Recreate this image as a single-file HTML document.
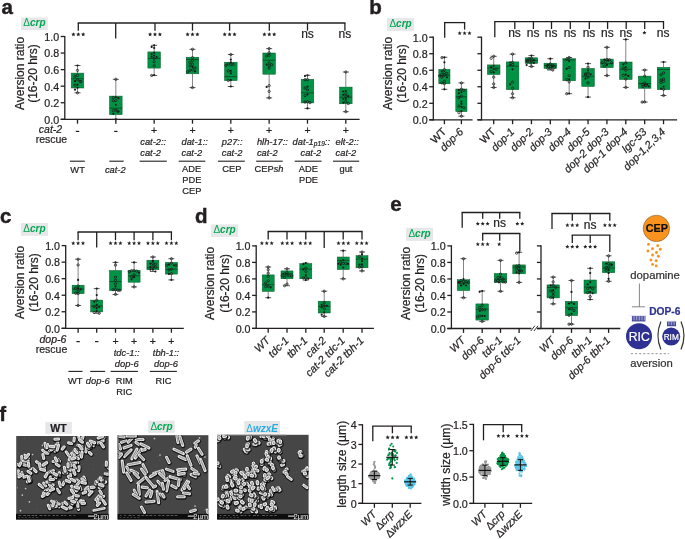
<!DOCTYPE html>
<html><head><meta charset="utf-8"><style>
html,body{margin:0;padding:0;background:#fff;}
svg{display:block;font-family:"Liberation Sans",sans-serif;will-change:transform;}
</style></head><body>
<svg width="685" height="539" viewBox="0 0 685 539">
<defs><filter id="semblur" x="-5%" y="-5%" width="110%" height="110%"><feGaussianBlur stdDeviation="0.35"/></filter></defs>
<text x="1.4" y="13.9" font-size="20.5" text-anchor="start" font-weight="bold" fill="#231f20" stroke="#231f20" stroke-width="0.45">a</text>
<rect x="21.1" y="17.5" width="26.6" height="12.6" fill="#e6e7e8"/>
<text x="34.4" y="26.3" font-size="10" text-anchor="middle" font-weight="bold" fill="#00a651"><tspan font-style="normal" font-weight="normal">&#916;</tspan><tspan font-style="italic">crp</tspan></text>
<text transform="translate(23.6,73.5) rotate(-90)" font-size="12" text-anchor="middle" fill="#231f20" stroke="#231f20" stroke-width="0.22">Aversion ratio</text>
<text transform="translate(37.2,73.5) rotate(-90)" font-size="12" text-anchor="middle" fill="#231f20" stroke="#231f20" stroke-width="0.22">(16-20 hrs)</text>
<line x1="64.8" y1="35.9" x2="64.8" y2="119.9" stroke="#231f20" stroke-width="1.3"/>
<line x1="60.7" y1="119.3" x2="64.8" y2="119.3" stroke="#231f20" stroke-width="1.3"/>
<text x="59.1" y="123.65" font-size="10.7" text-anchor="end" fill="#231f20" stroke="#231f20" stroke-width="0.22">0.0</text>
<line x1="60.7" y1="102.74" x2="64.8" y2="102.74" stroke="#231f20" stroke-width="1.3"/>
<text x="59.1" y="107.09" font-size="10.7" text-anchor="end" fill="#231f20" stroke="#231f20" stroke-width="0.22">0.2</text>
<line x1="60.7" y1="86.18" x2="64.8" y2="86.18" stroke="#231f20" stroke-width="1.3"/>
<text x="59.1" y="90.53" font-size="10.7" text-anchor="end" fill="#231f20" stroke="#231f20" stroke-width="0.22">0.4</text>
<line x1="60.7" y1="69.62" x2="64.8" y2="69.62" stroke="#231f20" stroke-width="1.3"/>
<text x="59.1" y="73.97" font-size="10.7" text-anchor="end" fill="#231f20" stroke="#231f20" stroke-width="0.22">0.6</text>
<line x1="60.7" y1="53.06" x2="64.8" y2="53.06" stroke="#231f20" stroke-width="1.3"/>
<text x="59.1" y="57.41" font-size="10.7" text-anchor="end" fill="#231f20" stroke="#231f20" stroke-width="0.22">0.8</text>
<line x1="60.7" y1="36.5" x2="64.8" y2="36.5" stroke="#231f20" stroke-width="1.3"/>
<text x="59.1" y="40.85" font-size="10.7" text-anchor="end" fill="#231f20" stroke="#231f20" stroke-width="0.22">1.0</text>
<line x1="60.7" y1="119.3" x2="359.6" y2="119.3" stroke="#231f20" stroke-width="1.3"/>
<line x1="77.5" y1="119.3" x2="77.5" y2="123.7" stroke="#231f20" stroke-width="1.3"/>
<line x1="115.83" y1="119.3" x2="115.83" y2="123.7" stroke="#231f20" stroke-width="1.3"/>
<line x1="154.16" y1="119.3" x2="154.16" y2="123.7" stroke="#231f20" stroke-width="1.3"/>
<line x1="192.49" y1="119.3" x2="192.49" y2="123.7" stroke="#231f20" stroke-width="1.3"/>
<line x1="230.82" y1="119.3" x2="230.82" y2="123.7" stroke="#231f20" stroke-width="1.3"/>
<line x1="269.15" y1="119.3" x2="269.15" y2="123.7" stroke="#231f20" stroke-width="1.3"/>
<line x1="307.48" y1="119.3" x2="307.48" y2="123.7" stroke="#231f20" stroke-width="1.3"/>
<line x1="345.81" y1="119.3" x2="345.81" y2="123.7" stroke="#231f20" stroke-width="1.3"/>
<line x1="77.5" y1="65.5" x2="77.5" y2="73.1" stroke="#333" stroke-width="0.6"/>
<line x1="77.5" y1="88" x2="77.5" y2="92.8" stroke="#333" stroke-width="0.6"/>
<line x1="74.5" y1="65.5" x2="80.5" y2="65.5" stroke="#333" stroke-width="0.8"/>
<line x1="74.5" y1="92.8" x2="80.5" y2="92.8" stroke="#333" stroke-width="0.8"/>
<rect x="71.2" y="73.1" width="12.6" height="14.9" fill="#009245" stroke="#0a5a2a" stroke-width="0.5"/>
<line x1="71.2" y1="78.8" x2="83.8" y2="78.8" stroke="#0a3a1a" stroke-width="0.7"/>
<circle cx="77.5" cy="65.5" r="1.1" fill="#1a1a1a"/>
<circle cx="77.5" cy="70.4" r="1.15" fill="none" stroke="#1a1a1a" stroke-width="0.75"/>
<circle cx="77.5" cy="75.43" r="1.15" fill="none" stroke="#1a1a1a" stroke-width="0.75"/>
<circle cx="75" cy="76.25" r="1.15" fill="none" stroke="#1a1a1a" stroke-width="0.75"/>
<circle cx="77.5" cy="79.74" r="1.15" fill="none" stroke="#1a1a1a" stroke-width="0.75"/>
<circle cx="75" cy="81.17" r="1.1" fill="#1a1a1a"/>
<circle cx="80" cy="81.49" r="1.15" fill="none" stroke="#1a1a1a" stroke-width="0.75"/>
<circle cx="80.86" cy="81.64" r="1.15" fill="none" stroke="#1a1a1a" stroke-width="0.75"/>
<circle cx="77.5" cy="84.65" r="1.1" fill="#1a1a1a"/>
<circle cx="75" cy="85.12" r="1.15" fill="none" stroke="#1a1a1a" stroke-width="0.75"/>
<circle cx="77.5" cy="87.84" r="1.1" fill="#1a1a1a"/>
<circle cx="75" cy="89.64" r="1.1" fill="#1a1a1a"/>
<circle cx="77.5" cy="92.8" r="1.15" fill="none" stroke="#1a1a1a" stroke-width="0.75"/>
<line x1="115.83" y1="79.3" x2="115.83" y2="96.1" stroke="#333" stroke-width="0.6"/>
<line x1="115.83" y1="114.7" x2="115.83" y2="119.3" stroke="#333" stroke-width="0.6"/>
<line x1="112.83" y1="79.3" x2="118.83" y2="79.3" stroke="#333" stroke-width="0.8"/>
<line x1="112.83" y1="119.3" x2="118.83" y2="119.3" stroke="#333" stroke-width="0.8"/>
<rect x="109.53" y="96.1" width="12.6" height="18.6" fill="#009245" stroke="#0a5a2a" stroke-width="0.5"/>
<line x1="109.53" y1="108.2" x2="122.13" y2="108.2" stroke="#0a3a1a" stroke-width="0.7"/>
<circle cx="115.83" cy="79.3" r="1.15" fill="none" stroke="#1a1a1a" stroke-width="0.75"/>
<circle cx="115.83" cy="97.24" r="1.1" fill="#1a1a1a"/>
<circle cx="113.33" cy="97.56" r="1.15" fill="none" stroke="#1a1a1a" stroke-width="0.75"/>
<circle cx="118.33" cy="98.14" r="1.1" fill="#1a1a1a"/>
<circle cx="115.83" cy="100.44" r="1.15" fill="none" stroke="#1a1a1a" stroke-width="0.75"/>
<circle cx="113.33" cy="100.74" r="1.15" fill="none" stroke="#1a1a1a" stroke-width="0.75"/>
<circle cx="115.83" cy="104.73" r="1.1" fill="#1a1a1a"/>
<circle cx="115.83" cy="110.06" r="1.15" fill="none" stroke="#1a1a1a" stroke-width="0.75"/>
<circle cx="113.33" cy="110.68" r="1.15" fill="none" stroke="#1a1a1a" stroke-width="0.75"/>
<circle cx="118.33" cy="111.48" r="1.1" fill="#1a1a1a"/>
<circle cx="117.75" cy="111.51" r="1.15" fill="none" stroke="#1a1a1a" stroke-width="0.75"/>
<circle cx="113.33" cy="113.74" r="1.1" fill="#1a1a1a"/>
<circle cx="115.83" cy="119.3" r="1.1" fill="#1a1a1a"/>
<line x1="154.16" y1="45.3" x2="154.16" y2="51.9" stroke="#333" stroke-width="0.6"/>
<line x1="154.16" y1="68.1" x2="154.16" y2="75.5" stroke="#333" stroke-width="0.6"/>
<line x1="151.16" y1="45.3" x2="157.16" y2="45.3" stroke="#333" stroke-width="0.8"/>
<line x1="151.16" y1="75.5" x2="157.16" y2="75.5" stroke="#333" stroke-width="0.8"/>
<rect x="147.86" y="51.9" width="12.6" height="16.2" fill="#009245" stroke="#0a5a2a" stroke-width="0.5"/>
<line x1="147.86" y1="58.5" x2="160.46" y2="58.5" stroke="#0a3a1a" stroke-width="0.7"/>
<circle cx="154.16" cy="45.3" r="1.1" fill="#1a1a1a"/>
<circle cx="151.66" cy="46.89" r="1.1" fill="#1a1a1a"/>
<circle cx="154.16" cy="47.98" r="1.1" fill="#1a1a1a"/>
<circle cx="154.16" cy="52.75" r="1.1" fill="#1a1a1a"/>
<circle cx="151.66" cy="54.07" r="1.1" fill="#1a1a1a"/>
<circle cx="154.16" cy="55.5" r="1.1" fill="#1a1a1a"/>
<circle cx="151.66" cy="56.64" r="1.1" fill="#1a1a1a"/>
<circle cx="156.66" cy="57" r="1.1" fill="#1a1a1a"/>
<circle cx="154.16" cy="58.38" r="1.15" fill="none" stroke="#1a1a1a" stroke-width="0.75"/>
<circle cx="154.16" cy="61.79" r="1.15" fill="none" stroke="#1a1a1a" stroke-width="0.75"/>
<circle cx="154.16" cy="65.8" r="1.15" fill="none" stroke="#1a1a1a" stroke-width="0.75"/>
<circle cx="154.16" cy="75.03" r="1.1" fill="#1a1a1a"/>
<circle cx="151.66" cy="75.5" r="1.15" fill="none" stroke="#1a1a1a" stroke-width="0.75"/>
<line x1="192.49" y1="49.3" x2="192.49" y2="57.2" stroke="#333" stroke-width="0.6"/>
<line x1="192.49" y1="73.8" x2="192.49" y2="87.6" stroke="#333" stroke-width="0.6"/>
<line x1="189.49" y1="49.3" x2="195.49" y2="49.3" stroke="#333" stroke-width="0.8"/>
<line x1="189.49" y1="87.6" x2="195.49" y2="87.6" stroke="#333" stroke-width="0.8"/>
<rect x="186.19" y="57.2" width="12.6" height="16.6" fill="#009245" stroke="#0a5a2a" stroke-width="0.5"/>
<line x1="186.19" y1="59.6" x2="198.79" y2="59.6" stroke="#0a3a1a" stroke-width="0.7"/>
<circle cx="192.49" cy="49.3" r="1.15" fill="none" stroke="#1a1a1a" stroke-width="0.75"/>
<circle cx="192.49" cy="57.61" r="1.15" fill="none" stroke="#1a1a1a" stroke-width="0.75"/>
<circle cx="192.49" cy="60.64" r="1.15" fill="none" stroke="#1a1a1a" stroke-width="0.75"/>
<circle cx="189.99" cy="62.44" r="1.15" fill="none" stroke="#1a1a1a" stroke-width="0.75"/>
<circle cx="192.49" cy="64.28" r="1.15" fill="none" stroke="#1a1a1a" stroke-width="0.75"/>
<circle cx="189.99" cy="65.93" r="1.15" fill="none" stroke="#1a1a1a" stroke-width="0.75"/>
<circle cx="192.49" cy="66.85" r="1.1" fill="#1a1a1a"/>
<circle cx="194.99" cy="68.07" r="1.15" fill="none" stroke="#1a1a1a" stroke-width="0.75"/>
<circle cx="192.49" cy="69.86" r="1.15" fill="none" stroke="#1a1a1a" stroke-width="0.75"/>
<circle cx="189.99" cy="70.2" r="1.15" fill="none" stroke="#1a1a1a" stroke-width="0.75"/>
<circle cx="194.99" cy="71.41" r="1.1" fill="#1a1a1a"/>
<circle cx="187.69" cy="71.82" r="1.15" fill="none" stroke="#1a1a1a" stroke-width="0.75"/>
<circle cx="192.49" cy="87.6" r="1.15" fill="none" stroke="#1a1a1a" stroke-width="0.75"/>
<line x1="230.82" y1="54.5" x2="230.82" y2="62.2" stroke="#333" stroke-width="0.6"/>
<line x1="230.82" y1="80.6" x2="230.82" y2="86.5" stroke="#333" stroke-width="0.6"/>
<line x1="227.82" y1="54.5" x2="233.82" y2="54.5" stroke="#333" stroke-width="0.8"/>
<line x1="227.82" y1="86.5" x2="233.82" y2="86.5" stroke="#333" stroke-width="0.8"/>
<rect x="224.52" y="62.2" width="12.6" height="18.4" fill="#009245" stroke="#0a5a2a" stroke-width="0.5"/>
<line x1="224.52" y1="76.6" x2="237.12" y2="76.6" stroke="#0a3a1a" stroke-width="0.7"/>
<circle cx="230.82" cy="54.5" r="1.15" fill="none" stroke="#1a1a1a" stroke-width="0.75"/>
<circle cx="230.82" cy="59.53" r="1.1" fill="#1a1a1a"/>
<circle cx="230.82" cy="62.42" r="1.1" fill="#1a1a1a"/>
<circle cx="228.32" cy="63.88" r="1.15" fill="none" stroke="#1a1a1a" stroke-width="0.75"/>
<circle cx="233.32" cy="64.35" r="1.15" fill="none" stroke="#1a1a1a" stroke-width="0.75"/>
<circle cx="230.82" cy="64.72" r="1.15" fill="none" stroke="#1a1a1a" stroke-width="0.75"/>
<circle cx="226.02" cy="65.36" r="1.15" fill="none" stroke="#1a1a1a" stroke-width="0.75"/>
<circle cx="230.82" cy="70.86" r="1.1" fill="#1a1a1a"/>
<circle cx="228.32" cy="70.91" r="1.15" fill="none" stroke="#1a1a1a" stroke-width="0.75"/>
<circle cx="230.82" cy="73.39" r="1.1" fill="#1a1a1a"/>
<circle cx="230.82" cy="80.09" r="1.1" fill="#1a1a1a"/>
<circle cx="228.32" cy="80.47" r="1.15" fill="none" stroke="#1a1a1a" stroke-width="0.75"/>
<circle cx="230.82" cy="86.5" r="1.1" fill="#1a1a1a"/>
<line x1="269.15" y1="48.6" x2="269.15" y2="53" stroke="#333" stroke-width="0.6"/>
<line x1="269.15" y1="74.2" x2="269.15" y2="97.9" stroke="#333" stroke-width="0.6"/>
<line x1="266.15" y1="48.6" x2="272.15" y2="48.6" stroke="#333" stroke-width="0.8"/>
<line x1="266.15" y1="97.9" x2="272.15" y2="97.9" stroke="#333" stroke-width="0.8"/>
<rect x="262.85" y="53" width="12.6" height="21.2" fill="#009245" stroke="#0a5a2a" stroke-width="0.5"/>
<line x1="262.85" y1="60.2" x2="275.45" y2="60.2" stroke="#0a3a1a" stroke-width="0.7"/>
<circle cx="269.15" cy="48.6" r="1.15" fill="none" stroke="#1a1a1a" stroke-width="0.75"/>
<circle cx="269.15" cy="52.7" r="1.15" fill="none" stroke="#1a1a1a" stroke-width="0.75"/>
<circle cx="269.15" cy="55.33" r="1.15" fill="none" stroke="#1a1a1a" stroke-width="0.75"/>
<circle cx="266.65" cy="56.01" r="1.15" fill="none" stroke="#1a1a1a" stroke-width="0.75"/>
<circle cx="269.15" cy="62.75" r="1.15" fill="none" stroke="#1a1a1a" stroke-width="0.75"/>
<circle cx="266.65" cy="64.57" r="1.1" fill="#1a1a1a"/>
<circle cx="271.65" cy="64.78" r="1.15" fill="none" stroke="#1a1a1a" stroke-width="0.75"/>
<circle cx="269.15" cy="65.75" r="1.15" fill="none" stroke="#1a1a1a" stroke-width="0.75"/>
<circle cx="269.15" cy="68.16" r="1.15" fill="none" stroke="#1a1a1a" stroke-width="0.75"/>
<circle cx="269.15" cy="85.65" r="1.15" fill="none" stroke="#1a1a1a" stroke-width="0.75"/>
<circle cx="266.65" cy="86.91" r="1.1" fill="#1a1a1a"/>
<circle cx="269.15" cy="91.38" r="1.15" fill="none" stroke="#1a1a1a" stroke-width="0.75"/>
<circle cx="269.15" cy="97.9" r="1.15" fill="none" stroke="#1a1a1a" stroke-width="0.75"/>
<line x1="307.48" y1="75.3" x2="307.48" y2="79.3" stroke="#333" stroke-width="0.6"/>
<line x1="307.48" y1="102.9" x2="307.48" y2="108.4" stroke="#333" stroke-width="0.6"/>
<line x1="304.48" y1="75.3" x2="310.48" y2="75.3" stroke="#333" stroke-width="0.8"/>
<line x1="304.48" y1="108.4" x2="310.48" y2="108.4" stroke="#333" stroke-width="0.8"/>
<rect x="301.18" y="79.3" width="12.6" height="23.6" fill="#009245" stroke="#0a5a2a" stroke-width="0.5"/>
<line x1="301.18" y1="92.8" x2="313.78" y2="92.8" stroke="#0a3a1a" stroke-width="0.7"/>
<circle cx="307.48" cy="75.3" r="1.1" fill="#1a1a1a"/>
<circle cx="304.98" cy="76.1" r="1.1" fill="#1a1a1a"/>
<circle cx="307.48" cy="79.6" r="1.15" fill="none" stroke="#1a1a1a" stroke-width="0.75"/>
<circle cx="304.98" cy="79.67" r="1.15" fill="none" stroke="#1a1a1a" stroke-width="0.75"/>
<circle cx="307.48" cy="86.71" r="1.1" fill="#1a1a1a"/>
<circle cx="304.98" cy="88" r="1.15" fill="none" stroke="#1a1a1a" stroke-width="0.75"/>
<circle cx="307.48" cy="89.93" r="1.15" fill="none" stroke="#1a1a1a" stroke-width="0.75"/>
<circle cx="307.48" cy="94.47" r="1.1" fill="#1a1a1a"/>
<circle cx="304.98" cy="95.65" r="1.15" fill="none" stroke="#1a1a1a" stroke-width="0.75"/>
<circle cx="307.48" cy="101.66" r="1.15" fill="none" stroke="#1a1a1a" stroke-width="0.75"/>
<circle cx="304.98" cy="102.06" r="1.15" fill="none" stroke="#1a1a1a" stroke-width="0.75"/>
<circle cx="309.98" cy="102.65" r="1.15" fill="none" stroke="#1a1a1a" stroke-width="0.75"/>
<circle cx="307.48" cy="108.4" r="1.1" fill="#1a1a1a"/>
<line x1="345.81" y1="72" x2="345.81" y2="87.1" stroke="#333" stroke-width="0.6"/>
<line x1="345.81" y1="103.8" x2="345.81" y2="111.7" stroke="#333" stroke-width="0.6"/>
<line x1="342.81" y1="72" x2="348.81" y2="72" stroke="#333" stroke-width="0.8"/>
<line x1="342.81" y1="111.7" x2="348.81" y2="111.7" stroke="#333" stroke-width="0.8"/>
<rect x="339.51" y="87.1" width="12.6" height="16.7" fill="#009245" stroke="#0a5a2a" stroke-width="0.5"/>
<line x1="339.51" y1="97.2" x2="352.11" y2="97.2" stroke="#0a3a1a" stroke-width="0.7"/>
<circle cx="345.81" cy="72" r="1.15" fill="none" stroke="#1a1a1a" stroke-width="0.75"/>
<circle cx="345.81" cy="91.05" r="1.1" fill="#1a1a1a"/>
<circle cx="343.31" cy="91.49" r="1.1" fill="#1a1a1a"/>
<circle cx="345.81" cy="93.9" r="1.15" fill="none" stroke="#1a1a1a" stroke-width="0.75"/>
<circle cx="343.31" cy="94.81" r="1.1" fill="#1a1a1a"/>
<circle cx="348.31" cy="96.2" r="1.1" fill="#1a1a1a"/>
<circle cx="345.81" cy="96.48" r="1.15" fill="none" stroke="#1a1a1a" stroke-width="0.75"/>
<circle cx="345.81" cy="98.8" r="1.1" fill="#1a1a1a"/>
<circle cx="343.31" cy="99" r="1.1" fill="#1a1a1a"/>
<circle cx="345.81" cy="101.62" r="1.15" fill="none" stroke="#1a1a1a" stroke-width="0.75"/>
<circle cx="343.31" cy="102.68" r="1.1" fill="#1a1a1a"/>
<circle cx="348.31" cy="103.54" r="1.15" fill="none" stroke="#1a1a1a" stroke-width="0.75"/>
<circle cx="345.81" cy="111.7" r="1.15" fill="none" stroke="#1a1a1a" stroke-width="0.75"/>
<line x1="77.7" y1="23" x2="345.5" y2="23" stroke="#231f20" stroke-width="1.3"/>
<line x1="78.3" y1="23" x2="78.3" y2="30.7" stroke="#231f20" stroke-width="1.3"/>
<line x1="115.7" y1="23" x2="115.7" y2="38.5" stroke="#231f20" stroke-width="1.3"/>
<line x1="155" y1="23" x2="155" y2="30.7" stroke="#231f20" stroke-width="1.3"/>
<line x1="192.5" y1="23" x2="192.5" y2="30.7" stroke="#231f20" stroke-width="1.3"/>
<line x1="229.6" y1="23" x2="229.6" y2="30.7" stroke="#231f20" stroke-width="1.3"/>
<line x1="269.3" y1="23" x2="269.3" y2="30.7" stroke="#231f20" stroke-width="1.3"/>
<line x1="307.5" y1="23" x2="307.5" y2="30.7" stroke="#231f20" stroke-width="1.3"/>
<line x1="344.9" y1="23" x2="344.9" y2="30.7" stroke="#231f20" stroke-width="1.3"/>
<polygon points="73.4,32.2 73.98,33.6 75.49,33.72 74.34,34.71 74.69,36.18 73.4,35.39 72.11,36.18 72.46,34.71 71.31,33.72 72.82,33.6" fill="#231f20"/>
<polygon points="78.3,32.2 78.88,33.6 80.39,33.72 79.24,34.71 79.59,36.18 78.3,35.39 77.01,36.18 77.36,34.71 76.21,33.72 77.72,33.6" fill="#231f20"/>
<polygon points="83.2,32.2 83.78,33.6 85.29,33.72 84.14,34.71 84.49,36.18 83.2,35.39 81.91,36.18 82.26,34.71 81.11,33.72 82.62,33.6" fill="#231f20"/>
<polygon points="150.1,32.2 150.68,33.6 152.19,33.72 151.04,34.71 151.39,36.18 150.1,35.39 148.81,36.18 149.16,34.71 148.01,33.72 149.52,33.6" fill="#231f20"/>
<polygon points="155,32.2 155.58,33.6 157.09,33.72 155.94,34.71 156.29,36.18 155,35.39 153.71,36.18 154.06,34.71 152.91,33.72 154.42,33.6" fill="#231f20"/>
<polygon points="159.9,32.2 160.48,33.6 161.99,33.72 160.84,34.71 161.19,36.18 159.9,35.39 158.61,36.18 158.96,34.71 157.81,33.72 159.32,33.6" fill="#231f20"/>
<polygon points="187.6,32.2 188.18,33.6 189.69,33.72 188.54,34.71 188.89,36.18 187.6,35.39 186.31,36.18 186.66,34.71 185.51,33.72 187.02,33.6" fill="#231f20"/>
<polygon points="192.5,32.2 193.08,33.6 194.59,33.72 193.44,34.71 193.79,36.18 192.5,35.39 191.21,36.18 191.56,34.71 190.41,33.72 191.92,33.6" fill="#231f20"/>
<polygon points="197.4,32.2 197.98,33.6 199.49,33.72 198.34,34.71 198.69,36.18 197.4,35.39 196.11,36.18 196.46,34.71 195.31,33.72 196.82,33.6" fill="#231f20"/>
<polygon points="224.7,32.2 225.28,33.6 226.79,33.72 225.64,34.71 225.99,36.18 224.7,35.39 223.41,36.18 223.76,34.71 222.61,33.72 224.12,33.6" fill="#231f20"/>
<polygon points="229.6,32.2 230.18,33.6 231.69,33.72 230.54,34.71 230.89,36.18 229.6,35.39 228.31,36.18 228.66,34.71 227.51,33.72 229.02,33.6" fill="#231f20"/>
<polygon points="234.5,32.2 235.08,33.6 236.59,33.72 235.44,34.71 235.79,36.18 234.5,35.39 233.21,36.18 233.56,34.71 232.41,33.72 233.92,33.6" fill="#231f20"/>
<polygon points="264.4,32.2 264.98,33.6 266.49,33.72 265.34,34.71 265.69,36.18 264.4,35.39 263.11,36.18 263.46,34.71 262.31,33.72 263.82,33.6" fill="#231f20"/>
<polygon points="269.3,32.2 269.88,33.6 271.39,33.72 270.24,34.71 270.59,36.18 269.3,35.39 268.01,36.18 268.36,34.71 267.21,33.72 268.72,33.6" fill="#231f20"/>
<polygon points="274.2,32.2 274.78,33.6 276.29,33.72 275.14,34.71 275.49,36.18 274.2,35.39 272.91,36.18 273.26,34.71 272.11,33.72 273.62,33.6" fill="#231f20"/>
<text x="307.5" y="38.1" font-size="12" text-anchor="middle" fill="#231f20" stroke="#231f20" stroke-width="0.22">ns</text>
<text x="344.9" y="38.1" font-size="12" text-anchor="middle" fill="#231f20" stroke="#231f20" stroke-width="0.22">ns</text>
<text x="50.5" y="133.4" font-size="10.5" text-anchor="middle" font-style="italic" fill="#231f20" stroke="#231f20" stroke-width="0.22">cat-2</text>
<text x="51.4" y="142.7" font-size="10.5" text-anchor="middle" fill="#231f20" stroke="#231f20" stroke-width="0.22">rescue</text>
<line x1="75.8" y1="131.4" x2="79.2" y2="131.4" stroke="#231f20" stroke-width="1.2"/>
<line x1="114.13" y1="131.4" x2="117.53" y2="131.4" stroke="#231f20" stroke-width="1.2"/>
<text x="154.16" y="134.3" font-size="10.5" text-anchor="middle" fill="#231f20" stroke="#231f20" stroke-width="0.22">+</text>
<text x="192.49" y="134.3" font-size="10.5" text-anchor="middle" fill="#231f20" stroke="#231f20" stroke-width="0.22">+</text>
<text x="230.82" y="134.3" font-size="10.5" text-anchor="middle" fill="#231f20" stroke="#231f20" stroke-width="0.22">+</text>
<text x="269.15" y="134.3" font-size="10.5" text-anchor="middle" fill="#231f20" stroke="#231f20" stroke-width="0.22">+</text>
<text x="307.48" y="134.3" font-size="10.5" text-anchor="middle" fill="#231f20" stroke="#231f20" stroke-width="0.22">+</text>
<text x="345.81" y="134.3" font-size="10.5" text-anchor="middle" fill="#231f20" stroke="#231f20" stroke-width="0.22">+</text>
<text x="140.3" y="145.1" font-size="9.3" text-anchor="start" font-style="italic" fill="#231f20" stroke="#231f20" stroke-width="0.22">cat-2::</text>
<text x="140.3" y="156.4" font-size="9.3" text-anchor="start" font-style="italic" fill="#231f20" stroke="#231f20" stroke-width="0.22">cat-2</text>
<text x="181.5" y="145.1" font-size="9.3" text-anchor="start" font-style="italic" fill="#231f20" stroke="#231f20" stroke-width="0.22">dat-1::</text>
<text x="181.5" y="156.4" font-size="9.3" text-anchor="start" font-style="italic" fill="#231f20" stroke="#231f20" stroke-width="0.22">cat-2</text>
<text x="221.8" y="145.1" font-size="9.3" text-anchor="start" font-style="italic" fill="#231f20" stroke="#231f20" stroke-width="0.22">p27::</text>
<text x="221.8" y="156.4" font-size="9.3" text-anchor="start" font-style="italic" fill="#231f20" stroke="#231f20" stroke-width="0.22">cat-2</text>
<text x="256.9" y="145.1" font-size="9.3" text-anchor="start" font-style="italic" fill="#231f20" stroke="#231f20" stroke-width="0.22">hlh-17::</text>
<text x="256.9" y="156.4" font-size="9.3" text-anchor="start" font-style="italic" fill="#231f20" stroke="#231f20" stroke-width="0.22">cat-2</text>
<text x="292.6" y="145.1" font-size="9.3" text-anchor="start" font-style="italic" fill="#231f20" stroke="#231f20" stroke-width="0.22">dat-1<tspan font-size="6.6" dy="0.6">p19</tspan><tspan dy="-0.6">::</tspan></text>
<text x="300.5" y="156.4" font-size="9.3" text-anchor="start" font-style="italic" fill="#231f20" stroke="#231f20" stroke-width="0.22">cat-2</text>
<text x="335.6" y="145.1" font-size="9.3" text-anchor="start" font-style="italic" fill="#231f20" stroke="#231f20" stroke-width="0.22">elt-2::</text>
<text x="335.6" y="156.4" font-size="9.3" text-anchor="start" font-style="italic" fill="#231f20" stroke="#231f20" stroke-width="0.22">cat-2</text>
<line x1="69.9" y1="161.2" x2="84.8" y2="161.2" stroke="#231f20" stroke-width="1.1"/>
<line x1="109.3" y1="161.2" x2="123.7" y2="161.2" stroke="#231f20" stroke-width="1.1"/>
<line x1="139.6" y1="161.2" x2="166.8" y2="161.2" stroke="#231f20" stroke-width="1.1"/>
<line x1="178.7" y1="161.2" x2="205.3" y2="161.2" stroke="#231f20" stroke-width="1.1"/>
<line x1="218" y1="161.2" x2="244.8" y2="161.2" stroke="#231f20" stroke-width="1.1"/>
<line x1="256.1" y1="161.2" x2="282.7" y2="161.2" stroke="#231f20" stroke-width="1.1"/>
<line x1="294.7" y1="161.2" x2="321.6" y2="161.2" stroke="#231f20" stroke-width="1.1"/>
<line x1="333" y1="161.2" x2="359.2" y2="161.2" stroke="#231f20" stroke-width="1.1"/>
<text x="77.6" y="172.8" font-size="9.3" text-anchor="middle" fill="#231f20" stroke="#231f20" stroke-width="0.22">WT</text>
<text x="115.3" y="172.8" font-size="9.3" text-anchor="middle" font-style="italic" fill="#231f20" stroke="#231f20" stroke-width="0.22">cat-2</text>
<text x="191.6" y="172" font-size="9.3" text-anchor="middle" fill="#231f20" stroke="#231f20" stroke-width="0.22">ADE</text>
<text x="191.8" y="182.6" font-size="9.3" text-anchor="middle" fill="#231f20" stroke="#231f20" stroke-width="0.22">PDE</text>
<text x="191.8" y="194.2" font-size="9.3" text-anchor="middle" fill="#231f20" stroke="#231f20" stroke-width="0.22">CEP</text>
<text x="231.9" y="172" font-size="9.3" text-anchor="middle" fill="#231f20" stroke="#231f20" stroke-width="0.22">CEP</text>
<text x="254.6" y="172" font-size="9.3" fill="#231f20" stroke="#231f20" stroke-width="0.22">CEP<tspan font-style="italic">sh</tspan></text>
<text x="308.3" y="172" font-size="9.3" text-anchor="middle" fill="#231f20" stroke="#231f20" stroke-width="0.22">ADE</text>
<text x="308.5" y="182.6" font-size="9.3" text-anchor="middle" fill="#231f20" stroke="#231f20" stroke-width="0.22">PDE</text>
<text x="346" y="172" font-size="9.3" text-anchor="middle" fill="#231f20" stroke="#231f20" stroke-width="0.22">gut</text>
<text x="369.3" y="13.8" font-size="20.5" text-anchor="start" font-weight="bold" fill="#231f20" stroke="#231f20" stroke-width="0.45">b</text>
<rect x="387" y="18.1" width="27.1" height="12.8" fill="#e6e7e8"/>
<text x="400.55" y="27.1" font-size="10" text-anchor="middle" font-weight="bold" fill="#00a651"><tspan font-style="normal" font-weight="normal">&#916;</tspan><tspan font-style="italic">crp</tspan></text>
<text transform="translate(391.6,73.5) rotate(-90)" font-size="12" text-anchor="middle" fill="#231f20" stroke="#231f20" stroke-width="0.22">Aversion ratio</text>
<text transform="translate(405.9,73.5) rotate(-90)" font-size="12" text-anchor="middle" fill="#231f20" stroke="#231f20" stroke-width="0.22">(16-20 hrs)</text>
<line x1="433.3" y1="36.6" x2="433.3" y2="120.4" stroke="#231f20" stroke-width="1.3"/>
<line x1="429.2" y1="119.8" x2="433.3" y2="119.8" stroke="#231f20" stroke-width="1.3"/>
<text x="427.6" y="124.15" font-size="10.7" text-anchor="end" fill="#231f20" stroke="#231f20" stroke-width="0.22">0.0</text>
<line x1="429.2" y1="103.28" x2="433.3" y2="103.28" stroke="#231f20" stroke-width="1.3"/>
<text x="427.6" y="107.63" font-size="10.7" text-anchor="end" fill="#231f20" stroke="#231f20" stroke-width="0.22">0.2</text>
<line x1="429.2" y1="86.76" x2="433.3" y2="86.76" stroke="#231f20" stroke-width="1.3"/>
<text x="427.6" y="91.11" font-size="10.7" text-anchor="end" fill="#231f20" stroke="#231f20" stroke-width="0.22">0.4</text>
<line x1="429.2" y1="70.24" x2="433.3" y2="70.24" stroke="#231f20" stroke-width="1.3"/>
<text x="427.6" y="74.59" font-size="10.7" text-anchor="end" fill="#231f20" stroke="#231f20" stroke-width="0.22">0.6</text>
<line x1="429.2" y1="53.72" x2="433.3" y2="53.72" stroke="#231f20" stroke-width="1.3"/>
<text x="427.6" y="58.07" font-size="10.7" text-anchor="end" fill="#231f20" stroke="#231f20" stroke-width="0.22">0.8</text>
<line x1="429.2" y1="37.2" x2="433.3" y2="37.2" stroke="#231f20" stroke-width="1.3"/>
<text x="427.6" y="41.55" font-size="10.7" text-anchor="end" fill="#231f20" stroke="#231f20" stroke-width="0.22">1.0</text>
<line x1="481.5" y1="36.6" x2="481.5" y2="120.4" stroke="#231f20" stroke-width="1.3"/>
<line x1="477.4" y1="119.8" x2="481.5" y2="119.8" stroke="#231f20" stroke-width="1.3"/>
<line x1="477.4" y1="103.28" x2="481.5" y2="103.28" stroke="#231f20" stroke-width="1.3"/>
<line x1="477.4" y1="86.76" x2="481.5" y2="86.76" stroke="#231f20" stroke-width="1.3"/>
<line x1="477.4" y1="70.24" x2="481.5" y2="70.24" stroke="#231f20" stroke-width="1.3"/>
<line x1="477.4" y1="53.72" x2="481.5" y2="53.72" stroke="#231f20" stroke-width="1.3"/>
<line x1="477.4" y1="37.2" x2="481.5" y2="37.2" stroke="#231f20" stroke-width="1.3"/>
<line x1="429.2" y1="119.8" x2="472.6" y2="119.8" stroke="#231f20" stroke-width="1.3"/>
<line x1="444.4" y1="119.8" x2="444.4" y2="124.2" stroke="#231f20" stroke-width="1.3"/>
<line x1="461.4" y1="119.8" x2="461.4" y2="124.2" stroke="#231f20" stroke-width="1.3"/>
<line x1="477.4" y1="119.8" x2="677.1" y2="119.8" stroke="#231f20" stroke-width="1.3"/>
<line x1="493.7" y1="119.8" x2="493.7" y2="124.2" stroke="#231f20" stroke-width="1.3"/>
<line x1="512.57" y1="119.8" x2="512.57" y2="124.2" stroke="#231f20" stroke-width="1.3"/>
<line x1="531.44" y1="119.8" x2="531.44" y2="124.2" stroke="#231f20" stroke-width="1.3"/>
<line x1="550.31" y1="119.8" x2="550.31" y2="124.2" stroke="#231f20" stroke-width="1.3"/>
<line x1="569.18" y1="119.8" x2="569.18" y2="124.2" stroke="#231f20" stroke-width="1.3"/>
<line x1="588.05" y1="119.8" x2="588.05" y2="124.2" stroke="#231f20" stroke-width="1.3"/>
<line x1="606.92" y1="119.8" x2="606.92" y2="124.2" stroke="#231f20" stroke-width="1.3"/>
<line x1="625.79" y1="119.8" x2="625.79" y2="124.2" stroke="#231f20" stroke-width="1.3"/>
<line x1="644.66" y1="119.8" x2="644.66" y2="124.2" stroke="#231f20" stroke-width="1.3"/>
<line x1="663.53" y1="119.8" x2="663.53" y2="124.2" stroke="#231f20" stroke-width="1.3"/>
<line x1="444.4" y1="57.3" x2="444.4" y2="69.3" stroke="#333" stroke-width="0.6"/>
<line x1="444.4" y1="83.8" x2="444.4" y2="89.3" stroke="#333" stroke-width="0.6"/>
<line x1="441.4" y1="57.3" x2="447.4" y2="57.3" stroke="#333" stroke-width="0.8"/>
<line x1="441.4" y1="89.3" x2="447.4" y2="89.3" stroke="#333" stroke-width="0.8"/>
<rect x="438.8" y="69.3" width="11.2" height="14.5" fill="#009245" stroke="#0a5a2a" stroke-width="0.5"/>
<line x1="438.8" y1="75.4" x2="450" y2="75.4" stroke="#0a3a1a" stroke-width="0.7"/>
<circle cx="444.4" cy="57.3" r="1.1" fill="#1a1a1a"/>
<circle cx="441.9" cy="57.65" r="1.15" fill="none" stroke="#1a1a1a" stroke-width="0.75"/>
<circle cx="444.4" cy="62.36" r="1.1" fill="#1a1a1a"/>
<circle cx="444.4" cy="69.62" r="1.15" fill="none" stroke="#1a1a1a" stroke-width="0.75"/>
<circle cx="441.9" cy="71.3" r="1.1" fill="#1a1a1a"/>
<circle cx="444.4" cy="72.61" r="1.15" fill="none" stroke="#1a1a1a" stroke-width="0.75"/>
<circle cx="446.9" cy="73.57" r="1.15" fill="none" stroke="#1a1a1a" stroke-width="0.75"/>
<circle cx="441.9" cy="74.52" r="1.15" fill="none" stroke="#1a1a1a" stroke-width="0.75"/>
<circle cx="444.4" cy="75.28" r="1.15" fill="none" stroke="#1a1a1a" stroke-width="0.75"/>
<circle cx="439.6" cy="75.76" r="1.15" fill="none" stroke="#1a1a1a" stroke-width="0.75"/>
<circle cx="441.9" cy="77.07" r="1.15" fill="none" stroke="#1a1a1a" stroke-width="0.75"/>
<circle cx="446.9" cy="77.25" r="1.1" fill="#1a1a1a"/>
<circle cx="444.4" cy="81.25" r="1.15" fill="none" stroke="#1a1a1a" stroke-width="0.75"/>
<circle cx="441.9" cy="82.87" r="1.15" fill="none" stroke="#1a1a1a" stroke-width="0.75"/>
<circle cx="444.4" cy="83.68" r="1.15" fill="none" stroke="#1a1a1a" stroke-width="0.75"/>
<circle cx="444.4" cy="89.3" r="1.1" fill="#1a1a1a"/>
<line x1="461.4" y1="82.9" x2="461.4" y2="89" stroke="#333" stroke-width="0.6"/>
<line x1="461.4" y1="111.6" x2="461.4" y2="116.2" stroke="#333" stroke-width="0.6"/>
<line x1="458.4" y1="82.9" x2="464.4" y2="82.9" stroke="#333" stroke-width="0.8"/>
<line x1="458.4" y1="116.2" x2="464.4" y2="116.2" stroke="#333" stroke-width="0.8"/>
<rect x="455.8" y="89" width="11.2" height="22.6" fill="#009245" stroke="#0a5a2a" stroke-width="0.5"/>
<line x1="455.8" y1="96.8" x2="467" y2="96.8" stroke="#0a3a1a" stroke-width="0.7"/>
<circle cx="461.4" cy="82.9" r="1.15" fill="none" stroke="#1a1a1a" stroke-width="0.75"/>
<circle cx="461.4" cy="89.16" r="1.15" fill="none" stroke="#1a1a1a" stroke-width="0.75"/>
<circle cx="458.9" cy="90.08" r="1.1" fill="#1a1a1a"/>
<circle cx="463.9" cy="90.43" r="1.15" fill="none" stroke="#1a1a1a" stroke-width="0.75"/>
<circle cx="461.4" cy="92.08" r="1.1" fill="#1a1a1a"/>
<circle cx="458.9" cy="93.3" r="1.1" fill="#1a1a1a"/>
<circle cx="461.4" cy="96.14" r="1.15" fill="none" stroke="#1a1a1a" stroke-width="0.75"/>
<circle cx="458.9" cy="97.76" r="1.15" fill="none" stroke="#1a1a1a" stroke-width="0.75"/>
<circle cx="461.4" cy="101.61" r="1.1" fill="#1a1a1a"/>
<circle cx="461.4" cy="103.93" r="1.1" fill="#1a1a1a"/>
<circle cx="458.9" cy="106.15" r="1.15" fill="none" stroke="#1a1a1a" stroke-width="0.75"/>
<circle cx="461.4" cy="106.85" r="1.1" fill="#1a1a1a"/>
<circle cx="463.9" cy="107.78" r="1.15" fill="none" stroke="#1a1a1a" stroke-width="0.75"/>
<circle cx="461.4" cy="111.17" r="1.1" fill="#1a1a1a"/>
<circle cx="458.9" cy="112.68" r="1.15" fill="none" stroke="#1a1a1a" stroke-width="0.75"/>
<circle cx="461.4" cy="116.2" r="1.15" fill="none" stroke="#1a1a1a" stroke-width="0.75"/>
<line x1="493.7" y1="56.3" x2="493.7" y2="64.9" stroke="#333" stroke-width="0.6"/>
<line x1="493.7" y1="74.5" x2="493.7" y2="87.5" stroke="#333" stroke-width="0.6"/>
<line x1="490.7" y1="56.3" x2="496.7" y2="56.3" stroke="#333" stroke-width="0.8"/>
<line x1="490.7" y1="87.5" x2="496.7" y2="87.5" stroke="#333" stroke-width="0.8"/>
<rect x="487.4" y="64.9" width="12.6" height="9.6" fill="#009245" stroke="#0a5a2a" stroke-width="0.5"/>
<line x1="487.4" y1="68" x2="500" y2="68" stroke="#0a3a1a" stroke-width="0.7"/>
<circle cx="493.7" cy="56.3" r="1.15" fill="none" stroke="#1a1a1a" stroke-width="0.75"/>
<circle cx="491.2" cy="58.31" r="1.15" fill="none" stroke="#1a1a1a" stroke-width="0.75"/>
<circle cx="493.7" cy="65.83" r="1.1" fill="#1a1a1a"/>
<circle cx="491.2" cy="67.2" r="1.1" fill="#1a1a1a"/>
<circle cx="493.7" cy="69.31" r="1.1" fill="#1a1a1a"/>
<circle cx="496.2" cy="69.4" r="1.15" fill="none" stroke="#1a1a1a" stroke-width="0.75"/>
<circle cx="491.2" cy="71.53" r="1.15" fill="none" stroke="#1a1a1a" stroke-width="0.75"/>
<circle cx="493.7" cy="72.43" r="1.1" fill="#1a1a1a"/>
<circle cx="493.7" cy="77.11" r="1.15" fill="none" stroke="#1a1a1a" stroke-width="0.75"/>
<circle cx="493.7" cy="83.95" r="1.15" fill="none" stroke="#1a1a1a" stroke-width="0.75"/>
<circle cx="493.7" cy="87.5" r="1.15" fill="none" stroke="#1a1a1a" stroke-width="0.75"/>
<line x1="512.57" y1="54.1" x2="512.57" y2="61.9" stroke="#333" stroke-width="0.6"/>
<line x1="512.57" y1="89.7" x2="512.57" y2="97.7" stroke="#333" stroke-width="0.6"/>
<line x1="509.57" y1="54.1" x2="515.57" y2="54.1" stroke="#333" stroke-width="0.8"/>
<line x1="509.57" y1="97.7" x2="515.57" y2="97.7" stroke="#333" stroke-width="0.8"/>
<rect x="506.27" y="61.9" width="12.6" height="27.8" fill="#009245" stroke="#0a5a2a" stroke-width="0.5"/>
<line x1="506.27" y1="66.2" x2="518.87" y2="66.2" stroke="#0a3a1a" stroke-width="0.7"/>
<circle cx="512.57" cy="54.1" r="1.15" fill="none" stroke="#1a1a1a" stroke-width="0.75"/>
<circle cx="512.57" cy="62.32" r="1.15" fill="none" stroke="#1a1a1a" stroke-width="0.75"/>
<circle cx="510.07" cy="62.48" r="1.1" fill="#1a1a1a"/>
<circle cx="512.57" cy="64.79" r="1.15" fill="none" stroke="#1a1a1a" stroke-width="0.75"/>
<circle cx="510.07" cy="65.12" r="1.1" fill="#1a1a1a"/>
<circle cx="512.57" cy="69.29" r="1.1" fill="#1a1a1a"/>
<circle cx="512.57" cy="82.14" r="1.15" fill="none" stroke="#1a1a1a" stroke-width="0.75"/>
<circle cx="510.07" cy="84.31" r="1.1" fill="#1a1a1a"/>
<circle cx="512.57" cy="88.17" r="1.15" fill="none" stroke="#1a1a1a" stroke-width="0.75"/>
<circle cx="512.57" cy="93.75" r="1.15" fill="none" stroke="#1a1a1a" stroke-width="0.75"/>
<circle cx="512.57" cy="97.7" r="1.15" fill="none" stroke="#1a1a1a" stroke-width="0.75"/>
<line x1="531.44" y1="55.6" x2="531.44" y2="57.8" stroke="#333" stroke-width="0.6"/>
<line x1="531.44" y1="63.4" x2="531.44" y2="66.5" stroke="#333" stroke-width="0.6"/>
<line x1="528.44" y1="55.6" x2="534.44" y2="55.6" stroke="#333" stroke-width="0.8"/>
<line x1="528.44" y1="66.5" x2="534.44" y2="66.5" stroke="#333" stroke-width="0.8"/>
<rect x="525.14" y="57.8" width="12.6" height="5.6" fill="#009245" stroke="#0a5a2a" stroke-width="0.5"/>
<line x1="525.14" y1="60.6" x2="537.74" y2="60.6" stroke="#0a3a1a" stroke-width="0.7"/>
<circle cx="531.44" cy="55.6" r="1.1" fill="#1a1a1a"/>
<circle cx="531.44" cy="58.42" r="1.15" fill="none" stroke="#1a1a1a" stroke-width="0.75"/>
<circle cx="528.94" cy="58.78" r="1.15" fill="none" stroke="#1a1a1a" stroke-width="0.75"/>
<circle cx="533.94" cy="60.05" r="1.1" fill="#1a1a1a"/>
<circle cx="527.27" cy="60.46" r="1.15" fill="none" stroke="#1a1a1a" stroke-width="0.75"/>
<circle cx="531.44" cy="60.95" r="1.15" fill="none" stroke="#1a1a1a" stroke-width="0.75"/>
<circle cx="527.42" cy="61.8" r="1.15" fill="none" stroke="#1a1a1a" stroke-width="0.75"/>
<circle cx="533.94" cy="62.92" r="1.1" fill="#1a1a1a"/>
<circle cx="530.82" cy="63.01" r="1.15" fill="none" stroke="#1a1a1a" stroke-width="0.75"/>
<circle cx="526.64" cy="65.09" r="1.1" fill="#1a1a1a"/>
<circle cx="531.44" cy="66.5" r="1.15" fill="none" stroke="#1a1a1a" stroke-width="0.75"/>
<line x1="550.31" y1="58.7" x2="550.31" y2="63.2" stroke="#333" stroke-width="0.6"/>
<line x1="550.31" y1="68.4" x2="550.31" y2="70" stroke="#333" stroke-width="0.6"/>
<line x1="547.31" y1="58.7" x2="553.31" y2="58.7" stroke="#333" stroke-width="0.8"/>
<line x1="547.31" y1="70" x2="553.31" y2="70" stroke="#333" stroke-width="0.8"/>
<rect x="544.01" y="63.2" width="12.6" height="5.2" fill="#009245" stroke="#0a5a2a" stroke-width="0.5"/>
<line x1="544.01" y1="65.5" x2="556.61" y2="65.5" stroke="#0a3a1a" stroke-width="0.7"/>
<circle cx="550.31" cy="58.7" r="1.1" fill="#1a1a1a"/>
<circle cx="550.31" cy="64.03" r="1.15" fill="none" stroke="#1a1a1a" stroke-width="0.75"/>
<circle cx="547.81" cy="64.79" r="1.1" fill="#1a1a1a"/>
<circle cx="552.81" cy="65.29" r="1.15" fill="none" stroke="#1a1a1a" stroke-width="0.75"/>
<circle cx="547.18" cy="65.8" r="1.1" fill="#1a1a1a"/>
<circle cx="550.31" cy="66.47" r="1.15" fill="none" stroke="#1a1a1a" stroke-width="0.75"/>
<circle cx="551.96" cy="66.65" r="1.1" fill="#1a1a1a"/>
<circle cx="554.47" cy="67.22" r="1.15" fill="none" stroke="#1a1a1a" stroke-width="0.75"/>
<circle cx="547.81" cy="68.27" r="1.15" fill="none" stroke="#1a1a1a" stroke-width="0.75"/>
<circle cx="550.28" cy="68.35" r="1.15" fill="none" stroke="#1a1a1a" stroke-width="0.75"/>
<circle cx="552.81" cy="70" r="1.15" fill="none" stroke="#1a1a1a" stroke-width="0.75"/>
<line x1="569.18" y1="57.5" x2="569.18" y2="58.7" stroke="#333" stroke-width="0.6"/>
<line x1="569.18" y1="80.8" x2="569.18" y2="93.7" stroke="#333" stroke-width="0.6"/>
<line x1="566.18" y1="57.5" x2="572.18" y2="57.5" stroke="#333" stroke-width="0.8"/>
<line x1="566.18" y1="93.7" x2="572.18" y2="93.7" stroke="#333" stroke-width="0.8"/>
<rect x="562.88" y="58.7" width="12.6" height="22.1" fill="#009245" stroke="#0a5a2a" stroke-width="0.5"/>
<line x1="562.88" y1="59.8" x2="575.48" y2="59.8" stroke="#0a3a1a" stroke-width="0.7"/>
<circle cx="569.18" cy="57.5" r="1.15" fill="none" stroke="#1a1a1a" stroke-width="0.75"/>
<circle cx="566.68" cy="59.29" r="1.15" fill="none" stroke="#1a1a1a" stroke-width="0.75"/>
<circle cx="569.18" cy="61.22" r="1.1" fill="#1a1a1a"/>
<circle cx="569.18" cy="67.56" r="1.15" fill="none" stroke="#1a1a1a" stroke-width="0.75"/>
<circle cx="566.68" cy="68.79" r="1.1" fill="#1a1a1a"/>
<circle cx="569.18" cy="75.65" r="1.15" fill="none" stroke="#1a1a1a" stroke-width="0.75"/>
<circle cx="569.18" cy="79.31" r="1.1" fill="#1a1a1a"/>
<circle cx="566.68" cy="79.69" r="1.15" fill="none" stroke="#1a1a1a" stroke-width="0.75"/>
<circle cx="569.18" cy="81.83" r="1.15" fill="none" stroke="#1a1a1a" stroke-width="0.75"/>
<circle cx="569.18" cy="93.49" r="1.1" fill="#1a1a1a"/>
<circle cx="566.68" cy="93.7" r="1.15" fill="none" stroke="#1a1a1a" stroke-width="0.75"/>
<line x1="588.05" y1="63.6" x2="588.05" y2="68.4" stroke="#333" stroke-width="0.6"/>
<line x1="588.05" y1="86.5" x2="588.05" y2="97.1" stroke="#333" stroke-width="0.6"/>
<line x1="585.05" y1="63.6" x2="591.05" y2="63.6" stroke="#333" stroke-width="0.8"/>
<line x1="585.05" y1="97.1" x2="591.05" y2="97.1" stroke="#333" stroke-width="0.8"/>
<rect x="581.75" y="68.4" width="12.6" height="18.1" fill="#009245" stroke="#0a5a2a" stroke-width="0.5"/>
<line x1="581.75" y1="76.3" x2="594.35" y2="76.3" stroke="#0a3a1a" stroke-width="0.7"/>
<circle cx="588.05" cy="63.6" r="1.1" fill="#1a1a1a"/>
<circle cx="588.05" cy="67.2" r="1.15" fill="none" stroke="#1a1a1a" stroke-width="0.75"/>
<circle cx="588.05" cy="70.25" r="1.1" fill="#1a1a1a"/>
<circle cx="588.05" cy="73.03" r="1.15" fill="none" stroke="#1a1a1a" stroke-width="0.75"/>
<circle cx="585.55" cy="73.76" r="1.15" fill="none" stroke="#1a1a1a" stroke-width="0.75"/>
<circle cx="590.55" cy="74.32" r="1.1" fill="#1a1a1a"/>
<circle cx="585.58" cy="74.88" r="1.15" fill="none" stroke="#1a1a1a" stroke-width="0.75"/>
<circle cx="588.05" cy="77.08" r="1.15" fill="none" stroke="#1a1a1a" stroke-width="0.75"/>
<circle cx="585.55" cy="78.58" r="1.1" fill="#1a1a1a"/>
<circle cx="588.05" cy="82.81" r="1.15" fill="none" stroke="#1a1a1a" stroke-width="0.75"/>
<circle cx="588.05" cy="97.1" r="1.1" fill="#1a1a1a"/>
<line x1="606.92" y1="47.3" x2="606.92" y2="59.1" stroke="#333" stroke-width="0.6"/>
<line x1="606.92" y1="67.7" x2="606.92" y2="75.6" stroke="#333" stroke-width="0.6"/>
<line x1="603.92" y1="47.3" x2="609.92" y2="47.3" stroke="#333" stroke-width="0.8"/>
<line x1="603.92" y1="75.6" x2="609.92" y2="75.6" stroke="#333" stroke-width="0.8"/>
<rect x="600.62" y="59.1" width="12.6" height="8.6" fill="#009245" stroke="#0a5a2a" stroke-width="0.5"/>
<line x1="600.62" y1="63.6" x2="613.22" y2="63.6" stroke="#0a3a1a" stroke-width="0.7"/>
<circle cx="606.92" cy="47.3" r="1.15" fill="none" stroke="#1a1a1a" stroke-width="0.75"/>
<circle cx="606.92" cy="59.4" r="1.15" fill="none" stroke="#1a1a1a" stroke-width="0.75"/>
<circle cx="604.42" cy="59.66" r="1.1" fill="#1a1a1a"/>
<circle cx="609.42" cy="59.76" r="1.15" fill="none" stroke="#1a1a1a" stroke-width="0.75"/>
<circle cx="608.18" cy="60.57" r="1.1" fill="#1a1a1a"/>
<circle cx="605.51" cy="61.6" r="1.15" fill="none" stroke="#1a1a1a" stroke-width="0.75"/>
<circle cx="602.12" cy="62.66" r="1.15" fill="none" stroke="#1a1a1a" stroke-width="0.75"/>
<circle cx="611.72" cy="62.81" r="1.15" fill="none" stroke="#1a1a1a" stroke-width="0.75"/>
<circle cx="606.92" cy="64.88" r="1.1" fill="#1a1a1a"/>
<circle cx="604.42" cy="66.24" r="1.15" fill="none" stroke="#1a1a1a" stroke-width="0.75"/>
<circle cx="606.92" cy="75.6" r="1.15" fill="none" stroke="#1a1a1a" stroke-width="0.75"/>
<line x1="625.79" y1="39.4" x2="625.79" y2="62" stroke="#333" stroke-width="0.6"/>
<line x1="625.79" y1="79.5" x2="625.79" y2="87.4" stroke="#333" stroke-width="0.6"/>
<line x1="622.79" y1="39.4" x2="628.79" y2="39.4" stroke="#333" stroke-width="0.8"/>
<line x1="622.79" y1="87.4" x2="628.79" y2="87.4" stroke="#333" stroke-width="0.8"/>
<rect x="619.49" y="62" width="12.6" height="17.5" fill="#009245" stroke="#0a5a2a" stroke-width="0.5"/>
<line x1="619.49" y1="69.3" x2="632.09" y2="69.3" stroke="#0a3a1a" stroke-width="0.7"/>
<circle cx="625.79" cy="39.4" r="1.1" fill="#1a1a1a"/>
<circle cx="625.79" cy="63.02" r="1.15" fill="none" stroke="#1a1a1a" stroke-width="0.75"/>
<circle cx="623.29" cy="64.33" r="1.1" fill="#1a1a1a"/>
<circle cx="625.79" cy="67.06" r="1.1" fill="#1a1a1a"/>
<circle cx="623.29" cy="67.88" r="1.15" fill="none" stroke="#1a1a1a" stroke-width="0.75"/>
<circle cx="625.79" cy="70.3" r="1.15" fill="none" stroke="#1a1a1a" stroke-width="0.75"/>
<circle cx="625.79" cy="74.62" r="1.1" fill="#1a1a1a"/>
<circle cx="623.29" cy="75.38" r="1.15" fill="none" stroke="#1a1a1a" stroke-width="0.75"/>
<circle cx="628.29" cy="75.97" r="1.1" fill="#1a1a1a"/>
<circle cx="625.79" cy="79.06" r="1.15" fill="none" stroke="#1a1a1a" stroke-width="0.75"/>
<circle cx="625.79" cy="87.4" r="1.15" fill="none" stroke="#1a1a1a" stroke-width="0.75"/>
<line x1="644.66" y1="70" x2="644.66" y2="76.1" stroke="#333" stroke-width="0.6"/>
<line x1="644.66" y1="88.3" x2="644.66" y2="102.1" stroke="#333" stroke-width="0.6"/>
<line x1="641.66" y1="70" x2="647.66" y2="70" stroke="#333" stroke-width="0.8"/>
<line x1="641.66" y1="102.1" x2="647.66" y2="102.1" stroke="#333" stroke-width="0.8"/>
<rect x="638.36" y="76.1" width="12.6" height="12.2" fill="#009245" stroke="#0a5a2a" stroke-width="0.5"/>
<line x1="638.36" y1="83.5" x2="650.96" y2="83.5" stroke="#0a3a1a" stroke-width="0.7"/>
<circle cx="644.66" cy="70" r="1.15" fill="none" stroke="#1a1a1a" stroke-width="0.75"/>
<circle cx="644.66" cy="76.2" r="1.15" fill="none" stroke="#1a1a1a" stroke-width="0.75"/>
<circle cx="644.66" cy="83.05" r="1.15" fill="none" stroke="#1a1a1a" stroke-width="0.75"/>
<circle cx="642.16" cy="84.39" r="1.15" fill="none" stroke="#1a1a1a" stroke-width="0.75"/>
<circle cx="647.16" cy="84.6" r="1.1" fill="#1a1a1a"/>
<circle cx="644.45" cy="85.12" r="1.1" fill="#1a1a1a"/>
<circle cx="646.02" cy="85.64" r="1.15" fill="none" stroke="#1a1a1a" stroke-width="0.75"/>
<circle cx="648.81" cy="86.31" r="1.1" fill="#1a1a1a"/>
<circle cx="642.95" cy="86.68" r="1.15" fill="none" stroke="#1a1a1a" stroke-width="0.75"/>
<circle cx="644.66" cy="101.94" r="1.15" fill="none" stroke="#1a1a1a" stroke-width="0.75"/>
<circle cx="642.16" cy="102.1" r="1.15" fill="none" stroke="#1a1a1a" stroke-width="0.75"/>
<line x1="663.53" y1="62" x2="663.53" y2="67.3" stroke="#333" stroke-width="0.6"/>
<line x1="663.53" y1="89.7" x2="663.53" y2="95.5" stroke="#333" stroke-width="0.6"/>
<line x1="660.53" y1="62" x2="666.53" y2="62" stroke="#333" stroke-width="0.8"/>
<line x1="660.53" y1="95.5" x2="666.53" y2="95.5" stroke="#333" stroke-width="0.8"/>
<rect x="657.23" y="67.3" width="12.6" height="22.4" fill="#009245" stroke="#0a5a2a" stroke-width="0.5"/>
<line x1="657.23" y1="69.5" x2="669.83" y2="69.5" stroke="#0a3a1a" stroke-width="0.7"/>
<circle cx="663.53" cy="62" r="1.1" fill="#1a1a1a"/>
<circle cx="663.53" cy="72.85" r="1.15" fill="none" stroke="#1a1a1a" stroke-width="0.75"/>
<circle cx="661.03" cy="74.83" r="1.15" fill="none" stroke="#1a1a1a" stroke-width="0.75"/>
<circle cx="663.53" cy="78.97" r="1.15" fill="none" stroke="#1a1a1a" stroke-width="0.75"/>
<circle cx="661.03" cy="80" r="1.15" fill="none" stroke="#1a1a1a" stroke-width="0.75"/>
<circle cx="663.53" cy="81.31" r="1.15" fill="none" stroke="#1a1a1a" stroke-width="0.75"/>
<circle cx="661.03" cy="82.5" r="1.15" fill="none" stroke="#1a1a1a" stroke-width="0.75"/>
<circle cx="663.53" cy="86.6" r="1.1" fill="#1a1a1a"/>
<circle cx="661.03" cy="88.58" r="1.1" fill="#1a1a1a"/>
<circle cx="663.53" cy="89.33" r="1.15" fill="none" stroke="#1a1a1a" stroke-width="0.75"/>
<circle cx="663.53" cy="95.5" r="1.15" fill="none" stroke="#1a1a1a" stroke-width="0.75"/>
<line x1="444.1" y1="22.6" x2="465.2" y2="22.6" stroke="#231f20" stroke-width="1.3"/>
<line x1="444.7" y1="22.6" x2="444.7" y2="37.7" stroke="#231f20" stroke-width="1.3"/>
<line x1="464.6" y1="22.6" x2="464.6" y2="29.6" stroke="#231f20" stroke-width="1.3"/>
<polygon points="459.7,31 460.28,32.4 461.79,32.52 460.64,33.51 460.99,34.98 459.7,34.19 458.41,34.98 458.76,33.51 457.61,32.52 459.12,32.4" fill="#231f20"/>
<polygon points="464.6,31 465.18,32.4 466.69,32.52 465.54,33.51 465.89,34.98 464.6,34.19 463.31,34.98 463.66,33.51 462.51,32.52 464.02,32.4" fill="#231f20"/>
<polygon points="469.5,31 470.08,32.4 471.59,32.52 470.44,33.51 470.79,34.98 469.5,34.19 468.21,34.98 468.56,33.51 467.41,32.52 468.92,32.4" fill="#231f20"/>
<line x1="494.2" y1="21.6" x2="664.1" y2="21.6" stroke="#231f20" stroke-width="1.3"/>
<line x1="494.8" y1="21.6" x2="494.8" y2="37.3" stroke="#231f20" stroke-width="1.3"/>
<line x1="514.8" y1="21.6" x2="514.8" y2="29" stroke="#231f20" stroke-width="1.3"/>
<line x1="533.4" y1="21.6" x2="533.4" y2="29" stroke="#231f20" stroke-width="1.3"/>
<line x1="551.5" y1="21.6" x2="551.5" y2="29" stroke="#231f20" stroke-width="1.3"/>
<line x1="570.3" y1="21.6" x2="570.3" y2="29" stroke="#231f20" stroke-width="1.3"/>
<line x1="589.3" y1="21.6" x2="589.3" y2="29" stroke="#231f20" stroke-width="1.3"/>
<line x1="607.6" y1="21.6" x2="607.6" y2="29" stroke="#231f20" stroke-width="1.3"/>
<line x1="626.2" y1="21.6" x2="626.2" y2="29" stroke="#231f20" stroke-width="1.3"/>
<line x1="644.7" y1="21.6" x2="644.7" y2="29" stroke="#231f20" stroke-width="1.3"/>
<line x1="663.5" y1="21.6" x2="663.5" y2="29" stroke="#231f20" stroke-width="1.3"/>
<text x="514.5" y="36.5" font-size="12" text-anchor="middle" fill="#231f20" stroke="#231f20" stroke-width="0.22">ns</text>
<text x="533.1" y="36.5" font-size="12" text-anchor="middle" fill="#231f20" stroke="#231f20" stroke-width="0.22">ns</text>
<text x="551.2" y="36.5" font-size="12" text-anchor="middle" fill="#231f20" stroke="#231f20" stroke-width="0.22">ns</text>
<text x="570" y="36.5" font-size="12" text-anchor="middle" fill="#231f20" stroke="#231f20" stroke-width="0.22">ns</text>
<text x="589" y="36.5" font-size="12" text-anchor="middle" fill="#231f20" stroke="#231f20" stroke-width="0.22">ns</text>
<text x="607.3" y="36.5" font-size="12" text-anchor="middle" fill="#231f20" stroke="#231f20" stroke-width="0.22">ns</text>
<text x="625.9" y="36.5" font-size="12" text-anchor="middle" fill="#231f20" stroke="#231f20" stroke-width="0.22">ns</text>
<polygon points="644.4,30.6 644.98,32 646.49,32.12 645.34,33.11 645.69,34.58 644.4,33.79 643.11,34.58 643.46,33.11 642.31,32.12 643.82,32" fill="#231f20"/>
<text x="663.2" y="36.5" font-size="12" text-anchor="middle" fill="#231f20" stroke="#231f20" stroke-width="0.22">ns</text>
<text transform="translate(446.9,132.4) rotate(-45)" font-size="10.8" text-anchor="end" fill="#231f20" stroke="#231f20" stroke-width="0.22"><tspan>WT</tspan></text>
<text transform="translate(463.9,132.4) rotate(-45)" font-size="10.8" text-anchor="end" fill="#231f20" stroke="#231f20" stroke-width="0.22"><tspan font-style="italic">dop-6</tspan></text>
<text transform="translate(496.2,132.4) rotate(-45)" font-size="10.8" text-anchor="end" fill="#231f20" stroke="#231f20" stroke-width="0.22"><tspan>WT</tspan></text>
<text transform="translate(515.07,132.4) rotate(-45)" font-size="10.8" text-anchor="end" fill="#231f20" stroke="#231f20" stroke-width="0.22"><tspan font-style="italic">dop-1</tspan></text>
<text transform="translate(533.94,132.4) rotate(-45)" font-size="10.8" text-anchor="end" fill="#231f20" stroke="#231f20" stroke-width="0.22"><tspan font-style="italic">dop-2</tspan></text>
<text transform="translate(552.81,132.4) rotate(-45)" font-size="10.8" text-anchor="end" fill="#231f20" stroke="#231f20" stroke-width="0.22"><tspan font-style="italic">dop-3</tspan></text>
<text transform="translate(571.68,132.4) rotate(-45)" font-size="10.8" text-anchor="end" fill="#231f20" stroke="#231f20" stroke-width="0.22"><tspan font-style="italic">dop-4</tspan></text>
<text transform="translate(590.55,132.4) rotate(-45)" font-size="10.8" text-anchor="end" fill="#231f20" stroke="#231f20" stroke-width="0.22"><tspan font-style="italic">dop-5</tspan></text>
<text transform="translate(609.42,132.4) rotate(-45)" font-size="10.8" text-anchor="end" fill="#231f20" stroke="#231f20" stroke-width="0.22"><tspan font-style="italic">dop-2 dop-3</tspan></text>
<text transform="translate(628.29,132.4) rotate(-45)" font-size="10.8" text-anchor="end" fill="#231f20" stroke="#231f20" stroke-width="0.22"><tspan font-style="italic">dop-1 dop-4</tspan></text>
<text transform="translate(647.16,132.4) rotate(-45)" font-size="10.8" text-anchor="end" fill="#231f20" stroke="#231f20" stroke-width="0.22"><tspan font-style="italic">lgc-53</tspan></text>
<text transform="translate(666.03,132.4) rotate(-45)" font-size="10.8" text-anchor="end" fill="#231f20" stroke="#231f20" stroke-width="0.22"><tspan font-style="italic">dop-1,2,3,4</tspan></text>
<text x="0" y="223.4" font-size="20.5" text-anchor="start" font-weight="bold" fill="#231f20" stroke="#231f20" stroke-width="0.45">c</text>
<rect x="20.8" y="223" width="27.2" height="12.8" fill="#e6e7e8"/>
<text x="34.4" y="232" font-size="10" text-anchor="middle" font-weight="bold" fill="#00a651"><tspan font-style="normal" font-weight="normal">&#916;</tspan><tspan font-style="italic">crp</tspan></text>
<text transform="translate(23.9,282.5) rotate(-90)" font-size="12" text-anchor="middle" fill="#231f20" stroke="#231f20" stroke-width="0.22">Aversion ratio</text>
<text transform="translate(38.2,282.5) rotate(-90)" font-size="12" text-anchor="middle" fill="#231f20" stroke="#231f20" stroke-width="0.22">(16-20 hrs)</text>
<line x1="65.7" y1="245" x2="65.7" y2="328.9" stroke="#231f20" stroke-width="1.3"/>
<line x1="61.6" y1="328.3" x2="65.7" y2="328.3" stroke="#231f20" stroke-width="1.3"/>
<text x="60" y="332.65" font-size="10.7" text-anchor="end" fill="#231f20" stroke="#231f20" stroke-width="0.22">0.0</text>
<line x1="61.6" y1="311.76" x2="65.7" y2="311.76" stroke="#231f20" stroke-width="1.3"/>
<text x="60" y="316.11" font-size="10.7" text-anchor="end" fill="#231f20" stroke="#231f20" stroke-width="0.22">0.2</text>
<line x1="61.6" y1="295.22" x2="65.7" y2="295.22" stroke="#231f20" stroke-width="1.3"/>
<text x="60" y="299.57" font-size="10.7" text-anchor="end" fill="#231f20" stroke="#231f20" stroke-width="0.22">0.4</text>
<line x1="61.6" y1="278.68" x2="65.7" y2="278.68" stroke="#231f20" stroke-width="1.3"/>
<text x="60" y="283.03" font-size="10.7" text-anchor="end" fill="#231f20" stroke="#231f20" stroke-width="0.22">0.6</text>
<line x1="61.6" y1="262.14" x2="65.7" y2="262.14" stroke="#231f20" stroke-width="1.3"/>
<text x="60" y="266.49" font-size="10.7" text-anchor="end" fill="#231f20" stroke="#231f20" stroke-width="0.22">0.8</text>
<line x1="61.6" y1="245.6" x2="65.7" y2="245.6" stroke="#231f20" stroke-width="1.3"/>
<text x="60" y="249.95" font-size="10.7" text-anchor="end" fill="#231f20" stroke="#231f20" stroke-width="0.22">1.0</text>
<line x1="61.6" y1="328.3" x2="183.8" y2="328.3" stroke="#231f20" stroke-width="1.3"/>
<line x1="78.1" y1="328.3" x2="78.1" y2="332.7" stroke="#231f20" stroke-width="1.3"/>
<line x1="96.7" y1="328.3" x2="96.7" y2="332.7" stroke="#231f20" stroke-width="1.3"/>
<line x1="115.5" y1="328.3" x2="115.5" y2="332.7" stroke="#231f20" stroke-width="1.3"/>
<line x1="134.1" y1="328.3" x2="134.1" y2="332.7" stroke="#231f20" stroke-width="1.3"/>
<line x1="152.9" y1="328.3" x2="152.9" y2="332.7" stroke="#231f20" stroke-width="1.3"/>
<line x1="171.4" y1="328.3" x2="171.4" y2="332.7" stroke="#231f20" stroke-width="1.3"/>
<line x1="78.1" y1="259.2" x2="78.1" y2="285.2" stroke="#333" stroke-width="0.6"/>
<line x1="78.1" y1="293.7" x2="78.1" y2="305.5" stroke="#333" stroke-width="0.6"/>
<line x1="75.1" y1="259.2" x2="81.1" y2="259.2" stroke="#333" stroke-width="0.8"/>
<line x1="75.1" y1="305.5" x2="81.1" y2="305.5" stroke="#333" stroke-width="0.8"/>
<rect x="72.1" y="285.2" width="12" height="8.5" fill="#009245" stroke="#0a5a2a" stroke-width="0.5"/>
<line x1="72.1" y1="289" x2="84.1" y2="289" stroke="#0a3a1a" stroke-width="0.7"/>
<circle cx="78.1" cy="259.2" r="1.15" fill="none" stroke="#1a1a1a" stroke-width="0.75"/>
<circle cx="78.1" cy="264.99" r="1.15" fill="none" stroke="#1a1a1a" stroke-width="0.75"/>
<circle cx="78.1" cy="279.96" r="1.1" fill="#1a1a1a"/>
<circle cx="78.1" cy="286.07" r="1.15" fill="none" stroke="#1a1a1a" stroke-width="0.75"/>
<circle cx="78.1" cy="288.38" r="1.1" fill="#1a1a1a"/>
<circle cx="75.6" cy="288.46" r="1.15" fill="none" stroke="#1a1a1a" stroke-width="0.75"/>
<circle cx="80.6" cy="289.39" r="1.1" fill="#1a1a1a"/>
<circle cx="78.1" cy="291.14" r="1.15" fill="none" stroke="#1a1a1a" stroke-width="0.75"/>
<circle cx="75.6" cy="293.3" r="1.15" fill="none" stroke="#1a1a1a" stroke-width="0.75"/>
<circle cx="78.1" cy="293.6" r="1.15" fill="none" stroke="#1a1a1a" stroke-width="0.75"/>
<circle cx="78.1" cy="305.5" r="1.15" fill="none" stroke="#1a1a1a" stroke-width="0.75"/>
<line x1="96.7" y1="288.6" x2="96.7" y2="300.1" stroke="#333" stroke-width="0.6"/>
<line x1="96.7" y1="311.9" x2="96.7" y2="313.2" stroke="#333" stroke-width="0.6"/>
<line x1="93.7" y1="288.6" x2="99.7" y2="288.6" stroke="#333" stroke-width="0.8"/>
<line x1="93.7" y1="313.2" x2="99.7" y2="313.2" stroke="#333" stroke-width="0.8"/>
<rect x="90.7" y="300.1" width="12" height="11.8" fill="#009245" stroke="#0a5a2a" stroke-width="0.5"/>
<line x1="90.7" y1="306.1" x2="102.7" y2="306.1" stroke="#0a3a1a" stroke-width="0.7"/>
<circle cx="96.7" cy="288.6" r="1.1" fill="#1a1a1a"/>
<circle cx="96.7" cy="295.07" r="1.1" fill="#1a1a1a"/>
<circle cx="96.7" cy="300.26" r="1.15" fill="none" stroke="#1a1a1a" stroke-width="0.75"/>
<circle cx="94.2" cy="301.64" r="1.1" fill="#1a1a1a"/>
<circle cx="96.7" cy="304.93" r="1.1" fill="#1a1a1a"/>
<circle cx="94.2" cy="306.54" r="1.15" fill="none" stroke="#1a1a1a" stroke-width="0.75"/>
<circle cx="99.2" cy="306.96" r="1.1" fill="#1a1a1a"/>
<circle cx="96.7" cy="308.1" r="1.1" fill="#1a1a1a"/>
<circle cx="96.7" cy="311.19" r="1.1" fill="#1a1a1a"/>
<circle cx="94.2" cy="312.48" r="1.15" fill="none" stroke="#1a1a1a" stroke-width="0.75"/>
<circle cx="99.2" cy="313.2" r="1.15" fill="none" stroke="#1a1a1a" stroke-width="0.75"/>
<line x1="115.5" y1="262.4" x2="115.5" y2="270.5" stroke="#333" stroke-width="0.6"/>
<line x1="115.5" y1="290.5" x2="115.5" y2="294.4" stroke="#333" stroke-width="0.6"/>
<line x1="112.5" y1="262.4" x2="118.5" y2="262.4" stroke="#333" stroke-width="0.8"/>
<line x1="112.5" y1="294.4" x2="118.5" y2="294.4" stroke="#333" stroke-width="0.8"/>
<rect x="109.5" y="270.5" width="12" height="20" fill="#009245" stroke="#0a5a2a" stroke-width="0.5"/>
<line x1="109.5" y1="281.6" x2="121.5" y2="281.6" stroke="#0a3a1a" stroke-width="0.7"/>
<circle cx="115.5" cy="262.4" r="1.1" fill="#1a1a1a"/>
<circle cx="115.5" cy="265.17" r="1.15" fill="none" stroke="#1a1a1a" stroke-width="0.75"/>
<circle cx="115.5" cy="277.05" r="1.15" fill="none" stroke="#1a1a1a" stroke-width="0.75"/>
<circle cx="115.5" cy="280.31" r="1.15" fill="none" stroke="#1a1a1a" stroke-width="0.75"/>
<circle cx="115.5" cy="283.81" r="1.15" fill="none" stroke="#1a1a1a" stroke-width="0.75"/>
<circle cx="115.5" cy="286.46" r="1.1" fill="#1a1a1a"/>
<circle cx="115.5" cy="289.66" r="1.15" fill="none" stroke="#1a1a1a" stroke-width="0.75"/>
<circle cx="113" cy="289.67" r="1.15" fill="none" stroke="#1a1a1a" stroke-width="0.75"/>
<circle cx="118" cy="290.28" r="1.15" fill="none" stroke="#1a1a1a" stroke-width="0.75"/>
<circle cx="119.73" cy="290.3" r="1.15" fill="none" stroke="#1a1a1a" stroke-width="0.75"/>
<circle cx="115.5" cy="294.4" r="1.15" fill="none" stroke="#1a1a1a" stroke-width="0.75"/>
<line x1="134.1" y1="262.4" x2="134.1" y2="270.3" stroke="#333" stroke-width="0.6"/>
<line x1="134.1" y1="282.2" x2="134.1" y2="286.9" stroke="#333" stroke-width="0.6"/>
<line x1="131.1" y1="262.4" x2="137.1" y2="262.4" stroke="#333" stroke-width="0.8"/>
<line x1="131.1" y1="286.9" x2="137.1" y2="286.9" stroke="#333" stroke-width="0.8"/>
<rect x="128.1" y="270.3" width="12" height="11.9" fill="#009245" stroke="#0a5a2a" stroke-width="0.5"/>
<line x1="128.1" y1="275.8" x2="140.1" y2="275.8" stroke="#0a3a1a" stroke-width="0.7"/>
<circle cx="134.1" cy="262.4" r="1.1" fill="#1a1a1a"/>
<circle cx="134.1" cy="270.54" r="1.15" fill="none" stroke="#1a1a1a" stroke-width="0.75"/>
<circle cx="131.6" cy="270.6" r="1.15" fill="none" stroke="#1a1a1a" stroke-width="0.75"/>
<circle cx="136.6" cy="271.14" r="1.15" fill="none" stroke="#1a1a1a" stroke-width="0.75"/>
<circle cx="129.3" cy="271.82" r="1.15" fill="none" stroke="#1a1a1a" stroke-width="0.75"/>
<circle cx="138.9" cy="272.68" r="1.1" fill="#1a1a1a"/>
<circle cx="134.1" cy="274.82" r="1.15" fill="none" stroke="#1a1a1a" stroke-width="0.75"/>
<circle cx="131.6" cy="276.82" r="1.15" fill="none" stroke="#1a1a1a" stroke-width="0.75"/>
<circle cx="134.1" cy="277.13" r="1.1" fill="#1a1a1a"/>
<circle cx="131.6" cy="279.27" r="1.1" fill="#1a1a1a"/>
<circle cx="134.1" cy="286.9" r="1.15" fill="none" stroke="#1a1a1a" stroke-width="0.75"/>
<line x1="152.9" y1="257" x2="152.9" y2="260.2" stroke="#333" stroke-width="0.6"/>
<line x1="152.9" y1="269.8" x2="152.9" y2="271.5" stroke="#333" stroke-width="0.6"/>
<line x1="149.9" y1="257" x2="155.9" y2="257" stroke="#333" stroke-width="0.8"/>
<line x1="149.9" y1="271.5" x2="155.9" y2="271.5" stroke="#333" stroke-width="0.8"/>
<rect x="146.9" y="260.2" width="12" height="9.6" fill="#009245" stroke="#0a5a2a" stroke-width="0.5"/>
<line x1="146.9" y1="267.7" x2="158.9" y2="267.7" stroke="#0a3a1a" stroke-width="0.7"/>
<circle cx="152.9" cy="257" r="1.15" fill="none" stroke="#1a1a1a" stroke-width="0.75"/>
<circle cx="152.9" cy="260.92" r="1.1" fill="#1a1a1a"/>
<circle cx="152.9" cy="263.26" r="1.15" fill="none" stroke="#1a1a1a" stroke-width="0.75"/>
<circle cx="150.4" cy="263.69" r="1.1" fill="#1a1a1a"/>
<circle cx="155.4" cy="264.28" r="1.15" fill="none" stroke="#1a1a1a" stroke-width="0.75"/>
<circle cx="152.9" cy="265.92" r="1.15" fill="none" stroke="#1a1a1a" stroke-width="0.75"/>
<circle cx="150.4" cy="267.03" r="1.1" fill="#1a1a1a"/>
<circle cx="155.4" cy="267.18" r="1.15" fill="none" stroke="#1a1a1a" stroke-width="0.75"/>
<circle cx="152.9" cy="269.42" r="1.1" fill="#1a1a1a"/>
<circle cx="150.4" cy="269.57" r="1.1" fill="#1a1a1a"/>
<circle cx="155.4" cy="271.5" r="1.1" fill="#1a1a1a"/>
<line x1="171.4" y1="258.7" x2="171.4" y2="262.4" stroke="#333" stroke-width="0.6"/>
<line x1="171.4" y1="274.1" x2="171.4" y2="279.9" stroke="#333" stroke-width="0.6"/>
<line x1="168.4" y1="258.7" x2="174.4" y2="258.7" stroke="#333" stroke-width="0.8"/>
<line x1="168.4" y1="279.9" x2="174.4" y2="279.9" stroke="#333" stroke-width="0.8"/>
<rect x="165.4" y="262.4" width="12" height="11.7" fill="#009245" stroke="#0a5a2a" stroke-width="0.5"/>
<line x1="165.4" y1="269.2" x2="177.4" y2="269.2" stroke="#0a3a1a" stroke-width="0.7"/>
<circle cx="171.4" cy="258.7" r="1.15" fill="none" stroke="#1a1a1a" stroke-width="0.75"/>
<circle cx="171.4" cy="263.16" r="1.15" fill="none" stroke="#1a1a1a" stroke-width="0.75"/>
<circle cx="168.9" cy="264.63" r="1.1" fill="#1a1a1a"/>
<circle cx="173.9" cy="265.31" r="1.1" fill="#1a1a1a"/>
<circle cx="166.6" cy="265.36" r="1.15" fill="none" stroke="#1a1a1a" stroke-width="0.75"/>
<circle cx="176.2" cy="265.36" r="1.15" fill="none" stroke="#1a1a1a" stroke-width="0.75"/>
<circle cx="171.4" cy="269.26" r="1.15" fill="none" stroke="#1a1a1a" stroke-width="0.75"/>
<circle cx="168.9" cy="269.93" r="1.15" fill="none" stroke="#1a1a1a" stroke-width="0.75"/>
<circle cx="171.4" cy="273.64" r="1.15" fill="none" stroke="#1a1a1a" stroke-width="0.75"/>
<circle cx="168.9" cy="273.88" r="1.1" fill="#1a1a1a"/>
<circle cx="171.4" cy="279.9" r="1.1" fill="#1a1a1a"/>
<line x1="77.5" y1="232" x2="172" y2="232" stroke="#231f20" stroke-width="1.3"/>
<line x1="78.1" y1="232" x2="78.1" y2="240.2" stroke="#231f20" stroke-width="1.3"/>
<line x1="96.7" y1="232" x2="96.7" y2="247.6" stroke="#231f20" stroke-width="1.3"/>
<line x1="115.5" y1="232" x2="115.5" y2="240.2" stroke="#231f20" stroke-width="1.3"/>
<line x1="134.1" y1="232" x2="134.1" y2="240.2" stroke="#231f20" stroke-width="1.3"/>
<line x1="152.9" y1="232" x2="152.9" y2="240.2" stroke="#231f20" stroke-width="1.3"/>
<line x1="171.4" y1="232" x2="171.4" y2="240.2" stroke="#231f20" stroke-width="1.3"/>
<polygon points="73.2,241 73.78,242.4 75.29,242.52 74.14,243.51 74.49,244.98 73.2,244.19 71.91,244.98 72.26,243.51 71.11,242.52 72.62,242.4" fill="#231f20"/>
<polygon points="78.1,241 78.68,242.4 80.19,242.52 79.04,243.51 79.39,244.98 78.1,244.19 76.81,244.98 77.16,243.51 76.01,242.52 77.52,242.4" fill="#231f20"/>
<polygon points="83,241 83.58,242.4 85.09,242.52 83.94,243.51 84.29,244.98 83,244.19 81.71,244.98 82.06,243.51 80.91,242.52 82.42,242.4" fill="#231f20"/>
<polygon points="110.6,241 111.18,242.4 112.69,242.52 111.54,243.51 111.89,244.98 110.6,244.19 109.31,244.98 109.66,243.51 108.51,242.52 110.02,242.4" fill="#231f20"/>
<polygon points="115.5,241 116.08,242.4 117.59,242.52 116.44,243.51 116.79,244.98 115.5,244.19 114.21,244.98 114.56,243.51 113.41,242.52 114.92,242.4" fill="#231f20"/>
<polygon points="120.4,241 120.98,242.4 122.49,242.52 121.34,243.51 121.69,244.98 120.4,244.19 119.11,244.98 119.46,243.51 118.31,242.52 119.82,242.4" fill="#231f20"/>
<polygon points="129.2,241 129.78,242.4 131.29,242.52 130.14,243.51 130.49,244.98 129.2,244.19 127.91,244.98 128.26,243.51 127.11,242.52 128.62,242.4" fill="#231f20"/>
<polygon points="134.1,241 134.68,242.4 136.19,242.52 135.04,243.51 135.39,244.98 134.1,244.19 132.81,244.98 133.16,243.51 132.01,242.52 133.52,242.4" fill="#231f20"/>
<polygon points="139,241 139.58,242.4 141.09,242.52 139.94,243.51 140.29,244.98 139,244.19 137.71,244.98 138.06,243.51 136.91,242.52 138.42,242.4" fill="#231f20"/>
<polygon points="148,241 148.58,242.4 150.09,242.52 148.94,243.51 149.29,244.98 148,244.19 146.71,244.98 147.06,243.51 145.91,242.52 147.42,242.4" fill="#231f20"/>
<polygon points="152.9,241 153.48,242.4 154.99,242.52 153.84,243.51 154.19,244.98 152.9,244.19 151.61,244.98 151.96,243.51 150.81,242.52 152.32,242.4" fill="#231f20"/>
<polygon points="157.8,241 158.38,242.4 159.89,242.52 158.74,243.51 159.09,244.98 157.8,244.19 156.51,244.98 156.86,243.51 155.71,242.52 157.22,242.4" fill="#231f20"/>
<polygon points="166.5,241 167.08,242.4 168.59,242.52 167.44,243.51 167.79,244.98 166.5,244.19 165.21,244.98 165.56,243.51 164.41,242.52 165.92,242.4" fill="#231f20"/>
<polygon points="171.4,241 171.98,242.4 173.49,242.52 172.34,243.51 172.69,244.98 171.4,244.19 170.11,244.98 170.46,243.51 169.31,242.52 170.82,242.4" fill="#231f20"/>
<polygon points="176.3,241 176.88,242.4 178.39,242.52 177.24,243.51 177.59,244.98 176.3,244.19 175.01,244.98 175.36,243.51 174.21,242.52 175.72,242.4" fill="#231f20"/>
<text x="52.9" y="342.8" font-size="10.5" text-anchor="middle" font-style="italic" fill="#231f20" stroke="#231f20" stroke-width="0.22">dop-6</text>
<text x="51.5" y="353" font-size="10.5" text-anchor="middle" fill="#231f20" stroke="#231f20" stroke-width="0.22">rescue</text>
<line x1="76.4" y1="341.6" x2="79.8" y2="341.6" stroke="#231f20" stroke-width="1.2"/>
<line x1="95" y1="341.6" x2="98.4" y2="341.6" stroke="#231f20" stroke-width="1.2"/>
<text x="115.5" y="344.8" font-size="10.5" text-anchor="middle" fill="#231f20" stroke="#231f20" stroke-width="0.22">+</text>
<text x="134.1" y="344.8" font-size="10.5" text-anchor="middle" fill="#231f20" stroke="#231f20" stroke-width="0.22">+</text>
<text x="152.9" y="344.8" font-size="10.5" text-anchor="middle" fill="#231f20" stroke="#231f20" stroke-width="0.22">+</text>
<text x="171.4" y="344.8" font-size="10.5" text-anchor="middle" fill="#231f20" stroke="#231f20" stroke-width="0.22">+</text>
<text x="126.7" y="355.5" font-size="9.3" text-anchor="middle" font-style="italic" fill="#231f20" stroke="#231f20" stroke-width="0.22">tdc-1::</text>
<text x="126.7" y="367.2" font-size="9.3" text-anchor="middle" font-style="italic" fill="#231f20" stroke="#231f20" stroke-width="0.22">dop-6</text>
<text x="166" y="355.5" font-size="9.3" text-anchor="middle" font-style="italic" fill="#231f20" stroke="#231f20" stroke-width="0.22">tbh-1::</text>
<text x="166" y="367.2" font-size="9.3" text-anchor="middle" font-style="italic" fill="#231f20" stroke="#231f20" stroke-width="0.22">dop-6</text>
<line x1="68.4" y1="371.4" x2="82.5" y2="371.4" stroke="#231f20" stroke-width="1.1"/>
<line x1="90.2" y1="371.4" x2="105.1" y2="371.4" stroke="#231f20" stroke-width="1.1"/>
<line x1="110.6" y1="371.4" x2="137.9" y2="371.4" stroke="#231f20" stroke-width="1.1"/>
<line x1="149.8" y1="371.4" x2="176.9" y2="371.4" stroke="#231f20" stroke-width="1.1"/>
<text x="75.3" y="383.8" font-size="9.3" text-anchor="middle" fill="#231f20" stroke="#231f20" stroke-width="0.22">WT</text>
<text x="97.7" y="383.8" font-size="9.3" text-anchor="middle" font-style="italic" fill="#231f20" stroke="#231f20" stroke-width="0.22">dop-6</text>
<text x="124.2" y="383.8" font-size="9.3" text-anchor="middle" fill="#231f20" stroke="#231f20" stroke-width="0.22">RIM</text>
<text x="124.2" y="395.2" font-size="9.3" text-anchor="middle" fill="#231f20" stroke="#231f20" stroke-width="0.22">RIC</text>
<text x="163.5" y="383.8" font-size="9.3" text-anchor="middle" fill="#231f20" stroke="#231f20" stroke-width="0.22">RIC</text>
<text x="195" y="222.7" font-size="20.5" text-anchor="start" font-weight="bold" fill="#231f20" stroke="#231f20" stroke-width="0.45">d</text>
<rect x="211.1" y="224.4" width="26.9" height="12.5" fill="#e6e7e8"/>
<text x="224.55" y="233.1" font-size="10" text-anchor="middle" font-weight="bold" fill="#00a651"><tspan font-style="normal" font-weight="normal">&#916;</tspan><tspan font-style="italic">crp</tspan></text>
<text transform="translate(214.3,283.4) rotate(-90)" font-size="12" text-anchor="middle" fill="#231f20" stroke="#231f20" stroke-width="0.22">Aversion ratio</text>
<text transform="translate(228.9,283.4) rotate(-90)" font-size="12" text-anchor="middle" fill="#231f20" stroke="#231f20" stroke-width="0.22">(16-20 hrs)</text>
<line x1="256.2" y1="245.3" x2="256.2" y2="329" stroke="#231f20" stroke-width="1.3"/>
<line x1="252.1" y1="328.4" x2="256.2" y2="328.4" stroke="#231f20" stroke-width="1.3"/>
<text x="250.5" y="332.75" font-size="10.7" text-anchor="end" fill="#231f20" stroke="#231f20" stroke-width="0.22">0.0</text>
<line x1="252.1" y1="311.9" x2="256.2" y2="311.9" stroke="#231f20" stroke-width="1.3"/>
<text x="250.5" y="316.25" font-size="10.7" text-anchor="end" fill="#231f20" stroke="#231f20" stroke-width="0.22">0.2</text>
<line x1="252.1" y1="295.4" x2="256.2" y2="295.4" stroke="#231f20" stroke-width="1.3"/>
<text x="250.5" y="299.75" font-size="10.7" text-anchor="end" fill="#231f20" stroke="#231f20" stroke-width="0.22">0.4</text>
<line x1="252.1" y1="278.9" x2="256.2" y2="278.9" stroke="#231f20" stroke-width="1.3"/>
<text x="250.5" y="283.25" font-size="10.7" text-anchor="end" fill="#231f20" stroke="#231f20" stroke-width="0.22">0.6</text>
<line x1="252.1" y1="262.4" x2="256.2" y2="262.4" stroke="#231f20" stroke-width="1.3"/>
<text x="250.5" y="266.75" font-size="10.7" text-anchor="end" fill="#231f20" stroke="#231f20" stroke-width="0.22">0.8</text>
<line x1="252.1" y1="245.9" x2="256.2" y2="245.9" stroke="#231f20" stroke-width="1.3"/>
<text x="250.5" y="250.25" font-size="10.7" text-anchor="end" fill="#231f20" stroke="#231f20" stroke-width="0.22">1.0</text>
<line x1="252.1" y1="328.4" x2="373.9" y2="328.4" stroke="#231f20" stroke-width="1.3"/>
<line x1="268.2" y1="328.4" x2="268.2" y2="332.8" stroke="#231f20" stroke-width="1.3"/>
<line x1="287" y1="328.4" x2="287" y2="332.8" stroke="#231f20" stroke-width="1.3"/>
<line x1="305.8" y1="328.4" x2="305.8" y2="332.8" stroke="#231f20" stroke-width="1.3"/>
<line x1="324.2" y1="328.4" x2="324.2" y2="332.8" stroke="#231f20" stroke-width="1.3"/>
<line x1="343.2" y1="328.4" x2="343.2" y2="332.8" stroke="#231f20" stroke-width="1.3"/>
<line x1="362" y1="328.4" x2="362" y2="332.8" stroke="#231f20" stroke-width="1.3"/>
<line x1="268.2" y1="267" x2="268.2" y2="274.9" stroke="#333" stroke-width="0.6"/>
<line x1="268.2" y1="291.4" x2="268.2" y2="297.7" stroke="#333" stroke-width="0.6"/>
<line x1="265.2" y1="267" x2="271.2" y2="267" stroke="#333" stroke-width="0.8"/>
<line x1="265.2" y1="297.7" x2="271.2" y2="297.7" stroke="#333" stroke-width="0.8"/>
<rect x="262.2" y="274.9" width="12" height="16.5" fill="#009245" stroke="#0a5a2a" stroke-width="0.5"/>
<line x1="262.2" y1="284.6" x2="274.2" y2="284.6" stroke="#0a3a1a" stroke-width="0.7"/>
<circle cx="268.2" cy="267" r="1.15" fill="none" stroke="#1a1a1a" stroke-width="0.75"/>
<circle cx="268.2" cy="269.7" r="1.15" fill="none" stroke="#1a1a1a" stroke-width="0.75"/>
<circle cx="268.2" cy="273.13" r="1.15" fill="none" stroke="#1a1a1a" stroke-width="0.75"/>
<circle cx="268.2" cy="276.29" r="1.15" fill="none" stroke="#1a1a1a" stroke-width="0.75"/>
<circle cx="268.2" cy="280.75" r="1.15" fill="none" stroke="#1a1a1a" stroke-width="0.75"/>
<circle cx="265.7" cy="282.84" r="1.15" fill="none" stroke="#1a1a1a" stroke-width="0.75"/>
<circle cx="268.2" cy="286.32" r="1.15" fill="none" stroke="#1a1a1a" stroke-width="0.75"/>
<circle cx="265.7" cy="286.48" r="1.15" fill="none" stroke="#1a1a1a" stroke-width="0.75"/>
<circle cx="270.7" cy="287.33" r="1.1" fill="#1a1a1a"/>
<circle cx="268.2" cy="297.7" r="1.1" fill="#1a1a1a"/>
<line x1="287" y1="268.8" x2="287" y2="270.9" stroke="#333" stroke-width="0.6"/>
<line x1="287" y1="278.8" x2="287" y2="285.7" stroke="#333" stroke-width="0.6"/>
<line x1="284" y1="268.8" x2="290" y2="268.8" stroke="#333" stroke-width="0.8"/>
<line x1="284" y1="285.7" x2="290" y2="285.7" stroke="#333" stroke-width="0.8"/>
<rect x="281" y="270.9" width="12" height="7.9" fill="#009245" stroke="#0a5a2a" stroke-width="0.5"/>
<line x1="281" y1="273.6" x2="293" y2="273.6" stroke="#0a3a1a" stroke-width="0.7"/>
<circle cx="287" cy="268.8" r="1.15" fill="none" stroke="#1a1a1a" stroke-width="0.75"/>
<circle cx="287" cy="272.7" r="1.15" fill="none" stroke="#1a1a1a" stroke-width="0.75"/>
<circle cx="284.5" cy="273.92" r="1.15" fill="none" stroke="#1a1a1a" stroke-width="0.75"/>
<circle cx="287" cy="275.17" r="1.15" fill="none" stroke="#1a1a1a" stroke-width="0.75"/>
<circle cx="289.5" cy="275.64" r="1.15" fill="none" stroke="#1a1a1a" stroke-width="0.75"/>
<circle cx="282.2" cy="275.71" r="1.15" fill="none" stroke="#1a1a1a" stroke-width="0.75"/>
<circle cx="291.8" cy="275.91" r="1.15" fill="none" stroke="#1a1a1a" stroke-width="0.75"/>
<circle cx="284.5" cy="277.36" r="1.15" fill="none" stroke="#1a1a1a" stroke-width="0.75"/>
<circle cx="287" cy="284.03" r="1.15" fill="none" stroke="#1a1a1a" stroke-width="0.75"/>
<circle cx="284.5" cy="285.7" r="1.15" fill="none" stroke="#1a1a1a" stroke-width="0.75"/>
<line x1="305.8" y1="263.1" x2="305.8" y2="263.6" stroke="#333" stroke-width="0.6"/>
<line x1="305.8" y1="278.8" x2="305.8" y2="280.1" stroke="#333" stroke-width="0.6"/>
<line x1="302.8" y1="263.1" x2="308.8" y2="263.1" stroke="#333" stroke-width="0.8"/>
<line x1="302.8" y1="280.1" x2="308.8" y2="280.1" stroke="#333" stroke-width="0.8"/>
<rect x="299.8" y="263.6" width="12" height="15.2" fill="#009245" stroke="#0a5a2a" stroke-width="0.5"/>
<line x1="299.8" y1="269.1" x2="311.8" y2="269.1" stroke="#0a3a1a" stroke-width="0.7"/>
<circle cx="305.8" cy="263.1" r="1.1" fill="#1a1a1a"/>
<circle cx="303.3" cy="264.14" r="1.1" fill="#1a1a1a"/>
<circle cx="305.8" cy="268.1" r="1.15" fill="none" stroke="#1a1a1a" stroke-width="0.75"/>
<circle cx="303.3" cy="269.47" r="1.1" fill="#1a1a1a"/>
<circle cx="305.8" cy="271.55" r="1.15" fill="none" stroke="#1a1a1a" stroke-width="0.75"/>
<circle cx="305.8" cy="275.05" r="1.1" fill="#1a1a1a"/>
<circle cx="305.8" cy="277.65" r="1.15" fill="none" stroke="#1a1a1a" stroke-width="0.75"/>
<circle cx="303.3" cy="277.95" r="1.15" fill="none" stroke="#1a1a1a" stroke-width="0.75"/>
<circle cx="308.3" cy="278.77" r="1.1" fill="#1a1a1a"/>
<circle cx="305.8" cy="280.1" r="1.1" fill="#1a1a1a"/>
<line x1="324.2" y1="291.2" x2="324.2" y2="301.2" stroke="#333" stroke-width="0.6"/>
<line x1="324.2" y1="313" x2="324.2" y2="316.4" stroke="#333" stroke-width="0.6"/>
<line x1="321.2" y1="291.2" x2="327.2" y2="291.2" stroke="#333" stroke-width="0.8"/>
<line x1="321.2" y1="316.4" x2="327.2" y2="316.4" stroke="#333" stroke-width="0.8"/>
<rect x="318.2" y="301.2" width="12" height="11.8" fill="#009245" stroke="#0a5a2a" stroke-width="0.5"/>
<line x1="318.2" y1="306.4" x2="330.2" y2="306.4" stroke="#0a3a1a" stroke-width="0.7"/>
<circle cx="324.2" cy="291.2" r="1.15" fill="none" stroke="#1a1a1a" stroke-width="0.75"/>
<circle cx="324.2" cy="302.69" r="1.15" fill="none" stroke="#1a1a1a" stroke-width="0.75"/>
<circle cx="321.7" cy="304.87" r="1.1" fill="#1a1a1a"/>
<circle cx="324.2" cy="305.49" r="1.1" fill="#1a1a1a"/>
<circle cx="326.7" cy="305.76" r="1.1" fill="#1a1a1a"/>
<circle cx="321.7" cy="307.29" r="1.1" fill="#1a1a1a"/>
<circle cx="324.2" cy="308.97" r="1.15" fill="none" stroke="#1a1a1a" stroke-width="0.75"/>
<circle cx="324.2" cy="312.42" r="1.1" fill="#1a1a1a"/>
<circle cx="321.7" cy="314.71" r="1.1" fill="#1a1a1a"/>
<circle cx="324.2" cy="316.4" r="1.15" fill="none" stroke="#1a1a1a" stroke-width="0.75"/>
<line x1="343.2" y1="250.7" x2="343.2" y2="257" stroke="#333" stroke-width="0.6"/>
<line x1="343.2" y1="269.6" x2="343.2" y2="278.8" stroke="#333" stroke-width="0.6"/>
<line x1="340.2" y1="250.7" x2="346.2" y2="250.7" stroke="#333" stroke-width="0.8"/>
<line x1="340.2" y1="278.8" x2="346.2" y2="278.8" stroke="#333" stroke-width="0.8"/>
<rect x="337.2" y="257" width="12" height="12.6" fill="#009245" stroke="#0a5a2a" stroke-width="0.5"/>
<line x1="337.2" y1="260.4" x2="349.2" y2="260.4" stroke="#0a3a1a" stroke-width="0.7"/>
<circle cx="343.2" cy="250.7" r="1.1" fill="#1a1a1a"/>
<circle cx="343.2" cy="259.98" r="1.1" fill="#1a1a1a"/>
<circle cx="340.7" cy="262.07" r="1.15" fill="none" stroke="#1a1a1a" stroke-width="0.75"/>
<circle cx="343.2" cy="263.39" r="1.15" fill="none" stroke="#1a1a1a" stroke-width="0.75"/>
<circle cx="345.7" cy="263.5" r="1.15" fill="none" stroke="#1a1a1a" stroke-width="0.75"/>
<circle cx="338.4" cy="263.76" r="1.1" fill="#1a1a1a"/>
<circle cx="348" cy="263.9" r="1.1" fill="#1a1a1a"/>
<circle cx="340.7" cy="264.7" r="1.1" fill="#1a1a1a"/>
<circle cx="343.2" cy="267.55" r="1.1" fill="#1a1a1a"/>
<circle cx="343.2" cy="278.8" r="1.15" fill="none" stroke="#1a1a1a" stroke-width="0.75"/>
<line x1="362" y1="252" x2="362" y2="255.7" stroke="#333" stroke-width="0.6"/>
<line x1="362" y1="267.8" x2="362" y2="270.9" stroke="#333" stroke-width="0.6"/>
<line x1="359" y1="252" x2="365" y2="252" stroke="#333" stroke-width="0.8"/>
<line x1="359" y1="270.9" x2="365" y2="270.9" stroke="#333" stroke-width="0.8"/>
<rect x="356" y="255.7" width="12" height="12.1" fill="#009245" stroke="#0a5a2a" stroke-width="0.5"/>
<line x1="356" y1="259.1" x2="368" y2="259.1" stroke="#0a3a1a" stroke-width="0.7"/>
<circle cx="362" cy="252" r="1.15" fill="none" stroke="#1a1a1a" stroke-width="0.75"/>
<circle cx="362" cy="254.38" r="1.1" fill="#1a1a1a"/>
<circle cx="359.5" cy="256.34" r="1.15" fill="none" stroke="#1a1a1a" stroke-width="0.75"/>
<circle cx="362" cy="258.67" r="1.1" fill="#1a1a1a"/>
<circle cx="362" cy="261.2" r="1.1" fill="#1a1a1a"/>
<circle cx="362" cy="264.24" r="1.1" fill="#1a1a1a"/>
<circle cx="359.5" cy="264.6" r="1.1" fill="#1a1a1a"/>
<circle cx="362" cy="266.69" r="1.15" fill="none" stroke="#1a1a1a" stroke-width="0.75"/>
<circle cx="359.5" cy="267.2" r="1.15" fill="none" stroke="#1a1a1a" stroke-width="0.75"/>
<circle cx="362" cy="270.9" r="1.15" fill="none" stroke="#1a1a1a" stroke-width="0.75"/>
<line x1="267.6" y1="231.5" x2="362.6" y2="231.5" stroke="#231f20" stroke-width="1.3"/>
<line x1="268.2" y1="231.5" x2="268.2" y2="239.6" stroke="#231f20" stroke-width="1.3"/>
<line x1="287" y1="231.5" x2="287" y2="239.6" stroke="#231f20" stroke-width="1.3"/>
<line x1="305.8" y1="231.5" x2="305.8" y2="239.6" stroke="#231f20" stroke-width="1.3"/>
<line x1="324.2" y1="231.5" x2="324.2" y2="248.1" stroke="#231f20" stroke-width="1.3"/>
<line x1="343.2" y1="231.5" x2="343.2" y2="239.6" stroke="#231f20" stroke-width="1.3"/>
<line x1="362" y1="231.5" x2="362" y2="239.6" stroke="#231f20" stroke-width="1.3"/>
<polygon points="261.9,241 262.48,242.4 263.99,242.52 262.84,243.51 263.19,244.98 261.9,244.19 260.61,244.98 260.96,243.51 259.81,242.52 261.32,242.4" fill="#231f20"/>
<polygon points="266.8,241 267.38,242.4 268.89,242.52 267.74,243.51 268.09,244.98 266.8,244.19 265.51,244.98 265.86,243.51 264.71,242.52 266.22,242.4" fill="#231f20"/>
<polygon points="271.7,241 272.28,242.4 273.79,242.52 272.64,243.51 272.99,244.98 271.7,244.19 270.41,244.98 270.76,243.51 269.61,242.52 271.12,242.4" fill="#231f20"/>
<polygon points="282.3,241 282.88,242.4 284.39,242.52 283.24,243.51 283.59,244.98 282.3,244.19 281.01,244.98 281.36,243.51 280.21,242.52 281.72,242.4" fill="#231f20"/>
<polygon points="287.2,241 287.78,242.4 289.29,242.52 288.14,243.51 288.49,244.98 287.2,244.19 285.91,244.98 286.26,243.51 285.11,242.52 286.62,242.4" fill="#231f20"/>
<polygon points="292.1,241 292.68,242.4 294.19,242.52 293.04,243.51 293.39,244.98 292.1,244.19 290.81,244.98 291.16,243.51 290.01,242.52 291.52,242.4" fill="#231f20"/>
<polygon points="300.4,241 300.98,242.4 302.49,242.52 301.34,243.51 301.69,244.98 300.4,244.19 299.11,244.98 299.46,243.51 298.31,242.52 299.82,242.4" fill="#231f20"/>
<polygon points="305.3,241 305.88,242.4 307.39,242.52 306.24,243.51 306.59,244.98 305.3,244.19 304.01,244.98 304.36,243.51 303.21,242.52 304.72,242.4" fill="#231f20"/>
<polygon points="310.2,241 310.78,242.4 312.29,242.52 311.14,243.51 311.49,244.98 310.2,244.19 308.91,244.98 309.26,243.51 308.11,242.52 309.62,242.4" fill="#231f20"/>
<polygon points="338.5,241 339.08,242.4 340.59,242.52 339.44,243.51 339.79,244.98 338.5,244.19 337.21,244.98 337.56,243.51 336.41,242.52 337.92,242.4" fill="#231f20"/>
<polygon points="343.4,241 343.98,242.4 345.49,242.52 344.34,243.51 344.69,244.98 343.4,244.19 342.11,244.98 342.46,243.51 341.31,242.52 342.82,242.4" fill="#231f20"/>
<polygon points="348.3,241 348.88,242.4 350.39,242.52 349.24,243.51 349.59,244.98 348.3,244.19 347.01,244.98 347.36,243.51 346.21,242.52 347.72,242.4" fill="#231f20"/>
<polygon points="356.8,241 357.38,242.4 358.89,242.52 357.74,243.51 358.09,244.98 356.8,244.19 355.51,244.98 355.86,243.51 354.71,242.52 356.22,242.4" fill="#231f20"/>
<polygon points="361.7,241 362.28,242.4 363.79,242.52 362.64,243.51 362.99,244.98 361.7,244.19 360.41,244.98 360.76,243.51 359.61,242.52 361.12,242.4" fill="#231f20"/>
<polygon points="366.6,241 367.18,242.4 368.69,242.52 367.54,243.51 367.89,244.98 366.6,244.19 365.31,244.98 365.66,243.51 364.51,242.52 366.02,242.4" fill="#231f20"/>
<text transform="translate(270.7,341.2) rotate(-45)" font-size="10.8" text-anchor="end" fill="#231f20" stroke="#231f20" stroke-width="0.22"><tspan font-style="italic">WT</tspan></text>
<text transform="translate(289.5,341.2) rotate(-45)" font-size="10.8" text-anchor="end" fill="#231f20" stroke="#231f20" stroke-width="0.22"><tspan font-style="italic">tdc-1</tspan></text>
<text transform="translate(308.3,341.2) rotate(-45)" font-size="10.8" text-anchor="end" fill="#231f20" stroke="#231f20" stroke-width="0.22"><tspan font-style="italic">tbh-1</tspan></text>
<text transform="translate(326.7,341.2) rotate(-45)" font-size="10.8" text-anchor="end" fill="#231f20" stroke="#231f20" stroke-width="0.22"><tspan font-style="italic">cat-2</tspan></text>
<text transform="translate(345.7,341.2) rotate(-45)" font-size="10.8" text-anchor="end" fill="#231f20" stroke="#231f20" stroke-width="0.22"><tspan font-style="italic">cat-2 tdc-1</tspan></text>
<text transform="translate(364.5,341.2) rotate(-45)" font-size="10.8" text-anchor="end" fill="#231f20" stroke="#231f20" stroke-width="0.22"><tspan font-style="italic">cat-2 tbh-1</tspan></text>
<text x="390.2" y="210.9" font-size="20.5" text-anchor="start" font-weight="bold" fill="#231f20" stroke="#231f20" stroke-width="0.45">e</text>
<rect x="406.1" y="227.8" width="26.9" height="13.1" fill="#e6e7e8"/>
<text x="419.55" y="237.1" font-size="10" text-anchor="middle" font-weight="bold" fill="#00a651"><tspan font-style="normal" font-weight="normal">&#916;</tspan><tspan font-style="italic">crp</tspan></text>
<text transform="translate(409.9,283.4) rotate(-90)" font-size="12" text-anchor="middle" fill="#231f20" stroke="#231f20" stroke-width="0.22">Aversion ratio</text>
<text transform="translate(423.9,283.4) rotate(-90)" font-size="12" text-anchor="middle" fill="#231f20" stroke="#231f20" stroke-width="0.22">(16-20 hrs)</text>
<line x1="451.4" y1="245.3" x2="451.4" y2="329.1" stroke="#231f20" stroke-width="1.3"/>
<line x1="447.3" y1="328.5" x2="451.4" y2="328.5" stroke="#231f20" stroke-width="1.3"/>
<text x="445.7" y="332.85" font-size="10.7" text-anchor="end" fill="#231f20" stroke="#231f20" stroke-width="0.22">0.0</text>
<line x1="447.3" y1="311.98" x2="451.4" y2="311.98" stroke="#231f20" stroke-width="1.3"/>
<text x="445.7" y="316.33" font-size="10.7" text-anchor="end" fill="#231f20" stroke="#231f20" stroke-width="0.22">0.2</text>
<line x1="447.3" y1="295.46" x2="451.4" y2="295.46" stroke="#231f20" stroke-width="1.3"/>
<text x="445.7" y="299.81" font-size="10.7" text-anchor="end" fill="#231f20" stroke="#231f20" stroke-width="0.22">0.4</text>
<line x1="447.3" y1="278.94" x2="451.4" y2="278.94" stroke="#231f20" stroke-width="1.3"/>
<text x="445.7" y="283.29" font-size="10.7" text-anchor="end" fill="#231f20" stroke="#231f20" stroke-width="0.22">0.6</text>
<line x1="447.3" y1="262.42" x2="451.4" y2="262.42" stroke="#231f20" stroke-width="1.3"/>
<text x="445.7" y="266.77" font-size="10.7" text-anchor="end" fill="#231f20" stroke="#231f20" stroke-width="0.22">0.8</text>
<line x1="447.3" y1="245.9" x2="451.4" y2="245.9" stroke="#231f20" stroke-width="1.3"/>
<text x="445.7" y="250.25" font-size="10.7" text-anchor="end" fill="#231f20" stroke="#231f20" stroke-width="0.22">1.0</text>
<line x1="541" y1="245.3" x2="541" y2="329.1" stroke="#231f20" stroke-width="1.3"/>
<line x1="536.9" y1="328.5" x2="541" y2="328.5" stroke="#231f20" stroke-width="1.3"/>
<line x1="536.9" y1="311.98" x2="541" y2="311.98" stroke="#231f20" stroke-width="1.3"/>
<line x1="536.9" y1="295.46" x2="541" y2="295.46" stroke="#231f20" stroke-width="1.3"/>
<line x1="536.9" y1="278.94" x2="541" y2="278.94" stroke="#231f20" stroke-width="1.3"/>
<line x1="536.9" y1="262.42" x2="541" y2="262.42" stroke="#231f20" stroke-width="1.3"/>
<line x1="536.9" y1="245.9" x2="541" y2="245.9" stroke="#231f20" stroke-width="1.3"/>
<line x1="447.3" y1="328.5" x2="531.4" y2="328.5" stroke="#231f20" stroke-width="1.3"/>
<line x1="463.5" y1="328.5" x2="463.5" y2="332.9" stroke="#231f20" stroke-width="1.3"/>
<line x1="482.2" y1="328.5" x2="482.2" y2="332.9" stroke="#231f20" stroke-width="1.3"/>
<line x1="500.5" y1="328.5" x2="500.5" y2="332.9" stroke="#231f20" stroke-width="1.3"/>
<line x1="519.1" y1="328.5" x2="519.1" y2="332.9" stroke="#231f20" stroke-width="1.3"/>
<line x1="536.9" y1="328.5" x2="620.3" y2="328.5" stroke="#231f20" stroke-width="1.3"/>
<line x1="553.2" y1="328.5" x2="553.2" y2="332.9" stroke="#231f20" stroke-width="1.3"/>
<line x1="571.5" y1="328.5" x2="571.5" y2="332.9" stroke="#231f20" stroke-width="1.3"/>
<line x1="590.2" y1="328.5" x2="590.2" y2="332.9" stroke="#231f20" stroke-width="1.3"/>
<line x1="608.6" y1="328.5" x2="608.6" y2="332.9" stroke="#231f20" stroke-width="1.3"/>
<line x1="530.8" y1="331" x2="534.8" y2="325.8" stroke="#231f20" stroke-width="0.9"/>
<line x1="534" y1="331" x2="538" y2="325.8" stroke="#231f20" stroke-width="0.9"/>
<line x1="463.5" y1="258.7" x2="463.5" y2="279.7" stroke="#333" stroke-width="0.6"/>
<line x1="463.5" y1="290.5" x2="463.5" y2="297.7" stroke="#333" stroke-width="0.6"/>
<line x1="460.5" y1="258.7" x2="466.5" y2="258.7" stroke="#333" stroke-width="0.8"/>
<line x1="460.5" y1="297.7" x2="466.5" y2="297.7" stroke="#333" stroke-width="0.8"/>
<rect x="457.2" y="279.7" width="12.6" height="10.8" fill="#009245" stroke="#0a5a2a" stroke-width="0.5"/>
<line x1="457.2" y1="283.2" x2="469.8" y2="283.2" stroke="#0a3a1a" stroke-width="0.7"/>
<circle cx="463.5" cy="258.7" r="1.15" fill="none" stroke="#1a1a1a" stroke-width="0.75"/>
<circle cx="463.5" cy="279.1" r="1.1" fill="#1a1a1a"/>
<circle cx="461" cy="280.6" r="1.15" fill="none" stroke="#1a1a1a" stroke-width="0.75"/>
<circle cx="463.5" cy="281.41" r="1.15" fill="none" stroke="#1a1a1a" stroke-width="0.75"/>
<circle cx="466" cy="281.66" r="1.15" fill="none" stroke="#1a1a1a" stroke-width="0.75"/>
<circle cx="458.7" cy="282.08" r="1.1" fill="#1a1a1a"/>
<circle cx="468.3" cy="282.14" r="1.15" fill="none" stroke="#1a1a1a" stroke-width="0.75"/>
<circle cx="459.98" cy="282.57" r="1.1" fill="#1a1a1a"/>
<circle cx="463.5" cy="284.07" r="1.1" fill="#1a1a1a"/>
<circle cx="461" cy="285.41" r="1.1" fill="#1a1a1a"/>
<circle cx="466" cy="285.51" r="1.1" fill="#1a1a1a"/>
<circle cx="463.5" cy="297.7" r="1.15" fill="none" stroke="#1a1a1a" stroke-width="0.75"/>
<line x1="482.2" y1="291" x2="482.2" y2="303.9" stroke="#333" stroke-width="0.6"/>
<line x1="482.2" y1="320.1" x2="482.2" y2="321.4" stroke="#333" stroke-width="0.6"/>
<line x1="479.2" y1="291" x2="485.2" y2="291" stroke="#333" stroke-width="0.8"/>
<line x1="479.2" y1="321.4" x2="485.2" y2="321.4" stroke="#333" stroke-width="0.8"/>
<rect x="475.9" y="303.9" width="12.6" height="16.2" fill="#009245" stroke="#0a5a2a" stroke-width="0.5"/>
<line x1="475.9" y1="309.3" x2="488.5" y2="309.3" stroke="#0a3a1a" stroke-width="0.7"/>
<circle cx="482.2" cy="291" r="1.1" fill="#1a1a1a"/>
<circle cx="479.7" cy="291.84" r="1.1" fill="#1a1a1a"/>
<circle cx="482.2" cy="305.24" r="1.15" fill="none" stroke="#1a1a1a" stroke-width="0.75"/>
<circle cx="479.7" cy="307.47" r="1.15" fill="none" stroke="#1a1a1a" stroke-width="0.75"/>
<circle cx="482.2" cy="309.63" r="1.15" fill="none" stroke="#1a1a1a" stroke-width="0.75"/>
<circle cx="484.7" cy="309.69" r="1.15" fill="none" stroke="#1a1a1a" stroke-width="0.75"/>
<circle cx="479.7" cy="310.91" r="1.1" fill="#1a1a1a"/>
<circle cx="482.2" cy="315.78" r="1.1" fill="#1a1a1a"/>
<circle cx="479.7" cy="315.91" r="1.15" fill="none" stroke="#1a1a1a" stroke-width="0.75"/>
<circle cx="484.7" cy="316.08" r="1.1" fill="#1a1a1a"/>
<circle cx="477.4" cy="316.93" r="1.15" fill="none" stroke="#1a1a1a" stroke-width="0.75"/>
<circle cx="482.2" cy="321.4" r="1.15" fill="none" stroke="#1a1a1a" stroke-width="0.75"/>
<line x1="500.5" y1="260.4" x2="500.5" y2="273.5" stroke="#333" stroke-width="0.6"/>
<line x1="500.5" y1="282.4" x2="500.5" y2="291.3" stroke="#333" stroke-width="0.6"/>
<line x1="497.5" y1="260.4" x2="503.5" y2="260.4" stroke="#333" stroke-width="0.8"/>
<line x1="497.5" y1="291.3" x2="503.5" y2="291.3" stroke="#333" stroke-width="0.8"/>
<rect x="494.2" y="273.5" width="12.6" height="8.9" fill="#009245" stroke="#0a5a2a" stroke-width="0.5"/>
<line x1="494.2" y1="279.2" x2="506.8" y2="279.2" stroke="#0a3a1a" stroke-width="0.7"/>
<circle cx="500.5" cy="260.4" r="1.15" fill="none" stroke="#1a1a1a" stroke-width="0.75"/>
<circle cx="500.5" cy="274.07" r="1.15" fill="none" stroke="#1a1a1a" stroke-width="0.75"/>
<circle cx="500.5" cy="277.02" r="1.1" fill="#1a1a1a"/>
<circle cx="498" cy="277.5" r="1.15" fill="none" stroke="#1a1a1a" stroke-width="0.75"/>
<circle cx="503" cy="278.96" r="1.15" fill="none" stroke="#1a1a1a" stroke-width="0.75"/>
<circle cx="500.5" cy="280.19" r="1.15" fill="none" stroke="#1a1a1a" stroke-width="0.75"/>
<circle cx="498" cy="280.53" r="1.15" fill="none" stroke="#1a1a1a" stroke-width="0.75"/>
<circle cx="495.7" cy="281.23" r="1.15" fill="none" stroke="#1a1a1a" stroke-width="0.75"/>
<circle cx="503" cy="281.88" r="1.15" fill="none" stroke="#1a1a1a" stroke-width="0.75"/>
<circle cx="505.3" cy="282.18" r="1.15" fill="none" stroke="#1a1a1a" stroke-width="0.75"/>
<circle cx="498.96" cy="282.28" r="1.1" fill="#1a1a1a"/>
<circle cx="500.5" cy="291.3" r="1.15" fill="none" stroke="#1a1a1a" stroke-width="0.75"/>
<line x1="519.1" y1="252.3" x2="519.1" y2="264.9" stroke="#333" stroke-width="0.6"/>
<line x1="519.1" y1="273.8" x2="519.1" y2="282.4" stroke="#333" stroke-width="0.6"/>
<line x1="516.1" y1="252.3" x2="522.1" y2="252.3" stroke="#333" stroke-width="0.8"/>
<line x1="516.1" y1="282.4" x2="522.1" y2="282.4" stroke="#333" stroke-width="0.8"/>
<rect x="512.8" y="264.9" width="12.6" height="8.9" fill="#009245" stroke="#0a5a2a" stroke-width="0.5"/>
<line x1="512.8" y1="267.1" x2="525.4" y2="267.1" stroke="#0a3a1a" stroke-width="0.7"/>
<circle cx="519.1" cy="252.3" r="1.1" fill="#1a1a1a"/>
<circle cx="516.6" cy="253.14" r="1.15" fill="none" stroke="#1a1a1a" stroke-width="0.75"/>
<circle cx="519.1" cy="265.61" r="1.15" fill="none" stroke="#1a1a1a" stroke-width="0.75"/>
<circle cx="516.6" cy="265.98" r="1.15" fill="none" stroke="#1a1a1a" stroke-width="0.75"/>
<circle cx="519.1" cy="268.32" r="1.15" fill="none" stroke="#1a1a1a" stroke-width="0.75"/>
<circle cx="516.6" cy="269.23" r="1.15" fill="none" stroke="#1a1a1a" stroke-width="0.75"/>
<circle cx="519.1" cy="270.77" r="1.1" fill="#1a1a1a"/>
<circle cx="521.6" cy="270.85" r="1.15" fill="none" stroke="#1a1a1a" stroke-width="0.75"/>
<circle cx="520.05" cy="270.93" r="1.15" fill="none" stroke="#1a1a1a" stroke-width="0.75"/>
<circle cx="516.6" cy="272.36" r="1.1" fill="#1a1a1a"/>
<circle cx="519.1" cy="273.31" r="1.1" fill="#1a1a1a"/>
<circle cx="519.1" cy="282.4" r="1.15" fill="none" stroke="#1a1a1a" stroke-width="0.75"/>
<line x1="553.2" y1="277.1" x2="553.2" y2="284.9" stroke="#333" stroke-width="0.6"/>
<line x1="553.2" y1="297.9" x2="553.2" y2="303.9" stroke="#333" stroke-width="0.6"/>
<line x1="550.2" y1="277.1" x2="556.2" y2="277.1" stroke="#333" stroke-width="0.8"/>
<line x1="550.2" y1="303.9" x2="556.2" y2="303.9" stroke="#333" stroke-width="0.8"/>
<rect x="547" y="284.9" width="12.4" height="13" fill="#009245" stroke="#0a5a2a" stroke-width="0.5"/>
<line x1="547" y1="287.5" x2="559.4" y2="287.5" stroke="#0a3a1a" stroke-width="0.7"/>
<circle cx="553.2" cy="277.1" r="1.15" fill="none" stroke="#1a1a1a" stroke-width="0.75"/>
<circle cx="553.2" cy="281.82" r="1.15" fill="none" stroke="#1a1a1a" stroke-width="0.75"/>
<circle cx="553.2" cy="285.28" r="1.15" fill="none" stroke="#1a1a1a" stroke-width="0.75"/>
<circle cx="550.7" cy="285.44" r="1.1" fill="#1a1a1a"/>
<circle cx="555.7" cy="287.41" r="1.15" fill="none" stroke="#1a1a1a" stroke-width="0.75"/>
<circle cx="553.2" cy="290.17" r="1.1" fill="#1a1a1a"/>
<circle cx="550.7" cy="290.76" r="1.15" fill="none" stroke="#1a1a1a" stroke-width="0.75"/>
<circle cx="553.2" cy="292.64" r="1.15" fill="none" stroke="#1a1a1a" stroke-width="0.75"/>
<circle cx="553.2" cy="295.34" r="1.15" fill="none" stroke="#1a1a1a" stroke-width="0.75"/>
<circle cx="550.7" cy="297.62" r="1.15" fill="none" stroke="#1a1a1a" stroke-width="0.75"/>
<circle cx="553.2" cy="297.82" r="1.1" fill="#1a1a1a"/>
<circle cx="553.2" cy="303.9" r="1.15" fill="none" stroke="#1a1a1a" stroke-width="0.75"/>
<line x1="571.5" y1="280.5" x2="571.5" y2="301.3" stroke="#333" stroke-width="0.6"/>
<line x1="571.5" y1="315.6" x2="571.5" y2="324.2" stroke="#333" stroke-width="0.6"/>
<line x1="568.5" y1="280.5" x2="574.5" y2="280.5" stroke="#333" stroke-width="0.8"/>
<line x1="568.5" y1="324.2" x2="574.5" y2="324.2" stroke="#333" stroke-width="0.8"/>
<rect x="565.3" y="301.3" width="12.4" height="14.3" fill="#009245" stroke="#0a5a2a" stroke-width="0.5"/>
<line x1="565.3" y1="307.8" x2="577.7" y2="307.8" stroke="#0a3a1a" stroke-width="0.7"/>
<circle cx="571.5" cy="280.5" r="1.15" fill="none" stroke="#1a1a1a" stroke-width="0.75"/>
<circle cx="571.5" cy="291.91" r="1.1" fill="#1a1a1a"/>
<circle cx="571.5" cy="302.76" r="1.1" fill="#1a1a1a"/>
<circle cx="569" cy="303.48" r="1.1" fill="#1a1a1a"/>
<circle cx="574" cy="303.91" r="1.1" fill="#1a1a1a"/>
<circle cx="571.5" cy="308.59" r="1.15" fill="none" stroke="#1a1a1a" stroke-width="0.75"/>
<circle cx="569" cy="309.24" r="1.1" fill="#1a1a1a"/>
<circle cx="574" cy="310.57" r="1.15" fill="none" stroke="#1a1a1a" stroke-width="0.75"/>
<circle cx="571.5" cy="313.82" r="1.1" fill="#1a1a1a"/>
<circle cx="569" cy="315.29" r="1.15" fill="none" stroke="#1a1a1a" stroke-width="0.75"/>
<circle cx="571.5" cy="324.17" r="1.15" fill="none" stroke="#1a1a1a" stroke-width="0.75"/>
<circle cx="569" cy="324.2" r="1.15" fill="none" stroke="#1a1a1a" stroke-width="0.75"/>
<line x1="590.2" y1="268.3" x2="590.2" y2="280" stroke="#333" stroke-width="0.6"/>
<line x1="590.2" y1="293.5" x2="590.2" y2="299.5" stroke="#333" stroke-width="0.6"/>
<line x1="587.2" y1="268.3" x2="593.2" y2="268.3" stroke="#333" stroke-width="0.8"/>
<line x1="587.2" y1="299.5" x2="593.2" y2="299.5" stroke="#333" stroke-width="0.8"/>
<rect x="584" y="280" width="12.4" height="13.5" fill="#009245" stroke="#0a5a2a" stroke-width="0.5"/>
<line x1="584" y1="287" x2="596.4" y2="287" stroke="#0a3a1a" stroke-width="0.7"/>
<circle cx="590.2" cy="268.3" r="1.1" fill="#1a1a1a"/>
<circle cx="590.2" cy="273.03" r="1.1" fill="#1a1a1a"/>
<circle cx="590.2" cy="282.12" r="1.1" fill="#1a1a1a"/>
<circle cx="587.7" cy="284.34" r="1.1" fill="#1a1a1a"/>
<circle cx="590.2" cy="287.5" r="1.1" fill="#1a1a1a"/>
<circle cx="587.7" cy="288.6" r="1.15" fill="none" stroke="#1a1a1a" stroke-width="0.75"/>
<circle cx="592.7" cy="288.83" r="1.15" fill="none" stroke="#1a1a1a" stroke-width="0.75"/>
<circle cx="590.2" cy="291.9" r="1.1" fill="#1a1a1a"/>
<circle cx="587.7" cy="292.61" r="1.15" fill="none" stroke="#1a1a1a" stroke-width="0.75"/>
<circle cx="592.7" cy="293.24" r="1.1" fill="#1a1a1a"/>
<circle cx="590.2" cy="296.59" r="1.15" fill="none" stroke="#1a1a1a" stroke-width="0.75"/>
<circle cx="590.2" cy="299.5" r="1.1" fill="#1a1a1a"/>
<line x1="608.6" y1="255.8" x2="608.6" y2="261.8" stroke="#333" stroke-width="0.6"/>
<line x1="608.6" y1="272.7" x2="608.6" y2="281.3" stroke="#333" stroke-width="0.6"/>
<line x1="605.6" y1="255.8" x2="611.6" y2="255.8" stroke="#333" stroke-width="0.8"/>
<line x1="605.6" y1="281.3" x2="611.6" y2="281.3" stroke="#333" stroke-width="0.8"/>
<rect x="602.4" y="261.8" width="12.4" height="10.9" fill="#009245" stroke="#0a5a2a" stroke-width="0.5"/>
<line x1="602.4" y1="268" x2="614.8" y2="268" stroke="#0a3a1a" stroke-width="0.7"/>
<circle cx="608.6" cy="255.8" r="1.15" fill="none" stroke="#1a1a1a" stroke-width="0.75"/>
<circle cx="608.6" cy="263.7" r="1.15" fill="none" stroke="#1a1a1a" stroke-width="0.75"/>
<circle cx="606.1" cy="263.75" r="1.1" fill="#1a1a1a"/>
<circle cx="611.1" cy="264.69" r="1.15" fill="none" stroke="#1a1a1a" stroke-width="0.75"/>
<circle cx="611.77" cy="264.76" r="1.1" fill="#1a1a1a"/>
<circle cx="608.6" cy="266.91" r="1.15" fill="none" stroke="#1a1a1a" stroke-width="0.75"/>
<circle cx="606.1" cy="267.61" r="1.15" fill="none" stroke="#1a1a1a" stroke-width="0.75"/>
<circle cx="608.6" cy="269.97" r="1.1" fill="#1a1a1a"/>
<circle cx="606.1" cy="270.28" r="1.15" fill="none" stroke="#1a1a1a" stroke-width="0.75"/>
<circle cx="608.6" cy="272.91" r="1.1" fill="#1a1a1a"/>
<circle cx="608.6" cy="278.85" r="1.1" fill="#1a1a1a"/>
<circle cx="608.6" cy="281.3" r="1.15" fill="none" stroke="#1a1a1a" stroke-width="0.75"/>
<line x1="461.6" y1="212.5" x2="520.4" y2="212.5" stroke="#231f20" stroke-width="1.3"/>
<line x1="462.2" y1="212.5" x2="462.2" y2="227.8" stroke="#231f20" stroke-width="1.3"/>
<line x1="482.7" y1="212.5" x2="482.7" y2="218.7" stroke="#231f20" stroke-width="1.3"/>
<line x1="499.7" y1="212.5" x2="499.7" y2="218.7" stroke="#231f20" stroke-width="1.3"/>
<line x1="519.8" y1="212.5" x2="519.8" y2="218.7" stroke="#231f20" stroke-width="1.3"/>
<polygon points="477.8,221.6 478.38,223 479.89,223.12 478.74,224.11 479.09,225.58 477.8,224.79 476.51,225.58 476.86,224.11 475.71,223.12 477.22,223" fill="#231f20"/>
<polygon points="482.7,221.6 483.28,223 484.79,223.12 483.64,224.11 483.99,225.58 482.7,224.79 481.41,225.58 481.76,224.11 480.61,223.12 482.12,223" fill="#231f20"/>
<polygon points="487.6,221.6 488.18,223 489.69,223.12 488.54,224.11 488.89,225.58 487.6,224.79 486.31,225.58 486.66,224.11 485.51,223.12 487.02,223" fill="#231f20"/>
<text x="499.7" y="227.3" font-size="12" text-anchor="middle" fill="#231f20" stroke="#231f20" stroke-width="0.22">ns</text>
<polygon points="517.35,221.6 517.93,223 519.44,223.12 518.29,224.11 518.64,225.58 517.35,224.79 516.06,225.58 516.41,224.11 515.26,223.12 516.77,223" fill="#231f20"/>
<polygon points="522.25,221.6 522.83,223 524.34,223.12 523.19,224.11 523.54,225.58 522.25,224.79 520.96,225.58 521.31,224.11 520.16,223.12 521.67,223" fill="#231f20"/>
<line x1="482.1" y1="233.5" x2="520.4" y2="233.5" stroke="#231f20" stroke-width="1.3"/>
<line x1="482.7" y1="233.5" x2="482.7" y2="240.7" stroke="#231f20" stroke-width="1.3"/>
<line x1="499.7" y1="233.5" x2="499.7" y2="240.7" stroke="#231f20" stroke-width="1.3"/>
<line x1="519.8" y1="233.5" x2="519.8" y2="251.5" stroke="#231f20" stroke-width="1.3"/>
<polygon points="477.8,242.1 478.38,243.5 479.89,243.62 478.74,244.61 479.09,246.08 477.8,245.29 476.51,246.08 476.86,244.61 475.71,243.62 477.22,243.5" fill="#231f20"/>
<polygon points="482.7,242.1 483.28,243.5 484.79,243.62 483.64,244.61 483.99,246.08 482.7,245.29 481.41,246.08 481.76,244.61 480.61,243.62 482.12,243.5" fill="#231f20"/>
<polygon points="487.6,242.1 488.18,243.5 489.69,243.62 488.54,244.61 488.89,246.08 487.6,245.29 486.31,246.08 486.66,244.61 485.51,243.62 487.02,243.5" fill="#231f20"/>
<polygon points="499.2,242.1 499.78,243.5 501.29,243.62 500.14,244.61 500.49,246.08 499.2,245.29 497.91,246.08 498.26,244.61 497.11,243.62 498.62,243.5" fill="#231f20"/>
<line x1="551.4" y1="213.5" x2="610.4" y2="213.5" stroke="#231f20" stroke-width="1.3"/>
<line x1="552" y1="213.5" x2="552" y2="229.1" stroke="#231f20" stroke-width="1.3"/>
<line x1="572.3" y1="213.5" x2="572.3" y2="220.8" stroke="#231f20" stroke-width="1.3"/>
<line x1="590.2" y1="213.5" x2="590.2" y2="220.8" stroke="#231f20" stroke-width="1.3"/>
<line x1="609.8" y1="213.5" x2="609.8" y2="220.8" stroke="#231f20" stroke-width="1.3"/>
<polygon points="567.4,223.1 567.98,224.5 569.49,224.62 568.34,225.61 568.69,227.08 567.4,226.29 566.11,227.08 566.46,225.61 565.31,224.62 566.82,224.5" fill="#231f20"/>
<polygon points="572.3,223.1 572.88,224.5 574.39,224.62 573.24,225.61 573.59,227.08 572.3,226.29 571.01,227.08 571.36,225.61 570.21,224.62 571.72,224.5" fill="#231f20"/>
<polygon points="577.2,223.1 577.78,224.5 579.29,224.62 578.14,225.61 578.49,227.08 577.2,226.29 575.91,227.08 576.26,225.61 575.11,224.62 576.62,224.5" fill="#231f20"/>
<text x="590.2" y="228.7" font-size="12" text-anchor="middle" fill="#231f20" stroke="#231f20" stroke-width="0.22">ns</text>
<polygon points="604.9,223.1 605.48,224.5 606.99,224.62 605.84,225.61 606.19,227.08 604.9,226.29 603.61,227.08 603.96,225.61 602.81,224.62 604.32,224.5" fill="#231f20"/>
<polygon points="609.8,223.1 610.38,224.5 611.89,224.62 610.74,225.61 611.09,227.08 609.8,226.29 608.51,227.08 608.86,225.61 607.71,224.62 609.22,224.5" fill="#231f20"/>
<polygon points="614.7,223.1 615.28,224.5 616.79,224.62 615.64,225.61 615.99,227.08 614.7,226.29 613.41,227.08 613.76,225.61 612.61,224.62 614.12,224.5" fill="#231f20"/>
<line x1="571.7" y1="235.1" x2="610.4" y2="235.1" stroke="#231f20" stroke-width="1.3"/>
<line x1="572.3" y1="235.1" x2="572.3" y2="242.9" stroke="#231f20" stroke-width="1.3"/>
<line x1="590.2" y1="235.1" x2="590.2" y2="242.9" stroke="#231f20" stroke-width="1.3"/>
<line x1="609.8" y1="235.1" x2="609.8" y2="251.9" stroke="#231f20" stroke-width="1.3"/>
<polygon points="567.4,244.6 567.98,246 569.49,246.12 568.34,247.11 568.69,248.58 567.4,247.79 566.11,248.58 566.46,247.11 565.31,246.12 566.82,246" fill="#231f20"/>
<polygon points="572.3,244.6 572.88,246 574.39,246.12 573.24,247.11 573.59,248.58 572.3,247.79 571.01,248.58 571.36,247.11 570.21,246.12 571.72,246" fill="#231f20"/>
<polygon points="577.2,244.6 577.78,246 579.29,246.12 578.14,247.11 578.49,248.58 577.2,247.79 575.91,248.58 576.26,247.11 575.11,246.12 576.62,246" fill="#231f20"/>
<polygon points="585.3,244.6 585.88,246 587.39,246.12 586.24,247.11 586.59,248.58 585.3,247.79 584.01,248.58 584.36,247.11 583.21,246.12 584.72,246" fill="#231f20"/>
<polygon points="590.2,244.6 590.78,246 592.29,246.12 591.14,247.11 591.49,248.58 590.2,247.79 588.91,248.58 589.26,247.11 588.11,246.12 589.62,246" fill="#231f20"/>
<polygon points="595.1,244.6 595.68,246 597.19,246.12 596.04,247.11 596.39,248.58 595.1,247.79 593.81,248.58 594.16,247.11 593.01,246.12 594.52,246" fill="#231f20"/>
<text transform="translate(466,341) rotate(-45)" font-size="10.8" text-anchor="end" fill="#231f20" stroke="#231f20" stroke-width="0.22"><tspan font-style="italic">WT</tspan></text>
<text transform="translate(484.7,341) rotate(-45)" font-size="10.8" text-anchor="end" fill="#231f20" stroke="#231f20" stroke-width="0.22"><tspan font-style="italic">dop-6</tspan></text>
<text transform="translate(503,341) rotate(-45)" font-size="10.8" text-anchor="end" fill="#231f20" stroke="#231f20" stroke-width="0.22"><tspan font-style="italic">tdc-1</tspan></text>
<text transform="translate(521.6,341) rotate(-45)" font-size="10.8" text-anchor="end" fill="#231f20" stroke="#231f20" stroke-width="0.22"><tspan font-style="italic">dop-6 tdc-1</tspan></text>
<text transform="translate(555.7,341) rotate(-45)" font-size="10.8" text-anchor="end" fill="#231f20" stroke="#231f20" stroke-width="0.22"><tspan font-style="italic">WT</tspan></text>
<text transform="translate(574,341) rotate(-45)" font-size="10.8" text-anchor="end" fill="#231f20" stroke="#231f20" stroke-width="0.22"><tspan font-style="italic">dop-6</tspan></text>
<text transform="translate(592.7,341) rotate(-45)" font-size="10.8" text-anchor="end" fill="#231f20" stroke="#231f20" stroke-width="0.22"><tspan font-style="italic">tbh-1</tspan></text>
<text transform="translate(611.1,341) rotate(-45)" font-size="10.8" text-anchor="end" fill="#231f20" stroke="#231f20" stroke-width="0.22"><tspan font-style="italic">dop-6 tbh-1</tspan></text>
<circle cx="656.4" cy="228.4" r="13.2" fill="#f7931e" stroke="#6d4c2a" stroke-width="0.5"/>
<text x="656.9" y="232.4" font-size="10.8" text-anchor="middle" font-weight="bold" fill="#111" stroke="#111" stroke-width="0.22">CEP</text>
<circle cx="648.5" cy="244.4" r="1.45" fill="#f7931e"/>
<circle cx="657.7" cy="245.8" r="1.45" fill="#f7931e"/>
<circle cx="652.5" cy="248.8" r="1.45" fill="#f7931e"/>
<circle cx="660.3" cy="249.3" r="1.45" fill="#f7931e"/>
<circle cx="648" cy="251" r="1.45" fill="#f7931e"/>
<circle cx="656.5" cy="252.5" r="1.45" fill="#f7931e"/>
<circle cx="652.5" cy="255" r="1.45" fill="#f7931e"/>
<circle cx="658.4" cy="256.2" r="1.45" fill="#f7931e"/>
<circle cx="651" cy="260" r="1.45" fill="#f7931e"/>
<circle cx="656.2" cy="260.7" r="1.45" fill="#f7931e"/>
<circle cx="652.5" cy="264.4" r="1.45" fill="#f7931e"/>
<circle cx="656.2" cy="265.9" r="1.45" fill="#f7931e"/>
<text x="655.1" y="278.5" font-size="11.3" text-anchor="middle" fill="#333" stroke="#333" stroke-width="0.22">dopamine</text>
<line x1="639.4" y1="283.5" x2="639.4" y2="306.8" stroke="#777" stroke-width="0.9"/>
<line x1="631.9" y1="306.8" x2="644.9" y2="306.8" stroke="#777" stroke-width="0.9"/>
<text x="649.2" y="315.4" font-size="10.2" text-anchor="start" font-weight="bold" fill="#2e3192" stroke="#2e3192" stroke-width="0.22">DOP-6</text>
<line x1="629.5" y1="315.6" x2="646.3" y2="315.6" stroke="#8a8fd0" stroke-width="0.5" stroke-dasharray="0.6,0.6"/>
<rect x="631.9" y="316.0" width="13.5" height="5.4" fill="#2e3192"/>
<line x1="633.2" y1="316" x2="633.2" y2="320.6" stroke="#fff" stroke-width="0.55"/>
<line x1="634.8" y1="316" x2="634.8" y2="320.6" stroke="#fff" stroke-width="0.55"/>
<line x1="636.4" y1="316" x2="636.4" y2="320.6" stroke="#fff" stroke-width="0.55"/>
<line x1="638" y1="316" x2="638" y2="320.6" stroke="#fff" stroke-width="0.55"/>
<line x1="639.6" y1="316" x2="639.6" y2="320.6" stroke="#fff" stroke-width="0.55"/>
<line x1="641.2" y1="316" x2="641.2" y2="320.6" stroke="#fff" stroke-width="0.55"/>
<line x1="642.8" y1="316" x2="642.8" y2="320.6" stroke="#fff" stroke-width="0.55"/>
<line x1="644.4" y1="316" x2="644.4" y2="320.6" stroke="#fff" stroke-width="0.55"/>
<circle cx="639.0" cy="336.3" r="13.0" fill="#2e3192"/>
<text x="639.2" y="341.2" font-size="12.2" text-anchor="middle" fill="#fff" stroke="#fff" stroke-width="0.22">RIC</text>
<line x1="665.8" y1="321.2" x2="677" y2="321.2" stroke="#8a8fd0" stroke-width="0.5" stroke-dasharray="0.6,0.6"/>
<rect x="667.0" y="321.6" width="9.0" height="4.6" fill="#2e3192"/>
<line x1="668.3" y1="321.6" x2="668.3" y2="325.4" stroke="#fff" stroke-width="0.5"/>
<line x1="669.9" y1="321.6" x2="669.9" y2="325.4" stroke="#fff" stroke-width="0.5"/>
<line x1="671.5" y1="321.6" x2="671.5" y2="325.4" stroke="#fff" stroke-width="0.5"/>
<line x1="673.1" y1="321.6" x2="673.1" y2="325.4" stroke="#fff" stroke-width="0.5"/>
<line x1="674.7" y1="321.6" x2="674.7" y2="325.4" stroke="#fff" stroke-width="0.5"/>
<circle cx="671.2" cy="336.6" r="9.0" fill="#2e3192"/>
<text x="671.2" y="339.6" font-size="8.2" text-anchor="middle" fill="#fff" stroke="#fff" stroke-width="0.22">RIM</text>
<path d="M660.9,321.4 Q655.0,335.4 660.9,349.4" fill="none" stroke="#333" stroke-width="1.2"/>
<path d="M681.0,321.4 Q686.9,335.4 681.0,349.4" fill="none" stroke="#333" stroke-width="1.2"/>
<line x1="630.9" y1="353.7" x2="668.9" y2="353.7" stroke="#888" stroke-width="0.9" stroke-dasharray="2.2,1.9"/>
<text x="651.5" y="366.9" font-size="11.3" text-anchor="middle" fill="#333" stroke="#333" stroke-width="0.22">aversion</text>
<text x="-0.8" y="421.4" font-size="20.5" text-anchor="start" font-weight="bold" fill="#231f20" stroke="#231f20" stroke-width="0.45">f</text>
<rect x="45.3" y="422.1" width="26.5" height="11.7" fill="#e6e7e8"/>
<text x="58.6" y="432" font-size="10.6" text-anchor="middle" font-weight="bold" fill="#231f20" stroke="#231f20" stroke-width="0.22">WT</text>
<rect x="148.2" y="420.6" width="26.6" height="12.2" fill="#e6e7e8"/>
<text x="161.5" y="430" font-size="10" text-anchor="middle" font-weight="bold" fill="#00a651"><tspan font-style="normal" font-weight="normal">&#916;</tspan><tspan font-style="italic">crp</tspan></text>
<rect x="244.2" y="421.1" width="35.8" height="12.4" fill="#e6e7e8"/>
<text x="262.1" y="431.6" font-size="10" text-anchor="middle" font-weight="bold" fill="#29abe2"><tspan font-style="normal" font-weight="normal">&#916;</tspan><tspan font-style="italic">wzxE</tspan></text>
<rect x="16" y="436" width="92.6" height="83.5" fill="#464646"/>
<clipPath id="cp1"><rect x="16" y="436" width="92.6" height="77.9"/></clipPath>
<g clip-path="url(#cp1)"><g filter="url(#semblur)">
<circle cx="16.7" cy="487.7" r="0.85" fill="#c8c8c8"/>
<circle cx="25.6" cy="488.5" r="0.85" fill="#c8c8c8"/>
<circle cx="22.3" cy="495.1" r="0.85" fill="#c8c8c8"/>
<circle cx="29.4" cy="501.8" r="0.85" fill="#c8c8c8"/>
<circle cx="20.5" cy="510.7" r="0.85" fill="#c8c8c8"/>
<circle cx="42.5" cy="445.3" r="0.85" fill="#c8c8c8"/>
<circle cx="32.5" cy="454.5" r="0.85" fill="#c8c8c8"/>
<circle cx="28.44" cy="501.68" r="0.45" fill="#6e6e6e"/>
<circle cx="86.73" cy="455.77" r="0.45" fill="#6e6e6e"/>
<circle cx="61.88" cy="470.84" r="0.45" fill="#6e6e6e"/>
<circle cx="76.34" cy="497.13" r="0.45" fill="#6e6e6e"/>
<circle cx="24.69" cy="438.2" r="0.45" fill="#6e6e6e"/>
<circle cx="93.39" cy="469.54" r="0.45" fill="#6e6e6e"/>
<circle cx="86.59" cy="436.16" r="0.45" fill="#6e6e6e"/>
<circle cx="57.24" cy="491.92" r="0.45" fill="#6e6e6e"/>
<circle cx="37.18" cy="509.26" r="0.45" fill="#6e6e6e"/>
<circle cx="99.47" cy="438.37" r="0.45" fill="#6e6e6e"/>
<circle cx="18.36" cy="477.96" r="0.45" fill="#6e6e6e"/>
<circle cx="102.97" cy="465.54" r="0.45" fill="#6e6e6e"/>
<circle cx="36.06" cy="468.71" r="0.45" fill="#6e6e6e"/>
<circle cx="18.69" cy="453.18" r="0.45" fill="#6e6e6e"/>
<line x1="42.9" y1="450.64" x2="45.15" y2="452.64" stroke="#000" stroke-opacity="0.7" stroke-width="4.6" stroke-linecap="round"/>
<line x1="42.6" y1="450.04" x2="44.85" y2="452.04" stroke="#ececec" stroke-width="3.1" stroke-linecap="round"/>
<line x1="42.76" y1="450.19" x2="44.68" y2="451.89" stroke="#b2b2b2" stroke-width="1.4" stroke-linecap="round"/>
<line x1="45.19" y1="453.52" x2="48.34" y2="453.73" stroke="#000" stroke-opacity="0.7" stroke-width="4.6" stroke-linecap="round"/>
<line x1="44.89" y1="452.92" x2="48.04" y2="453.13" stroke="#ececec" stroke-width="3.1" stroke-linecap="round"/>
<line x1="45.13" y1="452.93" x2="47.8" y2="453.12" stroke="#b2b2b2" stroke-width="1.4" stroke-linecap="round"/>
<line x1="45.97" y1="446" x2="49.36" y2="448.24" stroke="#000" stroke-opacity="0.7" stroke-width="4.6" stroke-linecap="round"/>
<line x1="45.67" y1="445.4" x2="49.06" y2="447.64" stroke="#ececec" stroke-width="3.1" stroke-linecap="round"/>
<line x1="45.92" y1="445.57" x2="48.81" y2="447.47" stroke="#b2b2b2" stroke-width="1.4" stroke-linecap="round"/>
<line x1="48.86" y1="448.91" x2="50.22" y2="451.26" stroke="#000" stroke-opacity="0.7" stroke-width="4.6" stroke-linecap="round"/>
<line x1="48.56" y1="448.31" x2="49.92" y2="450.66" stroke="#ececec" stroke-width="3.1" stroke-linecap="round"/>
<line x1="48.66" y1="448.48" x2="49.82" y2="450.48" stroke="#b2b2b2" stroke-width="1.4" stroke-linecap="round"/>
<line x1="45.19" y1="443.81" x2="46.36" y2="448.5" stroke="#000" stroke-opacity="0.7" stroke-width="4.6" stroke-linecap="round"/>
<line x1="44.89" y1="443.21" x2="46.06" y2="447.9" stroke="#ececec" stroke-width="3.1" stroke-linecap="round"/>
<line x1="44.98" y1="443.56" x2="45.97" y2="447.54" stroke="#b2b2b2" stroke-width="1.4" stroke-linecap="round"/>
<line x1="48.11" y1="445.18" x2="47.25" y2="448.25" stroke="#000" stroke-opacity="0.7" stroke-width="4.6" stroke-linecap="round"/>
<line x1="47.81" y1="444.58" x2="46.95" y2="447.65" stroke="#ececec" stroke-width="3.1" stroke-linecap="round"/>
<line x1="47.75" y1="444.81" x2="47.01" y2="447.42" stroke="#b2b2b2" stroke-width="1.4" stroke-linecap="round"/>
<line x1="58.13" y1="443.14" x2="57.11" y2="446.71" stroke="#000" stroke-opacity="0.7" stroke-width="4.6" stroke-linecap="round"/>
<line x1="57.83" y1="442.54" x2="56.81" y2="446.11" stroke="#ececec" stroke-width="3.1" stroke-linecap="round"/>
<line x1="57.76" y1="442.81" x2="56.89" y2="445.84" stroke="#b2b2b2" stroke-width="1.4" stroke-linecap="round"/>
<line x1="56.23" y1="445.67" x2="57.42" y2="449.98" stroke="#000" stroke-opacity="0.7" stroke-width="4.6" stroke-linecap="round"/>
<line x1="55.93" y1="445.07" x2="57.12" y2="449.38" stroke="#ececec" stroke-width="3.1" stroke-linecap="round"/>
<line x1="56.02" y1="445.39" x2="57.03" y2="449.06" stroke="#b2b2b2" stroke-width="1.4" stroke-linecap="round"/>
<line x1="57.38" y1="448.22" x2="55.18" y2="451.83" stroke="#000" stroke-opacity="0.7" stroke-width="4.6" stroke-linecap="round"/>
<line x1="57.08" y1="447.62" x2="54.88" y2="451.23" stroke="#ececec" stroke-width="3.1" stroke-linecap="round"/>
<line x1="56.91" y1="447.89" x2="55.04" y2="450.96" stroke="#b2b2b2" stroke-width="1.4" stroke-linecap="round"/>
<line x1="54.46" y1="448.08" x2="51.6" y2="450.47" stroke="#000" stroke-opacity="0.7" stroke-width="4.6" stroke-linecap="round"/>
<line x1="54.16" y1="447.48" x2="51.3" y2="449.87" stroke="#ececec" stroke-width="3.1" stroke-linecap="round"/>
<line x1="53.94" y1="447.66" x2="51.52" y2="449.69" stroke="#b2b2b2" stroke-width="1.4" stroke-linecap="round"/>
<line x1="50.58" y1="446.9" x2="54.24" y2="447.24" stroke="#000" stroke-opacity="0.7" stroke-width="4.6" stroke-linecap="round"/>
<line x1="50.28" y1="446.3" x2="53.94" y2="446.64" stroke="#ececec" stroke-width="3.1" stroke-linecap="round"/>
<line x1="50.56" y1="446.33" x2="53.67" y2="446.62" stroke="#b2b2b2" stroke-width="1.4" stroke-linecap="round"/>
<line x1="58.85" y1="445.93" x2="57.42" y2="450.68" stroke="#000" stroke-opacity="0.7" stroke-width="4.6" stroke-linecap="round"/>
<line x1="58.55" y1="445.33" x2="57.12" y2="450.08" stroke="#ececec" stroke-width="3.1" stroke-linecap="round"/>
<line x1="58.44" y1="445.69" x2="57.22" y2="449.72" stroke="#b2b2b2" stroke-width="1.4" stroke-linecap="round"/>
<line x1="58.83" y1="439.63" x2="55.13" y2="439.84" stroke="#000" stroke-opacity="0.7" stroke-width="4.6" stroke-linecap="round"/>
<line x1="58.53" y1="439.03" x2="54.83" y2="439.24" stroke="#ececec" stroke-width="3.1" stroke-linecap="round"/>
<line x1="58.25" y1="439.04" x2="55.1" y2="439.22" stroke="#b2b2b2" stroke-width="1.4" stroke-linecap="round"/>
<line x1="25.19" y1="455.67" x2="28.64" y2="458.76" stroke="#000" stroke-opacity="0.7" stroke-width="4.6" stroke-linecap="round"/>
<line x1="24.89" y1="455.07" x2="28.34" y2="458.16" stroke="#ececec" stroke-width="3.1" stroke-linecap="round"/>
<line x1="25.15" y1="455.3" x2="28.08" y2="457.93" stroke="#b2b2b2" stroke-width="1.4" stroke-linecap="round"/>
<line x1="21.97" y1="457.21" x2="22.47" y2="461.08" stroke="#000" stroke-opacity="0.7" stroke-width="4.6" stroke-linecap="round"/>
<line x1="21.67" y1="456.61" x2="22.17" y2="460.48" stroke="#ececec" stroke-width="3.1" stroke-linecap="round"/>
<line x1="21.71" y1="456.9" x2="22.13" y2="460.19" stroke="#b2b2b2" stroke-width="1.4" stroke-linecap="round"/>
<line x1="23.66" y1="461.56" x2="28.55" y2="461.65" stroke="#000" stroke-opacity="0.7" stroke-width="4.6" stroke-linecap="round"/>
<line x1="23.36" y1="460.96" x2="28.25" y2="461.05" stroke="#ececec" stroke-width="3.1" stroke-linecap="round"/>
<line x1="23.73" y1="460.97" x2="27.88" y2="461.04" stroke="#b2b2b2" stroke-width="1.4" stroke-linecap="round"/>
<line x1="28.95" y1="455.03" x2="25.72" y2="458.46" stroke="#000" stroke-opacity="0.7" stroke-width="4.6" stroke-linecap="round"/>
<line x1="28.65" y1="454.43" x2="25.42" y2="457.86" stroke="#ececec" stroke-width="3.1" stroke-linecap="round"/>
<line x1="28.41" y1="454.69" x2="25.67" y2="457.6" stroke="#b2b2b2" stroke-width="1.4" stroke-linecap="round"/>
<line x1="43.15" y1="455.22" x2="44.04" y2="458.97" stroke="#000" stroke-opacity="0.7" stroke-width="4.6" stroke-linecap="round"/>
<line x1="42.85" y1="454.62" x2="43.74" y2="458.37" stroke="#ececec" stroke-width="3.1" stroke-linecap="round"/>
<line x1="42.91" y1="454.9" x2="43.67" y2="458.09" stroke="#b2b2b2" stroke-width="1.4" stroke-linecap="round"/>
<line x1="36.8" y1="462.34" x2="39.95" y2="464.62" stroke="#000" stroke-opacity="0.7" stroke-width="4.6" stroke-linecap="round"/>
<line x1="36.5" y1="461.74" x2="39.65" y2="464.02" stroke="#ececec" stroke-width="3.1" stroke-linecap="round"/>
<line x1="36.74" y1="461.91" x2="39.41" y2="463.85" stroke="#b2b2b2" stroke-width="1.4" stroke-linecap="round"/>
<line x1="39.65" y1="465.45" x2="41.2" y2="468.4" stroke="#000" stroke-opacity="0.7" stroke-width="4.6" stroke-linecap="round"/>
<line x1="39.35" y1="464.85" x2="40.9" y2="467.8" stroke="#ececec" stroke-width="3.1" stroke-linecap="round"/>
<line x1="39.47" y1="465.07" x2="40.78" y2="467.58" stroke="#b2b2b2" stroke-width="1.4" stroke-linecap="round"/>
<line x1="39.9" y1="464.32" x2="40.43" y2="468.28" stroke="#000" stroke-opacity="0.7" stroke-width="4.6" stroke-linecap="round"/>
<line x1="39.6" y1="463.72" x2="40.13" y2="467.68" stroke="#ececec" stroke-width="3.1" stroke-linecap="round"/>
<line x1="39.64" y1="464.02" x2="40.09" y2="467.38" stroke="#b2b2b2" stroke-width="1.4" stroke-linecap="round"/>
<line x1="45.12" y1="465.93" x2="44.37" y2="468.69" stroke="#000" stroke-opacity="0.7" stroke-width="4.6" stroke-linecap="round"/>
<line x1="44.82" y1="465.33" x2="44.07" y2="468.09" stroke="#ececec" stroke-width="3.1" stroke-linecap="round"/>
<line x1="44.76" y1="465.54" x2="44.13" y2="467.88" stroke="#b2b2b2" stroke-width="1.4" stroke-linecap="round"/>
<line x1="47" y1="463.25" x2="43.25" y2="465.69" stroke="#000" stroke-opacity="0.7" stroke-width="4.6" stroke-linecap="round"/>
<line x1="46.7" y1="462.65" x2="42.95" y2="465.09" stroke="#ececec" stroke-width="3.1" stroke-linecap="round"/>
<line x1="46.42" y1="462.83" x2="43.23" y2="464.9" stroke="#b2b2b2" stroke-width="1.4" stroke-linecap="round"/>
<line x1="40.88" y1="469.86" x2="44.89" y2="470.93" stroke="#000" stroke-opacity="0.7" stroke-width="4.6" stroke-linecap="round"/>
<line x1="40.58" y1="469.26" x2="44.59" y2="470.33" stroke="#ececec" stroke-width="3.1" stroke-linecap="round"/>
<line x1="40.88" y1="469.34" x2="44.29" y2="470.25" stroke="#b2b2b2" stroke-width="1.4" stroke-linecap="round"/>
<line x1="33.29" y1="469.17" x2="36.39" y2="472.25" stroke="#000" stroke-opacity="0.7" stroke-width="4.6" stroke-linecap="round"/>
<line x1="32.99" y1="468.57" x2="36.09" y2="471.65" stroke="#ececec" stroke-width="3.1" stroke-linecap="round"/>
<line x1="33.23" y1="468.8" x2="35.85" y2="471.42" stroke="#b2b2b2" stroke-width="1.4" stroke-linecap="round"/>
<line x1="23.1" y1="465.2" x2="26.32" y2="465.91" stroke="#000" stroke-opacity="0.7" stroke-width="4.6" stroke-linecap="round"/>
<line x1="22.8" y1="464.6" x2="26.02" y2="465.31" stroke="#ececec" stroke-width="3.1" stroke-linecap="round"/>
<line x1="23.04" y1="464.65" x2="25.78" y2="465.26" stroke="#b2b2b2" stroke-width="1.4" stroke-linecap="round"/>
<line x1="29.05" y1="467.26" x2="30.91" y2="469.4" stroke="#000" stroke-opacity="0.7" stroke-width="4.6" stroke-linecap="round"/>
<line x1="28.75" y1="466.66" x2="30.61" y2="468.8" stroke="#ececec" stroke-width="3.1" stroke-linecap="round"/>
<line x1="28.89" y1="466.82" x2="30.47" y2="468.64" stroke="#b2b2b2" stroke-width="1.4" stroke-linecap="round"/>
<line x1="28.74" y1="463.55" x2="29.01" y2="466.78" stroke="#000" stroke-opacity="0.7" stroke-width="4.6" stroke-linecap="round"/>
<line x1="28.44" y1="462.95" x2="28.71" y2="466.18" stroke="#ececec" stroke-width="3.1" stroke-linecap="round"/>
<line x1="28.46" y1="463.19" x2="28.69" y2="465.93" stroke="#b2b2b2" stroke-width="1.4" stroke-linecap="round"/>
<line x1="28.28" y1="471.9" x2="31.18" y2="473.85" stroke="#000" stroke-opacity="0.7" stroke-width="4.6" stroke-linecap="round"/>
<line x1="27.98" y1="471.3" x2="30.88" y2="473.25" stroke="#ececec" stroke-width="3.1" stroke-linecap="round"/>
<line x1="28.2" y1="471.45" x2="30.66" y2="473.1" stroke="#b2b2b2" stroke-width="1.4" stroke-linecap="round"/>
<line x1="20.53" y1="472.65" x2="23.48" y2="474.93" stroke="#000" stroke-opacity="0.7" stroke-width="4.6" stroke-linecap="round"/>
<line x1="20.23" y1="472.05" x2="23.18" y2="474.33" stroke="#ececec" stroke-width="3.1" stroke-linecap="round"/>
<line x1="20.45" y1="472.23" x2="22.96" y2="474.16" stroke="#b2b2b2" stroke-width="1.4" stroke-linecap="round"/>
<line x1="16.44" y1="465.63" x2="18.89" y2="465.77" stroke="#000" stroke-opacity="0.7" stroke-width="4.6" stroke-linecap="round"/>
<line x1="16.14" y1="465.03" x2="18.59" y2="465.17" stroke="#ececec" stroke-width="3.1" stroke-linecap="round"/>
<line x1="16.32" y1="465.04" x2="18.41" y2="465.16" stroke="#b2b2b2" stroke-width="1.4" stroke-linecap="round"/>
<line x1="22.18" y1="473.2" x2="20.5" y2="475.45" stroke="#000" stroke-opacity="0.7" stroke-width="4.6" stroke-linecap="round"/>
<line x1="21.88" y1="472.6" x2="20.2" y2="474.85" stroke="#ececec" stroke-width="3.1" stroke-linecap="round"/>
<line x1="21.76" y1="472.76" x2="20.32" y2="474.68" stroke="#b2b2b2" stroke-width="1.4" stroke-linecap="round"/>
<line x1="20.32" y1="464.84" x2="17.35" y2="465.06" stroke="#000" stroke-opacity="0.7" stroke-width="4.6" stroke-linecap="round"/>
<line x1="20.02" y1="464.24" x2="17.05" y2="464.46" stroke="#ececec" stroke-width="3.1" stroke-linecap="round"/>
<line x1="19.79" y1="464.25" x2="17.27" y2="464.45" stroke="#b2b2b2" stroke-width="1.4" stroke-linecap="round"/>
<line x1="21.11" y1="463.46" x2="19.77" y2="466.12" stroke="#000" stroke-opacity="0.7" stroke-width="4.6" stroke-linecap="round"/>
<line x1="20.81" y1="462.86" x2="19.47" y2="465.52" stroke="#ececec" stroke-width="3.1" stroke-linecap="round"/>
<line x1="20.71" y1="463.06" x2="19.57" y2="465.33" stroke="#b2b2b2" stroke-width="1.4" stroke-linecap="round"/>
<line x1="18.65" y1="471.38" x2="17.36" y2="474.34" stroke="#000" stroke-opacity="0.7" stroke-width="4.6" stroke-linecap="round"/>
<line x1="18.35" y1="470.78" x2="17.06" y2="473.74" stroke="#ececec" stroke-width="3.1" stroke-linecap="round"/>
<line x1="18.25" y1="471" x2="17.15" y2="473.52" stroke="#b2b2b2" stroke-width="1.4" stroke-linecap="round"/>
<line x1="53.7" y1="471.22" x2="49.15" y2="473.09" stroke="#000" stroke-opacity="0.7" stroke-width="4.6" stroke-linecap="round"/>
<line x1="53.4" y1="470.62" x2="48.85" y2="472.49" stroke="#ececec" stroke-width="3.1" stroke-linecap="round"/>
<line x1="53.06" y1="470.76" x2="49.19" y2="472.35" stroke="#b2b2b2" stroke-width="1.4" stroke-linecap="round"/>
<line x1="50.84" y1="473.06" x2="47.69" y2="473.67" stroke="#000" stroke-opacity="0.7" stroke-width="4.6" stroke-linecap="round"/>
<line x1="50.54" y1="472.46" x2="47.39" y2="473.07" stroke="#ececec" stroke-width="3.1" stroke-linecap="round"/>
<line x1="50.3" y1="472.51" x2="47.63" y2="473.02" stroke="#b2b2b2" stroke-width="1.4" stroke-linecap="round"/>
<line x1="55.48" y1="460.17" x2="58.54" y2="460.26" stroke="#000" stroke-opacity="0.7" stroke-width="4.6" stroke-linecap="round"/>
<line x1="55.18" y1="459.57" x2="58.24" y2="459.66" stroke="#ececec" stroke-width="3.1" stroke-linecap="round"/>
<line x1="55.41" y1="459.58" x2="58.01" y2="459.65" stroke="#b2b2b2" stroke-width="1.4" stroke-linecap="round"/>
<line x1="59.87" y1="461.83" x2="55.37" y2="462.37" stroke="#000" stroke-opacity="0.7" stroke-width="4.6" stroke-linecap="round"/>
<line x1="59.57" y1="461.23" x2="55.07" y2="461.77" stroke="#ececec" stroke-width="3.1" stroke-linecap="round"/>
<line x1="59.23" y1="461.27" x2="55.41" y2="461.73" stroke="#b2b2b2" stroke-width="1.4" stroke-linecap="round"/>
<line x1="58.03" y1="461.75" x2="53.39" y2="462.14" stroke="#000" stroke-opacity="0.7" stroke-width="4.6" stroke-linecap="round"/>
<line x1="57.73" y1="461.15" x2="53.09" y2="461.54" stroke="#ececec" stroke-width="3.1" stroke-linecap="round"/>
<line x1="57.39" y1="461.18" x2="53.44" y2="461.51" stroke="#b2b2b2" stroke-width="1.4" stroke-linecap="round"/>
<line x1="55.57" y1="458.57" x2="57.13" y2="461.57" stroke="#000" stroke-opacity="0.7" stroke-width="4.6" stroke-linecap="round"/>
<line x1="55.27" y1="457.97" x2="56.83" y2="460.97" stroke="#ececec" stroke-width="3.1" stroke-linecap="round"/>
<line x1="55.38" y1="458.2" x2="56.71" y2="460.74" stroke="#b2b2b2" stroke-width="1.4" stroke-linecap="round"/>
<line x1="56.49" y1="464.51" x2="59.38" y2="466.53" stroke="#000" stroke-opacity="0.7" stroke-width="4.6" stroke-linecap="round"/>
<line x1="56.19" y1="463.91" x2="59.08" y2="465.93" stroke="#ececec" stroke-width="3.1" stroke-linecap="round"/>
<line x1="56.41" y1="464.06" x2="58.86" y2="465.78" stroke="#b2b2b2" stroke-width="1.4" stroke-linecap="round"/>
<line x1="59.74" y1="473.21" x2="59.74" y2="476.38" stroke="#000" stroke-opacity="0.7" stroke-width="4.6" stroke-linecap="round"/>
<line x1="59.44" y1="472.61" x2="59.44" y2="475.78" stroke="#ececec" stroke-width="3.1" stroke-linecap="round"/>
<line x1="59.44" y1="472.85" x2="59.44" y2="475.54" stroke="#b2b2b2" stroke-width="1.4" stroke-linecap="round"/>
<line x1="54.16" y1="475.39" x2="58.89" y2="475.66" stroke="#000" stroke-opacity="0.7" stroke-width="4.6" stroke-linecap="round"/>
<line x1="53.86" y1="474.79" x2="58.59" y2="475.06" stroke="#ececec" stroke-width="3.1" stroke-linecap="round"/>
<line x1="54.21" y1="474.81" x2="58.23" y2="475.04" stroke="#b2b2b2" stroke-width="1.4" stroke-linecap="round"/>
<line x1="84.01" y1="451.49" x2="80.16" y2="454.62" stroke="#000" stroke-opacity="0.7" stroke-width="4.6" stroke-linecap="round"/>
<line x1="83.71" y1="450.89" x2="79.86" y2="454.02" stroke="#ececec" stroke-width="3.1" stroke-linecap="round"/>
<line x1="83.42" y1="451.12" x2="80.15" y2="453.79" stroke="#b2b2b2" stroke-width="1.4" stroke-linecap="round"/>
<line x1="77.19" y1="450.5" x2="73.57" y2="452.52" stroke="#000" stroke-opacity="0.7" stroke-width="4.6" stroke-linecap="round"/>
<line x1="76.89" y1="449.9" x2="73.27" y2="451.92" stroke="#ececec" stroke-width="3.1" stroke-linecap="round"/>
<line x1="76.62" y1="450.05" x2="73.54" y2="451.77" stroke="#b2b2b2" stroke-width="1.4" stroke-linecap="round"/>
<line x1="89.14" y1="443.22" x2="86.54" y2="447.13" stroke="#000" stroke-opacity="0.7" stroke-width="4.6" stroke-linecap="round"/>
<line x1="88.84" y1="442.62" x2="86.24" y2="446.53" stroke="#ececec" stroke-width="3.1" stroke-linecap="round"/>
<line x1="88.65" y1="442.92" x2="86.44" y2="446.24" stroke="#b2b2b2" stroke-width="1.4" stroke-linecap="round"/>
<line x1="64.47" y1="447.42" x2="62.51" y2="449.71" stroke="#000" stroke-opacity="0.7" stroke-width="4.6" stroke-linecap="round"/>
<line x1="64.17" y1="446.82" x2="62.21" y2="449.11" stroke="#ececec" stroke-width="3.1" stroke-linecap="round"/>
<line x1="64.02" y1="446.99" x2="62.36" y2="448.94" stroke="#b2b2b2" stroke-width="1.4" stroke-linecap="round"/>
<line x1="83.11" y1="448.21" x2="86.85" y2="451.17" stroke="#000" stroke-opacity="0.7" stroke-width="4.6" stroke-linecap="round"/>
<line x1="82.81" y1="447.61" x2="86.55" y2="450.57" stroke="#ececec" stroke-width="3.1" stroke-linecap="round"/>
<line x1="83.09" y1="447.83" x2="86.27" y2="450.35" stroke="#b2b2b2" stroke-width="1.4" stroke-linecap="round"/>
<line x1="79.09" y1="437.77" x2="80.93" y2="441.96" stroke="#000" stroke-opacity="0.7" stroke-width="4.6" stroke-linecap="round"/>
<line x1="78.79" y1="437.17" x2="80.63" y2="441.36" stroke="#ececec" stroke-width="3.1" stroke-linecap="round"/>
<line x1="78.92" y1="437.48" x2="80.49" y2="441.05" stroke="#b2b2b2" stroke-width="1.4" stroke-linecap="round"/>
<line x1="75.41" y1="449.95" x2="73.91" y2="454.36" stroke="#000" stroke-opacity="0.7" stroke-width="4.6" stroke-linecap="round"/>
<line x1="75.11" y1="449.35" x2="73.61" y2="453.76" stroke="#ececec" stroke-width="3.1" stroke-linecap="round"/>
<line x1="75" y1="449.68" x2="73.73" y2="453.43" stroke="#b2b2b2" stroke-width="1.4" stroke-linecap="round"/>
<line x1="93.97" y1="443.57" x2="93.53" y2="446.29" stroke="#000" stroke-opacity="0.7" stroke-width="4.6" stroke-linecap="round"/>
<line x1="93.67" y1="442.97" x2="93.23" y2="445.69" stroke="#ececec" stroke-width="3.1" stroke-linecap="round"/>
<line x1="93.64" y1="443.18" x2="93.27" y2="445.49" stroke="#b2b2b2" stroke-width="1.4" stroke-linecap="round"/>
<line x1="82.99" y1="448.28" x2="80.63" y2="449.33" stroke="#000" stroke-opacity="0.7" stroke-width="4.6" stroke-linecap="round"/>
<line x1="82.69" y1="447.68" x2="80.33" y2="448.73" stroke="#ececec" stroke-width="3.1" stroke-linecap="round"/>
<line x1="82.51" y1="447.76" x2="80.5" y2="448.65" stroke="#b2b2b2" stroke-width="1.4" stroke-linecap="round"/>
<line x1="83.34" y1="437.22" x2="82.17" y2="440.29" stroke="#000" stroke-opacity="0.7" stroke-width="4.6" stroke-linecap="round"/>
<line x1="83.04" y1="436.62" x2="81.87" y2="439.69" stroke="#ececec" stroke-width="3.1" stroke-linecap="round"/>
<line x1="82.95" y1="436.85" x2="81.96" y2="439.46" stroke="#b2b2b2" stroke-width="1.4" stroke-linecap="round"/>
<line x1="79.78" y1="440.32" x2="82.74" y2="442.83" stroke="#000" stroke-opacity="0.7" stroke-width="4.6" stroke-linecap="round"/>
<line x1="79.48" y1="439.72" x2="82.44" y2="442.23" stroke="#ececec" stroke-width="3.1" stroke-linecap="round"/>
<line x1="79.7" y1="439.91" x2="82.22" y2="442.04" stroke="#b2b2b2" stroke-width="1.4" stroke-linecap="round"/>
<line x1="86.97" y1="447.83" x2="86.02" y2="452.45" stroke="#000" stroke-opacity="0.7" stroke-width="4.6" stroke-linecap="round"/>
<line x1="86.67" y1="447.23" x2="85.72" y2="451.85" stroke="#ececec" stroke-width="3.1" stroke-linecap="round"/>
<line x1="86.6" y1="447.57" x2="85.79" y2="451.5" stroke="#b2b2b2" stroke-width="1.4" stroke-linecap="round"/>
<line x1="90.17" y1="443.56" x2="87.72" y2="445.5" stroke="#000" stroke-opacity="0.7" stroke-width="4.6" stroke-linecap="round"/>
<line x1="89.87" y1="442.96" x2="87.42" y2="444.9" stroke="#ececec" stroke-width="3.1" stroke-linecap="round"/>
<line x1="89.69" y1="443.11" x2="87.61" y2="444.75" stroke="#b2b2b2" stroke-width="1.4" stroke-linecap="round"/>
<line x1="78.15" y1="446.03" x2="82.12" y2="447.21" stroke="#000" stroke-opacity="0.7" stroke-width="4.6" stroke-linecap="round"/>
<line x1="77.85" y1="445.43" x2="81.82" y2="446.61" stroke="#ececec" stroke-width="3.1" stroke-linecap="round"/>
<line x1="78.15" y1="445.52" x2="81.52" y2="446.52" stroke="#b2b2b2" stroke-width="1.4" stroke-linecap="round"/>
<line x1="89.67" y1="452.97" x2="91.5" y2="454.68" stroke="#000" stroke-opacity="0.7" stroke-width="4.6" stroke-linecap="round"/>
<line x1="89.37" y1="452.37" x2="91.2" y2="454.08" stroke="#ececec" stroke-width="3.1" stroke-linecap="round"/>
<line x1="89.51" y1="452.5" x2="91.06" y2="453.95" stroke="#b2b2b2" stroke-width="1.4" stroke-linecap="round"/>
<line x1="88.49" y1="446.44" x2="90.82" y2="447.8" stroke="#000" stroke-opacity="0.7" stroke-width="4.6" stroke-linecap="round"/>
<line x1="88.19" y1="445.84" x2="90.52" y2="447.2" stroke="#ececec" stroke-width="3.1" stroke-linecap="round"/>
<line x1="88.36" y1="445.94" x2="90.35" y2="447.09" stroke="#b2b2b2" stroke-width="1.4" stroke-linecap="round"/>
<line x1="81.33" y1="455.84" x2="78.76" y2="456.58" stroke="#000" stroke-opacity="0.7" stroke-width="4.6" stroke-linecap="round"/>
<line x1="81.03" y1="455.24" x2="78.46" y2="455.98" stroke="#ececec" stroke-width="3.1" stroke-linecap="round"/>
<line x1="80.83" y1="455.3" x2="78.65" y2="455.93" stroke="#b2b2b2" stroke-width="1.4" stroke-linecap="round"/>
<line x1="66.49" y1="452.52" x2="69.36" y2="456.32" stroke="#000" stroke-opacity="0.7" stroke-width="4.6" stroke-linecap="round"/>
<line x1="66.19" y1="451.92" x2="69.06" y2="455.72" stroke="#ececec" stroke-width="3.1" stroke-linecap="round"/>
<line x1="66.41" y1="452.2" x2="68.85" y2="455.44" stroke="#b2b2b2" stroke-width="1.4" stroke-linecap="round"/>
<line x1="79.67" y1="453.32" x2="78.45" y2="455.69" stroke="#000" stroke-opacity="0.7" stroke-width="4.6" stroke-linecap="round"/>
<line x1="79.37" y1="452.72" x2="78.15" y2="455.09" stroke="#ececec" stroke-width="3.1" stroke-linecap="round"/>
<line x1="79.28" y1="452.9" x2="78.24" y2="454.91" stroke="#b2b2b2" stroke-width="1.4" stroke-linecap="round"/>
<line x1="79.41" y1="445.87" x2="82.37" y2="449.84" stroke="#000" stroke-opacity="0.7" stroke-width="4.6" stroke-linecap="round"/>
<line x1="79.11" y1="445.27" x2="82.07" y2="449.24" stroke="#ececec" stroke-width="3.1" stroke-linecap="round"/>
<line x1="79.33" y1="445.57" x2="81.85" y2="448.94" stroke="#b2b2b2" stroke-width="1.4" stroke-linecap="round"/>
<line x1="68.91" y1="443.46" x2="72.06" y2="444.09" stroke="#000" stroke-opacity="0.7" stroke-width="4.6" stroke-linecap="round"/>
<line x1="68.61" y1="442.86" x2="71.76" y2="443.49" stroke="#ececec" stroke-width="3.1" stroke-linecap="round"/>
<line x1="68.84" y1="442.91" x2="71.52" y2="443.44" stroke="#b2b2b2" stroke-width="1.4" stroke-linecap="round"/>
<line x1="90.47" y1="441.66" x2="95.09" y2="443.35" stroke="#000" stroke-opacity="0.7" stroke-width="4.6" stroke-linecap="round"/>
<line x1="90.17" y1="441.06" x2="94.79" y2="442.75" stroke="#ececec" stroke-width="3.1" stroke-linecap="round"/>
<line x1="90.52" y1="441.18" x2="94.45" y2="442.62" stroke="#b2b2b2" stroke-width="1.4" stroke-linecap="round"/>
<line x1="82.36" y1="452.82" x2="81.7" y2="457.72" stroke="#000" stroke-opacity="0.7" stroke-width="4.6" stroke-linecap="round"/>
<line x1="82.06" y1="452.22" x2="81.4" y2="457.12" stroke="#ececec" stroke-width="3.1" stroke-linecap="round"/>
<line x1="82.01" y1="452.59" x2="81.45" y2="456.76" stroke="#b2b2b2" stroke-width="1.4" stroke-linecap="round"/>
<line x1="74.57" y1="438.55" x2="74.17" y2="441.59" stroke="#000" stroke-opacity="0.7" stroke-width="4.6" stroke-linecap="round"/>
<line x1="74.27" y1="437.95" x2="73.87" y2="440.99" stroke="#ececec" stroke-width="3.1" stroke-linecap="round"/>
<line x1="74.24" y1="438.18" x2="73.9" y2="440.77" stroke="#b2b2b2" stroke-width="1.4" stroke-linecap="round"/>
<line x1="75.67" y1="451.24" x2="77.33" y2="453.25" stroke="#000" stroke-opacity="0.7" stroke-width="4.6" stroke-linecap="round"/>
<line x1="75.37" y1="450.64" x2="77.03" y2="452.65" stroke="#ececec" stroke-width="3.1" stroke-linecap="round"/>
<line x1="75.5" y1="450.79" x2="76.91" y2="452.5" stroke="#b2b2b2" stroke-width="1.4" stroke-linecap="round"/>
<line x1="90.84" y1="445.06" x2="89.06" y2="448.75" stroke="#000" stroke-opacity="0.7" stroke-width="4.6" stroke-linecap="round"/>
<line x1="90.54" y1="444.46" x2="88.76" y2="448.15" stroke="#ececec" stroke-width="3.1" stroke-linecap="round"/>
<line x1="90.41" y1="444.74" x2="88.89" y2="447.87" stroke="#b2b2b2" stroke-width="1.4" stroke-linecap="round"/>
<line x1="87.79" y1="443.96" x2="89.44" y2="446.7" stroke="#000" stroke-opacity="0.7" stroke-width="4.6" stroke-linecap="round"/>
<line x1="87.49" y1="443.36" x2="89.14" y2="446.1" stroke="#ececec" stroke-width="3.1" stroke-linecap="round"/>
<line x1="87.61" y1="443.56" x2="89.01" y2="445.89" stroke="#b2b2b2" stroke-width="1.4" stroke-linecap="round"/>
<line x1="71.93" y1="454.08" x2="74.68" y2="457.93" stroke="#000" stroke-opacity="0.7" stroke-width="4.6" stroke-linecap="round"/>
<line x1="71.63" y1="453.48" x2="74.38" y2="457.33" stroke="#ececec" stroke-width="3.1" stroke-linecap="round"/>
<line x1="71.84" y1="453.77" x2="74.17" y2="457.04" stroke="#b2b2b2" stroke-width="1.4" stroke-linecap="round"/>
<line x1="69.52" y1="460.92" x2="68.36" y2="464.65" stroke="#000" stroke-opacity="0.7" stroke-width="4.6" stroke-linecap="round"/>
<line x1="69.22" y1="460.32" x2="68.06" y2="464.05" stroke="#ececec" stroke-width="3.1" stroke-linecap="round"/>
<line x1="69.14" y1="460.6" x2="68.15" y2="463.77" stroke="#b2b2b2" stroke-width="1.4" stroke-linecap="round"/>
<line x1="70.86" y1="459.97" x2="73.82" y2="460.66" stroke="#000" stroke-opacity="0.7" stroke-width="4.6" stroke-linecap="round"/>
<line x1="70.56" y1="459.37" x2="73.52" y2="460.06" stroke="#ececec" stroke-width="3.1" stroke-linecap="round"/>
<line x1="70.78" y1="459.42" x2="73.3" y2="460" stroke="#b2b2b2" stroke-width="1.4" stroke-linecap="round"/>
<line x1="70.56" y1="458" x2="69.49" y2="460.36" stroke="#000" stroke-opacity="0.7" stroke-width="4.6" stroke-linecap="round"/>
<line x1="70.26" y1="457.4" x2="69.19" y2="459.76" stroke="#ececec" stroke-width="3.1" stroke-linecap="round"/>
<line x1="70.18" y1="457.57" x2="69.27" y2="459.58" stroke="#b2b2b2" stroke-width="1.4" stroke-linecap="round"/>
<line x1="71.94" y1="463.13" x2="68.6" y2="464.67" stroke="#000" stroke-opacity="0.7" stroke-width="4.6" stroke-linecap="round"/>
<line x1="71.64" y1="462.53" x2="68.3" y2="464.07" stroke="#ececec" stroke-width="3.1" stroke-linecap="round"/>
<line x1="71.39" y1="462.65" x2="68.55" y2="463.96" stroke="#b2b2b2" stroke-width="1.4" stroke-linecap="round"/>
<line x1="73.74" y1="461.98" x2="78.08" y2="463.05" stroke="#000" stroke-opacity="0.7" stroke-width="4.6" stroke-linecap="round"/>
<line x1="73.44" y1="461.38" x2="77.78" y2="462.45" stroke="#ececec" stroke-width="3.1" stroke-linecap="round"/>
<line x1="73.77" y1="461.46" x2="77.45" y2="462.37" stroke="#b2b2b2" stroke-width="1.4" stroke-linecap="round"/>
<line x1="78.06" y1="458.84" x2="73.65" y2="459.05" stroke="#000" stroke-opacity="0.7" stroke-width="4.6" stroke-linecap="round"/>
<line x1="77.76" y1="458.24" x2="73.35" y2="458.45" stroke="#ececec" stroke-width="3.1" stroke-linecap="round"/>
<line x1="77.43" y1="458.26" x2="73.68" y2="458.44" stroke="#b2b2b2" stroke-width="1.4" stroke-linecap="round"/>
<line x1="74.57" y1="455.72" x2="74.45" y2="458.39" stroke="#000" stroke-opacity="0.7" stroke-width="4.6" stroke-linecap="round"/>
<line x1="74.27" y1="455.12" x2="74.15" y2="457.79" stroke="#ececec" stroke-width="3.1" stroke-linecap="round"/>
<line x1="74.26" y1="455.32" x2="74.16" y2="457.59" stroke="#b2b2b2" stroke-width="1.4" stroke-linecap="round"/>
<line x1="74.43" y1="457.27" x2="78.69" y2="459.3" stroke="#000" stroke-opacity="0.7" stroke-width="4.6" stroke-linecap="round"/>
<line x1="74.13" y1="456.67" x2="78.39" y2="458.7" stroke="#ececec" stroke-width="3.1" stroke-linecap="round"/>
<line x1="74.45" y1="456.82" x2="78.08" y2="458.55" stroke="#b2b2b2" stroke-width="1.4" stroke-linecap="round"/>
<line x1="75.19" y1="458.64" x2="72.12" y2="459.61" stroke="#000" stroke-opacity="0.7" stroke-width="4.6" stroke-linecap="round"/>
<line x1="74.89" y1="458.04" x2="71.82" y2="459.01" stroke="#ececec" stroke-width="3.1" stroke-linecap="round"/>
<line x1="74.66" y1="458.11" x2="72.05" y2="458.94" stroke="#b2b2b2" stroke-width="1.4" stroke-linecap="round"/>
<line x1="75.75" y1="463.57" x2="72.54" y2="466.85" stroke="#000" stroke-opacity="0.7" stroke-width="4.6" stroke-linecap="round"/>
<line x1="75.45" y1="462.97" x2="72.24" y2="466.25" stroke="#ececec" stroke-width="3.1" stroke-linecap="round"/>
<line x1="75.21" y1="463.21" x2="72.48" y2="466" stroke="#b2b2b2" stroke-width="1.4" stroke-linecap="round"/>
<line x1="68.34" y1="467.41" x2="71.44" y2="469.09" stroke="#000" stroke-opacity="0.7" stroke-width="4.6" stroke-linecap="round"/>
<line x1="68.04" y1="466.81" x2="71.14" y2="468.49" stroke="#ececec" stroke-width="3.1" stroke-linecap="round"/>
<line x1="68.28" y1="466.93" x2="70.91" y2="468.36" stroke="#b2b2b2" stroke-width="1.4" stroke-linecap="round"/>
<line x1="68.19" y1="465.51" x2="71.18" y2="466.12" stroke="#000" stroke-opacity="0.7" stroke-width="4.6" stroke-linecap="round"/>
<line x1="67.89" y1="464.91" x2="70.88" y2="465.52" stroke="#ececec" stroke-width="3.1" stroke-linecap="round"/>
<line x1="68.12" y1="464.96" x2="70.66" y2="465.48" stroke="#b2b2b2" stroke-width="1.4" stroke-linecap="round"/>
<line x1="79.43" y1="467.47" x2="78.93" y2="471.27" stroke="#000" stroke-opacity="0.7" stroke-width="4.6" stroke-linecap="round"/>
<line x1="79.13" y1="466.87" x2="78.63" y2="470.67" stroke="#ececec" stroke-width="3.1" stroke-linecap="round"/>
<line x1="79.09" y1="467.16" x2="78.67" y2="470.38" stroke="#b2b2b2" stroke-width="1.4" stroke-linecap="round"/>
<line x1="74.07" y1="465.85" x2="75.73" y2="468.85" stroke="#000" stroke-opacity="0.7" stroke-width="4.6" stroke-linecap="round"/>
<line x1="73.77" y1="465.25" x2="75.43" y2="468.25" stroke="#ececec" stroke-width="3.1" stroke-linecap="round"/>
<line x1="73.89" y1="465.48" x2="75.31" y2="468.03" stroke="#b2b2b2" stroke-width="1.4" stroke-linecap="round"/>
<line x1="70.7" y1="469.57" x2="71.76" y2="473.51" stroke="#000" stroke-opacity="0.7" stroke-width="4.6" stroke-linecap="round"/>
<line x1="70.4" y1="468.97" x2="71.46" y2="472.91" stroke="#ececec" stroke-width="3.1" stroke-linecap="round"/>
<line x1="70.48" y1="469.26" x2="71.38" y2="472.61" stroke="#b2b2b2" stroke-width="1.4" stroke-linecap="round"/>
<line x1="67.76" y1="469.26" x2="70.78" y2="470.66" stroke="#000" stroke-opacity="0.7" stroke-width="4.6" stroke-linecap="round"/>
<line x1="67.46" y1="468.66" x2="70.48" y2="470.06" stroke="#ececec" stroke-width="3.1" stroke-linecap="round"/>
<line x1="67.69" y1="468.76" x2="70.25" y2="469.95" stroke="#b2b2b2" stroke-width="1.4" stroke-linecap="round"/>
<line x1="73.82" y1="470.6" x2="75.26" y2="474.92" stroke="#000" stroke-opacity="0.7" stroke-width="4.6" stroke-linecap="round"/>
<line x1="73.52" y1="470" x2="74.96" y2="474.32" stroke="#ececec" stroke-width="3.1" stroke-linecap="round"/>
<line x1="73.63" y1="470.32" x2="74.85" y2="474" stroke="#b2b2b2" stroke-width="1.4" stroke-linecap="round"/>
<line x1="64.07" y1="473.3" x2="67.08" y2="473.37" stroke="#000" stroke-opacity="0.7" stroke-width="4.6" stroke-linecap="round"/>
<line x1="63.77" y1="472.7" x2="66.78" y2="472.77" stroke="#ececec" stroke-width="3.1" stroke-linecap="round"/>
<line x1="64" y1="472.7" x2="66.55" y2="472.76" stroke="#b2b2b2" stroke-width="1.4" stroke-linecap="round"/>
<line x1="64.64" y1="467.83" x2="65.43" y2="471.84" stroke="#000" stroke-opacity="0.7" stroke-width="4.6" stroke-linecap="round"/>
<line x1="64.34" y1="467.23" x2="65.13" y2="471.24" stroke="#ececec" stroke-width="3.1" stroke-linecap="round"/>
<line x1="64.4" y1="467.53" x2="65.07" y2="470.94" stroke="#b2b2b2" stroke-width="1.4" stroke-linecap="round"/>
<line x1="68.29" y1="464.36" x2="68.33" y2="467.38" stroke="#000" stroke-opacity="0.7" stroke-width="4.6" stroke-linecap="round"/>
<line x1="67.99" y1="463.76" x2="68.03" y2="466.78" stroke="#ececec" stroke-width="3.1" stroke-linecap="round"/>
<line x1="67.99" y1="463.99" x2="68.03" y2="466.55" stroke="#b2b2b2" stroke-width="1.4" stroke-linecap="round"/>
<line x1="99.48" y1="440.42" x2="98.83" y2="443.83" stroke="#000" stroke-opacity="0.7" stroke-width="4.6" stroke-linecap="round"/>
<line x1="99.18" y1="439.82" x2="98.53" y2="443.23" stroke="#ececec" stroke-width="3.1" stroke-linecap="round"/>
<line x1="99.13" y1="440.08" x2="98.58" y2="442.98" stroke="#b2b2b2" stroke-width="1.4" stroke-linecap="round"/>
<line x1="104.29" y1="437.65" x2="102.9" y2="440.45" stroke="#000" stroke-opacity="0.7" stroke-width="4.6" stroke-linecap="round"/>
<line x1="103.99" y1="437.05" x2="102.6" y2="439.85" stroke="#ececec" stroke-width="3.1" stroke-linecap="round"/>
<line x1="103.88" y1="437.26" x2="102.71" y2="439.64" stroke="#b2b2b2" stroke-width="1.4" stroke-linecap="round"/>
<line x1="103.42" y1="441.51" x2="99.97" y2="442.92" stroke="#000" stroke-opacity="0.7" stroke-width="4.6" stroke-linecap="round"/>
<line x1="103.12" y1="440.91" x2="99.67" y2="442.32" stroke="#ececec" stroke-width="3.1" stroke-linecap="round"/>
<line x1="102.86" y1="441.02" x2="99.92" y2="442.21" stroke="#b2b2b2" stroke-width="1.4" stroke-linecap="round"/>
<line x1="101.14" y1="443.69" x2="103.76" y2="447.58" stroke="#000" stroke-opacity="0.7" stroke-width="4.6" stroke-linecap="round"/>
<line x1="100.84" y1="443.09" x2="103.46" y2="446.98" stroke="#ececec" stroke-width="3.1" stroke-linecap="round"/>
<line x1="101.04" y1="443.38" x2="103.26" y2="446.69" stroke="#b2b2b2" stroke-width="1.4" stroke-linecap="round"/>
<line x1="100.66" y1="435.96" x2="98.67" y2="438.68" stroke="#000" stroke-opacity="0.7" stroke-width="4.6" stroke-linecap="round"/>
<line x1="100.36" y1="435.36" x2="98.37" y2="438.08" stroke="#ececec" stroke-width="3.1" stroke-linecap="round"/>
<line x1="100.21" y1="435.56" x2="98.52" y2="437.87" stroke="#b2b2b2" stroke-width="1.4" stroke-linecap="round"/>
<line x1="102.76" y1="437.07" x2="98.38" y2="438.54" stroke="#000" stroke-opacity="0.7" stroke-width="4.6" stroke-linecap="round"/>
<line x1="102.46" y1="436.47" x2="98.08" y2="437.94" stroke="#ececec" stroke-width="3.1" stroke-linecap="round"/>
<line x1="102.13" y1="436.58" x2="98.41" y2="437.83" stroke="#b2b2b2" stroke-width="1.4" stroke-linecap="round"/>
<line x1="107.76" y1="467.27" x2="109.77" y2="469.3" stroke="#000" stroke-opacity="0.7" stroke-width="4.6" stroke-linecap="round"/>
<line x1="107.46" y1="466.67" x2="109.47" y2="468.7" stroke="#ececec" stroke-width="3.1" stroke-linecap="round"/>
<line x1="107.61" y1="466.83" x2="109.32" y2="468.55" stroke="#b2b2b2" stroke-width="1.4" stroke-linecap="round"/>
<line x1="105.45" y1="474.42" x2="109.76" y2="475.13" stroke="#000" stroke-opacity="0.7" stroke-width="4.6" stroke-linecap="round"/>
<line x1="105.15" y1="473.82" x2="109.46" y2="474.53" stroke="#ececec" stroke-width="3.1" stroke-linecap="round"/>
<line x1="105.47" y1="473.87" x2="109.14" y2="474.48" stroke="#b2b2b2" stroke-width="1.4" stroke-linecap="round"/>
<line x1="106.67" y1="462.56" x2="106.52" y2="465.86" stroke="#000" stroke-opacity="0.7" stroke-width="4.6" stroke-linecap="round"/>
<line x1="106.37" y1="461.96" x2="106.22" y2="465.26" stroke="#ececec" stroke-width="3.1" stroke-linecap="round"/>
<line x1="106.36" y1="462.21" x2="106.23" y2="465.01" stroke="#b2b2b2" stroke-width="1.4" stroke-linecap="round"/>
<line x1="109.42" y1="474.67" x2="106.92" y2="474.82" stroke="#000" stroke-opacity="0.7" stroke-width="4.6" stroke-linecap="round"/>
<line x1="109.12" y1="474.07" x2="106.62" y2="474.22" stroke="#ececec" stroke-width="3.1" stroke-linecap="round"/>
<line x1="108.93" y1="474.08" x2="106.81" y2="474.21" stroke="#b2b2b2" stroke-width="1.4" stroke-linecap="round"/>
<line x1="22.28" y1="474.7" x2="19.3" y2="475.54" stroke="#000" stroke-opacity="0.7" stroke-width="4.6" stroke-linecap="round"/>
<line x1="21.98" y1="474.1" x2="19" y2="474.94" stroke="#ececec" stroke-width="3.1" stroke-linecap="round"/>
<line x1="21.75" y1="474.16" x2="19.22" y2="474.87" stroke="#b2b2b2" stroke-width="1.4" stroke-linecap="round"/>
<line x1="23.01" y1="475.36" x2="19.12" y2="477.46" stroke="#000" stroke-opacity="0.7" stroke-width="4.6" stroke-linecap="round"/>
<line x1="22.71" y1="474.76" x2="18.82" y2="476.86" stroke="#ececec" stroke-width="3.1" stroke-linecap="round"/>
<line x1="22.41" y1="474.92" x2="19.11" y2="476.71" stroke="#b2b2b2" stroke-width="1.4" stroke-linecap="round"/>
<line x1="27.73" y1="476.86" x2="24.27" y2="477.7" stroke="#000" stroke-opacity="0.7" stroke-width="4.6" stroke-linecap="round"/>
<line x1="27.43" y1="476.26" x2="23.97" y2="477.1" stroke="#ececec" stroke-width="3.1" stroke-linecap="round"/>
<line x1="27.17" y1="476.32" x2="24.23" y2="477.03" stroke="#b2b2b2" stroke-width="1.4" stroke-linecap="round"/>
<line x1="29.76" y1="477.46" x2="30.7" y2="481.85" stroke="#000" stroke-opacity="0.7" stroke-width="4.6" stroke-linecap="round"/>
<line x1="29.46" y1="476.86" x2="30.4" y2="481.25" stroke="#ececec" stroke-width="3.1" stroke-linecap="round"/>
<line x1="29.53" y1="477.19" x2="30.33" y2="480.92" stroke="#b2b2b2" stroke-width="1.4" stroke-linecap="round"/>
<line x1="30.27" y1="481.68" x2="27.66" y2="482.45" stroke="#000" stroke-opacity="0.7" stroke-width="4.6" stroke-linecap="round"/>
<line x1="29.97" y1="481.08" x2="27.36" y2="481.85" stroke="#ececec" stroke-width="3.1" stroke-linecap="round"/>
<line x1="29.78" y1="481.13" x2="27.55" y2="481.79" stroke="#b2b2b2" stroke-width="1.4" stroke-linecap="round"/>
<line x1="28.57" y1="477.85" x2="29.7" y2="481.65" stroke="#000" stroke-opacity="0.7" stroke-width="4.6" stroke-linecap="round"/>
<line x1="28.27" y1="477.25" x2="29.4" y2="481.05" stroke="#ececec" stroke-width="3.1" stroke-linecap="round"/>
<line x1="28.36" y1="477.54" x2="29.32" y2="480.77" stroke="#b2b2b2" stroke-width="1.4" stroke-linecap="round"/>
<line x1="47.94" y1="491.58" x2="45.79" y2="493.74" stroke="#000" stroke-opacity="0.7" stroke-width="4.6" stroke-linecap="round"/>
<line x1="47.64" y1="490.98" x2="45.49" y2="493.14" stroke="#ececec" stroke-width="3.1" stroke-linecap="round"/>
<line x1="47.48" y1="491.14" x2="45.65" y2="492.98" stroke="#b2b2b2" stroke-width="1.4" stroke-linecap="round"/>
<line x1="45.3" y1="490.16" x2="48.84" y2="490.39" stroke="#000" stroke-opacity="0.7" stroke-width="4.6" stroke-linecap="round"/>
<line x1="45" y1="489.56" x2="48.54" y2="489.79" stroke="#ececec" stroke-width="3.1" stroke-linecap="round"/>
<line x1="45.27" y1="489.57" x2="48.27" y2="489.77" stroke="#b2b2b2" stroke-width="1.4" stroke-linecap="round"/>
<line x1="39.48" y1="485.07" x2="43.13" y2="487.84" stroke="#000" stroke-opacity="0.7" stroke-width="4.6" stroke-linecap="round"/>
<line x1="39.18" y1="484.47" x2="42.83" y2="487.24" stroke="#ececec" stroke-width="3.1" stroke-linecap="round"/>
<line x1="39.46" y1="484.68" x2="42.55" y2="487.03" stroke="#b2b2b2" stroke-width="1.4" stroke-linecap="round"/>
<line x1="43.97" y1="493.52" x2="43.14" y2="496.52" stroke="#000" stroke-opacity="0.7" stroke-width="4.6" stroke-linecap="round"/>
<line x1="43.67" y1="492.92" x2="42.84" y2="495.92" stroke="#ececec" stroke-width="3.1" stroke-linecap="round"/>
<line x1="43.61" y1="493.14" x2="42.91" y2="495.69" stroke="#b2b2b2" stroke-width="1.4" stroke-linecap="round"/>
<line x1="46.31" y1="494.48" x2="42.64" y2="497" stroke="#000" stroke-opacity="0.7" stroke-width="4.6" stroke-linecap="round"/>
<line x1="46.01" y1="493.88" x2="42.34" y2="496.4" stroke="#ececec" stroke-width="3.1" stroke-linecap="round"/>
<line x1="45.74" y1="494.07" x2="42.61" y2="496.21" stroke="#b2b2b2" stroke-width="1.4" stroke-linecap="round"/>
<line x1="50.45" y1="488.58" x2="47.15" y2="490.19" stroke="#000" stroke-opacity="0.7" stroke-width="4.6" stroke-linecap="round"/>
<line x1="50.15" y1="487.98" x2="46.85" y2="489.59" stroke="#ececec" stroke-width="3.1" stroke-linecap="round"/>
<line x1="49.9" y1="488.1" x2="47.09" y2="489.47" stroke="#b2b2b2" stroke-width="1.4" stroke-linecap="round"/>
<line x1="43.97" y1="483.85" x2="46.1" y2="486.5" stroke="#000" stroke-opacity="0.7" stroke-width="4.6" stroke-linecap="round"/>
<line x1="43.67" y1="483.25" x2="45.8" y2="485.9" stroke="#ececec" stroke-width="3.1" stroke-linecap="round"/>
<line x1="43.83" y1="483.45" x2="45.64" y2="485.7" stroke="#b2b2b2" stroke-width="1.4" stroke-linecap="round"/>
<line x1="49.57" y1="493.02" x2="47.68" y2="494.95" stroke="#000" stroke-opacity="0.7" stroke-width="4.6" stroke-linecap="round"/>
<line x1="49.27" y1="492.42" x2="47.38" y2="494.35" stroke="#ececec" stroke-width="3.1" stroke-linecap="round"/>
<line x1="49.13" y1="492.56" x2="47.52" y2="494.2" stroke="#b2b2b2" stroke-width="1.4" stroke-linecap="round"/>
<line x1="51.46" y1="482.38" x2="47.1" y2="482.75" stroke="#000" stroke-opacity="0.7" stroke-width="4.6" stroke-linecap="round"/>
<line x1="51.16" y1="481.78" x2="46.8" y2="482.15" stroke="#ececec" stroke-width="3.1" stroke-linecap="round"/>
<line x1="50.84" y1="481.81" x2="47.13" y2="482.12" stroke="#b2b2b2" stroke-width="1.4" stroke-linecap="round"/>
<line x1="57.61" y1="489.88" x2="59.78" y2="493.1" stroke="#000" stroke-opacity="0.7" stroke-width="4.6" stroke-linecap="round"/>
<line x1="57.31" y1="489.28" x2="59.48" y2="492.5" stroke="#ececec" stroke-width="3.1" stroke-linecap="round"/>
<line x1="57.47" y1="489.52" x2="59.32" y2="492.26" stroke="#b2b2b2" stroke-width="1.4" stroke-linecap="round"/>
<line x1="49.71" y1="485.47" x2="53.49" y2="485.48" stroke="#000" stroke-opacity="0.7" stroke-width="4.6" stroke-linecap="round"/>
<line x1="49.41" y1="484.87" x2="53.19" y2="484.88" stroke="#ececec" stroke-width="3.1" stroke-linecap="round"/>
<line x1="49.69" y1="484.87" x2="52.9" y2="484.88" stroke="#b2b2b2" stroke-width="1.4" stroke-linecap="round"/>
<line x1="50.9" y1="486.7" x2="51.9" y2="489.73" stroke="#000" stroke-opacity="0.7" stroke-width="4.6" stroke-linecap="round"/>
<line x1="50.6" y1="486.1" x2="51.6" y2="489.13" stroke="#ececec" stroke-width="3.1" stroke-linecap="round"/>
<line x1="50.68" y1="486.33" x2="51.52" y2="488.9" stroke="#b2b2b2" stroke-width="1.4" stroke-linecap="round"/>
<line x1="57.57" y1="475.06" x2="55.92" y2="478.35" stroke="#000" stroke-opacity="0.7" stroke-width="4.6" stroke-linecap="round"/>
<line x1="57.27" y1="474.46" x2="55.62" y2="477.75" stroke="#ececec" stroke-width="3.1" stroke-linecap="round"/>
<line x1="57.14" y1="474.7" x2="55.74" y2="477.5" stroke="#b2b2b2" stroke-width="1.4" stroke-linecap="round"/>
<line x1="52.65" y1="488.13" x2="54.2" y2="489.98" stroke="#000" stroke-opacity="0.7" stroke-width="4.6" stroke-linecap="round"/>
<line x1="52.35" y1="487.53" x2="53.9" y2="489.38" stroke="#ececec" stroke-width="3.1" stroke-linecap="round"/>
<line x1="52.47" y1="487.67" x2="53.79" y2="489.24" stroke="#b2b2b2" stroke-width="1.4" stroke-linecap="round"/>
<line x1="50.55" y1="477.35" x2="50.39" y2="481.9" stroke="#000" stroke-opacity="0.7" stroke-width="4.6" stroke-linecap="round"/>
<line x1="50.25" y1="476.75" x2="50.09" y2="481.3" stroke="#ececec" stroke-width="3.1" stroke-linecap="round"/>
<line x1="50.23" y1="477.09" x2="50.1" y2="480.96" stroke="#b2b2b2" stroke-width="1.4" stroke-linecap="round"/>
<line x1="59.49" y1="482.8" x2="60.78" y2="487.18" stroke="#000" stroke-opacity="0.7" stroke-width="4.6" stroke-linecap="round"/>
<line x1="59.19" y1="482.2" x2="60.48" y2="486.58" stroke="#ececec" stroke-width="3.1" stroke-linecap="round"/>
<line x1="59.29" y1="482.53" x2="60.38" y2="486.25" stroke="#b2b2b2" stroke-width="1.4" stroke-linecap="round"/>
<line x1="54" y1="473.86" x2="56.75" y2="475.49" stroke="#000" stroke-opacity="0.7" stroke-width="4.6" stroke-linecap="round"/>
<line x1="53.7" y1="473.26" x2="56.45" y2="474.89" stroke="#ececec" stroke-width="3.1" stroke-linecap="round"/>
<line x1="53.91" y1="473.38" x2="56.24" y2="474.77" stroke="#b2b2b2" stroke-width="1.4" stroke-linecap="round"/>
<line x1="50.37" y1="480.09" x2="53.71" y2="480.13" stroke="#000" stroke-opacity="0.7" stroke-width="4.6" stroke-linecap="round"/>
<line x1="50.07" y1="479.49" x2="53.41" y2="479.53" stroke="#ececec" stroke-width="3.1" stroke-linecap="round"/>
<line x1="50.32" y1="479.5" x2="53.16" y2="479.53" stroke="#b2b2b2" stroke-width="1.4" stroke-linecap="round"/>
<line x1="53.81" y1="489.48" x2="50.68" y2="490.93" stroke="#000" stroke-opacity="0.7" stroke-width="4.6" stroke-linecap="round"/>
<line x1="53.51" y1="488.88" x2="50.38" y2="490.33" stroke="#ececec" stroke-width="3.1" stroke-linecap="round"/>
<line x1="53.28" y1="488.98" x2="50.62" y2="490.22" stroke="#b2b2b2" stroke-width="1.4" stroke-linecap="round"/>
<line x1="48.63" y1="473.54" x2="45.3" y2="476.9" stroke="#000" stroke-opacity="0.7" stroke-width="4.6" stroke-linecap="round"/>
<line x1="48.33" y1="472.94" x2="45" y2="476.3" stroke="#ececec" stroke-width="3.1" stroke-linecap="round"/>
<line x1="48.08" y1="473.19" x2="45.25" y2="476.05" stroke="#b2b2b2" stroke-width="1.4" stroke-linecap="round"/>
<line x1="47.42" y1="473.93" x2="45.59" y2="477.56" stroke="#000" stroke-opacity="0.7" stroke-width="4.6" stroke-linecap="round"/>
<line x1="47.12" y1="473.33" x2="45.29" y2="476.96" stroke="#ececec" stroke-width="3.1" stroke-linecap="round"/>
<line x1="46.99" y1="473.6" x2="45.43" y2="476.69" stroke="#b2b2b2" stroke-width="1.4" stroke-linecap="round"/>
<line x1="53.06" y1="503.27" x2="51.41" y2="506.96" stroke="#000" stroke-opacity="0.7" stroke-width="4.6" stroke-linecap="round"/>
<line x1="52.76" y1="502.67" x2="51.11" y2="506.36" stroke="#ececec" stroke-width="3.1" stroke-linecap="round"/>
<line x1="52.64" y1="502.95" x2="51.24" y2="506.08" stroke="#b2b2b2" stroke-width="1.4" stroke-linecap="round"/>
<line x1="62.73" y1="504.32" x2="59.3" y2="507.39" stroke="#000" stroke-opacity="0.7" stroke-width="4.6" stroke-linecap="round"/>
<line x1="62.43" y1="503.72" x2="59" y2="506.79" stroke="#ececec" stroke-width="3.1" stroke-linecap="round"/>
<line x1="62.17" y1="503.95" x2="59.26" y2="506.56" stroke="#b2b2b2" stroke-width="1.4" stroke-linecap="round"/>
<line x1="56.36" y1="502.4" x2="58.59" y2="504.84" stroke="#000" stroke-opacity="0.7" stroke-width="4.6" stroke-linecap="round"/>
<line x1="56.06" y1="501.8" x2="58.29" y2="504.24" stroke="#ececec" stroke-width="3.1" stroke-linecap="round"/>
<line x1="56.23" y1="501.98" x2="58.12" y2="504.06" stroke="#b2b2b2" stroke-width="1.4" stroke-linecap="round"/>
<line x1="51.9" y1="501.61" x2="55.29" y2="503.36" stroke="#000" stroke-opacity="0.7" stroke-width="4.6" stroke-linecap="round"/>
<line x1="51.6" y1="501.01" x2="54.99" y2="502.76" stroke="#ececec" stroke-width="3.1" stroke-linecap="round"/>
<line x1="51.85" y1="501.14" x2="54.73" y2="502.63" stroke="#b2b2b2" stroke-width="1.4" stroke-linecap="round"/>
<line x1="55.94" y1="504.02" x2="59.52" y2="504.54" stroke="#000" stroke-opacity="0.7" stroke-width="4.6" stroke-linecap="round"/>
<line x1="55.64" y1="503.42" x2="59.22" y2="503.94" stroke="#ececec" stroke-width="3.1" stroke-linecap="round"/>
<line x1="55.91" y1="503.46" x2="58.95" y2="503.9" stroke="#b2b2b2" stroke-width="1.4" stroke-linecap="round"/>
<line x1="48.5" y1="505.99" x2="50.04" y2="509.14" stroke="#000" stroke-opacity="0.7" stroke-width="4.6" stroke-linecap="round"/>
<line x1="48.2" y1="505.39" x2="49.74" y2="508.54" stroke="#ececec" stroke-width="3.1" stroke-linecap="round"/>
<line x1="48.32" y1="505.63" x2="49.63" y2="508.3" stroke="#b2b2b2" stroke-width="1.4" stroke-linecap="round"/>
<line x1="56.59" y1="506.88" x2="52.92" y2="507.51" stroke="#000" stroke-opacity="0.7" stroke-width="4.6" stroke-linecap="round"/>
<line x1="56.29" y1="506.28" x2="52.62" y2="506.91" stroke="#ececec" stroke-width="3.1" stroke-linecap="round"/>
<line x1="56.01" y1="506.33" x2="52.9" y2="506.86" stroke="#b2b2b2" stroke-width="1.4" stroke-linecap="round"/>
<line x1="54.36" y1="502.38" x2="53" y2="506.34" stroke="#000" stroke-opacity="0.7" stroke-width="4.6" stroke-linecap="round"/>
<line x1="54.06" y1="501.78" x2="52.7" y2="505.74" stroke="#ececec" stroke-width="3.1" stroke-linecap="round"/>
<line x1="53.95" y1="502.07" x2="52.8" y2="505.44" stroke="#b2b2b2" stroke-width="1.4" stroke-linecap="round"/>
<line x1="71.9" y1="486.81" x2="75.02" y2="490.33" stroke="#000" stroke-opacity="0.7" stroke-width="4.6" stroke-linecap="round"/>
<line x1="71.6" y1="486.21" x2="74.72" y2="489.73" stroke="#ececec" stroke-width="3.1" stroke-linecap="round"/>
<line x1="71.84" y1="486.47" x2="74.49" y2="489.46" stroke="#b2b2b2" stroke-width="1.4" stroke-linecap="round"/>
<line x1="79.67" y1="486.6" x2="81.18" y2="490.04" stroke="#000" stroke-opacity="0.7" stroke-width="4.6" stroke-linecap="round"/>
<line x1="79.37" y1="486" x2="80.88" y2="489.44" stroke="#ececec" stroke-width="3.1" stroke-linecap="round"/>
<line x1="79.48" y1="486.26" x2="80.77" y2="489.18" stroke="#b2b2b2" stroke-width="1.4" stroke-linecap="round"/>
<line x1="64.4" y1="482.78" x2="63.08" y2="485.3" stroke="#000" stroke-opacity="0.7" stroke-width="4.6" stroke-linecap="round"/>
<line x1="64.1" y1="482.18" x2="62.78" y2="484.7" stroke="#ececec" stroke-width="3.1" stroke-linecap="round"/>
<line x1="64" y1="482.37" x2="62.88" y2="484.51" stroke="#b2b2b2" stroke-width="1.4" stroke-linecap="round"/>
<line x1="70.77" y1="475.23" x2="69.72" y2="478.15" stroke="#000" stroke-opacity="0.7" stroke-width="4.6" stroke-linecap="round"/>
<line x1="70.47" y1="474.63" x2="69.42" y2="477.55" stroke="#ececec" stroke-width="3.1" stroke-linecap="round"/>
<line x1="70.39" y1="474.85" x2="69.5" y2="477.33" stroke="#b2b2b2" stroke-width="1.4" stroke-linecap="round"/>
<line x1="74.26" y1="490.43" x2="72.02" y2="492.17" stroke="#000" stroke-opacity="0.7" stroke-width="4.6" stroke-linecap="round"/>
<line x1="73.96" y1="489.83" x2="71.72" y2="491.57" stroke="#ececec" stroke-width="3.1" stroke-linecap="round"/>
<line x1="73.8" y1="489.96" x2="71.88" y2="491.44" stroke="#b2b2b2" stroke-width="1.4" stroke-linecap="round"/>
<line x1="77.62" y1="480.59" x2="74.66" y2="480.93" stroke="#000" stroke-opacity="0.7" stroke-width="4.6" stroke-linecap="round"/>
<line x1="77.32" y1="479.99" x2="74.36" y2="480.33" stroke="#ececec" stroke-width="3.1" stroke-linecap="round"/>
<line x1="77.1" y1="480.02" x2="74.59" y2="480.3" stroke="#b2b2b2" stroke-width="1.4" stroke-linecap="round"/>
<line x1="71.01" y1="476.25" x2="68.65" y2="477.02" stroke="#000" stroke-opacity="0.7" stroke-width="4.6" stroke-linecap="round"/>
<line x1="70.71" y1="475.65" x2="68.35" y2="476.42" stroke="#ececec" stroke-width="3.1" stroke-linecap="round"/>
<line x1="70.53" y1="475.71" x2="68.53" y2="476.36" stroke="#b2b2b2" stroke-width="1.4" stroke-linecap="round"/>
<line x1="69.55" y1="479.88" x2="66.97" y2="482.28" stroke="#000" stroke-opacity="0.7" stroke-width="4.6" stroke-linecap="round"/>
<line x1="69.25" y1="479.28" x2="66.67" y2="481.68" stroke="#ececec" stroke-width="3.1" stroke-linecap="round"/>
<line x1="69.06" y1="479.46" x2="66.86" y2="481.5" stroke="#b2b2b2" stroke-width="1.4" stroke-linecap="round"/>
<line x1="71.51" y1="479.77" x2="75.01" y2="481.78" stroke="#000" stroke-opacity="0.7" stroke-width="4.6" stroke-linecap="round"/>
<line x1="71.21" y1="479.17" x2="74.71" y2="481.18" stroke="#ececec" stroke-width="3.1" stroke-linecap="round"/>
<line x1="71.48" y1="479.32" x2="74.45" y2="481.03" stroke="#b2b2b2" stroke-width="1.4" stroke-linecap="round"/>
<line x1="80.43" y1="481.79" x2="77.3" y2="485.39" stroke="#000" stroke-opacity="0.7" stroke-width="4.6" stroke-linecap="round"/>
<line x1="80.13" y1="481.19" x2="77" y2="484.79" stroke="#ececec" stroke-width="3.1" stroke-linecap="round"/>
<line x1="79.9" y1="481.46" x2="77.23" y2="484.52" stroke="#b2b2b2" stroke-width="1.4" stroke-linecap="round"/>
<line x1="66.57" y1="480.95" x2="69.99" y2="482.54" stroke="#000" stroke-opacity="0.7" stroke-width="4.6" stroke-linecap="round"/>
<line x1="66.27" y1="480.35" x2="69.69" y2="481.94" stroke="#ececec" stroke-width="3.1" stroke-linecap="round"/>
<line x1="66.53" y1="480.47" x2="69.43" y2="481.82" stroke="#b2b2b2" stroke-width="1.4" stroke-linecap="round"/>
<line x1="78.96" y1="489.23" x2="76.58" y2="491.58" stroke="#000" stroke-opacity="0.7" stroke-width="4.6" stroke-linecap="round"/>
<line x1="78.66" y1="488.63" x2="76.28" y2="490.98" stroke="#ececec" stroke-width="3.1" stroke-linecap="round"/>
<line x1="78.48" y1="488.81" x2="76.46" y2="490.81" stroke="#b2b2b2" stroke-width="1.4" stroke-linecap="round"/>
<line x1="71.58" y1="490.47" x2="74.03" y2="493.96" stroke="#000" stroke-opacity="0.7" stroke-width="4.6" stroke-linecap="round"/>
<line x1="71.28" y1="489.87" x2="73.73" y2="493.36" stroke="#ececec" stroke-width="3.1" stroke-linecap="round"/>
<line x1="71.47" y1="490.13" x2="73.55" y2="493.1" stroke="#b2b2b2" stroke-width="1.4" stroke-linecap="round"/>
<line x1="75.49" y1="487.55" x2="78.99" y2="488.68" stroke="#000" stroke-opacity="0.7" stroke-width="4.6" stroke-linecap="round"/>
<line x1="75.19" y1="486.95" x2="78.69" y2="488.08" stroke="#ececec" stroke-width="3.1" stroke-linecap="round"/>
<line x1="75.46" y1="487.03" x2="78.43" y2="488" stroke="#b2b2b2" stroke-width="1.4" stroke-linecap="round"/>
<line x1="75.07" y1="504.88" x2="71.35" y2="506.23" stroke="#000" stroke-opacity="0.7" stroke-width="4.6" stroke-linecap="round"/>
<line x1="74.77" y1="504.28" x2="71.05" y2="505.63" stroke="#ececec" stroke-width="3.1" stroke-linecap="round"/>
<line x1="74.49" y1="504.38" x2="71.33" y2="505.53" stroke="#b2b2b2" stroke-width="1.4" stroke-linecap="round"/>
<line x1="74.46" y1="504.08" x2="70.92" y2="506.4" stroke="#000" stroke-opacity="0.7" stroke-width="4.6" stroke-linecap="round"/>
<line x1="74.16" y1="503.48" x2="70.62" y2="505.8" stroke="#ececec" stroke-width="3.1" stroke-linecap="round"/>
<line x1="73.89" y1="503.65" x2="70.89" y2="505.63" stroke="#b2b2b2" stroke-width="1.4" stroke-linecap="round"/>
<line x1="81.37" y1="501.22" x2="78.5" y2="502.83" stroke="#000" stroke-opacity="0.7" stroke-width="4.6" stroke-linecap="round"/>
<line x1="81.07" y1="500.62" x2="78.2" y2="502.23" stroke="#ececec" stroke-width="3.1" stroke-linecap="round"/>
<line x1="80.85" y1="500.74" x2="78.41" y2="502.11" stroke="#b2b2b2" stroke-width="1.4" stroke-linecap="round"/>
<line x1="78.03" y1="507.4" x2="78.85" y2="509.92" stroke="#000" stroke-opacity="0.7" stroke-width="4.6" stroke-linecap="round"/>
<line x1="77.73" y1="506.8" x2="78.55" y2="509.32" stroke="#ececec" stroke-width="3.1" stroke-linecap="round"/>
<line x1="77.79" y1="506.99" x2="78.48" y2="509.13" stroke="#b2b2b2" stroke-width="1.4" stroke-linecap="round"/>
<line x1="65.1" y1="502.83" x2="67.22" y2="504.72" stroke="#000" stroke-opacity="0.7" stroke-width="4.6" stroke-linecap="round"/>
<line x1="64.8" y1="502.23" x2="66.92" y2="504.12" stroke="#ececec" stroke-width="3.1" stroke-linecap="round"/>
<line x1="64.96" y1="502.37" x2="66.76" y2="503.98" stroke="#b2b2b2" stroke-width="1.4" stroke-linecap="round"/>
<line x1="73.66" y1="496.86" x2="76.74" y2="499.27" stroke="#000" stroke-opacity="0.7" stroke-width="4.6" stroke-linecap="round"/>
<line x1="73.36" y1="496.26" x2="76.44" y2="498.67" stroke="#ececec" stroke-width="3.1" stroke-linecap="round"/>
<line x1="73.6" y1="496.44" x2="76.21" y2="498.49" stroke="#b2b2b2" stroke-width="1.4" stroke-linecap="round"/>
<line x1="72.94" y1="498" x2="69.15" y2="499.11" stroke="#000" stroke-opacity="0.7" stroke-width="4.6" stroke-linecap="round"/>
<line x1="72.64" y1="497.4" x2="68.85" y2="498.51" stroke="#ececec" stroke-width="3.1" stroke-linecap="round"/>
<line x1="72.35" y1="497.48" x2="69.14" y2="498.42" stroke="#b2b2b2" stroke-width="1.4" stroke-linecap="round"/>
<line x1="76.47" y1="502.56" x2="72.43" y2="504.5" stroke="#000" stroke-opacity="0.7" stroke-width="4.6" stroke-linecap="round"/>
<line x1="76.17" y1="501.96" x2="72.13" y2="503.9" stroke="#ececec" stroke-width="3.1" stroke-linecap="round"/>
<line x1="75.86" y1="502.11" x2="72.43" y2="503.75" stroke="#b2b2b2" stroke-width="1.4" stroke-linecap="round"/>
<line x1="71.57" y1="508.15" x2="67.79" y2="509.14" stroke="#000" stroke-opacity="0.7" stroke-width="4.6" stroke-linecap="round"/>
<line x1="71.27" y1="507.55" x2="67.49" y2="508.54" stroke="#ececec" stroke-width="3.1" stroke-linecap="round"/>
<line x1="70.99" y1="507.63" x2="67.77" y2="508.47" stroke="#b2b2b2" stroke-width="1.4" stroke-linecap="round"/>
<line x1="62.77" y1="507.56" x2="66.65" y2="509.57" stroke="#000" stroke-opacity="0.7" stroke-width="4.6" stroke-linecap="round"/>
<line x1="62.47" y1="506.96" x2="66.35" y2="508.97" stroke="#ececec" stroke-width="3.1" stroke-linecap="round"/>
<line x1="62.76" y1="507.11" x2="66.06" y2="508.82" stroke="#b2b2b2" stroke-width="1.4" stroke-linecap="round"/>
<line x1="74.04" y1="501.82" x2="72.67" y2="504.23" stroke="#000" stroke-opacity="0.7" stroke-width="4.6" stroke-linecap="round"/>
<line x1="73.74" y1="501.22" x2="72.37" y2="503.63" stroke="#ececec" stroke-width="3.1" stroke-linecap="round"/>
<line x1="73.64" y1="501.4" x2="72.47" y2="503.45" stroke="#b2b2b2" stroke-width="1.4" stroke-linecap="round"/>
<line x1="77.91" y1="504.19" x2="78.23" y2="506.91" stroke="#000" stroke-opacity="0.7" stroke-width="4.6" stroke-linecap="round"/>
<line x1="77.61" y1="503.59" x2="77.93" y2="506.31" stroke="#ececec" stroke-width="3.1" stroke-linecap="round"/>
<line x1="77.63" y1="503.79" x2="77.9" y2="506.1" stroke="#b2b2b2" stroke-width="1.4" stroke-linecap="round"/>
<line x1="76.18" y1="496.13" x2="78.62" y2="496.6" stroke="#000" stroke-opacity="0.7" stroke-width="4.6" stroke-linecap="round"/>
<line x1="75.88" y1="495.53" x2="78.32" y2="496" stroke="#ececec" stroke-width="3.1" stroke-linecap="round"/>
<line x1="76.06" y1="495.56" x2="78.14" y2="495.97" stroke="#b2b2b2" stroke-width="1.4" stroke-linecap="round"/>
<line x1="71.96" y1="501.47" x2="74.87" y2="502.59" stroke="#000" stroke-opacity="0.7" stroke-width="4.6" stroke-linecap="round"/>
<line x1="71.66" y1="500.87" x2="74.57" y2="501.99" stroke="#ececec" stroke-width="3.1" stroke-linecap="round"/>
<line x1="71.88" y1="500.95" x2="74.35" y2="501.91" stroke="#b2b2b2" stroke-width="1.4" stroke-linecap="round"/>
<line x1="88.27" y1="487.54" x2="85.45" y2="490.46" stroke="#000" stroke-opacity="0.7" stroke-width="4.6" stroke-linecap="round"/>
<line x1="87.97" y1="486.94" x2="85.15" y2="489.86" stroke="#ececec" stroke-width="3.1" stroke-linecap="round"/>
<line x1="87.76" y1="487.16" x2="85.36" y2="489.64" stroke="#b2b2b2" stroke-width="1.4" stroke-linecap="round"/>
<line x1="84.18" y1="477.68" x2="85.58" y2="481.56" stroke="#000" stroke-opacity="0.7" stroke-width="4.6" stroke-linecap="round"/>
<line x1="83.88" y1="477.08" x2="85.28" y2="480.96" stroke="#ececec" stroke-width="3.1" stroke-linecap="round"/>
<line x1="83.98" y1="477.37" x2="85.17" y2="480.67" stroke="#b2b2b2" stroke-width="1.4" stroke-linecap="round"/>
<line x1="82.15" y1="479.47" x2="85.09" y2="482.28" stroke="#000" stroke-opacity="0.7" stroke-width="4.6" stroke-linecap="round"/>
<line x1="81.85" y1="478.87" x2="84.79" y2="481.68" stroke="#ececec" stroke-width="3.1" stroke-linecap="round"/>
<line x1="82.07" y1="479.08" x2="84.57" y2="481.47" stroke="#b2b2b2" stroke-width="1.4" stroke-linecap="round"/>
<line x1="89" y1="489.92" x2="90.79" y2="493.42" stroke="#000" stroke-opacity="0.7" stroke-width="4.6" stroke-linecap="round"/>
<line x1="88.7" y1="489.32" x2="90.49" y2="492.82" stroke="#ececec" stroke-width="3.1" stroke-linecap="round"/>
<line x1="88.83" y1="489.58" x2="90.36" y2="492.56" stroke="#b2b2b2" stroke-width="1.4" stroke-linecap="round"/>
<line x1="82.09" y1="483.14" x2="85.78" y2="483.86" stroke="#000" stroke-opacity="0.7" stroke-width="4.6" stroke-linecap="round"/>
<line x1="81.79" y1="482.54" x2="85.48" y2="483.26" stroke="#ececec" stroke-width="3.1" stroke-linecap="round"/>
<line x1="82.07" y1="482.6" x2="85.21" y2="483.2" stroke="#b2b2b2" stroke-width="1.4" stroke-linecap="round"/>
<line x1="86.1" y1="492.68" x2="83.39" y2="493.76" stroke="#000" stroke-opacity="0.7" stroke-width="4.6" stroke-linecap="round"/>
<line x1="85.8" y1="492.08" x2="83.09" y2="493.16" stroke="#ececec" stroke-width="3.1" stroke-linecap="round"/>
<line x1="85.6" y1="492.16" x2="83.29" y2="493.08" stroke="#b2b2b2" stroke-width="1.4" stroke-linecap="round"/>
<line x1="92.3" y1="492.29" x2="89.35" y2="495.37" stroke="#000" stroke-opacity="0.7" stroke-width="4.6" stroke-linecap="round"/>
<line x1="92" y1="491.69" x2="89.05" y2="494.77" stroke="#ececec" stroke-width="3.1" stroke-linecap="round"/>
<line x1="91.78" y1="491.92" x2="89.27" y2="494.54" stroke="#b2b2b2" stroke-width="1.4" stroke-linecap="round"/>
<line x1="94.44" y1="487.71" x2="91.4" y2="487.93" stroke="#000" stroke-opacity="0.7" stroke-width="4.6" stroke-linecap="round"/>
<line x1="94.14" y1="487.11" x2="91.1" y2="487.33" stroke="#ececec" stroke-width="3.1" stroke-linecap="round"/>
<line x1="93.92" y1="487.12" x2="91.33" y2="487.32" stroke="#b2b2b2" stroke-width="1.4" stroke-linecap="round"/>
<line x1="106.03" y1="482.52" x2="101.9" y2="484.6" stroke="#000" stroke-opacity="0.7" stroke-width="4.6" stroke-linecap="round"/>
<line x1="105.73" y1="481.92" x2="101.6" y2="484" stroke="#ececec" stroke-width="3.1" stroke-linecap="round"/>
<line x1="105.42" y1="482.08" x2="101.91" y2="483.84" stroke="#b2b2b2" stroke-width="1.4" stroke-linecap="round"/>
<line x1="102.05" y1="478.73" x2="102.49" y2="483.22" stroke="#000" stroke-opacity="0.7" stroke-width="4.6" stroke-linecap="round"/>
<line x1="101.75" y1="478.13" x2="102.19" y2="482.62" stroke="#ececec" stroke-width="3.1" stroke-linecap="round"/>
<line x1="101.78" y1="478.46" x2="102.16" y2="482.28" stroke="#b2b2b2" stroke-width="1.4" stroke-linecap="round"/>
<line x1="96.4" y1="482.1" x2="96.16" y2="484.59" stroke="#000" stroke-opacity="0.7" stroke-width="4.6" stroke-linecap="round"/>
<line x1="96.1" y1="481.5" x2="95.86" y2="483.99" stroke="#ececec" stroke-width="3.1" stroke-linecap="round"/>
<line x1="96.09" y1="481.69" x2="95.88" y2="483.8" stroke="#b2b2b2" stroke-width="1.4" stroke-linecap="round"/>
<line x1="99.46" y1="479.71" x2="97.38" y2="482.44" stroke="#000" stroke-opacity="0.7" stroke-width="4.6" stroke-linecap="round"/>
<line x1="99.16" y1="479.11" x2="97.08" y2="481.84" stroke="#ececec" stroke-width="3.1" stroke-linecap="round"/>
<line x1="99" y1="479.32" x2="97.23" y2="481.63" stroke="#b2b2b2" stroke-width="1.4" stroke-linecap="round"/>
<line x1="99.41" y1="479.67" x2="103.03" y2="480.73" stroke="#000" stroke-opacity="0.7" stroke-width="4.6" stroke-linecap="round"/>
<line x1="99.11" y1="479.07" x2="102.73" y2="480.13" stroke="#ececec" stroke-width="3.1" stroke-linecap="round"/>
<line x1="99.38" y1="479.15" x2="102.45" y2="480.05" stroke="#b2b2b2" stroke-width="1.4" stroke-linecap="round"/>
<line x1="100.62" y1="478.38" x2="101.51" y2="480.71" stroke="#000" stroke-opacity="0.7" stroke-width="4.6" stroke-linecap="round"/>
<line x1="100.32" y1="477.78" x2="101.21" y2="480.11" stroke="#ececec" stroke-width="3.1" stroke-linecap="round"/>
<line x1="100.39" y1="477.95" x2="101.14" y2="479.93" stroke="#b2b2b2" stroke-width="1.4" stroke-linecap="round"/>
<line x1="101.81" y1="486.64" x2="99.62" y2="488.29" stroke="#000" stroke-opacity="0.7" stroke-width="4.6" stroke-linecap="round"/>
<line x1="101.51" y1="486.04" x2="99.32" y2="487.69" stroke="#ececec" stroke-width="3.1" stroke-linecap="round"/>
<line x1="101.35" y1="486.16" x2="99.49" y2="487.56" stroke="#b2b2b2" stroke-width="1.4" stroke-linecap="round"/>
<line x1="101.5" y1="484.61" x2="102.24" y2="487.71" stroke="#000" stroke-opacity="0.7" stroke-width="4.6" stroke-linecap="round"/>
<line x1="101.2" y1="484.01" x2="101.94" y2="487.11" stroke="#ececec" stroke-width="3.1" stroke-linecap="round"/>
<line x1="101.25" y1="484.24" x2="101.89" y2="486.88" stroke="#b2b2b2" stroke-width="1.4" stroke-linecap="round"/>
<line x1="100.17" y1="491.51" x2="101.76" y2="494.36" stroke="#000" stroke-opacity="0.7" stroke-width="4.6" stroke-linecap="round"/>
<line x1="99.87" y1="490.91" x2="101.46" y2="493.76" stroke="#ececec" stroke-width="3.1" stroke-linecap="round"/>
<line x1="99.99" y1="491.12" x2="101.34" y2="493.54" stroke="#b2b2b2" stroke-width="1.4" stroke-linecap="round"/>
<line x1="99.66" y1="485.15" x2="103.37" y2="486.42" stroke="#000" stroke-opacity="0.7" stroke-width="4.6" stroke-linecap="round"/>
<line x1="99.36" y1="484.55" x2="103.07" y2="485.82" stroke="#ececec" stroke-width="3.1" stroke-linecap="round"/>
<line x1="99.64" y1="484.65" x2="102.79" y2="485.72" stroke="#b2b2b2" stroke-width="1.4" stroke-linecap="round"/>
<line x1="99.26" y1="496.61" x2="96.1" y2="500.45" stroke="#000" stroke-opacity="0.7" stroke-width="4.6" stroke-linecap="round"/>
<line x1="98.96" y1="496.01" x2="95.8" y2="499.85" stroke="#ececec" stroke-width="3.1" stroke-linecap="round"/>
<line x1="98.73" y1="496.3" x2="96.04" y2="499.56" stroke="#b2b2b2" stroke-width="1.4" stroke-linecap="round"/>
<line x1="103.94" y1="496.96" x2="100.34" y2="498.16" stroke="#000" stroke-opacity="0.7" stroke-width="4.6" stroke-linecap="round"/>
<line x1="103.64" y1="496.36" x2="100.04" y2="497.56" stroke="#ececec" stroke-width="3.1" stroke-linecap="round"/>
<line x1="103.37" y1="496.45" x2="100.31" y2="497.47" stroke="#b2b2b2" stroke-width="1.4" stroke-linecap="round"/>
<line x1="100.7" y1="497.68" x2="101.81" y2="500.26" stroke="#000" stroke-opacity="0.7" stroke-width="4.6" stroke-linecap="round"/>
<line x1="100.4" y1="497.08" x2="101.51" y2="499.66" stroke="#ececec" stroke-width="3.1" stroke-linecap="round"/>
<line x1="100.48" y1="497.27" x2="101.43" y2="499.46" stroke="#b2b2b2" stroke-width="1.4" stroke-linecap="round"/>
<line x1="98.48" y1="499.77" x2="97.71" y2="502.97" stroke="#000" stroke-opacity="0.7" stroke-width="4.6" stroke-linecap="round"/>
<line x1="98.18" y1="499.17" x2="97.41" y2="502.37" stroke="#ececec" stroke-width="3.1" stroke-linecap="round"/>
<line x1="98.13" y1="499.41" x2="97.47" y2="502.13" stroke="#b2b2b2" stroke-width="1.4" stroke-linecap="round"/>
<line x1="103.45" y1="501.26" x2="105.71" y2="504.67" stroke="#000" stroke-opacity="0.7" stroke-width="4.6" stroke-linecap="round"/>
<line x1="103.15" y1="500.66" x2="105.41" y2="504.07" stroke="#ececec" stroke-width="3.1" stroke-linecap="round"/>
<line x1="103.32" y1="500.92" x2="105.24" y2="503.82" stroke="#b2b2b2" stroke-width="1.4" stroke-linecap="round"/>
<line x1="99.97" y1="503.62" x2="97.68" y2="505.93" stroke="#000" stroke-opacity="0.7" stroke-width="4.6" stroke-linecap="round"/>
<line x1="99.67" y1="503.02" x2="97.38" y2="505.33" stroke="#ececec" stroke-width="3.1" stroke-linecap="round"/>
<line x1="99.49" y1="503.19" x2="97.55" y2="505.15" stroke="#b2b2b2" stroke-width="1.4" stroke-linecap="round"/>
<line x1="83.66" y1="501.71" x2="80.97" y2="502.45" stroke="#000" stroke-opacity="0.7" stroke-width="4.6" stroke-linecap="round"/>
<line x1="83.36" y1="501.11" x2="80.67" y2="501.85" stroke="#ececec" stroke-width="3.1" stroke-linecap="round"/>
<line x1="83.16" y1="501.17" x2="80.87" y2="501.8" stroke="#b2b2b2" stroke-width="1.4" stroke-linecap="round"/>
<line x1="84.81" y1="503.9" x2="82.23" y2="504.07" stroke="#000" stroke-opacity="0.7" stroke-width="4.6" stroke-linecap="round"/>
<line x1="84.51" y1="503.3" x2="81.93" y2="503.47" stroke="#ececec" stroke-width="3.1" stroke-linecap="round"/>
<line x1="84.31" y1="503.31" x2="82.13" y2="503.45" stroke="#b2b2b2" stroke-width="1.4" stroke-linecap="round"/>
<line x1="93.8" y1="511.1" x2="104.8" y2="508.9" stroke="#000" stroke-opacity="0.7" stroke-width="3.9" stroke-linecap="round"/>
<line x1="93.5" y1="510.5" x2="104.5" y2="508.3" stroke="#ececec" stroke-width="2.4" stroke-linecap="round"/>
<line x1="94.33" y1="510.33" x2="103.67" y2="508.47" stroke="#b2b2b2" stroke-width="1.08" stroke-linecap="round"/>
</g></g>
<rect x="16" y="436" width="1.1" height="77.9" fill="#6c6c6c"/>
<rect x="16" y="513.9" width="92.6" height="5.6" fill="#0d0d0d"/>
<rect x="18.48" y="515.1" width="2.87" height="0.6" fill="#8a8a8a"/>
<rect x="23.13" y="515.1" width="2.95" height="0.6" fill="#8a8a8a"/>
<rect x="27.22" y="515.1" width="2.89" height="0.6" fill="#8a8a8a"/>
<rect x="31.52" y="515.1" width="2.7" height="0.6" fill="#8a8a8a"/>
<rect x="34.93" y="515.1" width="2.29" height="0.6" fill="#8a8a8a"/>
<rect x="39.58" y="515.1" width="2.99" height="0.6" fill="#8a8a8a"/>
<rect x="43.98" y="515.1" width="2.55" height="0.6" fill="#8a8a8a"/>
<rect x="48.15" y="515.1" width="2.04" height="0.6" fill="#8a8a8a"/>
<rect x="52.54" y="515.1" width="2.47" height="0.6" fill="#8a8a8a"/>
<rect x="56.2" y="515.1" width="2.2" height="0.6" fill="#8a8a8a"/>
<rect x="60.98" y="515.1" width="2.3" height="0.6" fill="#8a8a8a"/>
<rect x="64.37" y="515.1" width="1.72" height="0.6" fill="#8a8a8a"/>
<rect x="69.09" y="515.1" width="2.34" height="0.6" fill="#8a8a8a"/>
<rect x="73.51" y="515.1" width="1.78" height="0.6" fill="#8a8a8a"/>
<rect x="18" y="517.4" width="1.8" height="0.5" fill="#777"/>
<rect x="21.6" y="517.4" width="1.8" height="0.5" fill="#777"/>
<rect x="25.2" y="517.4" width="1.8" height="0.5" fill="#777"/>
<rect x="28.8" y="517.4" width="1.8" height="0.5" fill="#777"/>
<rect x="32.4" y="517.4" width="1.8" height="0.5" fill="#777"/>
<rect x="36" y="517.4" width="1.8" height="0.5" fill="#777"/>
<line x1="88.1" y1="516.1" x2="95.1" y2="516.1" stroke="#f2f2f2" stroke-width="1"/>
<text x="108.4" y="518.9" font-size="7.6" fill="#f2f2f2" text-anchor="end">2&#181;m</text>
<rect x="117.6" y="435.2" width="90.8" height="84.3" fill="#464646"/>
<clipPath id="cp2"><rect x="117.6" y="435.2" width="90.8" height="78.7"/></clipPath>
<g clip-path="url(#cp2)"><g filter="url(#semblur)">
<circle cx="199.5" cy="437.8" r="0.85" fill="#c8c8c8"/>
<circle cx="205" cy="457" r="0.85" fill="#c8c8c8"/>
<circle cx="154.5" cy="438.5" r="0.85" fill="#c8c8c8"/>
<circle cx="160" cy="455" r="0.85" fill="#c8c8c8"/>
<circle cx="152" cy="503" r="0.85" fill="#c8c8c8"/>
<circle cx="195" cy="506" r="0.85" fill="#c8c8c8"/>
<circle cx="204.41" cy="509.41" r="0.45" fill="#6e6e6e"/>
<circle cx="122.73" cy="441.85" r="0.45" fill="#6e6e6e"/>
<circle cx="193.46" cy="492.83" r="0.45" fill="#6e6e6e"/>
<circle cx="178.41" cy="459.33" r="0.45" fill="#6e6e6e"/>
<circle cx="172.62" cy="482.71" r="0.45" fill="#6e6e6e"/>
<circle cx="170.37" cy="447.6" r="0.45" fill="#6e6e6e"/>
<circle cx="156.7" cy="466.01" r="0.45" fill="#6e6e6e"/>
<circle cx="183.25" cy="513.09" r="0.45" fill="#6e6e6e"/>
<circle cx="203.81" cy="477.81" r="0.45" fill="#6e6e6e"/>
<circle cx="157.99" cy="456.2" r="0.45" fill="#6e6e6e"/>
<circle cx="120.86" cy="437.35" r="0.45" fill="#6e6e6e"/>
<circle cx="159.81" cy="460.14" r="0.45" fill="#6e6e6e"/>
<circle cx="152.11" cy="505.03" r="0.45" fill="#6e6e6e"/>
<circle cx="165.34" cy="479.09" r="0.45" fill="#6e6e6e"/>
<line x1="121.8" y1="443" x2="126.2" y2="441.2" stroke="#000" stroke-opacity="0.7" stroke-width="4.6" stroke-linecap="round"/>
<line x1="121.5" y1="442.4" x2="125.9" y2="440.6" stroke="#e6e6e6" stroke-width="3.1" stroke-linecap="round"/>
<line x1="121.83" y1="442.26" x2="125.57" y2="440.74" stroke="#a0a0a0" stroke-width="1.4" stroke-linecap="round"/>
<line x1="128.4" y1="442.7" x2="133.3" y2="437.8" stroke="#000" stroke-opacity="0.7" stroke-width="4.6" stroke-linecap="round"/>
<line x1="128.1" y1="442.1" x2="133" y2="437.2" stroke="#e6e6e6" stroke-width="3.1" stroke-linecap="round"/>
<line x1="128.47" y1="441.73" x2="132.63" y2="437.57" stroke="#a0a0a0" stroke-width="1.4" stroke-linecap="round"/>
<line x1="124" y1="448.6" x2="131.4" y2="446" stroke="#000" stroke-opacity="0.7" stroke-width="4.6" stroke-linecap="round"/>
<line x1="123.7" y1="448" x2="131.1" y2="445.4" stroke="#e6e6e6" stroke-width="3.1" stroke-linecap="round"/>
<line x1="124.26" y1="447.81" x2="130.54" y2="445.59" stroke="#a0a0a0" stroke-width="1.4" stroke-linecap="round"/>
<line x1="124.7" y1="457.1" x2="131.4" y2="450.4" stroke="#000" stroke-opacity="0.7" stroke-width="4.6" stroke-linecap="round"/>
<line x1="124.4" y1="456.5" x2="131.1" y2="449.8" stroke="#e6e6e6" stroke-width="3.1" stroke-linecap="round"/>
<line x1="124.9" y1="456" x2="130.6" y2="450.3" stroke="#a0a0a0" stroke-width="1.4" stroke-linecap="round"/>
<line x1="117.8" y1="451.9" x2="121.8" y2="454.2" stroke="#000" stroke-opacity="0.7" stroke-width="4.6" stroke-linecap="round"/>
<line x1="117.5" y1="451.3" x2="121.5" y2="453.6" stroke="#e6e6e6" stroke-width="3.1" stroke-linecap="round"/>
<line x1="117.8" y1="451.47" x2="121.2" y2="453.43" stroke="#a0a0a0" stroke-width="1.4" stroke-linecap="round"/>
<line x1="118.9" y1="457.9" x2="121.8" y2="454.9" stroke="#000" stroke-opacity="0.7" stroke-width="4.6" stroke-linecap="round"/>
<line x1="118.6" y1="457.3" x2="121.5" y2="454.3" stroke="#e6e6e6" stroke-width="3.1" stroke-linecap="round"/>
<line x1="118.82" y1="457.07" x2="121.28" y2="454.53" stroke="#a0a0a0" stroke-width="1.4" stroke-linecap="round"/>
<line x1="132.1" y1="459.4" x2="137.3" y2="449.7" stroke="#000" stroke-opacity="0.7" stroke-width="4.6" stroke-linecap="round"/>
<line x1="131.8" y1="458.8" x2="137" y2="449.1" stroke="#e6e6e6" stroke-width="3.1" stroke-linecap="round"/>
<line x1="132.19" y1="458.07" x2="136.61" y2="449.83" stroke="#a0a0a0" stroke-width="1.4" stroke-linecap="round"/>
<line x1="135.5" y1="458.6" x2="141.8" y2="449.7" stroke="#000" stroke-opacity="0.7" stroke-width="4.6" stroke-linecap="round"/>
<line x1="135.2" y1="458" x2="141.5" y2="449.1" stroke="#e6e6e6" stroke-width="3.1" stroke-linecap="round"/>
<line x1="135.67" y1="457.33" x2="141.03" y2="449.77" stroke="#a0a0a0" stroke-width="1.4" stroke-linecap="round"/>
<line x1="136.6" y1="440.1" x2="143.3" y2="440.1" stroke="#000" stroke-opacity="0.7" stroke-width="4.6" stroke-linecap="round"/>
<line x1="136.3" y1="439.5" x2="143" y2="439.5" stroke="#e6e6e6" stroke-width="3.1" stroke-linecap="round"/>
<line x1="136.8" y1="439.5" x2="142.5" y2="439.5" stroke="#a0a0a0" stroke-width="1.4" stroke-linecap="round"/>
<line x1="136.2" y1="443" x2="139.6" y2="445.3" stroke="#000" stroke-opacity="0.7" stroke-width="4.6" stroke-linecap="round"/>
<line x1="135.9" y1="442.4" x2="139.3" y2="444.7" stroke="#e6e6e6" stroke-width="3.1" stroke-linecap="round"/>
<line x1="136.16" y1="442.57" x2="139.05" y2="444.53" stroke="#a0a0a0" stroke-width="1.4" stroke-linecap="round"/>
<line x1="141.1" y1="444.5" x2="149.2" y2="448.6" stroke="#000" stroke-opacity="0.7" stroke-width="4.6" stroke-linecap="round"/>
<line x1="140.8" y1="443.9" x2="148.9" y2="448" stroke="#e6e6e6" stroke-width="3.1" stroke-linecap="round"/>
<line x1="141.41" y1="444.21" x2="148.29" y2="447.69" stroke="#a0a0a0" stroke-width="1.4" stroke-linecap="round"/>
<line x1="142.6" y1="450.9" x2="145.5" y2="450.2" stroke="#000" stroke-opacity="0.7" stroke-width="4.6" stroke-linecap="round"/>
<line x1="142.3" y1="450.3" x2="145.2" y2="449.6" stroke="#e6e6e6" stroke-width="3.1" stroke-linecap="round"/>
<line x1="142.52" y1="450.25" x2="144.98" y2="449.65" stroke="#a0a0a0" stroke-width="1.4" stroke-linecap="round"/>
<line x1="139.6" y1="455.6" x2="144" y2="460.1" stroke="#000" stroke-opacity="0.7" stroke-width="4.6" stroke-linecap="round"/>
<line x1="139.3" y1="455" x2="143.7" y2="459.5" stroke="#e6e6e6" stroke-width="3.1" stroke-linecap="round"/>
<line x1="139.63" y1="455.34" x2="143.37" y2="459.16" stroke="#a0a0a0" stroke-width="1.4" stroke-linecap="round"/>
<line x1="122.5" y1="461.6" x2="124" y2="472.7" stroke="#000" stroke-opacity="0.7" stroke-width="4.6" stroke-linecap="round"/>
<line x1="122.2" y1="461" x2="123.7" y2="472.1" stroke="#e6e6e6" stroke-width="3.1" stroke-linecap="round"/>
<line x1="122.31" y1="461.83" x2="123.59" y2="471.27" stroke="#a0a0a0" stroke-width="1.4" stroke-linecap="round"/>
<line x1="128.4" y1="465.3" x2="140.3" y2="463.1" stroke="#000" stroke-opacity="0.7" stroke-width="4.6" stroke-linecap="round"/>
<line x1="128.1" y1="464.7" x2="140" y2="462.5" stroke="#e6e6e6" stroke-width="3.1" stroke-linecap="round"/>
<line x1="128.99" y1="464.53" x2="139.11" y2="462.67" stroke="#a0a0a0" stroke-width="1.4" stroke-linecap="round"/>
<line x1="127" y1="467.5" x2="129.9" y2="472.7" stroke="#000" stroke-opacity="0.7" stroke-width="4.6" stroke-linecap="round"/>
<line x1="126.7" y1="466.9" x2="129.6" y2="472.1" stroke="#e6e6e6" stroke-width="3.1" stroke-linecap="round"/>
<line x1="126.92" y1="467.29" x2="129.38" y2="471.71" stroke="#a0a0a0" stroke-width="1.4" stroke-linecap="round"/>
<line x1="131.4" y1="470.7" x2="138.1" y2="474.3" stroke="#000" stroke-opacity="0.7" stroke-width="4.6" stroke-linecap="round"/>
<line x1="131.1" y1="470.1" x2="137.8" y2="473.7" stroke="#e6e6e6" stroke-width="3.1" stroke-linecap="round"/>
<line x1="131.6" y1="470.37" x2="137.3" y2="473.43" stroke="#a0a0a0" stroke-width="1.4" stroke-linecap="round"/>
<line x1="143.3" y1="465.3" x2="147" y2="472.7" stroke="#000" stroke-opacity="0.7" stroke-width="4.6" stroke-linecap="round"/>
<line x1="143" y1="464.7" x2="146.7" y2="472.1" stroke="#e6e6e6" stroke-width="3.1" stroke-linecap="round"/>
<line x1="143.28" y1="465.25" x2="146.42" y2="471.55" stroke="#a0a0a0" stroke-width="1.4" stroke-linecap="round"/>
<line x1="141.8" y1="469.7" x2="145.5" y2="474.9" stroke="#000" stroke-opacity="0.7" stroke-width="4.6" stroke-linecap="round"/>
<line x1="141.5" y1="469.1" x2="145.2" y2="474.3" stroke="#e6e6e6" stroke-width="3.1" stroke-linecap="round"/>
<line x1="141.78" y1="469.49" x2="144.92" y2="473.91" stroke="#a0a0a0" stroke-width="1.4" stroke-linecap="round"/>
<line x1="153.8" y1="474.1" x2="163.3" y2="471.2" stroke="#000" stroke-opacity="0.7" stroke-width="4.6" stroke-linecap="round"/>
<line x1="153.5" y1="473.5" x2="163" y2="470.6" stroke="#e6e6e6" stroke-width="3.1" stroke-linecap="round"/>
<line x1="154.21" y1="473.28" x2="162.29" y2="470.82" stroke="#a0a0a0" stroke-width="1.4" stroke-linecap="round"/>
<line x1="118.3" y1="436.8" x2="124.7" y2="437.6" stroke="#000" stroke-opacity="0.7" stroke-width="4.6" stroke-linecap="round"/>
<line x1="118" y1="436.2" x2="124.4" y2="437" stroke="#e6e6e6" stroke-width="3.1" stroke-linecap="round"/>
<line x1="118.48" y1="436.26" x2="123.92" y2="436.94" stroke="#a0a0a0" stroke-width="1.4" stroke-linecap="round"/>
<line x1="127.3" y1="436.6" x2="135.8" y2="436.6" stroke="#000" stroke-opacity="0.7" stroke-width="4.6" stroke-linecap="round"/>
<line x1="127" y1="436" x2="135.5" y2="436" stroke="#e6e6e6" stroke-width="3.1" stroke-linecap="round"/>
<line x1="127.64" y1="436" x2="134.86" y2="436" stroke="#a0a0a0" stroke-width="1.4" stroke-linecap="round"/>
<line x1="119.3" y1="445.1" x2="120.8" y2="449.6" stroke="#000" stroke-opacity="0.7" stroke-width="4.6" stroke-linecap="round"/>
<line x1="119" y1="444.5" x2="120.5" y2="449" stroke="#e6e6e6" stroke-width="3.1" stroke-linecap="round"/>
<line x1="119.11" y1="444.84" x2="120.39" y2="448.66" stroke="#a0a0a0" stroke-width="1.4" stroke-linecap="round"/>
<line x1="177.1" y1="436.1" x2="178.3" y2="443" stroke="#000" stroke-opacity="0.7" stroke-width="4.6" stroke-linecap="round"/>
<line x1="176.8" y1="435.5" x2="178" y2="442.4" stroke="#e6e6e6" stroke-width="3.1" stroke-linecap="round"/>
<line x1="176.89" y1="436.02" x2="177.91" y2="441.88" stroke="#a0a0a0" stroke-width="1.4" stroke-linecap="round"/>
<line x1="180.1" y1="437.1" x2="183.1" y2="446" stroke="#000" stroke-opacity="0.7" stroke-width="4.6" stroke-linecap="round"/>
<line x1="179.8" y1="436.5" x2="182.8" y2="445.4" stroke="#e6e6e6" stroke-width="3.1" stroke-linecap="round"/>
<line x1="180.03" y1="437.17" x2="182.58" y2="444.73" stroke="#a0a0a0" stroke-width="1.4" stroke-linecap="round"/>
<line x1="174.2" y1="449.7" x2="183.8" y2="454.2" stroke="#000" stroke-opacity="0.7" stroke-width="4.6" stroke-linecap="round"/>
<line x1="173.9" y1="449.1" x2="183.5" y2="453.6" stroke="#e6e6e6" stroke-width="3.1" stroke-linecap="round"/>
<line x1="174.62" y1="449.44" x2="182.78" y2="453.26" stroke="#a0a0a0" stroke-width="1.4" stroke-linecap="round"/>
<line x1="186.8" y1="452.7" x2="191.3" y2="449.7" stroke="#000" stroke-opacity="0.7" stroke-width="4.6" stroke-linecap="round"/>
<line x1="186.5" y1="452.1" x2="191" y2="449.1" stroke="#e6e6e6" stroke-width="3.1" stroke-linecap="round"/>
<line x1="186.84" y1="451.88" x2="190.66" y2="449.33" stroke="#a0a0a0" stroke-width="1.4" stroke-linecap="round"/>
<line x1="179.4" y1="457.1" x2="186.1" y2="460.1" stroke="#000" stroke-opacity="0.7" stroke-width="4.6" stroke-linecap="round"/>
<line x1="179.1" y1="456.5" x2="185.8" y2="459.5" stroke="#e6e6e6" stroke-width="3.1" stroke-linecap="round"/>
<line x1="179.6" y1="456.73" x2="185.3" y2="459.27" stroke="#a0a0a0" stroke-width="1.4" stroke-linecap="round"/>
<line x1="187.5" y1="456.4" x2="191.3" y2="466" stroke="#000" stroke-opacity="0.7" stroke-width="4.6" stroke-linecap="round"/>
<line x1="187.2" y1="455.8" x2="191" y2="465.4" stroke="#e6e6e6" stroke-width="3.1" stroke-linecap="round"/>
<line x1="187.48" y1="456.52" x2="190.72" y2="464.68" stroke="#a0a0a0" stroke-width="1.4" stroke-linecap="round"/>
<line x1="166.8" y1="457.9" x2="169.4" y2="463.1" stroke="#000" stroke-opacity="0.7" stroke-width="4.6" stroke-linecap="round"/>
<line x1="166.5" y1="457.3" x2="169.1" y2="462.5" stroke="#e6e6e6" stroke-width="3.1" stroke-linecap="round"/>
<line x1="166.69" y1="457.69" x2="168.91" y2="462.11" stroke="#a0a0a0" stroke-width="1.4" stroke-linecap="round"/>
<line x1="195" y1="443.8" x2="198.7" y2="441.5" stroke="#000" stroke-opacity="0.7" stroke-width="4.6" stroke-linecap="round"/>
<line x1="194.7" y1="443.2" x2="198.4" y2="440.9" stroke="#e6e6e6" stroke-width="3.1" stroke-linecap="round"/>
<line x1="194.98" y1="443.03" x2="198.12" y2="441.07" stroke="#a0a0a0" stroke-width="1.4" stroke-linecap="round"/>
<line x1="195.7" y1="447.9" x2="196.5" y2="445.4" stroke="#000" stroke-opacity="0.7" stroke-width="4.6" stroke-linecap="round"/>
<line x1="195.4" y1="447.3" x2="196.2" y2="444.8" stroke="#e6e6e6" stroke-width="3.1" stroke-linecap="round"/>
<line x1="195.46" y1="447.11" x2="196.14" y2="444.99" stroke="#a0a0a0" stroke-width="1.4" stroke-linecap="round"/>
<line x1="198.7" y1="449" x2="202.4" y2="454.9" stroke="#000" stroke-opacity="0.7" stroke-width="4.6" stroke-linecap="round"/>
<line x1="198.4" y1="448.4" x2="202.1" y2="454.3" stroke="#e6e6e6" stroke-width="3.1" stroke-linecap="round"/>
<line x1="198.68" y1="448.84" x2="201.82" y2="453.86" stroke="#a0a0a0" stroke-width="1.4" stroke-linecap="round"/>
<line x1="197.2" y1="456.4" x2="200.9" y2="463.8" stroke="#000" stroke-opacity="0.7" stroke-width="4.6" stroke-linecap="round"/>
<line x1="196.9" y1="455.8" x2="200.6" y2="463.2" stroke="#e6e6e6" stroke-width="3.1" stroke-linecap="round"/>
<line x1="197.18" y1="456.36" x2="200.32" y2="462.64" stroke="#a0a0a0" stroke-width="1.4" stroke-linecap="round"/>
<line x1="200.9" y1="460.1" x2="205.4" y2="471.2" stroke="#000" stroke-opacity="0.7" stroke-width="4.6" stroke-linecap="round"/>
<line x1="200.6" y1="459.5" x2="205.1" y2="470.6" stroke="#e6e6e6" stroke-width="3.1" stroke-linecap="round"/>
<line x1="200.94" y1="460.33" x2="204.76" y2="469.77" stroke="#a0a0a0" stroke-width="1.4" stroke-linecap="round"/>
<line x1="166.8" y1="469.7" x2="173.4" y2="472" stroke="#000" stroke-opacity="0.7" stroke-width="4.6" stroke-linecap="round"/>
<line x1="166.5" y1="469.1" x2="173.1" y2="471.4" stroke="#e6e6e6" stroke-width="3.1" stroke-linecap="round"/>
<line x1="167" y1="469.27" x2="172.6" y2="471.23" stroke="#a0a0a0" stroke-width="1.4" stroke-linecap="round"/>
<line x1="177.9" y1="470.5" x2="186.1" y2="469.7" stroke="#000" stroke-opacity="0.7" stroke-width="4.6" stroke-linecap="round"/>
<line x1="177.6" y1="469.9" x2="185.8" y2="469.1" stroke="#e6e6e6" stroke-width="3.1" stroke-linecap="round"/>
<line x1="178.22" y1="469.84" x2="185.19" y2="469.16" stroke="#a0a0a0" stroke-width="1.4" stroke-linecap="round"/>
<line x1="192" y1="469" x2="197.2" y2="472.7" stroke="#000" stroke-opacity="0.7" stroke-width="4.6" stroke-linecap="round"/>
<line x1="191.7" y1="468.4" x2="196.9" y2="472.1" stroke="#e6e6e6" stroke-width="3.1" stroke-linecap="round"/>
<line x1="192.09" y1="468.68" x2="196.51" y2="471.82" stroke="#a0a0a0" stroke-width="1.4" stroke-linecap="round"/>
<line x1="162.8" y1="471.2" x2="164.3" y2="475.6" stroke="#000" stroke-opacity="0.7" stroke-width="4.6" stroke-linecap="round"/>
<line x1="162.5" y1="470.6" x2="164" y2="475" stroke="#e6e6e6" stroke-width="3.1" stroke-linecap="round"/>
<line x1="162.61" y1="470.93" x2="163.89" y2="474.67" stroke="#a0a0a0" stroke-width="1.4" stroke-linecap="round"/>
<line x1="178.6" y1="472.8" x2="184.6" y2="475.6" stroke="#000" stroke-opacity="0.7" stroke-width="4.6" stroke-linecap="round"/>
<line x1="178.3" y1="472.2" x2="184.3" y2="475" stroke="#e6e6e6" stroke-width="3.1" stroke-linecap="round"/>
<line x1="178.75" y1="472.41" x2="183.85" y2="474.79" stroke="#a0a0a0" stroke-width="1.4" stroke-linecap="round"/>
<line x1="127" y1="473.6" x2="131.4" y2="481" stroke="#000" stroke-opacity="0.7" stroke-width="4.6" stroke-linecap="round"/>
<line x1="126.7" y1="473" x2="131.1" y2="480.4" stroke="#e6e6e6" stroke-width="3.1" stroke-linecap="round"/>
<line x1="127.03" y1="473.56" x2="130.77" y2="479.84" stroke="#a0a0a0" stroke-width="1.4" stroke-linecap="round"/>
<line x1="134.4" y1="473.6" x2="138.8" y2="478.1" stroke="#000" stroke-opacity="0.7" stroke-width="4.6" stroke-linecap="round"/>
<line x1="134.1" y1="473" x2="138.5" y2="477.5" stroke="#e6e6e6" stroke-width="3.1" stroke-linecap="round"/>
<line x1="134.43" y1="473.34" x2="138.17" y2="477.16" stroke="#a0a0a0" stroke-width="1.4" stroke-linecap="round"/>
<line x1="138.1" y1="484" x2="145.5" y2="478.1" stroke="#000" stroke-opacity="0.7" stroke-width="4.6" stroke-linecap="round"/>
<line x1="137.8" y1="483.4" x2="145.2" y2="477.5" stroke="#e6e6e6" stroke-width="3.1" stroke-linecap="round"/>
<line x1="138.36" y1="482.96" x2="144.64" y2="477.94" stroke="#a0a0a0" stroke-width="1.4" stroke-linecap="round"/>
<line x1="146.3" y1="478.1" x2="153.7" y2="487" stroke="#000" stroke-opacity="0.7" stroke-width="4.6" stroke-linecap="round"/>
<line x1="146" y1="477.5" x2="153.4" y2="486.4" stroke="#e6e6e6" stroke-width="3.1" stroke-linecap="round"/>
<line x1="146.56" y1="478.17" x2="152.84" y2="485.73" stroke="#a0a0a0" stroke-width="1.4" stroke-linecap="round"/>
<line x1="150.7" y1="477.3" x2="155.9" y2="474.3" stroke="#000" stroke-opacity="0.7" stroke-width="4.6" stroke-linecap="round"/>
<line x1="150.4" y1="476.7" x2="155.6" y2="473.7" stroke="#e6e6e6" stroke-width="3.1" stroke-linecap="round"/>
<line x1="150.79" y1="476.47" x2="155.21" y2="473.93" stroke="#a0a0a0" stroke-width="1.4" stroke-linecap="round"/>
<line x1="138.8" y1="486.2" x2="139.6" y2="495.1" stroke="#000" stroke-opacity="0.7" stroke-width="4.6" stroke-linecap="round"/>
<line x1="138.5" y1="485.6" x2="139.3" y2="494.5" stroke="#e6e6e6" stroke-width="3.1" stroke-linecap="round"/>
<line x1="138.56" y1="486.27" x2="139.24" y2="493.83" stroke="#a0a0a0" stroke-width="1.4" stroke-linecap="round"/>
<line x1="142.5" y1="487.7" x2="147.7" y2="488.4" stroke="#000" stroke-opacity="0.7" stroke-width="4.6" stroke-linecap="round"/>
<line x1="142.2" y1="487.1" x2="147.4" y2="487.8" stroke="#e6e6e6" stroke-width="3.1" stroke-linecap="round"/>
<line x1="142.59" y1="487.15" x2="147.01" y2="487.75" stroke="#a0a0a0" stroke-width="1.4" stroke-linecap="round"/>
<line x1="134.5" y1="490.7" x2="136.8" y2="495.1" stroke="#000" stroke-opacity="0.7" stroke-width="4.6" stroke-linecap="round"/>
<line x1="134.2" y1="490.1" x2="136.5" y2="494.5" stroke="#e6e6e6" stroke-width="3.1" stroke-linecap="round"/>
<line x1="134.37" y1="490.43" x2="136.33" y2="494.17" stroke="#a0a0a0" stroke-width="1.4" stroke-linecap="round"/>
<line x1="133.6" y1="495.1" x2="139.6" y2="498.8" stroke="#000" stroke-opacity="0.7" stroke-width="4.6" stroke-linecap="round"/>
<line x1="133.3" y1="494.5" x2="139.3" y2="498.2" stroke="#e6e6e6" stroke-width="3.1" stroke-linecap="round"/>
<line x1="133.75" y1="494.78" x2="138.85" y2="497.92" stroke="#a0a0a0" stroke-width="1.4" stroke-linecap="round"/>
<line x1="146.3" y1="496.6" x2="150" y2="490.7" stroke="#000" stroke-opacity="0.7" stroke-width="4.6" stroke-linecap="round"/>
<line x1="146" y1="496" x2="149.7" y2="490.1" stroke="#e6e6e6" stroke-width="3.1" stroke-linecap="round"/>
<line x1="146.28" y1="495.56" x2="149.42" y2="490.54" stroke="#a0a0a0" stroke-width="1.4" stroke-linecap="round"/>
<line x1="150.7" y1="497.4" x2="152.2" y2="492.2" stroke="#000" stroke-opacity="0.7" stroke-width="4.6" stroke-linecap="round"/>
<line x1="150.4" y1="496.8" x2="151.9" y2="491.6" stroke="#e6e6e6" stroke-width="3.1" stroke-linecap="round"/>
<line x1="150.51" y1="496.41" x2="151.79" y2="491.99" stroke="#a0a0a0" stroke-width="1.4" stroke-linecap="round"/>
<line x1="153.7" y1="487.7" x2="155.9" y2="486.6" stroke="#000" stroke-opacity="0.7" stroke-width="4.6" stroke-linecap="round"/>
<line x1="153.4" y1="487.1" x2="155.6" y2="486" stroke="#e6e6e6" stroke-width="3.1" stroke-linecap="round"/>
<line x1="153.56" y1="487.02" x2="155.44" y2="486.08" stroke="#a0a0a0" stroke-width="1.4" stroke-linecap="round"/>
<line x1="157.4" y1="492.2" x2="158.9" y2="503.3" stroke="#000" stroke-opacity="0.7" stroke-width="4.6" stroke-linecap="round"/>
<line x1="157.1" y1="491.6" x2="158.6" y2="502.7" stroke="#e6e6e6" stroke-width="3.1" stroke-linecap="round"/>
<line x1="157.21" y1="492.43" x2="158.49" y2="501.87" stroke="#a0a0a0" stroke-width="1.4" stroke-linecap="round"/>
<line x1="158.1" y1="481.8" x2="163.3" y2="487.7" stroke="#000" stroke-opacity="0.7" stroke-width="4.6" stroke-linecap="round"/>
<line x1="157.8" y1="481.2" x2="163" y2="487.1" stroke="#e6e6e6" stroke-width="3.1" stroke-linecap="round"/>
<line x1="158.19" y1="481.64" x2="162.61" y2="486.66" stroke="#a0a0a0" stroke-width="1.4" stroke-linecap="round"/>
<line x1="146.3" y1="502.6" x2="154.4" y2="501.8" stroke="#000" stroke-opacity="0.7" stroke-width="4.6" stroke-linecap="round"/>
<line x1="146" y1="502" x2="154.1" y2="501.2" stroke="#e6e6e6" stroke-width="3.1" stroke-linecap="round"/>
<line x1="146.61" y1="501.94" x2="153.49" y2="501.26" stroke="#a0a0a0" stroke-width="1.4" stroke-linecap="round"/>
<line x1="141.8" y1="507.7" x2="144.8" y2="513.1" stroke="#000" stroke-opacity="0.7" stroke-width="4.6" stroke-linecap="round"/>
<line x1="141.5" y1="507.1" x2="144.5" y2="512.5" stroke="#e6e6e6" stroke-width="3.1" stroke-linecap="round"/>
<line x1="141.72" y1="507.5" x2="144.28" y2="512.1" stroke="#a0a0a0" stroke-width="1.4" stroke-linecap="round"/>
<line x1="160.3" y1="494.6" x2="164.3" y2="498.1" stroke="#000" stroke-opacity="0.7" stroke-width="4.6" stroke-linecap="round"/>
<line x1="160" y1="494" x2="164" y2="497.5" stroke="#e6e6e6" stroke-width="3.1" stroke-linecap="round"/>
<line x1="160.3" y1="494.26" x2="163.7" y2="497.24" stroke="#a0a0a0" stroke-width="1.4" stroke-linecap="round"/>
<line x1="159.8" y1="474.1" x2="164.3" y2="478.1" stroke="#000" stroke-opacity="0.7" stroke-width="4.6" stroke-linecap="round"/>
<line x1="159.5" y1="473.5" x2="164" y2="477.5" stroke="#e6e6e6" stroke-width="3.1" stroke-linecap="round"/>
<line x1="159.84" y1="473.8" x2="163.66" y2="477.2" stroke="#a0a0a0" stroke-width="1.4" stroke-linecap="round"/>
<line x1="178.6" y1="475.1" x2="184.6" y2="473.9" stroke="#000" stroke-opacity="0.7" stroke-width="4.6" stroke-linecap="round"/>
<line x1="178.3" y1="474.5" x2="184.3" y2="473.3" stroke="#e6e6e6" stroke-width="3.1" stroke-linecap="round"/>
<line x1="178.75" y1="474.41" x2="183.85" y2="473.39" stroke="#a0a0a0" stroke-width="1.4" stroke-linecap="round"/>
<line x1="191.3" y1="475.1" x2="195.7" y2="477.3" stroke="#000" stroke-opacity="0.7" stroke-width="4.6" stroke-linecap="round"/>
<line x1="191" y1="474.5" x2="195.4" y2="476.7" stroke="#e6e6e6" stroke-width="3.1" stroke-linecap="round"/>
<line x1="191.33" y1="474.67" x2="195.07" y2="476.53" stroke="#a0a0a0" stroke-width="1.4" stroke-linecap="round"/>
<line x1="194.3" y1="473.9" x2="198.7" y2="474.6" stroke="#000" stroke-opacity="0.7" stroke-width="4.6" stroke-linecap="round"/>
<line x1="194" y1="473.3" x2="198.4" y2="474" stroke="#e6e6e6" stroke-width="3.1" stroke-linecap="round"/>
<line x1="194.33" y1="473.35" x2="198.07" y2="473.95" stroke="#a0a0a0" stroke-width="1.4" stroke-linecap="round"/>
<line x1="165.3" y1="481" x2="170.5" y2="477.3" stroke="#000" stroke-opacity="0.7" stroke-width="4.6" stroke-linecap="round"/>
<line x1="165" y1="480.4" x2="170.2" y2="476.7" stroke="#e6e6e6" stroke-width="3.1" stroke-linecap="round"/>
<line x1="165.39" y1="480.12" x2="169.81" y2="476.98" stroke="#a0a0a0" stroke-width="1.4" stroke-linecap="round"/>
<line x1="170.5" y1="477.3" x2="180.9" y2="480.3" stroke="#000" stroke-opacity="0.7" stroke-width="4.6" stroke-linecap="round"/>
<line x1="170.2" y1="476.7" x2="180.6" y2="479.7" stroke="#e6e6e6" stroke-width="3.1" stroke-linecap="round"/>
<line x1="170.98" y1="476.93" x2="179.82" y2="479.47" stroke="#a0a0a0" stroke-width="1.4" stroke-linecap="round"/>
<line x1="179.4" y1="480.3" x2="178.6" y2="486.2" stroke="#000" stroke-opacity="0.7" stroke-width="4.6" stroke-linecap="round"/>
<line x1="179.1" y1="479.7" x2="178.3" y2="485.6" stroke="#e6e6e6" stroke-width="3.1" stroke-linecap="round"/>
<line x1="179.04" y1="480.14" x2="178.36" y2="485.16" stroke="#a0a0a0" stroke-width="1.4" stroke-linecap="round"/>
<line x1="166.8" y1="491.4" x2="169" y2="481.8" stroke="#000" stroke-opacity="0.7" stroke-width="4.6" stroke-linecap="round"/>
<line x1="166.5" y1="490.8" x2="168.7" y2="481.2" stroke="#e6e6e6" stroke-width="3.1" stroke-linecap="round"/>
<line x1="166.66" y1="490.08" x2="168.53" y2="481.92" stroke="#a0a0a0" stroke-width="1.4" stroke-linecap="round"/>
<line x1="172" y1="486.2" x2="176.4" y2="488.4" stroke="#000" stroke-opacity="0.7" stroke-width="4.6" stroke-linecap="round"/>
<line x1="171.7" y1="485.6" x2="176.1" y2="487.8" stroke="#e6e6e6" stroke-width="3.1" stroke-linecap="round"/>
<line x1="172.03" y1="485.77" x2="175.77" y2="487.63" stroke="#a0a0a0" stroke-width="1.4" stroke-linecap="round"/>
<line x1="162.6" y1="484" x2="163.8" y2="489.9" stroke="#000" stroke-opacity="0.7" stroke-width="4.6" stroke-linecap="round"/>
<line x1="162.3" y1="483.4" x2="163.5" y2="489.3" stroke="#e6e6e6" stroke-width="3.1" stroke-linecap="round"/>
<line x1="162.39" y1="483.84" x2="163.41" y2="488.86" stroke="#a0a0a0" stroke-width="1.4" stroke-linecap="round"/>
<line x1="182.3" y1="490.7" x2="187.5" y2="481.8" stroke="#000" stroke-opacity="0.7" stroke-width="4.6" stroke-linecap="round"/>
<line x1="182" y1="490.1" x2="187.2" y2="481.2" stroke="#e6e6e6" stroke-width="3.1" stroke-linecap="round"/>
<line x1="182.39" y1="489.43" x2="186.81" y2="481.87" stroke="#a0a0a0" stroke-width="1.4" stroke-linecap="round"/>
<line x1="184.6" y1="489.2" x2="189" y2="482.5" stroke="#000" stroke-opacity="0.7" stroke-width="4.6" stroke-linecap="round"/>
<line x1="184.3" y1="488.6" x2="188.7" y2="481.9" stroke="#e6e6e6" stroke-width="3.1" stroke-linecap="round"/>
<line x1="184.63" y1="488.1" x2="188.37" y2="482.4" stroke="#a0a0a0" stroke-width="1.4" stroke-linecap="round"/>
<line x1="188.3" y1="487.1" x2="189.8" y2="489.2" stroke="#000" stroke-opacity="0.7" stroke-width="4.6" stroke-linecap="round"/>
<line x1="188" y1="486.5" x2="189.5" y2="488.6" stroke="#e6e6e6" stroke-width="3.1" stroke-linecap="round"/>
<line x1="188.11" y1="486.66" x2="189.39" y2="488.44" stroke="#a0a0a0" stroke-width="1.4" stroke-linecap="round"/>
<line x1="183.8" y1="493.6" x2="189.8" y2="494.4" stroke="#000" stroke-opacity="0.7" stroke-width="4.6" stroke-linecap="round"/>
<line x1="183.5" y1="493" x2="189.5" y2="493.8" stroke="#e6e6e6" stroke-width="3.1" stroke-linecap="round"/>
<line x1="183.95" y1="493.06" x2="189.05" y2="493.74" stroke="#a0a0a0" stroke-width="1.4" stroke-linecap="round"/>
<line x1="177.9" y1="497.4" x2="184.6" y2="497.4" stroke="#000" stroke-opacity="0.7" stroke-width="4.6" stroke-linecap="round"/>
<line x1="177.6" y1="496.8" x2="184.3" y2="496.8" stroke="#e6e6e6" stroke-width="3.1" stroke-linecap="round"/>
<line x1="178.1" y1="496.8" x2="183.8" y2="496.8" stroke="#a0a0a0" stroke-width="1.4" stroke-linecap="round"/>
<line x1="162.8" y1="495.1" x2="164.3" y2="497.4" stroke="#000" stroke-opacity="0.7" stroke-width="4.6" stroke-linecap="round"/>
<line x1="162.5" y1="494.5" x2="164" y2="496.8" stroke="#e6e6e6" stroke-width="3.1" stroke-linecap="round"/>
<line x1="162.61" y1="494.67" x2="163.89" y2="496.63" stroke="#a0a0a0" stroke-width="1.4" stroke-linecap="round"/>
<line x1="190.8" y1="512.1" x2="195.7" y2="510.6" stroke="#000" stroke-opacity="0.7" stroke-width="4.6" stroke-linecap="round"/>
<line x1="190.5" y1="511.5" x2="195.4" y2="510" stroke="#e6e6e6" stroke-width="3.1" stroke-linecap="round"/>
<line x1="190.87" y1="511.39" x2="195.03" y2="510.11" stroke="#a0a0a0" stroke-width="1.4" stroke-linecap="round"/>
<line x1="207.3" y1="510.6" x2="208.3" y2="513.6" stroke="#000" stroke-opacity="0.7" stroke-width="4.6" stroke-linecap="round"/>
<line x1="207" y1="510" x2="208" y2="513" stroke="#e6e6e6" stroke-width="3.1" stroke-linecap="round"/>
<line x1="207.07" y1="510.23" x2="207.93" y2="512.77" stroke="#a0a0a0" stroke-width="1.4" stroke-linecap="round"/>
</g></g>
<rect x="117.6" y="435.2" width="1.1" height="78.7" fill="#6c6c6c"/>
<rect x="117.6" y="513.9" width="90.8" height="5.6" fill="#0d0d0d"/>
<rect x="119.84" y="515.1" width="1.54" height="0.6" fill="#8a8a8a"/>
<rect x="124.13" y="515.1" width="1.71" height="0.6" fill="#8a8a8a"/>
<rect x="128.51" y="515.1" width="3" height="0.6" fill="#8a8a8a"/>
<rect x="132.87" y="515.1" width="1.77" height="0.6" fill="#8a8a8a"/>
<rect x="137.29" y="515.1" width="2.7" height="0.6" fill="#8a8a8a"/>
<rect x="141.33" y="515.1" width="2.86" height="0.6" fill="#8a8a8a"/>
<rect x="145.56" y="515.1" width="2.68" height="0.6" fill="#8a8a8a"/>
<rect x="149.35" y="515.1" width="2.97" height="0.6" fill="#8a8a8a"/>
<rect x="154.16" y="515.1" width="1.74" height="0.6" fill="#8a8a8a"/>
<rect x="158.15" y="515.1" width="2.57" height="0.6" fill="#8a8a8a"/>
<rect x="162.06" y="515.1" width="2.3" height="0.6" fill="#8a8a8a"/>
<rect x="166.29" y="515.1" width="2.89" height="0.6" fill="#8a8a8a"/>
<rect x="170.5" y="515.1" width="2.75" height="0.6" fill="#8a8a8a"/>
<rect x="174.55" y="515.1" width="2.82" height="0.6" fill="#8a8a8a"/>
<rect x="119.6" y="517.4" width="1.8" height="0.5" fill="#777"/>
<rect x="123.2" y="517.4" width="1.8" height="0.5" fill="#777"/>
<rect x="126.8" y="517.4" width="1.8" height="0.5" fill="#777"/>
<rect x="130.4" y="517.4" width="1.8" height="0.5" fill="#777"/>
<rect x="134" y="517.4" width="1.8" height="0.5" fill="#777"/>
<rect x="137.6" y="517.4" width="1.8" height="0.5" fill="#777"/>
<line x1="187.9" y1="516.1" x2="194.9" y2="516.1" stroke="#f2f2f2" stroke-width="1"/>
<text x="208.2" y="518.9" font-size="7.6" fill="#f2f2f2" text-anchor="end">2&#181;m</text>
<rect x="217.1" y="434.8" width="91.5" height="84.7" fill="#464646"/>
<clipPath id="cp3"><rect x="217.1" y="434.8" width="91.5" height="79.1"/></clipPath>
<g clip-path="url(#cp3)"><g filter="url(#semblur)">
<circle cx="238.87" cy="477.63" r="0.45" fill="#6e6e6e"/>
<circle cx="250.95" cy="482.33" r="0.45" fill="#6e6e6e"/>
<circle cx="274.35" cy="439.96" r="0.45" fill="#6e6e6e"/>
<circle cx="218.3" cy="500.71" r="0.45" fill="#6e6e6e"/>
<circle cx="240.83" cy="453.24" r="0.45" fill="#6e6e6e"/>
<circle cx="308.2" cy="471.81" r="0.45" fill="#6e6e6e"/>
<circle cx="293.64" cy="472.29" r="0.45" fill="#6e6e6e"/>
<circle cx="275.57" cy="446.65" r="0.45" fill="#6e6e6e"/>
<circle cx="275.19" cy="503.12" r="0.45" fill="#6e6e6e"/>
<circle cx="264.97" cy="493.14" r="0.45" fill="#6e6e6e"/>
<circle cx="278.53" cy="439.84" r="0.45" fill="#6e6e6e"/>
<circle cx="286.48" cy="481.32" r="0.45" fill="#6e6e6e"/>
<circle cx="244.67" cy="437.24" r="0.45" fill="#6e6e6e"/>
<circle cx="296.3" cy="472.01" r="0.45" fill="#6e6e6e"/>
<line x1="219.75" y1="436.36" x2="218.3" y2="436.73" stroke="#000" stroke-opacity="0.7" stroke-width="5.2" stroke-linecap="round"/>
<line x1="219.45" y1="435.76" x2="218" y2="436.13" stroke="#ececec" stroke-width="3.7" stroke-linecap="round"/>
<line x1="219.34" y1="435.79" x2="218.11" y2="436.1" stroke="#a0a0a0" stroke-width="1.67" stroke-linecap="round"/>
<line x1="218.79" y1="440.83" x2="217.69" y2="441.06" stroke="#000" stroke-opacity="0.7" stroke-width="5.2" stroke-linecap="round"/>
<line x1="218.49" y1="440.23" x2="217.39" y2="440.46" stroke="#ececec" stroke-width="3.7" stroke-linecap="round"/>
<line x1="218.41" y1="440.25" x2="217.47" y2="440.44" stroke="#a0a0a0" stroke-width="1.67" stroke-linecap="round"/>
<line x1="219.37" y1="438.44" x2="219.91" y2="438.87" stroke="#000" stroke-opacity="0.7" stroke-width="5.2" stroke-linecap="round"/>
<line x1="219.07" y1="437.84" x2="219.61" y2="438.27" stroke="#ececec" stroke-width="3.7" stroke-linecap="round"/>
<line x1="219.11" y1="437.87" x2="219.57" y2="438.24" stroke="#a0a0a0" stroke-width="1.67" stroke-linecap="round"/>
<line x1="227.72" y1="436.93" x2="228.52" y2="438.05" stroke="#000" stroke-opacity="0.7" stroke-width="5.2" stroke-linecap="round"/>
<line x1="227.42" y1="436.33" x2="228.22" y2="437.45" stroke="#ececec" stroke-width="3.7" stroke-linecap="round"/>
<line x1="227.48" y1="436.41" x2="228.16" y2="437.36" stroke="#a0a0a0" stroke-width="1.67" stroke-linecap="round"/>
<line x1="225.47" y1="437.26" x2="225.2" y2="438.22" stroke="#000" stroke-opacity="0.7" stroke-width="5.2" stroke-linecap="round"/>
<line x1="225.17" y1="436.66" x2="224.9" y2="437.62" stroke="#ececec" stroke-width="3.7" stroke-linecap="round"/>
<line x1="225.15" y1="436.73" x2="224.92" y2="437.54" stroke="#a0a0a0" stroke-width="1.67" stroke-linecap="round"/>
<line x1="225.6" y1="436.58" x2="224.19" y2="436.9" stroke="#000" stroke-opacity="0.7" stroke-width="5.2" stroke-linecap="round"/>
<line x1="225.3" y1="435.98" x2="223.89" y2="436.3" stroke="#ececec" stroke-width="3.7" stroke-linecap="round"/>
<line x1="225.2" y1="436.01" x2="223.99" y2="436.28" stroke="#a0a0a0" stroke-width="1.67" stroke-linecap="round"/>
<line x1="249.5" y1="437.3" x2="250.76" y2="438.01" stroke="#000" stroke-opacity="0.7" stroke-width="5.2" stroke-linecap="round"/>
<line x1="249.2" y1="436.7" x2="250.46" y2="437.41" stroke="#ececec" stroke-width="3.7" stroke-linecap="round"/>
<line x1="249.29" y1="436.76" x2="250.36" y2="437.36" stroke="#a0a0a0" stroke-width="1.67" stroke-linecap="round"/>
<line x1="250.35" y1="436.87" x2="249.97" y2="438.6" stroke="#000" stroke-opacity="0.7" stroke-width="5.2" stroke-linecap="round"/>
<line x1="250.05" y1="436.27" x2="249.67" y2="438" stroke="#ececec" stroke-width="3.7" stroke-linecap="round"/>
<line x1="250.02" y1="436.4" x2="249.7" y2="437.87" stroke="#a0a0a0" stroke-width="1.67" stroke-linecap="round"/>
<line x1="248.3" y1="437.85" x2="247.92" y2="439.47" stroke="#000" stroke-opacity="0.7" stroke-width="5.2" stroke-linecap="round"/>
<line x1="248" y1="437.25" x2="247.62" y2="438.87" stroke="#ececec" stroke-width="3.7" stroke-linecap="round"/>
<line x1="247.97" y1="437.37" x2="247.65" y2="438.75" stroke="#a0a0a0" stroke-width="1.67" stroke-linecap="round"/>
<line x1="256.66" y1="442.48" x2="254.97" y2="442.54" stroke="#000" stroke-opacity="0.7" stroke-width="5.2" stroke-linecap="round"/>
<line x1="256.36" y1="441.88" x2="254.67" y2="441.94" stroke="#ececec" stroke-width="3.7" stroke-linecap="round"/>
<line x1="256.23" y1="441.89" x2="254.79" y2="441.93" stroke="#a0a0a0" stroke-width="1.67" stroke-linecap="round"/>
<line x1="258.11" y1="443.1" x2="259.06" y2="443.59" stroke="#000" stroke-opacity="0.7" stroke-width="5.2" stroke-linecap="round"/>
<line x1="257.81" y1="442.5" x2="258.76" y2="442.99" stroke="#ececec" stroke-width="3.7" stroke-linecap="round"/>
<line x1="257.88" y1="442.54" x2="258.69" y2="442.96" stroke="#a0a0a0" stroke-width="1.67" stroke-linecap="round"/>
<line x1="254.34" y1="444.6" x2="256.04" y2="444.84" stroke="#000" stroke-opacity="0.7" stroke-width="5.2" stroke-linecap="round"/>
<line x1="254.04" y1="444" x2="255.74" y2="444.24" stroke="#ececec" stroke-width="3.7" stroke-linecap="round"/>
<line x1="254.16" y1="444.02" x2="255.61" y2="444.22" stroke="#a0a0a0" stroke-width="1.67" stroke-linecap="round"/>
<line x1="255.08" y1="440.43" x2="255.84" y2="441.73" stroke="#000" stroke-opacity="0.7" stroke-width="5.2" stroke-linecap="round"/>
<line x1="254.78" y1="439.83" x2="255.54" y2="441.13" stroke="#ececec" stroke-width="3.7" stroke-linecap="round"/>
<line x1="254.83" y1="439.93" x2="255.48" y2="441.03" stroke="#a0a0a0" stroke-width="1.67" stroke-linecap="round"/>
<line x1="248.65" y1="444.82" x2="247.45" y2="444.83" stroke="#000" stroke-opacity="0.7" stroke-width="5.2" stroke-linecap="round"/>
<line x1="248.35" y1="444.22" x2="247.15" y2="444.23" stroke="#ececec" stroke-width="3.7" stroke-linecap="round"/>
<line x1="248.26" y1="444.22" x2="247.24" y2="444.23" stroke="#a0a0a0" stroke-width="1.67" stroke-linecap="round"/>
<line x1="244.82" y1="449.98" x2="246.15" y2="450.11" stroke="#000" stroke-opacity="0.7" stroke-width="5.2" stroke-linecap="round"/>
<line x1="244.52" y1="449.38" x2="245.85" y2="449.51" stroke="#ececec" stroke-width="3.7" stroke-linecap="round"/>
<line x1="244.62" y1="449.39" x2="245.75" y2="449.5" stroke="#a0a0a0" stroke-width="1.67" stroke-linecap="round"/>
<line x1="245.85" y1="451.66" x2="247.04" y2="452.3" stroke="#000" stroke-opacity="0.7" stroke-width="5.2" stroke-linecap="round"/>
<line x1="245.55" y1="451.06" x2="246.74" y2="451.7" stroke="#ececec" stroke-width="3.7" stroke-linecap="round"/>
<line x1="245.63" y1="451.11" x2="246.65" y2="451.65" stroke="#a0a0a0" stroke-width="1.67" stroke-linecap="round"/>
<line x1="249.05" y1="449.91" x2="248.12" y2="450.04" stroke="#000" stroke-opacity="0.7" stroke-width="5.2" stroke-linecap="round"/>
<line x1="248.75" y1="449.31" x2="247.82" y2="449.44" stroke="#ececec" stroke-width="3.7" stroke-linecap="round"/>
<line x1="248.68" y1="449.32" x2="247.89" y2="449.43" stroke="#a0a0a0" stroke-width="1.67" stroke-linecap="round"/>
<line x1="247.35" y1="445.95" x2="247.28" y2="447.09" stroke="#000" stroke-opacity="0.7" stroke-width="5.2" stroke-linecap="round"/>
<line x1="247.05" y1="445.35" x2="246.98" y2="446.49" stroke="#ececec" stroke-width="3.7" stroke-linecap="round"/>
<line x1="247.05" y1="445.43" x2="246.99" y2="446.4" stroke="#a0a0a0" stroke-width="1.67" stroke-linecap="round"/>
<line x1="261.96" y1="435.79" x2="261.49" y2="436.98" stroke="#000" stroke-opacity="0.7" stroke-width="5.2" stroke-linecap="round"/>
<line x1="261.66" y1="435.19" x2="261.19" y2="436.38" stroke="#ececec" stroke-width="3.7" stroke-linecap="round"/>
<line x1="261.63" y1="435.28" x2="261.23" y2="436.29" stroke="#a0a0a0" stroke-width="1.67" stroke-linecap="round"/>
<line x1="263.25" y1="460.72" x2="262.54" y2="461.57" stroke="#000" stroke-opacity="0.7" stroke-width="5.2" stroke-linecap="round"/>
<line x1="262.95" y1="460.12" x2="262.24" y2="460.97" stroke="#ececec" stroke-width="3.7" stroke-linecap="round"/>
<line x1="262.9" y1="460.18" x2="262.3" y2="460.9" stroke="#a0a0a0" stroke-width="1.67" stroke-linecap="round"/>
<line x1="262.21" y1="462.87" x2="262.09" y2="464.74" stroke="#000" stroke-opacity="0.7" stroke-width="5.2" stroke-linecap="round"/>
<line x1="261.91" y1="462.27" x2="261.79" y2="464.14" stroke="#ececec" stroke-width="3.7" stroke-linecap="round"/>
<line x1="261.9" y1="462.41" x2="261.8" y2="464" stroke="#a0a0a0" stroke-width="1.67" stroke-linecap="round"/>
<line x1="262.11" y1="461.37" x2="261.84" y2="462.42" stroke="#000" stroke-opacity="0.7" stroke-width="5.2" stroke-linecap="round"/>
<line x1="261.81" y1="460.77" x2="261.54" y2="461.82" stroke="#ececec" stroke-width="3.7" stroke-linecap="round"/>
<line x1="261.79" y1="460.85" x2="261.56" y2="461.74" stroke="#a0a0a0" stroke-width="1.67" stroke-linecap="round"/>
<line x1="218.35" y1="466.6" x2="219.71" y2="466.86" stroke="#000" stroke-opacity="0.7" stroke-width="5.2" stroke-linecap="round"/>
<line x1="218.05" y1="466" x2="219.41" y2="466.26" stroke="#ececec" stroke-width="3.7" stroke-linecap="round"/>
<line x1="218.16" y1="466.01" x2="219.31" y2="466.24" stroke="#a0a0a0" stroke-width="1.67" stroke-linecap="round"/>
<line x1="217.21" y1="464.13" x2="217.85" y2="465.43" stroke="#000" stroke-opacity="0.7" stroke-width="5.2" stroke-linecap="round"/>
<line x1="216.91" y1="463.53" x2="217.55" y2="464.83" stroke="#ececec" stroke-width="3.7" stroke-linecap="round"/>
<line x1="216.95" y1="463.63" x2="217.5" y2="464.74" stroke="#a0a0a0" stroke-width="1.67" stroke-linecap="round"/>
<line x1="217.56" y1="463.62" x2="218.09" y2="463.72" stroke="#000" stroke-opacity="0.7" stroke-width="5.2" stroke-linecap="round"/>
<line x1="217.26" y1="463.02" x2="217.79" y2="463.12" stroke="#ececec" stroke-width="3.7" stroke-linecap="round"/>
<line x1="217.3" y1="463.03" x2="217.75" y2="463.11" stroke="#a0a0a0" stroke-width="1.67" stroke-linecap="round"/>
<line x1="253.83" y1="463.93" x2="253.95" y2="464.77" stroke="#000" stroke-opacity="0.7" stroke-width="5.2" stroke-linecap="round"/>
<line x1="253.53" y1="463.33" x2="253.65" y2="464.17" stroke="#ececec" stroke-width="3.7" stroke-linecap="round"/>
<line x1="253.54" y1="463.39" x2="253.64" y2="464.11" stroke="#a0a0a0" stroke-width="1.67" stroke-linecap="round"/>
<line x1="253.45" y1="466.48" x2="254.01" y2="467.32" stroke="#000" stroke-opacity="0.7" stroke-width="5.2" stroke-linecap="round"/>
<line x1="253.15" y1="465.88" x2="253.71" y2="466.72" stroke="#ececec" stroke-width="3.7" stroke-linecap="round"/>
<line x1="253.19" y1="465.94" x2="253.67" y2="466.66" stroke="#a0a0a0" stroke-width="1.67" stroke-linecap="round"/>
<line x1="253.31" y1="470.42" x2="253.65" y2="471.27" stroke="#000" stroke-opacity="0.7" stroke-width="5.2" stroke-linecap="round"/>
<line x1="253.01" y1="469.82" x2="253.35" y2="470.67" stroke="#ececec" stroke-width="3.7" stroke-linecap="round"/>
<line x1="253.03" y1="469.88" x2="253.33" y2="470.61" stroke="#a0a0a0" stroke-width="1.67" stroke-linecap="round"/>
<line x1="256.55" y1="467.09" x2="255.67" y2="468.05" stroke="#000" stroke-opacity="0.7" stroke-width="5.2" stroke-linecap="round"/>
<line x1="256.25" y1="466.49" x2="255.37" y2="467.45" stroke="#ececec" stroke-width="3.7" stroke-linecap="round"/>
<line x1="256.18" y1="466.56" x2="255.44" y2="467.38" stroke="#a0a0a0" stroke-width="1.67" stroke-linecap="round"/>
<line x1="254.57" y1="469.72" x2="255.76" y2="470.83" stroke="#000" stroke-opacity="0.7" stroke-width="5.2" stroke-linecap="round"/>
<line x1="254.27" y1="469.12" x2="255.46" y2="470.23" stroke="#ececec" stroke-width="3.7" stroke-linecap="round"/>
<line x1="254.36" y1="469.2" x2="255.37" y2="470.14" stroke="#a0a0a0" stroke-width="1.67" stroke-linecap="round"/>
<line x1="256.51" y1="470.81" x2="257.91" y2="471.27" stroke="#000" stroke-opacity="0.7" stroke-width="5.2" stroke-linecap="round"/>
<line x1="256.21" y1="470.21" x2="257.61" y2="470.67" stroke="#ececec" stroke-width="3.7" stroke-linecap="round"/>
<line x1="256.32" y1="470.24" x2="257.51" y2="470.64" stroke="#a0a0a0" stroke-width="1.67" stroke-linecap="round"/>
<line x1="233.5" y1="473.2" x2="233.82" y2="474.83" stroke="#000" stroke-opacity="0.7" stroke-width="5.2" stroke-linecap="round"/>
<line x1="233.2" y1="472.6" x2="233.52" y2="474.23" stroke="#ececec" stroke-width="3.7" stroke-linecap="round"/>
<line x1="233.23" y1="472.72" x2="233.5" y2="474.11" stroke="#a0a0a0" stroke-width="1.67" stroke-linecap="round"/>
<line x1="236.16" y1="470.8" x2="235.72" y2="471.66" stroke="#000" stroke-opacity="0.7" stroke-width="5.2" stroke-linecap="round"/>
<line x1="235.86" y1="470.2" x2="235.42" y2="471.06" stroke="#ececec" stroke-width="3.7" stroke-linecap="round"/>
<line x1="235.83" y1="470.26" x2="235.45" y2="471" stroke="#a0a0a0" stroke-width="1.67" stroke-linecap="round"/>
<line x1="236.69" y1="470.68" x2="237.44" y2="470.98" stroke="#000" stroke-opacity="0.7" stroke-width="5.2" stroke-linecap="round"/>
<line x1="236.39" y1="470.08" x2="237.14" y2="470.38" stroke="#ececec" stroke-width="3.7" stroke-linecap="round"/>
<line x1="236.44" y1="470.1" x2="237.09" y2="470.36" stroke="#a0a0a0" stroke-width="1.67" stroke-linecap="round"/>
<line x1="233.58" y1="471.64" x2="232.16" y2="472.43" stroke="#000" stroke-opacity="0.7" stroke-width="5.2" stroke-linecap="round"/>
<line x1="233.28" y1="471.04" x2="231.86" y2="471.83" stroke="#ececec" stroke-width="3.7" stroke-linecap="round"/>
<line x1="233.17" y1="471.1" x2="231.96" y2="471.77" stroke="#a0a0a0" stroke-width="1.67" stroke-linecap="round"/>
<line x1="236.11" y1="473.16" x2="235.41" y2="474.63" stroke="#000" stroke-opacity="0.7" stroke-width="5.2" stroke-linecap="round"/>
<line x1="235.81" y1="472.56" x2="235.11" y2="474.03" stroke="#ececec" stroke-width="3.7" stroke-linecap="round"/>
<line x1="235.76" y1="472.67" x2="235.16" y2="473.92" stroke="#a0a0a0" stroke-width="1.67" stroke-linecap="round"/>
<line x1="248.41" y1="470.68" x2="248.83" y2="471.22" stroke="#000" stroke-opacity="0.7" stroke-width="5.2" stroke-linecap="round"/>
<line x1="248.11" y1="470.08" x2="248.53" y2="470.62" stroke="#ececec" stroke-width="3.7" stroke-linecap="round"/>
<line x1="248.14" y1="470.12" x2="248.5" y2="470.58" stroke="#a0a0a0" stroke-width="1.67" stroke-linecap="round"/>
<line x1="248.12" y1="470.62" x2="248.38" y2="471.57" stroke="#000" stroke-opacity="0.7" stroke-width="5.2" stroke-linecap="round"/>
<line x1="247.82" y1="470.02" x2="248.08" y2="470.97" stroke="#ececec" stroke-width="3.7" stroke-linecap="round"/>
<line x1="247.84" y1="470.09" x2="248.06" y2="470.9" stroke="#a0a0a0" stroke-width="1.67" stroke-linecap="round"/>
<line x1="243.25" y1="473.11" x2="244.83" y2="473.95" stroke="#000" stroke-opacity="0.7" stroke-width="5.2" stroke-linecap="round"/>
<line x1="242.95" y1="472.51" x2="244.53" y2="473.35" stroke="#ececec" stroke-width="3.7" stroke-linecap="round"/>
<line x1="243.07" y1="472.57" x2="244.41" y2="473.29" stroke="#a0a0a0" stroke-width="1.67" stroke-linecap="round"/>
<line x1="254.09" y1="472.65" x2="252.36" y2="472.72" stroke="#000" stroke-opacity="0.7" stroke-width="5.2" stroke-linecap="round"/>
<line x1="253.79" y1="472.05" x2="252.06" y2="472.12" stroke="#ececec" stroke-width="3.7" stroke-linecap="round"/>
<line x1="253.66" y1="472.06" x2="252.19" y2="472.12" stroke="#a0a0a0" stroke-width="1.67" stroke-linecap="round"/>
<line x1="241.35" y1="473.19" x2="242.73" y2="474.35" stroke="#000" stroke-opacity="0.7" stroke-width="5.2" stroke-linecap="round"/>
<line x1="241.05" y1="472.59" x2="242.43" y2="473.75" stroke="#ececec" stroke-width="3.7" stroke-linecap="round"/>
<line x1="241.16" y1="472.68" x2="242.33" y2="473.66" stroke="#a0a0a0" stroke-width="1.67" stroke-linecap="round"/>
<line x1="247.29" y1="469.14" x2="247.2" y2="470.57" stroke="#000" stroke-opacity="0.7" stroke-width="5.2" stroke-linecap="round"/>
<line x1="246.99" y1="468.54" x2="246.9" y2="469.97" stroke="#ececec" stroke-width="3.7" stroke-linecap="round"/>
<line x1="246.98" y1="468.65" x2="246.91" y2="469.86" stroke="#a0a0a0" stroke-width="1.67" stroke-linecap="round"/>
<line x1="265.08" y1="438.49" x2="265.88" y2="438.66" stroke="#000" stroke-opacity="0.7" stroke-width="5.2" stroke-linecap="round"/>
<line x1="264.78" y1="437.89" x2="265.58" y2="438.06" stroke="#ececec" stroke-width="3.7" stroke-linecap="round"/>
<line x1="264.84" y1="437.9" x2="265.52" y2="438.05" stroke="#a0a0a0" stroke-width="1.67" stroke-linecap="round"/>
<line x1="263.51" y1="436.85" x2="265.13" y2="437.08" stroke="#000" stroke-opacity="0.7" stroke-width="5.2" stroke-linecap="round"/>
<line x1="263.21" y1="436.25" x2="264.83" y2="436.48" stroke="#ececec" stroke-width="3.7" stroke-linecap="round"/>
<line x1="263.33" y1="436.26" x2="264.71" y2="436.46" stroke="#a0a0a0" stroke-width="1.67" stroke-linecap="round"/>
<line x1="269.38" y1="436.31" x2="267.68" y2="436.89" stroke="#000" stroke-opacity="0.7" stroke-width="5.2" stroke-linecap="round"/>
<line x1="269.08" y1="435.71" x2="267.38" y2="436.29" stroke="#ececec" stroke-width="3.7" stroke-linecap="round"/>
<line x1="268.96" y1="435.76" x2="267.51" y2="436.24" stroke="#a0a0a0" stroke-width="1.67" stroke-linecap="round"/>
<line x1="268.45" y1="436.46" x2="268.09" y2="436.84" stroke="#000" stroke-opacity="0.7" stroke-width="5.2" stroke-linecap="round"/>
<line x1="268.15" y1="435.86" x2="267.79" y2="436.24" stroke="#ececec" stroke-width="3.7" stroke-linecap="round"/>
<line x1="268.12" y1="435.89" x2="267.82" y2="436.21" stroke="#a0a0a0" stroke-width="1.67" stroke-linecap="round"/>
<line x1="273.53" y1="439.65" x2="273.42" y2="441.07" stroke="#000" stroke-opacity="0.7" stroke-width="5.2" stroke-linecap="round"/>
<line x1="273.23" y1="439.05" x2="273.12" y2="440.47" stroke="#ececec" stroke-width="3.7" stroke-linecap="round"/>
<line x1="273.22" y1="439.16" x2="273.13" y2="440.37" stroke="#a0a0a0" stroke-width="1.67" stroke-linecap="round"/>
<line x1="269.89" y1="439.8" x2="270.53" y2="441" stroke="#000" stroke-opacity="0.7" stroke-width="5.2" stroke-linecap="round"/>
<line x1="269.59" y1="439.2" x2="270.23" y2="440.4" stroke="#ececec" stroke-width="3.7" stroke-linecap="round"/>
<line x1="269.63" y1="439.29" x2="270.19" y2="440.31" stroke="#a0a0a0" stroke-width="1.67" stroke-linecap="round"/>
<line x1="273.11" y1="440.97" x2="272.2" y2="441.71" stroke="#000" stroke-opacity="0.7" stroke-width="5.2" stroke-linecap="round"/>
<line x1="272.81" y1="440.37" x2="271.9" y2="441.11" stroke="#ececec" stroke-width="3.7" stroke-linecap="round"/>
<line x1="272.74" y1="440.43" x2="271.97" y2="441.06" stroke="#a0a0a0" stroke-width="1.67" stroke-linecap="round"/>
<line x1="278.65" y1="442.86" x2="277.6" y2="443.54" stroke="#000" stroke-opacity="0.7" stroke-width="5.2" stroke-linecap="round"/>
<line x1="278.35" y1="442.26" x2="277.3" y2="442.94" stroke="#ececec" stroke-width="3.7" stroke-linecap="round"/>
<line x1="278.27" y1="442.31" x2="277.38" y2="442.89" stroke="#a0a0a0" stroke-width="1.67" stroke-linecap="round"/>
<line x1="281.13" y1="444.61" x2="279.66" y2="445.64" stroke="#000" stroke-opacity="0.7" stroke-width="5.2" stroke-linecap="round"/>
<line x1="280.83" y1="444.01" x2="279.36" y2="445.04" stroke="#ececec" stroke-width="3.7" stroke-linecap="round"/>
<line x1="280.72" y1="444.09" x2="279.47" y2="444.96" stroke="#a0a0a0" stroke-width="1.67" stroke-linecap="round"/>
<line x1="279.75" y1="440.96" x2="278.5" y2="441.54" stroke="#000" stroke-opacity="0.7" stroke-width="5.2" stroke-linecap="round"/>
<line x1="279.45" y1="440.36" x2="278.2" y2="440.94" stroke="#ececec" stroke-width="3.7" stroke-linecap="round"/>
<line x1="279.36" y1="440.41" x2="278.29" y2="440.9" stroke="#a0a0a0" stroke-width="1.67" stroke-linecap="round"/>
<line x1="280.67" y1="441.89" x2="280.6" y2="442.76" stroke="#000" stroke-opacity="0.7" stroke-width="5.2" stroke-linecap="round"/>
<line x1="280.37" y1="441.29" x2="280.3" y2="442.16" stroke="#ececec" stroke-width="3.7" stroke-linecap="round"/>
<line x1="280.37" y1="441.35" x2="280.3" y2="442.09" stroke="#a0a0a0" stroke-width="1.67" stroke-linecap="round"/>
<line x1="268.58" y1="444.5" x2="270.17" y2="444.51" stroke="#000" stroke-opacity="0.7" stroke-width="5.2" stroke-linecap="round"/>
<line x1="268.28" y1="443.9" x2="269.87" y2="443.91" stroke="#ececec" stroke-width="3.7" stroke-linecap="round"/>
<line x1="268.4" y1="443.9" x2="269.75" y2="443.91" stroke="#a0a0a0" stroke-width="1.67" stroke-linecap="round"/>
<line x1="271.88" y1="443.99" x2="272.54" y2="444.14" stroke="#000" stroke-opacity="0.7" stroke-width="5.2" stroke-linecap="round"/>
<line x1="271.58" y1="443.39" x2="272.24" y2="443.54" stroke="#ececec" stroke-width="3.7" stroke-linecap="round"/>
<line x1="271.63" y1="443.4" x2="272.19" y2="443.53" stroke="#a0a0a0" stroke-width="1.67" stroke-linecap="round"/>
<line x1="273.94" y1="443.17" x2="273.94" y2="443.79" stroke="#000" stroke-opacity="0.7" stroke-width="5.2" stroke-linecap="round"/>
<line x1="273.64" y1="442.57" x2="273.64" y2="443.19" stroke="#ececec" stroke-width="3.7" stroke-linecap="round"/>
<line x1="273.64" y1="442.61" x2="273.64" y2="443.14" stroke="#a0a0a0" stroke-width="1.67" stroke-linecap="round"/>
<line x1="276.15" y1="451.4" x2="275.71" y2="452.29" stroke="#000" stroke-opacity="0.7" stroke-width="5.2" stroke-linecap="round"/>
<line x1="275.85" y1="450.8" x2="275.41" y2="451.69" stroke="#ececec" stroke-width="3.7" stroke-linecap="round"/>
<line x1="275.81" y1="450.87" x2="275.44" y2="451.62" stroke="#a0a0a0" stroke-width="1.67" stroke-linecap="round"/>
<line x1="274.23" y1="448.71" x2="274.62" y2="449.37" stroke="#000" stroke-opacity="0.7" stroke-width="5.2" stroke-linecap="round"/>
<line x1="273.93" y1="448.11" x2="274.32" y2="448.77" stroke="#ececec" stroke-width="3.7" stroke-linecap="round"/>
<line x1="273.96" y1="448.16" x2="274.29" y2="448.72" stroke="#a0a0a0" stroke-width="1.67" stroke-linecap="round"/>
<line x1="279.59" y1="451.18" x2="280.14" y2="452.58" stroke="#000" stroke-opacity="0.7" stroke-width="5.2" stroke-linecap="round"/>
<line x1="279.29" y1="450.58" x2="279.84" y2="451.98" stroke="#ececec" stroke-width="3.7" stroke-linecap="round"/>
<line x1="279.33" y1="450.68" x2="279.8" y2="451.87" stroke="#a0a0a0" stroke-width="1.67" stroke-linecap="round"/>
<line x1="279.19" y1="450.31" x2="278.86" y2="451.28" stroke="#000" stroke-opacity="0.7" stroke-width="5.2" stroke-linecap="round"/>
<line x1="278.89" y1="449.71" x2="278.56" y2="450.68" stroke="#ececec" stroke-width="3.7" stroke-linecap="round"/>
<line x1="278.87" y1="449.78" x2="278.59" y2="450.6" stroke="#a0a0a0" stroke-width="1.67" stroke-linecap="round"/>
<line x1="272.16" y1="450.42" x2="271.55" y2="451.92" stroke="#000" stroke-opacity="0.7" stroke-width="5.2" stroke-linecap="round"/>
<line x1="271.86" y1="449.82" x2="271.25" y2="451.32" stroke="#ececec" stroke-width="3.7" stroke-linecap="round"/>
<line x1="271.81" y1="449.93" x2="271.29" y2="451.2" stroke="#a0a0a0" stroke-width="1.67" stroke-linecap="round"/>
<line x1="268.67" y1="453.86" x2="267.96" y2="454.82" stroke="#000" stroke-opacity="0.7" stroke-width="5.2" stroke-linecap="round"/>
<line x1="268.37" y1="453.26" x2="267.66" y2="454.22" stroke="#ececec" stroke-width="3.7" stroke-linecap="round"/>
<line x1="268.32" y1="453.33" x2="267.71" y2="454.15" stroke="#a0a0a0" stroke-width="1.67" stroke-linecap="round"/>
<line x1="266.99" y1="454.48" x2="267.81" y2="455.27" stroke="#000" stroke-opacity="0.7" stroke-width="5.2" stroke-linecap="round"/>
<line x1="266.69" y1="453.88" x2="267.51" y2="454.67" stroke="#ececec" stroke-width="3.7" stroke-linecap="round"/>
<line x1="266.75" y1="453.94" x2="267.45" y2="454.62" stroke="#a0a0a0" stroke-width="1.67" stroke-linecap="round"/>
<line x1="266.9" y1="452.42" x2="267.04" y2="453" stroke="#000" stroke-opacity="0.7" stroke-width="5.2" stroke-linecap="round"/>
<line x1="266.6" y1="451.82" x2="266.74" y2="452.4" stroke="#ececec" stroke-width="3.7" stroke-linecap="round"/>
<line x1="266.61" y1="451.86" x2="266.73" y2="452.36" stroke="#a0a0a0" stroke-width="1.67" stroke-linecap="round"/>
<line x1="266.49" y1="454.12" x2="267.19" y2="455.79" stroke="#000" stroke-opacity="0.7" stroke-width="5.2" stroke-linecap="round"/>
<line x1="266.19" y1="453.52" x2="266.89" y2="455.19" stroke="#ececec" stroke-width="3.7" stroke-linecap="round"/>
<line x1="266.25" y1="453.65" x2="266.84" y2="455.07" stroke="#a0a0a0" stroke-width="1.67" stroke-linecap="round"/>
<line x1="270.47" y1="458.59" x2="270.57" y2="459.45" stroke="#000" stroke-opacity="0.7" stroke-width="5.2" stroke-linecap="round"/>
<line x1="270.17" y1="457.99" x2="270.27" y2="458.85" stroke="#ececec" stroke-width="3.7" stroke-linecap="round"/>
<line x1="270.18" y1="458.05" x2="270.26" y2="458.78" stroke="#a0a0a0" stroke-width="1.67" stroke-linecap="round"/>
<line x1="270.87" y1="463.54" x2="269.53" y2="464.03" stroke="#000" stroke-opacity="0.7" stroke-width="5.2" stroke-linecap="round"/>
<line x1="270.57" y1="462.94" x2="269.23" y2="463.43" stroke="#ececec" stroke-width="3.7" stroke-linecap="round"/>
<line x1="270.47" y1="462.97" x2="269.33" y2="463.39" stroke="#a0a0a0" stroke-width="1.67" stroke-linecap="round"/>
<line x1="268.29" y1="457.22" x2="267.98" y2="458.72" stroke="#000" stroke-opacity="0.7" stroke-width="5.2" stroke-linecap="round"/>
<line x1="267.99" y1="456.62" x2="267.68" y2="458.12" stroke="#ececec" stroke-width="3.7" stroke-linecap="round"/>
<line x1="267.96" y1="456.73" x2="267.7" y2="458" stroke="#a0a0a0" stroke-width="1.67" stroke-linecap="round"/>
<line x1="269.81" y1="462.99" x2="270.26" y2="463.21" stroke="#000" stroke-opacity="0.7" stroke-width="5.2" stroke-linecap="round"/>
<line x1="269.51" y1="462.39" x2="269.96" y2="462.61" stroke="#ececec" stroke-width="3.7" stroke-linecap="round"/>
<line x1="269.54" y1="462.4" x2="269.93" y2="462.59" stroke="#a0a0a0" stroke-width="1.67" stroke-linecap="round"/>
<line x1="266.95" y1="460.25" x2="267.55" y2="460.44" stroke="#000" stroke-opacity="0.7" stroke-width="5.2" stroke-linecap="round"/>
<line x1="266.65" y1="459.65" x2="267.25" y2="459.84" stroke="#ececec" stroke-width="3.7" stroke-linecap="round"/>
<line x1="266.7" y1="459.66" x2="267.21" y2="459.83" stroke="#a0a0a0" stroke-width="1.67" stroke-linecap="round"/>
<line x1="281.24" y1="460.97" x2="280.77" y2="461.23" stroke="#000" stroke-opacity="0.7" stroke-width="5.2" stroke-linecap="round"/>
<line x1="280.94" y1="460.37" x2="280.47" y2="460.63" stroke="#ececec" stroke-width="3.7" stroke-linecap="round"/>
<line x1="280.91" y1="460.39" x2="280.51" y2="460.61" stroke="#a0a0a0" stroke-width="1.67" stroke-linecap="round"/>
<line x1="283.48" y1="464.9" x2="282.23" y2="465.61" stroke="#000" stroke-opacity="0.7" stroke-width="5.2" stroke-linecap="round"/>
<line x1="283.18" y1="464.3" x2="281.93" y2="465.01" stroke="#ececec" stroke-width="3.7" stroke-linecap="round"/>
<line x1="283.09" y1="464.35" x2="282.02" y2="464.96" stroke="#a0a0a0" stroke-width="1.67" stroke-linecap="round"/>
<line x1="282.38" y1="461.3" x2="283.99" y2="461.48" stroke="#000" stroke-opacity="0.7" stroke-width="5.2" stroke-linecap="round"/>
<line x1="282.08" y1="460.7" x2="283.69" y2="460.88" stroke="#ececec" stroke-width="3.7" stroke-linecap="round"/>
<line x1="282.2" y1="460.71" x2="283.56" y2="460.87" stroke="#a0a0a0" stroke-width="1.67" stroke-linecap="round"/>
<line x1="279.1" y1="458.95" x2="280.51" y2="459.45" stroke="#000" stroke-opacity="0.7" stroke-width="5.2" stroke-linecap="round"/>
<line x1="278.8" y1="458.35" x2="280.21" y2="458.85" stroke="#ececec" stroke-width="3.7" stroke-linecap="round"/>
<line x1="278.9" y1="458.39" x2="280.11" y2="458.81" stroke="#a0a0a0" stroke-width="1.67" stroke-linecap="round"/>
<line x1="279.21" y1="457.8" x2="279.52" y2="458.3" stroke="#000" stroke-opacity="0.7" stroke-width="5.2" stroke-linecap="round"/>
<line x1="278.91" y1="457.2" x2="279.22" y2="457.7" stroke="#ececec" stroke-width="3.7" stroke-linecap="round"/>
<line x1="278.94" y1="457.24" x2="279.2" y2="457.66" stroke="#a0a0a0" stroke-width="1.67" stroke-linecap="round"/>
<line x1="272" y1="465.26" x2="272.71" y2="465.71" stroke="#000" stroke-opacity="0.7" stroke-width="5.2" stroke-linecap="round"/>
<line x1="271.7" y1="464.66" x2="272.41" y2="465.11" stroke="#ececec" stroke-width="3.7" stroke-linecap="round"/>
<line x1="271.76" y1="464.69" x2="272.36" y2="465.07" stroke="#a0a0a0" stroke-width="1.67" stroke-linecap="round"/>
<line x1="273.95" y1="468.97" x2="274.46" y2="470.44" stroke="#000" stroke-opacity="0.7" stroke-width="5.2" stroke-linecap="round"/>
<line x1="273.65" y1="468.37" x2="274.16" y2="469.84" stroke="#ececec" stroke-width="3.7" stroke-linecap="round"/>
<line x1="273.68" y1="468.48" x2="274.12" y2="469.73" stroke="#a0a0a0" stroke-width="1.67" stroke-linecap="round"/>
<line x1="273.14" y1="468.04" x2="273.39" y2="469" stroke="#000" stroke-opacity="0.7" stroke-width="5.2" stroke-linecap="round"/>
<line x1="272.84" y1="467.44" x2="273.09" y2="468.4" stroke="#ececec" stroke-width="3.7" stroke-linecap="round"/>
<line x1="272.86" y1="467.52" x2="273.07" y2="468.33" stroke="#a0a0a0" stroke-width="1.67" stroke-linecap="round"/>
<line x1="268.02" y1="472.12" x2="268.52" y2="473.91" stroke="#000" stroke-opacity="0.7" stroke-width="5.2" stroke-linecap="round"/>
<line x1="267.72" y1="471.52" x2="268.22" y2="473.31" stroke="#ececec" stroke-width="3.7" stroke-linecap="round"/>
<line x1="267.75" y1="471.65" x2="268.18" y2="473.18" stroke="#a0a0a0" stroke-width="1.67" stroke-linecap="round"/>
<line x1="266.5" y1="469.49" x2="265.45" y2="470.51" stroke="#000" stroke-opacity="0.7" stroke-width="5.2" stroke-linecap="round"/>
<line x1="266.2" y1="468.89" x2="265.15" y2="469.91" stroke="#ececec" stroke-width="3.7" stroke-linecap="round"/>
<line x1="266.13" y1="468.96" x2="265.23" y2="469.83" stroke="#a0a0a0" stroke-width="1.67" stroke-linecap="round"/>
<line x1="265.03" y1="468.52" x2="264.52" y2="469.58" stroke="#000" stroke-opacity="0.7" stroke-width="5.2" stroke-linecap="round"/>
<line x1="264.73" y1="467.92" x2="264.22" y2="468.98" stroke="#ececec" stroke-width="3.7" stroke-linecap="round"/>
<line x1="264.69" y1="468" x2="264.26" y2="468.9" stroke="#a0a0a0" stroke-width="1.67" stroke-linecap="round"/>
<line x1="267.37" y1="470.45" x2="266.92" y2="470.9" stroke="#000" stroke-opacity="0.7" stroke-width="5.2" stroke-linecap="round"/>
<line x1="267.07" y1="469.85" x2="266.62" y2="470.3" stroke="#ececec" stroke-width="3.7" stroke-linecap="round"/>
<line x1="267.03" y1="469.88" x2="266.65" y2="470.26" stroke="#a0a0a0" stroke-width="1.67" stroke-linecap="round"/>
<line x1="287.14" y1="469.69" x2="286.43" y2="470.55" stroke="#000" stroke-opacity="0.7" stroke-width="5.2" stroke-linecap="round"/>
<line x1="286.84" y1="469.09" x2="286.13" y2="469.95" stroke="#ececec" stroke-width="3.7" stroke-linecap="round"/>
<line x1="286.79" y1="469.15" x2="286.18" y2="469.89" stroke="#a0a0a0" stroke-width="1.67" stroke-linecap="round"/>
<line x1="286.09" y1="472.25" x2="285.88" y2="473" stroke="#000" stroke-opacity="0.7" stroke-width="5.2" stroke-linecap="round"/>
<line x1="285.79" y1="471.65" x2="285.58" y2="472.4" stroke="#ececec" stroke-width="3.7" stroke-linecap="round"/>
<line x1="285.77" y1="471.71" x2="285.6" y2="472.35" stroke="#a0a0a0" stroke-width="1.67" stroke-linecap="round"/>
<line x1="285.96" y1="472.42" x2="284.51" y2="472.63" stroke="#000" stroke-opacity="0.7" stroke-width="5.2" stroke-linecap="round"/>
<line x1="285.66" y1="471.82" x2="284.21" y2="472.03" stroke="#ececec" stroke-width="3.7" stroke-linecap="round"/>
<line x1="285.55" y1="471.84" x2="284.32" y2="472.02" stroke="#a0a0a0" stroke-width="1.67" stroke-linecap="round"/>
<line x1="302.04" y1="456.14" x2="301.07" y2="456.62" stroke="#000" stroke-opacity="0.7" stroke-width="5.2" stroke-linecap="round"/>
<line x1="301.74" y1="455.54" x2="300.77" y2="456.02" stroke="#ececec" stroke-width="3.7" stroke-linecap="round"/>
<line x1="301.67" y1="455.58" x2="300.84" y2="455.98" stroke="#a0a0a0" stroke-width="1.67" stroke-linecap="round"/>
<line x1="300.16" y1="452.4" x2="300.96" y2="452.46" stroke="#000" stroke-opacity="0.7" stroke-width="5.2" stroke-linecap="round"/>
<line x1="299.86" y1="451.8" x2="300.66" y2="451.86" stroke="#ececec" stroke-width="3.7" stroke-linecap="round"/>
<line x1="299.92" y1="451.81" x2="300.6" y2="451.85" stroke="#a0a0a0" stroke-width="1.67" stroke-linecap="round"/>
<line x1="299.6" y1="453.36" x2="299.91" y2="454.03" stroke="#000" stroke-opacity="0.7" stroke-width="5.2" stroke-linecap="round"/>
<line x1="299.3" y1="452.76" x2="299.61" y2="453.43" stroke="#ececec" stroke-width="3.7" stroke-linecap="round"/>
<line x1="299.32" y1="452.81" x2="299.59" y2="453.38" stroke="#a0a0a0" stroke-width="1.67" stroke-linecap="round"/>
<line x1="301.2" y1="456.32" x2="300.5" y2="456.34" stroke="#000" stroke-opacity="0.7" stroke-width="5.2" stroke-linecap="round"/>
<line x1="300.9" y1="455.72" x2="300.2" y2="455.74" stroke="#ececec" stroke-width="3.7" stroke-linecap="round"/>
<line x1="300.85" y1="455.72" x2="300.26" y2="455.74" stroke="#a0a0a0" stroke-width="1.67" stroke-linecap="round"/>
<line x1="304.32" y1="471.71" x2="303.32" y2="472.28" stroke="#000" stroke-opacity="0.7" stroke-width="5.2" stroke-linecap="round"/>
<line x1="304.02" y1="471.11" x2="303.02" y2="471.68" stroke="#ececec" stroke-width="3.7" stroke-linecap="round"/>
<line x1="303.95" y1="471.15" x2="303.09" y2="471.64" stroke="#a0a0a0" stroke-width="1.67" stroke-linecap="round"/>
<line x1="307.58" y1="468.46" x2="306.83" y2="469.36" stroke="#000" stroke-opacity="0.7" stroke-width="5.2" stroke-linecap="round"/>
<line x1="307.28" y1="467.86" x2="306.53" y2="468.76" stroke="#ececec" stroke-width="3.7" stroke-linecap="round"/>
<line x1="307.23" y1="467.93" x2="306.59" y2="468.7" stroke="#a0a0a0" stroke-width="1.67" stroke-linecap="round"/>
<line x1="308.18" y1="469.52" x2="306.66" y2="469.71" stroke="#000" stroke-opacity="0.7" stroke-width="5.2" stroke-linecap="round"/>
<line x1="307.88" y1="468.92" x2="306.36" y2="469.11" stroke="#ececec" stroke-width="3.7" stroke-linecap="round"/>
<line x1="307.76" y1="468.94" x2="306.47" y2="469.1" stroke="#a0a0a0" stroke-width="1.67" stroke-linecap="round"/>
<line x1="305.01" y1="471.67" x2="304.48" y2="472.31" stroke="#000" stroke-opacity="0.7" stroke-width="5.2" stroke-linecap="round"/>
<line x1="304.71" y1="471.07" x2="304.18" y2="471.71" stroke="#ececec" stroke-width="3.7" stroke-linecap="round"/>
<line x1="304.67" y1="471.12" x2="304.22" y2="471.66" stroke="#a0a0a0" stroke-width="1.67" stroke-linecap="round"/>
<line x1="228.31" y1="476.4" x2="229.54" y2="477.56" stroke="#000" stroke-opacity="0.7" stroke-width="5.2" stroke-linecap="round"/>
<line x1="228.01" y1="475.8" x2="229.24" y2="476.96" stroke="#ececec" stroke-width="3.7" stroke-linecap="round"/>
<line x1="228.1" y1="475.88" x2="229.15" y2="476.88" stroke="#a0a0a0" stroke-width="1.67" stroke-linecap="round"/>
<line x1="233.25" y1="480.71" x2="232.8" y2="481.32" stroke="#000" stroke-opacity="0.7" stroke-width="5.2" stroke-linecap="round"/>
<line x1="232.95" y1="480.11" x2="232.5" y2="480.72" stroke="#ececec" stroke-width="3.7" stroke-linecap="round"/>
<line x1="232.92" y1="480.16" x2="232.53" y2="480.68" stroke="#a0a0a0" stroke-width="1.67" stroke-linecap="round"/>
<line x1="236.08" y1="477.22" x2="235.3" y2="477.57" stroke="#000" stroke-opacity="0.7" stroke-width="5.2" stroke-linecap="round"/>
<line x1="235.78" y1="476.62" x2="235" y2="476.97" stroke="#ececec" stroke-width="3.7" stroke-linecap="round"/>
<line x1="235.72" y1="476.64" x2="235.06" y2="476.94" stroke="#a0a0a0" stroke-width="1.67" stroke-linecap="round"/>
<line x1="229.43" y1="481.2" x2="230.89" y2="481.6" stroke="#000" stroke-opacity="0.7" stroke-width="5.2" stroke-linecap="round"/>
<line x1="229.13" y1="480.6" x2="230.59" y2="481" stroke="#ececec" stroke-width="3.7" stroke-linecap="round"/>
<line x1="229.24" y1="480.63" x2="230.48" y2="480.97" stroke="#a0a0a0" stroke-width="1.67" stroke-linecap="round"/>
<line x1="236.56" y1="480.7" x2="236.96" y2="481.52" stroke="#000" stroke-opacity="0.7" stroke-width="5.2" stroke-linecap="round"/>
<line x1="236.26" y1="480.1" x2="236.66" y2="480.92" stroke="#ececec" stroke-width="3.7" stroke-linecap="round"/>
<line x1="236.29" y1="480.16" x2="236.63" y2="480.85" stroke="#a0a0a0" stroke-width="1.67" stroke-linecap="round"/>
<line x1="227" y1="478.19" x2="227.25" y2="478.63" stroke="#000" stroke-opacity="0.7" stroke-width="5.2" stroke-linecap="round"/>
<line x1="226.7" y1="477.59" x2="226.95" y2="478.03" stroke="#ececec" stroke-width="3.7" stroke-linecap="round"/>
<line x1="226.72" y1="477.62" x2="226.93" y2="478" stroke="#a0a0a0" stroke-width="1.67" stroke-linecap="round"/>
<line x1="227.73" y1="480.03" x2="227.52" y2="480.8" stroke="#000" stroke-opacity="0.7" stroke-width="5.2" stroke-linecap="round"/>
<line x1="227.43" y1="479.43" x2="227.22" y2="480.2" stroke="#ececec" stroke-width="3.7" stroke-linecap="round"/>
<line x1="227.42" y1="479.49" x2="227.24" y2="480.14" stroke="#a0a0a0" stroke-width="1.67" stroke-linecap="round"/>
<line x1="235.12" y1="478.85" x2="236.29" y2="479.31" stroke="#000" stroke-opacity="0.7" stroke-width="5.2" stroke-linecap="round"/>
<line x1="234.82" y1="478.25" x2="235.99" y2="478.71" stroke="#ececec" stroke-width="3.7" stroke-linecap="round"/>
<line x1="234.91" y1="478.28" x2="235.9" y2="478.68" stroke="#a0a0a0" stroke-width="1.67" stroke-linecap="round"/>
<line x1="241.85" y1="490.32" x2="241.23" y2="490.55" stroke="#000" stroke-opacity="0.7" stroke-width="5.2" stroke-linecap="round"/>
<line x1="241.55" y1="489.72" x2="240.93" y2="489.95" stroke="#ececec" stroke-width="3.7" stroke-linecap="round"/>
<line x1="241.5" y1="489.74" x2="240.98" y2="489.93" stroke="#a0a0a0" stroke-width="1.67" stroke-linecap="round"/>
<line x1="243.52" y1="483.75" x2="244.22" y2="485.43" stroke="#000" stroke-opacity="0.7" stroke-width="5.2" stroke-linecap="round"/>
<line x1="243.22" y1="483.15" x2="243.92" y2="484.83" stroke="#ececec" stroke-width="3.7" stroke-linecap="round"/>
<line x1="243.27" y1="483.27" x2="243.87" y2="484.7" stroke="#a0a0a0" stroke-width="1.67" stroke-linecap="round"/>
<line x1="243.27" y1="480.04" x2="242.79" y2="480.82" stroke="#000" stroke-opacity="0.7" stroke-width="5.2" stroke-linecap="round"/>
<line x1="242.97" y1="479.44" x2="242.49" y2="480.22" stroke="#ececec" stroke-width="3.7" stroke-linecap="round"/>
<line x1="242.94" y1="479.5" x2="242.53" y2="480.16" stroke="#a0a0a0" stroke-width="1.67" stroke-linecap="round"/>
<line x1="239.56" y1="480.86" x2="238.93" y2="481.47" stroke="#000" stroke-opacity="0.7" stroke-width="5.2" stroke-linecap="round"/>
<line x1="239.26" y1="480.26" x2="238.63" y2="480.87" stroke="#ececec" stroke-width="3.7" stroke-linecap="round"/>
<line x1="239.21" y1="480.3" x2="238.68" y2="480.82" stroke="#a0a0a0" stroke-width="1.67" stroke-linecap="round"/>
<line x1="246.49" y1="484.2" x2="247.66" y2="484.63" stroke="#000" stroke-opacity="0.7" stroke-width="5.2" stroke-linecap="round"/>
<line x1="246.19" y1="483.6" x2="247.36" y2="484.03" stroke="#ececec" stroke-width="3.7" stroke-linecap="round"/>
<line x1="246.28" y1="483.63" x2="247.28" y2="484" stroke="#a0a0a0" stroke-width="1.67" stroke-linecap="round"/>
<line x1="239.14" y1="485.1" x2="238.34" y2="486.37" stroke="#000" stroke-opacity="0.7" stroke-width="5.2" stroke-linecap="round"/>
<line x1="238.84" y1="484.5" x2="238.04" y2="485.77" stroke="#ececec" stroke-width="3.7" stroke-linecap="round"/>
<line x1="238.78" y1="484.6" x2="238.1" y2="485.68" stroke="#a0a0a0" stroke-width="1.67" stroke-linecap="round"/>
<line x1="240.24" y1="483.92" x2="239.68" y2="485.21" stroke="#000" stroke-opacity="0.7" stroke-width="5.2" stroke-linecap="round"/>
<line x1="239.94" y1="483.32" x2="239.38" y2="484.61" stroke="#ececec" stroke-width="3.7" stroke-linecap="round"/>
<line x1="239.9" y1="483.42" x2="239.42" y2="484.51" stroke="#a0a0a0" stroke-width="1.67" stroke-linecap="round"/>
<line x1="244.08" y1="490.44" x2="245.4" y2="490.98" stroke="#000" stroke-opacity="0.7" stroke-width="5.2" stroke-linecap="round"/>
<line x1="243.78" y1="489.84" x2="245.1" y2="490.38" stroke="#ececec" stroke-width="3.7" stroke-linecap="round"/>
<line x1="243.88" y1="489.88" x2="245" y2="490.34" stroke="#a0a0a0" stroke-width="1.67" stroke-linecap="round"/>
<line x1="244.66" y1="484.29" x2="244.04" y2="485.03" stroke="#000" stroke-opacity="0.7" stroke-width="5.2" stroke-linecap="round"/>
<line x1="244.36" y1="483.69" x2="243.74" y2="484.43" stroke="#ececec" stroke-width="3.7" stroke-linecap="round"/>
<line x1="244.31" y1="483.75" x2="243.79" y2="484.38" stroke="#a0a0a0" stroke-width="1.67" stroke-linecap="round"/>
<line x1="238.55" y1="482.33" x2="238.74" y2="483.73" stroke="#000" stroke-opacity="0.7" stroke-width="5.2" stroke-linecap="round"/>
<line x1="238.25" y1="481.73" x2="238.44" y2="483.13" stroke="#ececec" stroke-width="3.7" stroke-linecap="round"/>
<line x1="238.26" y1="481.84" x2="238.42" y2="483.02" stroke="#a0a0a0" stroke-width="1.67" stroke-linecap="round"/>
<line x1="241.52" y1="487.7" x2="241.15" y2="488.16" stroke="#000" stroke-opacity="0.7" stroke-width="5.2" stroke-linecap="round"/>
<line x1="241.22" y1="487.1" x2="240.85" y2="487.56" stroke="#ececec" stroke-width="3.7" stroke-linecap="round"/>
<line x1="241.2" y1="487.13" x2="240.88" y2="487.53" stroke="#a0a0a0" stroke-width="1.67" stroke-linecap="round"/>
<line x1="252.05" y1="483.22" x2="252.71" y2="484.61" stroke="#000" stroke-opacity="0.7" stroke-width="5.2" stroke-linecap="round"/>
<line x1="251.75" y1="482.62" x2="252.41" y2="484.01" stroke="#ececec" stroke-width="3.7" stroke-linecap="round"/>
<line x1="251.8" y1="482.73" x2="252.36" y2="483.91" stroke="#a0a0a0" stroke-width="1.67" stroke-linecap="round"/>
<line x1="251.2" y1="490.57" x2="252.91" y2="490.79" stroke="#000" stroke-opacity="0.7" stroke-width="5.2" stroke-linecap="round"/>
<line x1="250.9" y1="489.97" x2="252.61" y2="490.19" stroke="#ececec" stroke-width="3.7" stroke-linecap="round"/>
<line x1="251.03" y1="489.98" x2="252.48" y2="490.18" stroke="#a0a0a0" stroke-width="1.67" stroke-linecap="round"/>
<line x1="249.96" y1="486.82" x2="250.66" y2="488.23" stroke="#000" stroke-opacity="0.7" stroke-width="5.2" stroke-linecap="round"/>
<line x1="249.66" y1="486.22" x2="250.36" y2="487.63" stroke="#ececec" stroke-width="3.7" stroke-linecap="round"/>
<line x1="249.72" y1="486.33" x2="250.31" y2="487.53" stroke="#a0a0a0" stroke-width="1.67" stroke-linecap="round"/>
<line x1="251.51" y1="489.94" x2="250.56" y2="490.77" stroke="#000" stroke-opacity="0.7" stroke-width="5.2" stroke-linecap="round"/>
<line x1="251.21" y1="489.34" x2="250.26" y2="490.17" stroke="#ececec" stroke-width="3.7" stroke-linecap="round"/>
<line x1="251.14" y1="489.4" x2="250.33" y2="490.11" stroke="#a0a0a0" stroke-width="1.67" stroke-linecap="round"/>
<line x1="249.87" y1="491.03" x2="250.3" y2="491.52" stroke="#000" stroke-opacity="0.7" stroke-width="5.2" stroke-linecap="round"/>
<line x1="249.57" y1="490.43" x2="250" y2="490.92" stroke="#ececec" stroke-width="3.7" stroke-linecap="round"/>
<line x1="249.6" y1="490.46" x2="249.97" y2="490.88" stroke="#a0a0a0" stroke-width="1.67" stroke-linecap="round"/>
<line x1="253.91" y1="487.98" x2="252.87" y2="489.18" stroke="#000" stroke-opacity="0.7" stroke-width="5.2" stroke-linecap="round"/>
<line x1="253.61" y1="487.38" x2="252.57" y2="488.58" stroke="#ececec" stroke-width="3.7" stroke-linecap="round"/>
<line x1="253.53" y1="487.47" x2="252.65" y2="488.49" stroke="#a0a0a0" stroke-width="1.67" stroke-linecap="round"/>
<line x1="231.65" y1="492.6" x2="230.9" y2="493.38" stroke="#000" stroke-opacity="0.7" stroke-width="5.2" stroke-linecap="round"/>
<line x1="231.35" y1="492" x2="230.6" y2="492.78" stroke="#ececec" stroke-width="3.7" stroke-linecap="round"/>
<line x1="231.29" y1="492.06" x2="230.65" y2="492.73" stroke="#a0a0a0" stroke-width="1.67" stroke-linecap="round"/>
<line x1="232.16" y1="485.55" x2="233.35" y2="486.14" stroke="#000" stroke-opacity="0.7" stroke-width="5.2" stroke-linecap="round"/>
<line x1="231.86" y1="484.95" x2="233.05" y2="485.54" stroke="#ececec" stroke-width="3.7" stroke-linecap="round"/>
<line x1="231.95" y1="484.99" x2="232.96" y2="485.5" stroke="#a0a0a0" stroke-width="1.67" stroke-linecap="round"/>
<line x1="226.93" y1="491.57" x2="226.66" y2="492.78" stroke="#000" stroke-opacity="0.7" stroke-width="5.2" stroke-linecap="round"/>
<line x1="226.63" y1="490.97" x2="226.36" y2="492.18" stroke="#ececec" stroke-width="3.7" stroke-linecap="round"/>
<line x1="226.61" y1="491.06" x2="226.38" y2="492.09" stroke="#a0a0a0" stroke-width="1.67" stroke-linecap="round"/>
<line x1="230.27" y1="493.39" x2="231.85" y2="493.54" stroke="#000" stroke-opacity="0.7" stroke-width="5.2" stroke-linecap="round"/>
<line x1="229.97" y1="492.79" x2="231.55" y2="492.94" stroke="#ececec" stroke-width="3.7" stroke-linecap="round"/>
<line x1="230.09" y1="492.8" x2="231.44" y2="492.93" stroke="#a0a0a0" stroke-width="1.67" stroke-linecap="round"/>
<line x1="232.1" y1="484.4" x2="232.76" y2="486.1" stroke="#000" stroke-opacity="0.7" stroke-width="5.2" stroke-linecap="round"/>
<line x1="231.8" y1="483.8" x2="232.46" y2="485.5" stroke="#ececec" stroke-width="3.7" stroke-linecap="round"/>
<line x1="231.85" y1="483.92" x2="232.41" y2="485.37" stroke="#a0a0a0" stroke-width="1.67" stroke-linecap="round"/>
<line x1="224.35" y1="489.06" x2="222.97" y2="489.16" stroke="#000" stroke-opacity="0.7" stroke-width="5.2" stroke-linecap="round"/>
<line x1="224.05" y1="488.46" x2="222.67" y2="488.56" stroke="#ececec" stroke-width="3.7" stroke-linecap="round"/>
<line x1="223.95" y1="488.47" x2="222.77" y2="488.56" stroke="#a0a0a0" stroke-width="1.67" stroke-linecap="round"/>
<line x1="227.95" y1="486.72" x2="228.04" y2="488.42" stroke="#000" stroke-opacity="0.7" stroke-width="5.2" stroke-linecap="round"/>
<line x1="227.65" y1="486.12" x2="227.74" y2="487.82" stroke="#ececec" stroke-width="3.7" stroke-linecap="round"/>
<line x1="227.66" y1="486.25" x2="227.73" y2="487.7" stroke="#a0a0a0" stroke-width="1.67" stroke-linecap="round"/>
<line x1="224.16" y1="487.39" x2="223.79" y2="487.72" stroke="#000" stroke-opacity="0.7" stroke-width="5.2" stroke-linecap="round"/>
<line x1="223.86" y1="486.79" x2="223.49" y2="487.12" stroke="#ececec" stroke-width="3.7" stroke-linecap="round"/>
<line x1="223.83" y1="486.82" x2="223.51" y2="487.1" stroke="#a0a0a0" stroke-width="1.67" stroke-linecap="round"/>
<line x1="226.59" y1="486.41" x2="226.74" y2="487.63" stroke="#000" stroke-opacity="0.7" stroke-width="5.2" stroke-linecap="round"/>
<line x1="226.29" y1="485.81" x2="226.44" y2="487.03" stroke="#ececec" stroke-width="3.7" stroke-linecap="round"/>
<line x1="226.3" y1="485.9" x2="226.43" y2="486.94" stroke="#a0a0a0" stroke-width="1.67" stroke-linecap="round"/>
<line x1="231.95" y1="494.42" x2="231.95" y2="494.97" stroke="#000" stroke-opacity="0.7" stroke-width="5.2" stroke-linecap="round"/>
<line x1="231.65" y1="493.82" x2="231.65" y2="494.37" stroke="#ececec" stroke-width="3.7" stroke-linecap="round"/>
<line x1="231.65" y1="493.86" x2="231.65" y2="494.33" stroke="#a0a0a0" stroke-width="1.67" stroke-linecap="round"/>
<line x1="227" y1="487.34" x2="225.71" y2="487.51" stroke="#000" stroke-opacity="0.7" stroke-width="5.2" stroke-linecap="round"/>
<line x1="226.7" y1="486.74" x2="225.41" y2="486.91" stroke="#ececec" stroke-width="3.7" stroke-linecap="round"/>
<line x1="226.6" y1="486.75" x2="225.51" y2="486.9" stroke="#a0a0a0" stroke-width="1.67" stroke-linecap="round"/>
<line x1="227.25" y1="499.24" x2="226.65" y2="500.73" stroke="#000" stroke-opacity="0.7" stroke-width="5.2" stroke-linecap="round"/>
<line x1="226.95" y1="498.64" x2="226.35" y2="500.13" stroke="#ececec" stroke-width="3.7" stroke-linecap="round"/>
<line x1="226.91" y1="498.75" x2="226.39" y2="500.02" stroke="#a0a0a0" stroke-width="1.67" stroke-linecap="round"/>
<line x1="228.67" y1="502.81" x2="229.47" y2="503.01" stroke="#000" stroke-opacity="0.7" stroke-width="5.2" stroke-linecap="round"/>
<line x1="228.37" y1="502.21" x2="229.17" y2="502.41" stroke="#ececec" stroke-width="3.7" stroke-linecap="round"/>
<line x1="228.43" y1="502.23" x2="229.11" y2="502.4" stroke="#a0a0a0" stroke-width="1.67" stroke-linecap="round"/>
<line x1="218.22" y1="499.78" x2="217.35" y2="500.16" stroke="#000" stroke-opacity="0.7" stroke-width="5.2" stroke-linecap="round"/>
<line x1="217.92" y1="499.18" x2="217.05" y2="499.56" stroke="#ececec" stroke-width="3.7" stroke-linecap="round"/>
<line x1="217.85" y1="499.21" x2="217.11" y2="499.53" stroke="#a0a0a0" stroke-width="1.67" stroke-linecap="round"/>
<line x1="224.13" y1="498.38" x2="223.6" y2="500" stroke="#000" stroke-opacity="0.7" stroke-width="5.2" stroke-linecap="round"/>
<line x1="223.83" y1="497.78" x2="223.3" y2="499.4" stroke="#ececec" stroke-width="3.7" stroke-linecap="round"/>
<line x1="223.79" y1="497.9" x2="223.34" y2="499.27" stroke="#a0a0a0" stroke-width="1.67" stroke-linecap="round"/>
<line x1="230.13" y1="498.3" x2="230.85" y2="499.65" stroke="#000" stroke-opacity="0.7" stroke-width="5.2" stroke-linecap="round"/>
<line x1="229.83" y1="497.7" x2="230.55" y2="499.05" stroke="#ececec" stroke-width="3.7" stroke-linecap="round"/>
<line x1="229.88" y1="497.8" x2="230.5" y2="498.95" stroke="#a0a0a0" stroke-width="1.67" stroke-linecap="round"/>
<line x1="227.16" y1="494.43" x2="227.49" y2="496.1" stroke="#000" stroke-opacity="0.7" stroke-width="5.2" stroke-linecap="round"/>
<line x1="226.86" y1="493.83" x2="227.19" y2="495.5" stroke="#ececec" stroke-width="3.7" stroke-linecap="round"/>
<line x1="226.88" y1="493.96" x2="227.17" y2="495.38" stroke="#a0a0a0" stroke-width="1.67" stroke-linecap="round"/>
<line x1="224.7" y1="496.69" x2="225.35" y2="496.77" stroke="#000" stroke-opacity="0.7" stroke-width="5.2" stroke-linecap="round"/>
<line x1="224.4" y1="496.09" x2="225.05" y2="496.17" stroke="#ececec" stroke-width="3.7" stroke-linecap="round"/>
<line x1="224.45" y1="496.09" x2="225" y2="496.17" stroke="#a0a0a0" stroke-width="1.67" stroke-linecap="round"/>
<line x1="227.76" y1="502.71" x2="227.77" y2="503.44" stroke="#000" stroke-opacity="0.7" stroke-width="5.2" stroke-linecap="round"/>
<line x1="227.46" y1="502.11" x2="227.47" y2="502.84" stroke="#ececec" stroke-width="3.7" stroke-linecap="round"/>
<line x1="227.46" y1="502.17" x2="227.46" y2="502.78" stroke="#a0a0a0" stroke-width="1.67" stroke-linecap="round"/>
<line x1="223.32" y1="496.24" x2="222.83" y2="497.21" stroke="#000" stroke-opacity="0.7" stroke-width="5.2" stroke-linecap="round"/>
<line x1="223.02" y1="495.64" x2="222.53" y2="496.61" stroke="#ececec" stroke-width="3.7" stroke-linecap="round"/>
<line x1="222.99" y1="495.71" x2="222.57" y2="496.54" stroke="#a0a0a0" stroke-width="1.67" stroke-linecap="round"/>
<line x1="222.84" y1="505.35" x2="223.32" y2="506.83" stroke="#000" stroke-opacity="0.7" stroke-width="5.2" stroke-linecap="round"/>
<line x1="222.54" y1="504.75" x2="223.02" y2="506.23" stroke="#ececec" stroke-width="3.7" stroke-linecap="round"/>
<line x1="222.58" y1="504.86" x2="222.98" y2="506.12" stroke="#a0a0a0" stroke-width="1.67" stroke-linecap="round"/>
<line x1="227.5" y1="506.93" x2="228.11" y2="508.31" stroke="#000" stroke-opacity="0.7" stroke-width="5.2" stroke-linecap="round"/>
<line x1="227.2" y1="506.33" x2="227.81" y2="507.71" stroke="#ececec" stroke-width="3.7" stroke-linecap="round"/>
<line x1="227.24" y1="506.43" x2="227.76" y2="507.6" stroke="#a0a0a0" stroke-width="1.67" stroke-linecap="round"/>
<line x1="220.53" y1="504.86" x2="221.55" y2="505.72" stroke="#000" stroke-opacity="0.7" stroke-width="5.2" stroke-linecap="round"/>
<line x1="220.23" y1="504.26" x2="221.25" y2="505.12" stroke="#ececec" stroke-width="3.7" stroke-linecap="round"/>
<line x1="220.31" y1="504.32" x2="221.17" y2="505.06" stroke="#a0a0a0" stroke-width="1.67" stroke-linecap="round"/>
<line x1="227.51" y1="501.31" x2="228.95" y2="502" stroke="#000" stroke-opacity="0.7" stroke-width="5.2" stroke-linecap="round"/>
<line x1="227.21" y1="500.71" x2="228.65" y2="501.4" stroke="#ececec" stroke-width="3.7" stroke-linecap="round"/>
<line x1="227.32" y1="500.76" x2="228.54" y2="501.35" stroke="#a0a0a0" stroke-width="1.67" stroke-linecap="round"/>
<line x1="221.25" y1="502.17" x2="221.93" y2="502.57" stroke="#000" stroke-opacity="0.7" stroke-width="5.2" stroke-linecap="round"/>
<line x1="220.95" y1="501.57" x2="221.63" y2="501.97" stroke="#ececec" stroke-width="3.7" stroke-linecap="round"/>
<line x1="221" y1="501.6" x2="221.58" y2="501.94" stroke="#a0a0a0" stroke-width="1.67" stroke-linecap="round"/>
<line x1="222.02" y1="503.14" x2="222.52" y2="503.32" stroke="#000" stroke-opacity="0.7" stroke-width="5.2" stroke-linecap="round"/>
<line x1="221.72" y1="502.54" x2="222.22" y2="502.72" stroke="#ececec" stroke-width="3.7" stroke-linecap="round"/>
<line x1="221.75" y1="502.56" x2="222.18" y2="502.71" stroke="#a0a0a0" stroke-width="1.67" stroke-linecap="round"/>
<line x1="240.75" y1="500.24" x2="241.33" y2="500.28" stroke="#000" stroke-opacity="0.7" stroke-width="5.2" stroke-linecap="round"/>
<line x1="240.45" y1="499.64" x2="241.03" y2="499.68" stroke="#ececec" stroke-width="3.7" stroke-linecap="round"/>
<line x1="240.49" y1="499.64" x2="240.98" y2="499.68" stroke="#a0a0a0" stroke-width="1.67" stroke-linecap="round"/>
<line x1="234.14" y1="497.71" x2="235.6" y2="497.95" stroke="#000" stroke-opacity="0.7" stroke-width="5.2" stroke-linecap="round"/>
<line x1="233.84" y1="497.11" x2="235.3" y2="497.35" stroke="#ececec" stroke-width="3.7" stroke-linecap="round"/>
<line x1="233.95" y1="497.13" x2="235.19" y2="497.33" stroke="#a0a0a0" stroke-width="1.67" stroke-linecap="round"/>
<line x1="235.71" y1="498.73" x2="235.17" y2="498.79" stroke="#000" stroke-opacity="0.7" stroke-width="5.2" stroke-linecap="round"/>
<line x1="235.41" y1="498.13" x2="234.87" y2="498.19" stroke="#ececec" stroke-width="3.7" stroke-linecap="round"/>
<line x1="235.37" y1="498.13" x2="234.91" y2="498.18" stroke="#a0a0a0" stroke-width="1.67" stroke-linecap="round"/>
<line x1="238.68" y1="498.12" x2="239.69" y2="498.7" stroke="#000" stroke-opacity="0.7" stroke-width="5.2" stroke-linecap="round"/>
<line x1="238.38" y1="497.52" x2="239.39" y2="498.1" stroke="#ececec" stroke-width="3.7" stroke-linecap="round"/>
<line x1="238.46" y1="497.56" x2="239.32" y2="498.05" stroke="#a0a0a0" stroke-width="1.67" stroke-linecap="round"/>
<line x1="235.72" y1="494.09" x2="236.38" y2="494.2" stroke="#000" stroke-opacity="0.7" stroke-width="5.2" stroke-linecap="round"/>
<line x1="235.42" y1="493.49" x2="236.08" y2="493.6" stroke="#ececec" stroke-width="3.7" stroke-linecap="round"/>
<line x1="235.47" y1="493.5" x2="236.03" y2="493.59" stroke="#a0a0a0" stroke-width="1.67" stroke-linecap="round"/>
<line x1="238.24" y1="492.69" x2="238.41" y2="494.28" stroke="#000" stroke-opacity="0.7" stroke-width="5.2" stroke-linecap="round"/>
<line x1="237.94" y1="492.09" x2="238.11" y2="493.68" stroke="#ececec" stroke-width="3.7" stroke-linecap="round"/>
<line x1="237.95" y1="492.21" x2="238.1" y2="493.56" stroke="#a0a0a0" stroke-width="1.67" stroke-linecap="round"/>
<line x1="241.77" y1="494.94" x2="242.34" y2="495.57" stroke="#000" stroke-opacity="0.7" stroke-width="5.2" stroke-linecap="round"/>
<line x1="241.47" y1="494.34" x2="242.04" y2="494.97" stroke="#ececec" stroke-width="3.7" stroke-linecap="round"/>
<line x1="241.51" y1="494.39" x2="241.99" y2="494.92" stroke="#a0a0a0" stroke-width="1.67" stroke-linecap="round"/>
<line x1="240.37" y1="492.09" x2="241.31" y2="492.37" stroke="#000" stroke-opacity="0.7" stroke-width="5.2" stroke-linecap="round"/>
<line x1="240.07" y1="491.49" x2="241.01" y2="491.77" stroke="#ececec" stroke-width="3.7" stroke-linecap="round"/>
<line x1="240.14" y1="491.51" x2="240.94" y2="491.75" stroke="#a0a0a0" stroke-width="1.67" stroke-linecap="round"/>
<line x1="235.5" y1="491.21" x2="236.83" y2="491.23" stroke="#000" stroke-opacity="0.7" stroke-width="5.2" stroke-linecap="round"/>
<line x1="235.2" y1="490.61" x2="236.53" y2="490.63" stroke="#ececec" stroke-width="3.7" stroke-linecap="round"/>
<line x1="235.3" y1="490.61" x2="236.43" y2="490.62" stroke="#a0a0a0" stroke-width="1.67" stroke-linecap="round"/>
<line x1="240.35" y1="496.9" x2="241.09" y2="496.98" stroke="#000" stroke-opacity="0.7" stroke-width="5.2" stroke-linecap="round"/>
<line x1="240.05" y1="496.3" x2="240.79" y2="496.38" stroke="#ececec" stroke-width="3.7" stroke-linecap="round"/>
<line x1="240.11" y1="496.31" x2="240.73" y2="496.38" stroke="#a0a0a0" stroke-width="1.67" stroke-linecap="round"/>
<line x1="256.17" y1="500.06" x2="257.59" y2="501.1" stroke="#000" stroke-opacity="0.7" stroke-width="5.2" stroke-linecap="round"/>
<line x1="255.87" y1="499.46" x2="257.29" y2="500.5" stroke="#ececec" stroke-width="3.7" stroke-linecap="round"/>
<line x1="255.97" y1="499.54" x2="257.18" y2="500.42" stroke="#a0a0a0" stroke-width="1.67" stroke-linecap="round"/>
<line x1="257.17" y1="498.27" x2="255.6" y2="498.69" stroke="#000" stroke-opacity="0.7" stroke-width="5.2" stroke-linecap="round"/>
<line x1="256.87" y1="497.67" x2="255.3" y2="498.09" stroke="#ececec" stroke-width="3.7" stroke-linecap="round"/>
<line x1="256.76" y1="497.7" x2="255.42" y2="498.06" stroke="#a0a0a0" stroke-width="1.67" stroke-linecap="round"/>
<line x1="253.48" y1="498.29" x2="253.18" y2="499.16" stroke="#000" stroke-opacity="0.7" stroke-width="5.2" stroke-linecap="round"/>
<line x1="253.18" y1="497.69" x2="252.88" y2="498.56" stroke="#ececec" stroke-width="3.7" stroke-linecap="round"/>
<line x1="253.16" y1="497.75" x2="252.9" y2="498.5" stroke="#a0a0a0" stroke-width="1.67" stroke-linecap="round"/>
<line x1="254.38" y1="498.36" x2="253.57" y2="498.77" stroke="#000" stroke-opacity="0.7" stroke-width="5.2" stroke-linecap="round"/>
<line x1="254.08" y1="497.76" x2="253.27" y2="498.17" stroke="#ececec" stroke-width="3.7" stroke-linecap="round"/>
<line x1="254.02" y1="497.79" x2="253.33" y2="498.14" stroke="#a0a0a0" stroke-width="1.67" stroke-linecap="round"/>
<line x1="255.37" y1="500.96" x2="254.86" y2="501.77" stroke="#000" stroke-opacity="0.7" stroke-width="5.2" stroke-linecap="round"/>
<line x1="255.07" y1="500.36" x2="254.56" y2="501.17" stroke="#ececec" stroke-width="3.7" stroke-linecap="round"/>
<line x1="255.04" y1="500.42" x2="254.59" y2="501.11" stroke="#a0a0a0" stroke-width="1.67" stroke-linecap="round"/>
<line x1="255.07" y1="497.53" x2="254.04" y2="498.67" stroke="#000" stroke-opacity="0.7" stroke-width="5.2" stroke-linecap="round"/>
<line x1="254.77" y1="496.93" x2="253.74" y2="498.07" stroke="#ececec" stroke-width="3.7" stroke-linecap="round"/>
<line x1="254.7" y1="497.02" x2="253.82" y2="497.99" stroke="#a0a0a0" stroke-width="1.67" stroke-linecap="round"/>
<line x1="254.21" y1="494.77" x2="254.96" y2="496.4" stroke="#000" stroke-opacity="0.7" stroke-width="5.2" stroke-linecap="round"/>
<line x1="253.91" y1="494.17" x2="254.66" y2="495.8" stroke="#ececec" stroke-width="3.7" stroke-linecap="round"/>
<line x1="253.97" y1="494.29" x2="254.61" y2="495.68" stroke="#a0a0a0" stroke-width="1.67" stroke-linecap="round"/>
<line x1="249.78" y1="499.65" x2="249.88" y2="501.24" stroke="#000" stroke-opacity="0.7" stroke-width="5.2" stroke-linecap="round"/>
<line x1="249.48" y1="499.05" x2="249.58" y2="500.64" stroke="#ececec" stroke-width="3.7" stroke-linecap="round"/>
<line x1="249.49" y1="499.17" x2="249.57" y2="500.52" stroke="#a0a0a0" stroke-width="1.67" stroke-linecap="round"/>
<line x1="252.24" y1="500.64" x2="251.75" y2="502.06" stroke="#000" stroke-opacity="0.7" stroke-width="5.2" stroke-linecap="round"/>
<line x1="251.94" y1="500.04" x2="251.45" y2="501.46" stroke="#ececec" stroke-width="3.7" stroke-linecap="round"/>
<line x1="251.91" y1="500.14" x2="251.49" y2="501.36" stroke="#a0a0a0" stroke-width="1.67" stroke-linecap="round"/>
<line x1="250.86" y1="495.51" x2="251.91" y2="496.06" stroke="#000" stroke-opacity="0.7" stroke-width="5.2" stroke-linecap="round"/>
<line x1="250.56" y1="494.91" x2="251.61" y2="495.46" stroke="#ececec" stroke-width="3.7" stroke-linecap="round"/>
<line x1="250.64" y1="494.95" x2="251.53" y2="495.42" stroke="#a0a0a0" stroke-width="1.67" stroke-linecap="round"/>
<line x1="260.09" y1="488.73" x2="259.25" y2="489.53" stroke="#000" stroke-opacity="0.7" stroke-width="5.2" stroke-linecap="round"/>
<line x1="259.79" y1="488.13" x2="258.95" y2="488.93" stroke="#ececec" stroke-width="3.7" stroke-linecap="round"/>
<line x1="259.73" y1="488.19" x2="259.01" y2="488.87" stroke="#a0a0a0" stroke-width="1.67" stroke-linecap="round"/>
<line x1="259.69" y1="487.61" x2="258.95" y2="488" stroke="#000" stroke-opacity="0.7" stroke-width="5.2" stroke-linecap="round"/>
<line x1="259.39" y1="487.01" x2="258.65" y2="487.4" stroke="#ececec" stroke-width="3.7" stroke-linecap="round"/>
<line x1="259.33" y1="487.04" x2="258.71" y2="487.37" stroke="#a0a0a0" stroke-width="1.67" stroke-linecap="round"/>
<line x1="257.61" y1="482.44" x2="257.88" y2="484.14" stroke="#000" stroke-opacity="0.7" stroke-width="5.2" stroke-linecap="round"/>
<line x1="257.31" y1="481.84" x2="257.58" y2="483.54" stroke="#ececec" stroke-width="3.7" stroke-linecap="round"/>
<line x1="257.33" y1="481.97" x2="257.56" y2="483.41" stroke="#a0a0a0" stroke-width="1.67" stroke-linecap="round"/>
<line x1="262" y1="484.99" x2="262.38" y2="485.88" stroke="#000" stroke-opacity="0.7" stroke-width="5.2" stroke-linecap="round"/>
<line x1="261.7" y1="484.39" x2="262.08" y2="485.28" stroke="#ececec" stroke-width="3.7" stroke-linecap="round"/>
<line x1="261.73" y1="484.46" x2="262.05" y2="485.21" stroke="#a0a0a0" stroke-width="1.67" stroke-linecap="round"/>
<line x1="260.92" y1="493.07" x2="262.66" y2="493.66" stroke="#000" stroke-opacity="0.7" stroke-width="5.2" stroke-linecap="round"/>
<line x1="260.62" y1="492.47" x2="262.36" y2="493.06" stroke="#ececec" stroke-width="3.7" stroke-linecap="round"/>
<line x1="260.75" y1="492.51" x2="262.23" y2="493.02" stroke="#a0a0a0" stroke-width="1.67" stroke-linecap="round"/>
<line x1="258.88" y1="488.93" x2="258.61" y2="489.48" stroke="#000" stroke-opacity="0.7" stroke-width="5.2" stroke-linecap="round"/>
<line x1="258.58" y1="488.33" x2="258.31" y2="488.88" stroke="#ececec" stroke-width="3.7" stroke-linecap="round"/>
<line x1="258.56" y1="488.38" x2="258.33" y2="488.84" stroke="#a0a0a0" stroke-width="1.67" stroke-linecap="round"/>
<line x1="240.53" y1="508.21" x2="240.22" y2="508.85" stroke="#000" stroke-opacity="0.7" stroke-width="5.2" stroke-linecap="round"/>
<line x1="240.23" y1="507.61" x2="239.92" y2="508.25" stroke="#ececec" stroke-width="3.7" stroke-linecap="round"/>
<line x1="240.21" y1="507.66" x2="239.94" y2="508.21" stroke="#a0a0a0" stroke-width="1.67" stroke-linecap="round"/>
<line x1="240.15" y1="506.7" x2="239.33" y2="506.78" stroke="#000" stroke-opacity="0.7" stroke-width="5.2" stroke-linecap="round"/>
<line x1="239.85" y1="506.1" x2="239.03" y2="506.18" stroke="#ececec" stroke-width="3.7" stroke-linecap="round"/>
<line x1="239.79" y1="506.1" x2="239.1" y2="506.18" stroke="#a0a0a0" stroke-width="1.67" stroke-linecap="round"/>
<line x1="241.56" y1="511.54" x2="240.72" y2="512.23" stroke="#000" stroke-opacity="0.7" stroke-width="5.2" stroke-linecap="round"/>
<line x1="241.26" y1="510.94" x2="240.42" y2="511.63" stroke="#ececec" stroke-width="3.7" stroke-linecap="round"/>
<line x1="241.2" y1="511" x2="240.48" y2="511.58" stroke="#a0a0a0" stroke-width="1.67" stroke-linecap="round"/>
<line x1="235.56" y1="503.23" x2="236.6" y2="503.93" stroke="#000" stroke-opacity="0.7" stroke-width="5.2" stroke-linecap="round"/>
<line x1="235.26" y1="502.63" x2="236.3" y2="503.33" stroke="#ececec" stroke-width="3.7" stroke-linecap="round"/>
<line x1="235.34" y1="502.68" x2="236.22" y2="503.28" stroke="#a0a0a0" stroke-width="1.67" stroke-linecap="round"/>
<line x1="240.26" y1="508.46" x2="241.82" y2="509.03" stroke="#000" stroke-opacity="0.7" stroke-width="5.2" stroke-linecap="round"/>
<line x1="239.96" y1="507.86" x2="241.52" y2="508.43" stroke="#ececec" stroke-width="3.7" stroke-linecap="round"/>
<line x1="240.08" y1="507.9" x2="241.4" y2="508.39" stroke="#a0a0a0" stroke-width="1.67" stroke-linecap="round"/>
<line x1="246.5" y1="507.93" x2="245.76" y2="508.19" stroke="#000" stroke-opacity="0.7" stroke-width="5.2" stroke-linecap="round"/>
<line x1="246.2" y1="507.33" x2="245.46" y2="507.59" stroke="#ececec" stroke-width="3.7" stroke-linecap="round"/>
<line x1="246.14" y1="507.35" x2="245.52" y2="507.57" stroke="#a0a0a0" stroke-width="1.67" stroke-linecap="round"/>
<line x1="244.16" y1="509.17" x2="243.46" y2="509.58" stroke="#000" stroke-opacity="0.7" stroke-width="5.2" stroke-linecap="round"/>
<line x1="243.86" y1="508.57" x2="243.16" y2="508.98" stroke="#ececec" stroke-width="3.7" stroke-linecap="round"/>
<line x1="243.81" y1="508.6" x2="243.22" y2="508.95" stroke="#a0a0a0" stroke-width="1.67" stroke-linecap="round"/>
<line x1="237.42" y1="503.34" x2="235.98" y2="503.95" stroke="#000" stroke-opacity="0.7" stroke-width="5.2" stroke-linecap="round"/>
<line x1="237.12" y1="502.74" x2="235.68" y2="503.35" stroke="#ececec" stroke-width="3.7" stroke-linecap="round"/>
<line x1="237.02" y1="502.78" x2="235.79" y2="503.31" stroke="#a0a0a0" stroke-width="1.67" stroke-linecap="round"/>
<line x1="237.13" y1="511.06" x2="238.18" y2="511.45" stroke="#000" stroke-opacity="0.7" stroke-width="5.2" stroke-linecap="round"/>
<line x1="236.83" y1="510.46" x2="237.88" y2="510.85" stroke="#ececec" stroke-width="3.7" stroke-linecap="round"/>
<line x1="236.91" y1="510.49" x2="237.8" y2="510.82" stroke="#a0a0a0" stroke-width="1.67" stroke-linecap="round"/>
<line x1="242.01" y1="502.3" x2="243.32" y2="503.29" stroke="#000" stroke-opacity="0.7" stroke-width="5.2" stroke-linecap="round"/>
<line x1="241.71" y1="501.7" x2="243.02" y2="502.69" stroke="#ececec" stroke-width="3.7" stroke-linecap="round"/>
<line x1="241.81" y1="501.77" x2="242.92" y2="502.61" stroke="#a0a0a0" stroke-width="1.67" stroke-linecap="round"/>
<line x1="249.94" y1="507.59" x2="251.41" y2="507.95" stroke="#000" stroke-opacity="0.7" stroke-width="5.2" stroke-linecap="round"/>
<line x1="249.64" y1="506.99" x2="251.11" y2="507.35" stroke="#ececec" stroke-width="3.7" stroke-linecap="round"/>
<line x1="249.75" y1="507.01" x2="251" y2="507.32" stroke="#a0a0a0" stroke-width="1.67" stroke-linecap="round"/>
<line x1="252.58" y1="511.17" x2="252.48" y2="511.76" stroke="#000" stroke-opacity="0.7" stroke-width="5.2" stroke-linecap="round"/>
<line x1="252.28" y1="510.57" x2="252.18" y2="511.16" stroke="#ececec" stroke-width="3.7" stroke-linecap="round"/>
<line x1="252.27" y1="510.61" x2="252.19" y2="511.12" stroke="#a0a0a0" stroke-width="1.67" stroke-linecap="round"/>
<line x1="255.11" y1="504.7" x2="254.65" y2="506.03" stroke="#000" stroke-opacity="0.7" stroke-width="5.2" stroke-linecap="round"/>
<line x1="254.81" y1="504.1" x2="254.35" y2="505.43" stroke="#ececec" stroke-width="3.7" stroke-linecap="round"/>
<line x1="254.78" y1="504.2" x2="254.39" y2="505.33" stroke="#a0a0a0" stroke-width="1.67" stroke-linecap="round"/>
<line x1="255.76" y1="510.66" x2="256.69" y2="512.31" stroke="#000" stroke-opacity="0.7" stroke-width="5.2" stroke-linecap="round"/>
<line x1="255.46" y1="510.06" x2="256.39" y2="511.71" stroke="#ececec" stroke-width="3.7" stroke-linecap="round"/>
<line x1="255.53" y1="510.19" x2="256.32" y2="511.59" stroke="#a0a0a0" stroke-width="1.67" stroke-linecap="round"/>
<line x1="253.11" y1="509.01" x2="253.81" y2="509.41" stroke="#000" stroke-opacity="0.7" stroke-width="5.2" stroke-linecap="round"/>
<line x1="252.81" y1="508.41" x2="253.51" y2="508.81" stroke="#ececec" stroke-width="3.7" stroke-linecap="round"/>
<line x1="252.86" y1="508.44" x2="253.45" y2="508.78" stroke="#a0a0a0" stroke-width="1.67" stroke-linecap="round"/>
<line x1="261.57" y1="506.77" x2="259.85" y2="506.84" stroke="#000" stroke-opacity="0.7" stroke-width="5.2" stroke-linecap="round"/>
<line x1="261.27" y1="506.17" x2="259.55" y2="506.24" stroke="#ececec" stroke-width="3.7" stroke-linecap="round"/>
<line x1="261.15" y1="506.18" x2="259.68" y2="506.24" stroke="#a0a0a0" stroke-width="1.67" stroke-linecap="round"/>
<line x1="250" y1="504.87" x2="250.31" y2="506.08" stroke="#000" stroke-opacity="0.7" stroke-width="5.2" stroke-linecap="round"/>
<line x1="249.7" y1="504.27" x2="250.01" y2="505.48" stroke="#ececec" stroke-width="3.7" stroke-linecap="round"/>
<line x1="249.72" y1="504.36" x2="249.99" y2="505.39" stroke="#a0a0a0" stroke-width="1.67" stroke-linecap="round"/>
<line x1="261.56" y1="506.16" x2="261.65" y2="507.99" stroke="#000" stroke-opacity="0.7" stroke-width="5.2" stroke-linecap="round"/>
<line x1="261.26" y1="505.56" x2="261.35" y2="507.39" stroke="#ececec" stroke-width="3.7" stroke-linecap="round"/>
<line x1="261.26" y1="505.7" x2="261.34" y2="507.25" stroke="#a0a0a0" stroke-width="1.67" stroke-linecap="round"/>
<line x1="250.42" y1="474.1" x2="248.58" y2="474.57" stroke="#000" stroke-opacity="0.7" stroke-width="5.2" stroke-linecap="round"/>
<line x1="250.12" y1="473.5" x2="248.28" y2="473.97" stroke="#ececec" stroke-width="3.7" stroke-linecap="round"/>
<line x1="249.98" y1="473.54" x2="248.42" y2="473.94" stroke="#a0a0a0" stroke-width="1.67" stroke-linecap="round"/>
<line x1="246.55" y1="477.35" x2="247.27" y2="477.58" stroke="#000" stroke-opacity="0.7" stroke-width="5.2" stroke-linecap="round"/>
<line x1="246.25" y1="476.75" x2="246.97" y2="476.98" stroke="#ececec" stroke-width="3.7" stroke-linecap="round"/>
<line x1="246.3" y1="476.77" x2="246.92" y2="476.96" stroke="#a0a0a0" stroke-width="1.67" stroke-linecap="round"/>
<line x1="248.36" y1="473.98" x2="247.84" y2="475.09" stroke="#000" stroke-opacity="0.7" stroke-width="5.2" stroke-linecap="round"/>
<line x1="248.06" y1="473.38" x2="247.54" y2="474.49" stroke="#ececec" stroke-width="3.7" stroke-linecap="round"/>
<line x1="248.02" y1="473.46" x2="247.58" y2="474.4" stroke="#a0a0a0" stroke-width="1.67" stroke-linecap="round"/>
<line x1="254.97" y1="475.6" x2="255.16" y2="476.47" stroke="#000" stroke-opacity="0.7" stroke-width="5.2" stroke-linecap="round"/>
<line x1="254.67" y1="475" x2="254.86" y2="475.87" stroke="#ececec" stroke-width="3.7" stroke-linecap="round"/>
<line x1="254.69" y1="475.07" x2="254.84" y2="475.8" stroke="#a0a0a0" stroke-width="1.67" stroke-linecap="round"/>
<line x1="244.7" y1="476.42" x2="245.65" y2="477.63" stroke="#000" stroke-opacity="0.7" stroke-width="5.2" stroke-linecap="round"/>
<line x1="244.4" y1="475.82" x2="245.35" y2="477.03" stroke="#ececec" stroke-width="3.7" stroke-linecap="round"/>
<line x1="244.47" y1="475.91" x2="245.28" y2="476.94" stroke="#a0a0a0" stroke-width="1.67" stroke-linecap="round"/>
<line x1="251.55" y1="476.13" x2="252.59" y2="476.39" stroke="#000" stroke-opacity="0.7" stroke-width="5.2" stroke-linecap="round"/>
<line x1="251.25" y1="475.53" x2="252.29" y2="475.79" stroke="#ececec" stroke-width="3.7" stroke-linecap="round"/>
<line x1="251.32" y1="475.55" x2="252.21" y2="475.77" stroke="#a0a0a0" stroke-width="1.67" stroke-linecap="round"/>
<line x1="268.58" y1="476.12" x2="267.11" y2="476.23" stroke="#000" stroke-opacity="0.7" stroke-width="5.2" stroke-linecap="round"/>
<line x1="268.28" y1="475.52" x2="266.81" y2="475.63" stroke="#ececec" stroke-width="3.7" stroke-linecap="round"/>
<line x1="268.17" y1="475.53" x2="266.92" y2="475.62" stroke="#a0a0a0" stroke-width="1.67" stroke-linecap="round"/>
<line x1="268.99" y1="474.67" x2="269.88" y2="475.17" stroke="#000" stroke-opacity="0.7" stroke-width="5.2" stroke-linecap="round"/>
<line x1="268.69" y1="474.07" x2="269.58" y2="474.57" stroke="#ececec" stroke-width="3.7" stroke-linecap="round"/>
<line x1="268.76" y1="474.11" x2="269.51" y2="474.53" stroke="#a0a0a0" stroke-width="1.67" stroke-linecap="round"/>
<line x1="265.13" y1="475.43" x2="264.96" y2="476.66" stroke="#000" stroke-opacity="0.7" stroke-width="5.2" stroke-linecap="round"/>
<line x1="264.83" y1="474.83" x2="264.66" y2="476.06" stroke="#ececec" stroke-width="3.7" stroke-linecap="round"/>
<line x1="264.81" y1="474.92" x2="264.68" y2="475.97" stroke="#a0a0a0" stroke-width="1.67" stroke-linecap="round"/>
<line x1="264.52" y1="482.58" x2="264.62" y2="483.47" stroke="#000" stroke-opacity="0.7" stroke-width="5.2" stroke-linecap="round"/>
<line x1="264.22" y1="481.98" x2="264.32" y2="482.87" stroke="#ececec" stroke-width="3.7" stroke-linecap="round"/>
<line x1="264.23" y1="482.04" x2="264.31" y2="482.8" stroke="#a0a0a0" stroke-width="1.67" stroke-linecap="round"/>
<line x1="271.21" y1="478.29" x2="271.87" y2="478.92" stroke="#000" stroke-opacity="0.7" stroke-width="5.2" stroke-linecap="round"/>
<line x1="270.91" y1="477.69" x2="271.57" y2="478.32" stroke="#ececec" stroke-width="3.7" stroke-linecap="round"/>
<line x1="270.96" y1="477.74" x2="271.53" y2="478.28" stroke="#a0a0a0" stroke-width="1.67" stroke-linecap="round"/>
<line x1="268.03" y1="479.94" x2="267.96" y2="480.62" stroke="#000" stroke-opacity="0.7" stroke-width="5.2" stroke-linecap="round"/>
<line x1="267.73" y1="479.34" x2="267.66" y2="480.02" stroke="#ececec" stroke-width="3.7" stroke-linecap="round"/>
<line x1="267.72" y1="479.39" x2="267.66" y2="479.97" stroke="#a0a0a0" stroke-width="1.67" stroke-linecap="round"/>
<line x1="265.39" y1="480.12" x2="265.85" y2="480.46" stroke="#000" stroke-opacity="0.7" stroke-width="5.2" stroke-linecap="round"/>
<line x1="265.09" y1="479.52" x2="265.55" y2="479.86" stroke="#ececec" stroke-width="3.7" stroke-linecap="round"/>
<line x1="265.12" y1="479.55" x2="265.51" y2="479.84" stroke="#a0a0a0" stroke-width="1.67" stroke-linecap="round"/>
<line x1="269" y1="477.71" x2="267.54" y2="478.88" stroke="#000" stroke-opacity="0.7" stroke-width="5.2" stroke-linecap="round"/>
<line x1="268.7" y1="477.11" x2="267.24" y2="478.28" stroke="#ececec" stroke-width="3.7" stroke-linecap="round"/>
<line x1="268.59" y1="477.2" x2="267.35" y2="478.19" stroke="#a0a0a0" stroke-width="1.67" stroke-linecap="round"/>
<line x1="278.21" y1="488.75" x2="278.97" y2="488.78" stroke="#000" stroke-opacity="0.7" stroke-width="5.2" stroke-linecap="round"/>
<line x1="277.91" y1="488.15" x2="278.67" y2="488.18" stroke="#ececec" stroke-width="3.7" stroke-linecap="round"/>
<line x1="277.97" y1="488.15" x2="278.61" y2="488.18" stroke="#a0a0a0" stroke-width="1.67" stroke-linecap="round"/>
<line x1="275.98" y1="489.96" x2="275.9" y2="490.53" stroke="#000" stroke-opacity="0.7" stroke-width="5.2" stroke-linecap="round"/>
<line x1="275.68" y1="489.36" x2="275.6" y2="489.93" stroke="#ececec" stroke-width="3.7" stroke-linecap="round"/>
<line x1="275.67" y1="489.4" x2="275.6" y2="489.88" stroke="#a0a0a0" stroke-width="1.67" stroke-linecap="round"/>
<line x1="279.96" y1="490.39" x2="279.27" y2="490.88" stroke="#000" stroke-opacity="0.7" stroke-width="5.2" stroke-linecap="round"/>
<line x1="279.66" y1="489.79" x2="278.97" y2="490.28" stroke="#ececec" stroke-width="3.7" stroke-linecap="round"/>
<line x1="279.61" y1="489.83" x2="279.02" y2="490.25" stroke="#a0a0a0" stroke-width="1.67" stroke-linecap="round"/>
<line x1="276.19" y1="490.03" x2="276.32" y2="490.58" stroke="#000" stroke-opacity="0.7" stroke-width="5.2" stroke-linecap="round"/>
<line x1="275.89" y1="489.43" x2="276.02" y2="489.98" stroke="#ececec" stroke-width="3.7" stroke-linecap="round"/>
<line x1="275.9" y1="489.47" x2="276.01" y2="489.94" stroke="#a0a0a0" stroke-width="1.67" stroke-linecap="round"/>
<line x1="263.75" y1="486.39" x2="262.28" y2="487.4" stroke="#000" stroke-opacity="0.7" stroke-width="5.2" stroke-linecap="round"/>
<line x1="263.45" y1="485.79" x2="261.98" y2="486.8" stroke="#ececec" stroke-width="3.7" stroke-linecap="round"/>
<line x1="263.34" y1="485.87" x2="262.09" y2="486.72" stroke="#a0a0a0" stroke-width="1.67" stroke-linecap="round"/>
<line x1="264.73" y1="489.67" x2="263.5" y2="490.63" stroke="#000" stroke-opacity="0.7" stroke-width="5.2" stroke-linecap="round"/>
<line x1="264.43" y1="489.07" x2="263.2" y2="490.03" stroke="#ececec" stroke-width="3.7" stroke-linecap="round"/>
<line x1="264.34" y1="489.14" x2="263.29" y2="489.96" stroke="#a0a0a0" stroke-width="1.67" stroke-linecap="round"/>
<line x1="261.96" y1="488.24" x2="262.78" y2="489.22" stroke="#000" stroke-opacity="0.7" stroke-width="5.2" stroke-linecap="round"/>
<line x1="261.66" y1="487.64" x2="262.48" y2="488.62" stroke="#ececec" stroke-width="3.7" stroke-linecap="round"/>
<line x1="261.73" y1="487.71" x2="262.42" y2="488.54" stroke="#a0a0a0" stroke-width="1.67" stroke-linecap="round"/>
<line x1="270.97" y1="494.26" x2="269.65" y2="494.71" stroke="#000" stroke-opacity="0.7" stroke-width="5.2" stroke-linecap="round"/>
<line x1="270.67" y1="493.66" x2="269.35" y2="494.11" stroke="#ececec" stroke-width="3.7" stroke-linecap="round"/>
<line x1="270.57" y1="493.7" x2="269.45" y2="494.08" stroke="#a0a0a0" stroke-width="1.67" stroke-linecap="round"/>
<line x1="272.67" y1="492.65" x2="271.28" y2="492.97" stroke="#000" stroke-opacity="0.7" stroke-width="5.2" stroke-linecap="round"/>
<line x1="272.37" y1="492.05" x2="270.98" y2="492.37" stroke="#ececec" stroke-width="3.7" stroke-linecap="round"/>
<line x1="272.27" y1="492.07" x2="271.08" y2="492.34" stroke="#a0a0a0" stroke-width="1.67" stroke-linecap="round"/>
<line x1="271.13" y1="491.13" x2="271.07" y2="492.21" stroke="#000" stroke-opacity="0.7" stroke-width="5.2" stroke-linecap="round"/>
<line x1="270.83" y1="490.53" x2="270.77" y2="491.61" stroke="#ececec" stroke-width="3.7" stroke-linecap="round"/>
<line x1="270.83" y1="490.61" x2="270.78" y2="491.53" stroke="#a0a0a0" stroke-width="1.67" stroke-linecap="round"/>
<line x1="271.5" y1="495.36" x2="270.05" y2="495.4" stroke="#000" stroke-opacity="0.7" stroke-width="5.2" stroke-linecap="round"/>
<line x1="271.2" y1="494.76" x2="269.75" y2="494.8" stroke="#ececec" stroke-width="3.7" stroke-linecap="round"/>
<line x1="271.09" y1="494.76" x2="269.85" y2="494.79" stroke="#a0a0a0" stroke-width="1.67" stroke-linecap="round"/>
<line x1="263.82" y1="499.04" x2="263.96" y2="500.02" stroke="#000" stroke-opacity="0.7" stroke-width="5.2" stroke-linecap="round"/>
<line x1="263.52" y1="498.44" x2="263.66" y2="499.42" stroke="#ececec" stroke-width="3.7" stroke-linecap="round"/>
<line x1="263.53" y1="498.51" x2="263.65" y2="499.34" stroke="#a0a0a0" stroke-width="1.67" stroke-linecap="round"/>
<line x1="266.49" y1="496.26" x2="268.11" y2="497.13" stroke="#000" stroke-opacity="0.7" stroke-width="5.2" stroke-linecap="round"/>
<line x1="266.19" y1="495.66" x2="267.81" y2="496.53" stroke="#ececec" stroke-width="3.7" stroke-linecap="round"/>
<line x1="266.31" y1="495.73" x2="267.69" y2="496.46" stroke="#a0a0a0" stroke-width="1.67" stroke-linecap="round"/>
<line x1="265.71" y1="504.64" x2="264.74" y2="505.12" stroke="#000" stroke-opacity="0.7" stroke-width="5.2" stroke-linecap="round"/>
<line x1="265.41" y1="504.04" x2="264.44" y2="504.52" stroke="#ececec" stroke-width="3.7" stroke-linecap="round"/>
<line x1="265.33" y1="504.07" x2="264.52" y2="504.48" stroke="#a0a0a0" stroke-width="1.67" stroke-linecap="round"/>
<line x1="267.58" y1="495.26" x2="268.93" y2="495.39" stroke="#000" stroke-opacity="0.7" stroke-width="5.2" stroke-linecap="round"/>
<line x1="267.28" y1="494.66" x2="268.63" y2="494.79" stroke="#ececec" stroke-width="3.7" stroke-linecap="round"/>
<line x1="267.38" y1="494.67" x2="268.53" y2="494.78" stroke="#a0a0a0" stroke-width="1.67" stroke-linecap="round"/>
<line x1="263.31" y1="498.14" x2="264.06" y2="499.05" stroke="#000" stroke-opacity="0.7" stroke-width="5.2" stroke-linecap="round"/>
<line x1="263.01" y1="497.54" x2="263.76" y2="498.45" stroke="#ececec" stroke-width="3.7" stroke-linecap="round"/>
<line x1="263.07" y1="497.61" x2="263.71" y2="498.38" stroke="#a0a0a0" stroke-width="1.67" stroke-linecap="round"/>
<line x1="265.57" y1="494.6" x2="265.25" y2="495.16" stroke="#000" stroke-opacity="0.7" stroke-width="5.2" stroke-linecap="round"/>
<line x1="265.27" y1="494" x2="264.95" y2="494.56" stroke="#ececec" stroke-width="3.7" stroke-linecap="round"/>
<line x1="265.25" y1="494.04" x2="264.97" y2="494.52" stroke="#a0a0a0" stroke-width="1.67" stroke-linecap="round"/>
<line x1="273.38" y1="504.94" x2="271.64" y2="505.16" stroke="#000" stroke-opacity="0.7" stroke-width="5.2" stroke-linecap="round"/>
<line x1="273.08" y1="504.34" x2="271.34" y2="504.56" stroke="#ececec" stroke-width="3.7" stroke-linecap="round"/>
<line x1="272.95" y1="504.36" x2="271.47" y2="504.54" stroke="#a0a0a0" stroke-width="1.67" stroke-linecap="round"/>
<line x1="272.33" y1="502.32" x2="273.84" y2="503.28" stroke="#000" stroke-opacity="0.7" stroke-width="5.2" stroke-linecap="round"/>
<line x1="272.03" y1="501.72" x2="273.54" y2="502.68" stroke="#ececec" stroke-width="3.7" stroke-linecap="round"/>
<line x1="272.15" y1="501.79" x2="273.43" y2="502.61" stroke="#a0a0a0" stroke-width="1.67" stroke-linecap="round"/>
<line x1="271.73" y1="504.93" x2="272.35" y2="505.64" stroke="#000" stroke-opacity="0.7" stroke-width="5.2" stroke-linecap="round"/>
<line x1="271.43" y1="504.33" x2="272.05" y2="505.04" stroke="#ececec" stroke-width="3.7" stroke-linecap="round"/>
<line x1="271.48" y1="504.38" x2="272.01" y2="504.98" stroke="#a0a0a0" stroke-width="1.67" stroke-linecap="round"/>
<line x1="275.3" y1="507.95" x2="275.61" y2="508.84" stroke="#000" stroke-opacity="0.7" stroke-width="5.2" stroke-linecap="round"/>
<line x1="275" y1="507.35" x2="275.31" y2="508.24" stroke="#ececec" stroke-width="3.7" stroke-linecap="round"/>
<line x1="275.02" y1="507.42" x2="275.29" y2="508.18" stroke="#a0a0a0" stroke-width="1.67" stroke-linecap="round"/>
<line x1="271.4" y1="511" x2="270.55" y2="511.05" stroke="#000" stroke-opacity="0.7" stroke-width="5.2" stroke-linecap="round"/>
<line x1="271.1" y1="510.4" x2="270.25" y2="510.45" stroke="#ececec" stroke-width="3.7" stroke-linecap="round"/>
<line x1="271.04" y1="510.4" x2="270.31" y2="510.44" stroke="#a0a0a0" stroke-width="1.67" stroke-linecap="round"/>
<line x1="272.82" y1="510.42" x2="273.57" y2="510.61" stroke="#000" stroke-opacity="0.7" stroke-width="5.2" stroke-linecap="round"/>
<line x1="272.52" y1="509.82" x2="273.27" y2="510.01" stroke="#ececec" stroke-width="3.7" stroke-linecap="round"/>
<line x1="272.57" y1="509.83" x2="273.22" y2="510" stroke="#a0a0a0" stroke-width="1.67" stroke-linecap="round"/>
<line x1="267.81" y1="508.27" x2="267.14" y2="509.8" stroke="#000" stroke-opacity="0.7" stroke-width="5.2" stroke-linecap="round"/>
<line x1="267.51" y1="507.67" x2="266.84" y2="509.2" stroke="#ececec" stroke-width="3.7" stroke-linecap="round"/>
<line x1="267.46" y1="507.78" x2="266.89" y2="509.09" stroke="#a0a0a0" stroke-width="1.67" stroke-linecap="round"/>
<line x1="271.88" y1="509.28" x2="270.99" y2="509.39" stroke="#000" stroke-opacity="0.7" stroke-width="5.2" stroke-linecap="round"/>
<line x1="271.58" y1="508.68" x2="270.69" y2="508.79" stroke="#ececec" stroke-width="3.7" stroke-linecap="round"/>
<line x1="271.51" y1="508.69" x2="270.76" y2="508.78" stroke="#a0a0a0" stroke-width="1.67" stroke-linecap="round"/>
<line x1="286.31" y1="474.04" x2="287.1" y2="474.91" stroke="#000" stroke-opacity="0.7" stroke-width="5.2" stroke-linecap="round"/>
<line x1="286.01" y1="473.44" x2="286.8" y2="474.31" stroke="#ececec" stroke-width="3.7" stroke-linecap="round"/>
<line x1="286.07" y1="473.5" x2="286.74" y2="474.25" stroke="#a0a0a0" stroke-width="1.67" stroke-linecap="round"/>
<line x1="306.05" y1="475.23" x2="305.23" y2="475.34" stroke="#000" stroke-opacity="0.7" stroke-width="5.2" stroke-linecap="round"/>
<line x1="305.75" y1="474.63" x2="304.93" y2="474.74" stroke="#ececec" stroke-width="3.7" stroke-linecap="round"/>
<line x1="305.69" y1="474.64" x2="304.99" y2="474.73" stroke="#a0a0a0" stroke-width="1.67" stroke-linecap="round"/>
<line x1="308.16" y1="476.81" x2="307.41" y2="476.83" stroke="#000" stroke-opacity="0.7" stroke-width="5.2" stroke-linecap="round"/>
<line x1="307.86" y1="476.21" x2="307.11" y2="476.23" stroke="#ececec" stroke-width="3.7" stroke-linecap="round"/>
<line x1="307.8" y1="476.22" x2="307.17" y2="476.23" stroke="#a0a0a0" stroke-width="1.67" stroke-linecap="round"/>
<line x1="304.86" y1="473.98" x2="305.55" y2="474.1" stroke="#000" stroke-opacity="0.7" stroke-width="5.2" stroke-linecap="round"/>
<line x1="304.56" y1="473.38" x2="305.25" y2="473.5" stroke="#ececec" stroke-width="3.7" stroke-linecap="round"/>
<line x1="304.62" y1="473.39" x2="305.2" y2="473.49" stroke="#a0a0a0" stroke-width="1.67" stroke-linecap="round"/>
<line x1="287.8" y1="477.1" x2="291.6" y2="480" stroke="#000" stroke-opacity="0.7" stroke-width="4.5" stroke-linecap="round"/>
<line x1="287.5" y1="476.5" x2="291.3" y2="479.4" stroke="#ececec" stroke-width="3" stroke-linecap="round"/>
<line x1="287.78" y1="476.72" x2="291.01" y2="479.18" stroke="#b0b0b0" stroke-width="1.35" stroke-linecap="round"/>
<line x1="304.1" y1="485.8" x2="307.3" y2="488.2" stroke="#000" stroke-opacity="0.7" stroke-width="4.5" stroke-linecap="round"/>
<line x1="303.8" y1="485.2" x2="307" y2="487.6" stroke="#ececec" stroke-width="3" stroke-linecap="round"/>
<line x1="304.04" y1="485.38" x2="306.76" y2="487.42" stroke="#b0b0b0" stroke-width="1.35" stroke-linecap="round"/>
<line x1="272.8" y1="488.1" x2="274.5" y2="491.1" stroke="#000" stroke-opacity="0.7" stroke-width="4.5" stroke-linecap="round"/>
<line x1="272.5" y1="487.5" x2="274.2" y2="490.5" stroke="#ececec" stroke-width="3" stroke-linecap="round"/>
<line x1="272.63" y1="487.73" x2="274.07" y2="490.27" stroke="#b0b0b0" stroke-width="1.35" stroke-linecap="round"/>
</g></g>
<rect x="225.1" y="434.8" width="61.5" height="1.0" fill="#707070"/>
<rect x="217.1" y="513.9" width="91.5" height="5.6" fill="#0d0d0d"/>
<rect x="219.86" y="515.1" width="1.76" height="0.6" fill="#8a8a8a"/>
<rect x="223.49" y="515.1" width="2.73" height="0.6" fill="#8a8a8a"/>
<rect x="228.37" y="515.1" width="1.57" height="0.6" fill="#8a8a8a"/>
<rect x="232.66" y="515.1" width="2.3" height="0.6" fill="#8a8a8a"/>
<rect x="236.28" y="515.1" width="1.66" height="0.6" fill="#8a8a8a"/>
<rect x="240.49" y="515.1" width="2.98" height="0.6" fill="#8a8a8a"/>
<rect x="244.58" y="515.1" width="1.7" height="0.6" fill="#8a8a8a"/>
<rect x="248.65" y="515.1" width="1.69" height="0.6" fill="#8a8a8a"/>
<rect x="253.05" y="515.1" width="2.87" height="0.6" fill="#8a8a8a"/>
<rect x="256.98" y="515.1" width="1.79" height="0.6" fill="#8a8a8a"/>
<rect x="262.04" y="515.1" width="3" height="0.6" fill="#8a8a8a"/>
<rect x="266.28" y="515.1" width="1.87" height="0.6" fill="#8a8a8a"/>
<rect x="269.85" y="515.1" width="2.93" height="0.6" fill="#8a8a8a"/>
<rect x="274.19" y="515.1" width="2.56" height="0.6" fill="#8a8a8a"/>
<rect x="219.1" y="517.4" width="1.8" height="0.5" fill="#777"/>
<rect x="222.7" y="517.4" width="1.8" height="0.5" fill="#777"/>
<rect x="226.3" y="517.4" width="1.8" height="0.5" fill="#777"/>
<rect x="229.9" y="517.4" width="1.8" height="0.5" fill="#777"/>
<rect x="233.5" y="517.4" width="1.8" height="0.5" fill="#777"/>
<rect x="237.1" y="517.4" width="1.8" height="0.5" fill="#777"/>
<line x1="288.1" y1="516.1" x2="295.1" y2="516.1" stroke="#f2f2f2" stroke-width="1"/>
<text x="308.4" y="518.9" font-size="7.6" fill="#f2f2f2" text-anchor="end">2&#181;m</text>
<text transform="translate(346,464.2) rotate(-90)" font-size="12.2" text-anchor="middle" fill="#231f20" stroke="#231f20" stroke-width="0.22">length size (&#181;m)</text>
<line x1="362.5" y1="424.2" x2="362.5" y2="503.9" stroke="#231f20" stroke-width="1.3"/>
<line x1="358.4" y1="503.3" x2="362.5" y2="503.3" stroke="#231f20" stroke-width="1.3"/>
<text x="356.8" y="507.65" font-size="10.7" text-anchor="end" fill="#231f20" stroke="#231f20" stroke-width="0.22">0</text>
<line x1="358.4" y1="483.68" x2="362.5" y2="483.68" stroke="#231f20" stroke-width="1.3"/>
<text x="356.8" y="488.03" font-size="10.7" text-anchor="end" fill="#231f20" stroke="#231f20" stroke-width="0.22">1</text>
<line x1="358.4" y1="464.05" x2="362.5" y2="464.05" stroke="#231f20" stroke-width="1.3"/>
<text x="356.8" y="468.4" font-size="10.7" text-anchor="end" fill="#231f20" stroke="#231f20" stroke-width="0.22">2</text>
<line x1="358.4" y1="444.43" x2="362.5" y2="444.43" stroke="#231f20" stroke-width="1.3"/>
<text x="356.8" y="448.78" font-size="10.7" text-anchor="end" fill="#231f20" stroke="#231f20" stroke-width="0.22">3</text>
<line x1="358.4" y1="424.8" x2="362.5" y2="424.8" stroke="#231f20" stroke-width="1.3"/>
<text x="356.8" y="429.15" font-size="10.7" text-anchor="end" fill="#231f20" stroke="#231f20" stroke-width="0.22">4</text>
<line x1="358.4" y1="503.4" x2="421.4" y2="503.4" stroke="#231f20" stroke-width="1.3"/>
<line x1="374.4" y1="503.4" x2="374.4" y2="507.8" stroke="#231f20" stroke-width="1.3"/>
<line x1="392.3" y1="503.4" x2="392.3" y2="507.8" stroke="#231f20" stroke-width="1.3"/>
<line x1="410.2" y1="503.4" x2="410.2" y2="507.8" stroke="#231f20" stroke-width="1.3"/>
<line x1="372.2" y1="426.1" x2="411.8" y2="426.1" stroke="#231f20" stroke-width="1.3"/>
<line x1="372.8" y1="426.1" x2="372.8" y2="441.2" stroke="#231f20" stroke-width="1.3"/>
<line x1="392.4" y1="426.1" x2="392.4" y2="433.2" stroke="#231f20" stroke-width="1.3"/>
<line x1="411.2" y1="426.1" x2="411.2" y2="433.2" stroke="#231f20" stroke-width="1.3"/>
<polygon points="387.7,435.2 388.28,436.6 389.79,436.72 388.64,437.71 388.99,439.18 387.7,438.39 386.41,439.18 386.76,437.71 385.61,436.72 387.12,436.6" fill="#231f20"/>
<polygon points="392.6,435.2 393.18,436.6 394.69,436.72 393.54,437.71 393.89,439.18 392.6,438.39 391.31,439.18 391.66,437.71 390.51,436.72 392.02,436.6" fill="#231f20"/>
<polygon points="397.5,435.2 398.08,436.6 399.59,436.72 398.44,437.71 398.79,439.18 397.5,438.39 396.21,439.18 396.56,437.71 395.41,436.72 396.92,436.6" fill="#231f20"/>
<polygon points="406.4,435.2 406.98,436.6 408.49,436.72 407.34,437.71 407.69,439.18 406.4,438.39 405.11,439.18 405.46,437.71 404.31,436.72 405.82,436.6" fill="#231f20"/>
<polygon points="411.3,435.2 411.88,436.6 413.39,436.72 412.24,437.71 412.59,439.18 411.3,438.39 410.01,439.18 410.36,437.71 409.21,436.72 410.72,436.6" fill="#231f20"/>
<polygon points="416.2,435.2 416.78,436.6 418.29,436.72 417.14,437.71 417.49,439.18 416.2,438.39 414.91,439.18 415.26,437.71 414.11,436.72 415.62,436.6" fill="#231f20"/>
<circle cx="375.87" cy="471.93" r="1.05" fill="#9a9a9a"/>
<circle cx="378.98" cy="476.73" r="1.05" fill="#9a9a9a"/>
<circle cx="372.13" cy="478.58" r="1.05" fill="#9a9a9a"/>
<circle cx="378.87" cy="474.06" r="1.05" fill="#9a9a9a"/>
<circle cx="376.51" cy="471.61" r="1.05" fill="#9a9a9a"/>
<circle cx="375.54" cy="475.4" r="1.05" fill="#9a9a9a"/>
<circle cx="373.61" cy="477.03" r="1.05" fill="#9a9a9a"/>
<circle cx="371.68" cy="478.89" r="1.05" fill="#9a9a9a"/>
<circle cx="371.55" cy="471.95" r="1.05" fill="#9a9a9a"/>
<circle cx="377.05" cy="471.72" r="1.05" fill="#9a9a9a"/>
<circle cx="372.03" cy="477.72" r="1.05" fill="#9a9a9a"/>
<circle cx="376.46" cy="477.02" r="1.05" fill="#9a9a9a"/>
<circle cx="373.33" cy="480.2" r="1.05" fill="#9a9a9a"/>
<circle cx="376.84" cy="478.55" r="1.05" fill="#9a9a9a"/>
<circle cx="375.46" cy="475.29" r="1.05" fill="#9a9a9a"/>
<circle cx="372.19" cy="474.78" r="1.05" fill="#9a9a9a"/>
<circle cx="371.17" cy="477.12" r="1.05" fill="#9a9a9a"/>
<circle cx="376.75" cy="474.73" r="1.05" fill="#9a9a9a"/>
<circle cx="370" cy="474.29" r="1.05" fill="#9a9a9a"/>
<circle cx="371.58" cy="474.43" r="1.05" fill="#9a9a9a"/>
<circle cx="374.76" cy="479.26" r="1.05" fill="#9a9a9a"/>
<circle cx="378.26" cy="475.95" r="1.05" fill="#9a9a9a"/>
<circle cx="375.49" cy="477.41" r="1.05" fill="#9a9a9a"/>
<circle cx="372.04" cy="476.31" r="1.05" fill="#9a9a9a"/>
<circle cx="378.99" cy="475.64" r="1.05" fill="#9a9a9a"/>
<circle cx="371.22" cy="476.34" r="1.05" fill="#9a9a9a"/>
<circle cx="370.94" cy="472.45" r="1.05" fill="#9a9a9a"/>
<circle cx="371.92" cy="476.33" r="1.05" fill="#9a9a9a"/>
<circle cx="373.9" cy="477.59" r="1.05" fill="#9a9a9a"/>
<circle cx="371.16" cy="472.56" r="1.05" fill="#9a9a9a"/>
<circle cx="371.54" cy="473.35" r="1.05" fill="#9a9a9a"/>
<circle cx="373.35" cy="472.88" r="1.05" fill="#9a9a9a"/>
<circle cx="375.1" cy="473.87" r="1.05" fill="#9a9a9a"/>
<circle cx="371.54" cy="472.77" r="1.05" fill="#9a9a9a"/>
<circle cx="373.09" cy="473.76" r="1.05" fill="#9a9a9a"/>
<circle cx="375.17" cy="482.93" r="1.05" fill="#9a9a9a"/>
<circle cx="378.41" cy="478.13" r="1.05" fill="#9a9a9a"/>
<circle cx="375.27" cy="471.63" r="1.05" fill="#9a9a9a"/>
<circle cx="376.44" cy="474.74" r="1.05" fill="#9a9a9a"/>
<circle cx="375.18" cy="477.59" r="1.05" fill="#9a9a9a"/>
<circle cx="370.46" cy="475.32" r="1.05" fill="#9a9a9a"/>
<circle cx="369.55" cy="476.71" r="1.05" fill="#9a9a9a"/>
<circle cx="369.12" cy="475.91" r="1.05" fill="#9a9a9a"/>
<circle cx="377.44" cy="472.58" r="1.05" fill="#9a9a9a"/>
<circle cx="376.35" cy="477.29" r="1.05" fill="#9a9a9a"/>
<circle cx="378.33" cy="473.16" r="1.05" fill="#9a9a9a"/>
<circle cx="373.06" cy="481.22" r="1.05" fill="#9a9a9a"/>
<circle cx="375.76" cy="474.08" r="1.05" fill="#9a9a9a"/>
<circle cx="374.24" cy="477.66" r="1.05" fill="#9a9a9a"/>
<circle cx="376.94" cy="475.61" r="1.05" fill="#9a9a9a"/>
<circle cx="373" cy="478.46" r="1.05" fill="#9a9a9a"/>
<circle cx="379.17" cy="473.79" r="1.05" fill="#9a9a9a"/>
<circle cx="371.24" cy="478.6" r="1.05" fill="#9a9a9a"/>
<circle cx="374.9" cy="475.23" r="1.05" fill="#9a9a9a"/>
<circle cx="375.8" cy="479.39" r="1.05" fill="#9a9a9a"/>
<circle cx="378.18" cy="477.47" r="1.05" fill="#9a9a9a"/>
<circle cx="376.99" cy="476.02" r="1.05" fill="#9a9a9a"/>
<circle cx="376.17" cy="473.26" r="1.05" fill="#9a9a9a"/>
<circle cx="376.96" cy="477.9" r="1.05" fill="#9a9a9a"/>
<circle cx="378.59" cy="477" r="1.05" fill="#9a9a9a"/>
<circle cx="373.83" cy="480.53" r="1.05" fill="#9a9a9a"/>
<circle cx="376.33" cy="474.47" r="1.05" fill="#9a9a9a"/>
<circle cx="378.31" cy="477.26" r="1.05" fill="#9a9a9a"/>
<circle cx="378.09" cy="477.12" r="1.05" fill="#9a9a9a"/>
<circle cx="373.52" cy="476.45" r="1.05" fill="#9a9a9a"/>
<circle cx="377.54" cy="476.23" r="1.05" fill="#9a9a9a"/>
<circle cx="378.35" cy="476.15" r="1.05" fill="#9a9a9a"/>
<circle cx="375.1" cy="473.8" r="1.05" fill="#9a9a9a"/>
<circle cx="375.32" cy="472.56" r="1.05" fill="#9a9a9a"/>
<circle cx="373.18" cy="474.41" r="1.05" fill="#9a9a9a"/>
<circle cx="375.19" cy="477.37" r="1.05" fill="#9a9a9a"/>
<circle cx="374.89" cy="480.13" r="1.05" fill="#9a9a9a"/>
<circle cx="371.22" cy="478.53" r="1.05" fill="#9a9a9a"/>
<circle cx="375.39" cy="478.76" r="1.05" fill="#9a9a9a"/>
<circle cx="378.69" cy="477.93" r="1.05" fill="#9a9a9a"/>
<circle cx="377.85" cy="477.7" r="1.05" fill="#9a9a9a"/>
<circle cx="376.88" cy="476.15" r="1.05" fill="#9a9a9a"/>
<circle cx="373.43" cy="477.91" r="1.05" fill="#9a9a9a"/>
<circle cx="375.16" cy="480.92" r="1.05" fill="#9a9a9a"/>
<circle cx="375.25" cy="474.62" r="1.05" fill="#9a9a9a"/>
<circle cx="373.86" cy="473.52" r="1.05" fill="#9a9a9a"/>
<circle cx="375.23" cy="481.48" r="1.05" fill="#9a9a9a"/>
<circle cx="369.93" cy="476.33" r="1.05" fill="#9a9a9a"/>
<circle cx="376.3" cy="478.51" r="1.05" fill="#9a9a9a"/>
<circle cx="370.56" cy="478.22" r="1.05" fill="#9a9a9a"/>
<circle cx="375.07" cy="472.19" r="1.05" fill="#9a9a9a"/>
<circle cx="374.36" cy="482.9" r="1.05" fill="#9a9a9a"/>
<circle cx="373.53" cy="480.93" r="1.05" fill="#9a9a9a"/>
<circle cx="376.56" cy="476.13" r="1.05" fill="#9a9a9a"/>
<circle cx="374.38" cy="477.86" r="1.05" fill="#9a9a9a"/>
<circle cx="375.65" cy="475.98" r="1.05" fill="#9a9a9a"/>
<circle cx="377.81" cy="472.95" r="1.05" fill="#9a9a9a"/>
<circle cx="371.73" cy="475.26" r="1.05" fill="#9a9a9a"/>
<circle cx="369.31" cy="476.72" r="1.05" fill="#9a9a9a"/>
<circle cx="373.05" cy="478.95" r="1.05" fill="#9a9a9a"/>
<circle cx="376.01" cy="477.73" r="1.05" fill="#9a9a9a"/>
<circle cx="371.13" cy="475.78" r="1.05" fill="#9a9a9a"/>
<circle cx="372.63" cy="479.66" r="1.05" fill="#9a9a9a"/>
<circle cx="377.96" cy="473.32" r="1.05" fill="#9a9a9a"/>
<circle cx="375.78" cy="477.98" r="1.05" fill="#9a9a9a"/>
<circle cx="374.01" cy="478.94" r="1.05" fill="#9a9a9a"/>
<circle cx="378.57" cy="474.72" r="1.05" fill="#9a9a9a"/>
<circle cx="373.86" cy="470.23" r="1.05" fill="#9a9a9a"/>
<circle cx="375.72" cy="472.88" r="1.05" fill="#9a9a9a"/>
<circle cx="371.16" cy="476.31" r="1.05" fill="#9a9a9a"/>
<circle cx="373.72" cy="477.18" r="1.05" fill="#9a9a9a"/>
<circle cx="375.72" cy="480.24" r="1.05" fill="#9a9a9a"/>
<circle cx="377.47" cy="472.59" r="1.05" fill="#9a9a9a"/>
<circle cx="378.58" cy="475.61" r="1.05" fill="#9a9a9a"/>
<circle cx="373.32" cy="477.55" r="1.05" fill="#9a9a9a"/>
<circle cx="374.56" cy="461.8" r="1.05" fill="#9a9a9a"/>
<circle cx="374.04" cy="463" r="1.05" fill="#9a9a9a"/>
<circle cx="373.68" cy="464.2" r="1.05" fill="#9a9a9a"/>
<circle cx="374.39" cy="465.3" r="1.05" fill="#9a9a9a"/>
<circle cx="375.07" cy="466.5" r="1.05" fill="#9a9a9a"/>
<circle cx="375.09" cy="467.2" r="1.05" fill="#9a9a9a"/>
<circle cx="374.82" cy="468" r="1.05" fill="#9a9a9a"/>
<line x1="368.4" y1="475.6" x2="380.4" y2="475.6" stroke="#111" stroke-width="1.2"/>
<line x1="374.4" y1="471.2" x2="374.4" y2="479.5" stroke="#111" stroke-width="1"/>
<line x1="371.8" y1="471.2" x2="377" y2="471.2" stroke="#111" stroke-width="1"/>
<line x1="371.8" y1="479.5" x2="377" y2="479.5" stroke="#111" stroke-width="1"/>
<circle cx="393.22" cy="446.46" r="1.05" fill="#009245"/>
<circle cx="394.17" cy="459.05" r="1.05" fill="#009245"/>
<circle cx="388.18" cy="455.21" r="1.05" fill="#009245"/>
<circle cx="389.64" cy="453.7" r="1.05" fill="#009245"/>
<circle cx="391.26" cy="464.55" r="1.05" fill="#009245"/>
<circle cx="392.42" cy="457.8" r="1.05" fill="#009245"/>
<circle cx="395.61" cy="455.24" r="1.05" fill="#009245"/>
<circle cx="392.3" cy="459.8" r="1.05" fill="#009245"/>
<circle cx="388.86" cy="449.6" r="1.05" fill="#009245"/>
<circle cx="395.13" cy="451.59" r="1.05" fill="#009245"/>
<circle cx="391.56" cy="455.08" r="1.05" fill="#009245"/>
<circle cx="392.49" cy="453.73" r="1.05" fill="#009245"/>
<circle cx="389.59" cy="453.15" r="1.05" fill="#009245"/>
<circle cx="391.51" cy="458.94" r="1.05" fill="#009245"/>
<circle cx="391.11" cy="459.47" r="1.05" fill="#009245"/>
<circle cx="395.25" cy="455.85" r="1.05" fill="#009245"/>
<circle cx="387.98" cy="458.54" r="1.05" fill="#009245"/>
<circle cx="392.82" cy="454.62" r="1.05" fill="#009245"/>
<circle cx="388.92" cy="454.68" r="1.05" fill="#009245"/>
<circle cx="393.94" cy="451.03" r="1.05" fill="#009245"/>
<circle cx="390.4" cy="445.4" r="1.05" fill="#009245"/>
<circle cx="390.75" cy="465.43" r="1.05" fill="#009245"/>
<circle cx="390.67" cy="459.94" r="1.05" fill="#009245"/>
<circle cx="393.81" cy="457.61" r="1.05" fill="#009245"/>
<circle cx="389.04" cy="465" r="1.05" fill="#009245"/>
<circle cx="391.91" cy="452.75" r="1.05" fill="#009245"/>
<circle cx="390.62" cy="466.92" r="1.05" fill="#009245"/>
<circle cx="391.63" cy="443.73" r="1.05" fill="#009245"/>
<circle cx="392.06" cy="453.72" r="1.05" fill="#009245"/>
<circle cx="397.22" cy="459.17" r="1.05" fill="#009245"/>
<circle cx="392.11" cy="453.3" r="1.05" fill="#009245"/>
<circle cx="394.92" cy="466.96" r="1.05" fill="#009245"/>
<circle cx="389.45" cy="463.29" r="1.05" fill="#009245"/>
<circle cx="394.66" cy="467.22" r="1.05" fill="#009245"/>
<circle cx="390.99" cy="461.66" r="1.05" fill="#009245"/>
<circle cx="388.93" cy="458.76" r="1.05" fill="#009245"/>
<circle cx="394.86" cy="460.34" r="1.05" fill="#009245"/>
<circle cx="395.54" cy="450.35" r="1.05" fill="#009245"/>
<circle cx="389.14" cy="448.49" r="1.05" fill="#009245"/>
<circle cx="390.15" cy="462.23" r="1.05" fill="#009245"/>
<circle cx="394.35" cy="449.99" r="1.05" fill="#009245"/>
<circle cx="390.57" cy="458.37" r="1.05" fill="#009245"/>
<circle cx="390.92" cy="467.5" r="1.05" fill="#009245"/>
<circle cx="387.09" cy="459.6" r="1.05" fill="#009245"/>
<circle cx="390.1" cy="468.25" r="1.05" fill="#009245"/>
<circle cx="393.59" cy="455.66" r="1.05" fill="#009245"/>
<circle cx="396.95" cy="452.89" r="1.05" fill="#009245"/>
<circle cx="396.71" cy="462.89" r="1.05" fill="#009245"/>
<circle cx="392.31" cy="478.4" r="1.05" fill="#009245"/>
<line x1="386.3" y1="457.3" x2="398.3" y2="457.3" stroke="#111" stroke-width="1.2"/>
<line x1="392.3" y1="449.5" x2="392.3" y2="465.1" stroke="#111" stroke-width="1"/>
<line x1="389.7" y1="449.5" x2="394.9" y2="449.5" stroke="#111" stroke-width="1"/>
<line x1="389.7" y1="465.1" x2="394.9" y2="465.1" stroke="#111" stroke-width="1"/>
<circle cx="410.22" cy="481.52" r="1.05" fill="#5bc5e6"/>
<circle cx="412.14" cy="486.81" r="1.05" fill="#5bc5e6"/>
<circle cx="412.38" cy="479.22" r="1.05" fill="#5bc5e6"/>
<circle cx="409.39" cy="475.92" r="1.05" fill="#5bc5e6"/>
<circle cx="412.27" cy="482.74" r="1.05" fill="#5bc5e6"/>
<circle cx="413.61" cy="484" r="1.05" fill="#5bc5e6"/>
<circle cx="407.59" cy="483.22" r="1.05" fill="#5bc5e6"/>
<circle cx="411.1" cy="483.68" r="1.05" fill="#5bc5e6"/>
<circle cx="408.53" cy="481.63" r="1.05" fill="#5bc5e6"/>
<circle cx="407.54" cy="480.07" r="1.05" fill="#5bc5e6"/>
<circle cx="408.14" cy="479.55" r="1.05" fill="#5bc5e6"/>
<circle cx="406.79" cy="481.35" r="1.05" fill="#5bc5e6"/>
<circle cx="408.53" cy="480.83" r="1.05" fill="#5bc5e6"/>
<circle cx="406.64" cy="485.17" r="1.05" fill="#5bc5e6"/>
<circle cx="409.23" cy="484.16" r="1.05" fill="#5bc5e6"/>
<circle cx="407.38" cy="477.95" r="1.05" fill="#5bc5e6"/>
<circle cx="412.53" cy="484.44" r="1.05" fill="#5bc5e6"/>
<circle cx="411.36" cy="482.04" r="1.05" fill="#5bc5e6"/>
<circle cx="407" cy="485.84" r="1.05" fill="#5bc5e6"/>
<circle cx="411.35" cy="487.12" r="1.05" fill="#5bc5e6"/>
<circle cx="407.18" cy="483.99" r="1.05" fill="#5bc5e6"/>
<circle cx="410.13" cy="476.24" r="1.05" fill="#5bc5e6"/>
<circle cx="410.7" cy="484.32" r="1.05" fill="#5bc5e6"/>
<circle cx="409.36" cy="476.96" r="1.05" fill="#5bc5e6"/>
<circle cx="409.4" cy="487.37" r="1.05" fill="#5bc5e6"/>
<circle cx="409.53" cy="479.96" r="1.05" fill="#5bc5e6"/>
<circle cx="406" cy="481.53" r="1.05" fill="#5bc5e6"/>
<circle cx="411.16" cy="488.22" r="1.05" fill="#5bc5e6"/>
<circle cx="408.69" cy="476.28" r="1.05" fill="#5bc5e6"/>
<circle cx="413.92" cy="482.26" r="1.05" fill="#5bc5e6"/>
<circle cx="407.95" cy="478.58" r="1.05" fill="#5bc5e6"/>
<circle cx="408.07" cy="480.43" r="1.05" fill="#5bc5e6"/>
<circle cx="409.13" cy="479.5" r="1.05" fill="#5bc5e6"/>
<circle cx="405.98" cy="484.44" r="1.05" fill="#5bc5e6"/>
<circle cx="405.95" cy="481.16" r="1.05" fill="#5bc5e6"/>
<circle cx="408.72" cy="483.32" r="1.05" fill="#5bc5e6"/>
<circle cx="409.66" cy="484.3" r="1.05" fill="#5bc5e6"/>
<circle cx="411.77" cy="476.45" r="1.05" fill="#5bc5e6"/>
<circle cx="412.49" cy="486.84" r="1.05" fill="#5bc5e6"/>
<circle cx="404.94" cy="481.35" r="1.05" fill="#5bc5e6"/>
<circle cx="410.36" cy="476.63" r="1.05" fill="#5bc5e6"/>
<circle cx="406.39" cy="479.97" r="1.05" fill="#5bc5e6"/>
<circle cx="412.59" cy="485.08" r="1.05" fill="#5bc5e6"/>
<circle cx="408.95" cy="485.52" r="1.05" fill="#5bc5e6"/>
<circle cx="414.19" cy="479.87" r="1.05" fill="#5bc5e6"/>
<circle cx="410.72" cy="482.52" r="1.05" fill="#5bc5e6"/>
<circle cx="406.07" cy="482.98" r="1.05" fill="#5bc5e6"/>
<circle cx="406.81" cy="485.64" r="1.05" fill="#5bc5e6"/>
<circle cx="407.28" cy="481.72" r="1.05" fill="#5bc5e6"/>
<circle cx="412.84" cy="485.46" r="1.05" fill="#5bc5e6"/>
<circle cx="407.02" cy="479.19" r="1.05" fill="#5bc5e6"/>
<circle cx="409.99" cy="479.76" r="1.05" fill="#5bc5e6"/>
<circle cx="409.03" cy="484.41" r="1.05" fill="#5bc5e6"/>
<circle cx="408.84" cy="484.61" r="1.05" fill="#5bc5e6"/>
<circle cx="413.69" cy="482.02" r="1.05" fill="#5bc5e6"/>
<circle cx="407.5" cy="484.21" r="1.05" fill="#5bc5e6"/>
<circle cx="412.63" cy="482.88" r="1.05" fill="#5bc5e6"/>
<circle cx="411.61" cy="484.76" r="1.05" fill="#5bc5e6"/>
<circle cx="412.81" cy="486.09" r="1.05" fill="#5bc5e6"/>
<circle cx="410.4" cy="483.93" r="1.05" fill="#5bc5e6"/>
<circle cx="413.62" cy="484.94" r="1.05" fill="#5bc5e6"/>
<circle cx="409.53" cy="480.86" r="1.05" fill="#5bc5e6"/>
<circle cx="410.98" cy="480.31" r="1.05" fill="#5bc5e6"/>
<circle cx="410.45" cy="474.27" r="1.05" fill="#5bc5e6"/>
<circle cx="413.73" cy="483.56" r="1.05" fill="#5bc5e6"/>
<circle cx="414.77" cy="482.29" r="1.05" fill="#5bc5e6"/>
<circle cx="406.43" cy="483.97" r="1.05" fill="#5bc5e6"/>
<circle cx="409" cy="475.89" r="1.05" fill="#5bc5e6"/>
<circle cx="410.57" cy="480.55" r="1.05" fill="#5bc5e6"/>
<circle cx="413.55" cy="480.31" r="1.05" fill="#5bc5e6"/>
<circle cx="410.32" cy="476.11" r="1.05" fill="#5bc5e6"/>
<circle cx="408.68" cy="485.24" r="1.05" fill="#5bc5e6"/>
<circle cx="412.8" cy="486.29" r="1.05" fill="#5bc5e6"/>
<circle cx="408.84" cy="477.9" r="1.05" fill="#5bc5e6"/>
<circle cx="405.98" cy="483.68" r="1.05" fill="#5bc5e6"/>
<circle cx="408.89" cy="487.99" r="1.05" fill="#5bc5e6"/>
<circle cx="406.87" cy="478.1" r="1.05" fill="#5bc5e6"/>
<circle cx="411.81" cy="485.51" r="1.05" fill="#5bc5e6"/>
<circle cx="408.8" cy="487.53" r="1.05" fill="#5bc5e6"/>
<circle cx="410.71" cy="488.47" r="1.05" fill="#5bc5e6"/>
<circle cx="412.45" cy="477.59" r="1.05" fill="#5bc5e6"/>
<circle cx="414.21" cy="478.6" r="1.05" fill="#5bc5e6"/>
<circle cx="413.64" cy="482.89" r="1.05" fill="#5bc5e6"/>
<circle cx="409.77" cy="486.24" r="1.05" fill="#5bc5e6"/>
<circle cx="411.03" cy="477.94" r="1.05" fill="#5bc5e6"/>
<circle cx="413.48" cy="479.65" r="1.05" fill="#5bc5e6"/>
<circle cx="411.86" cy="478.42" r="1.05" fill="#5bc5e6"/>
<circle cx="408.88" cy="485.92" r="1.05" fill="#5bc5e6"/>
<circle cx="413" cy="480.3" r="1.05" fill="#5bc5e6"/>
<circle cx="406.46" cy="484.12" r="1.05" fill="#5bc5e6"/>
<circle cx="408.44" cy="484.36" r="1.05" fill="#5bc5e6"/>
<circle cx="413.16" cy="486.1" r="1.05" fill="#5bc5e6"/>
<circle cx="409.9" cy="483.6" r="1.05" fill="#5bc5e6"/>
<circle cx="407.72" cy="483.33" r="1.05" fill="#5bc5e6"/>
<circle cx="411.9" cy="486.1" r="1.05" fill="#5bc5e6"/>
<circle cx="409.7" cy="483.8" r="1.05" fill="#5bc5e6"/>
<circle cx="406.84" cy="477.92" r="1.05" fill="#5bc5e6"/>
<circle cx="405.12" cy="480.37" r="1.05" fill="#5bc5e6"/>
<circle cx="408.37" cy="485.25" r="1.05" fill="#5bc5e6"/>
<circle cx="408.3" cy="482.66" r="1.05" fill="#5bc5e6"/>
<circle cx="415.16" cy="481" r="1.05" fill="#5bc5e6"/>
<circle cx="407.42" cy="483.01" r="1.05" fill="#5bc5e6"/>
<circle cx="410.95" cy="474.93" r="1.05" fill="#5bc5e6"/>
<circle cx="414.29" cy="482.02" r="1.05" fill="#5bc5e6"/>
<circle cx="409.25" cy="480.97" r="1.05" fill="#5bc5e6"/>
<circle cx="414.79" cy="484.28" r="1.05" fill="#5bc5e6"/>
<circle cx="413.11" cy="480.71" r="1.05" fill="#5bc5e6"/>
<circle cx="410.02" cy="481.04" r="1.05" fill="#5bc5e6"/>
<circle cx="408.24" cy="478.7" r="1.05" fill="#5bc5e6"/>
<circle cx="409.75" cy="482.39" r="1.05" fill="#5bc5e6"/>
<circle cx="414.86" cy="481.98" r="1.05" fill="#5bc5e6"/>
<circle cx="410.62" cy="481.5" r="1.05" fill="#5bc5e6"/>
<circle cx="407.11" cy="479.84" r="1.05" fill="#5bc5e6"/>
<circle cx="409.23" cy="485.13" r="1.05" fill="#5bc5e6"/>
<circle cx="410.04" cy="485.71" r="1.05" fill="#5bc5e6"/>
<circle cx="406.68" cy="481.05" r="1.05" fill="#5bc5e6"/>
<circle cx="410.56" cy="476.95" r="1.05" fill="#5bc5e6"/>
<circle cx="404.92" cy="482.59" r="1.05" fill="#5bc5e6"/>
<circle cx="413.92" cy="481.56" r="1.05" fill="#5bc5e6"/>
<circle cx="406.56" cy="482.6" r="1.05" fill="#5bc5e6"/>
<line x1="404.2" y1="481.8" x2="416.2" y2="481.8" stroke="#111" stroke-width="1.2"/>
<line x1="410.2" y1="478.4" x2="410.2" y2="485.1" stroke="#111" stroke-width="1"/>
<line x1="407.6" y1="478.4" x2="412.8" y2="478.4" stroke="#111" stroke-width="1"/>
<line x1="407.6" y1="485.1" x2="412.8" y2="485.1" stroke="#111" stroke-width="1"/>
<text transform="translate(377.2,514.8) rotate(-45)" font-size="10.8" text-anchor="end" fill="#231f20" stroke="#231f20" stroke-width="0.22"><tspan font-style="italic">WT</tspan></text>
<text transform="translate(395.1,514.8) rotate(-45)" font-size="10.8" text-anchor="end" fill="#231f20" stroke="#231f20" stroke-width="0.22"><tspan>&#916;</tspan><tspan font-style="italic">crp</tspan></text>
<text transform="translate(413,514.8) rotate(-45)" font-size="10.8" text-anchor="end" fill="#231f20" stroke="#231f20" stroke-width="0.22"><tspan>&#916;</tspan><tspan font-style="italic">wzxE</tspan></text>
<text transform="translate(449.6,464.6) rotate(-90)" font-size="12.2" text-anchor="middle" fill="#231f20" stroke="#231f20" stroke-width="0.22">width size (&#181;m)</text>
<line x1="473.5" y1="423.8" x2="473.5" y2="504" stroke="#231f20" stroke-width="1.3"/>
<line x1="469.4" y1="503.4" x2="473.5" y2="503.4" stroke="#231f20" stroke-width="1.3"/>
<text x="467.8" y="507.75" font-size="10.7" text-anchor="end" fill="#231f20" stroke="#231f20" stroke-width="0.22">0.0</text>
<line x1="469.4" y1="477.07" x2="473.5" y2="477.07" stroke="#231f20" stroke-width="1.3"/>
<text x="467.8" y="481.42" font-size="10.7" text-anchor="end" fill="#231f20" stroke="#231f20" stroke-width="0.22">0.5</text>
<line x1="469.4" y1="450.73" x2="473.5" y2="450.73" stroke="#231f20" stroke-width="1.3"/>
<text x="467.8" y="455.09" font-size="10.7" text-anchor="end" fill="#231f20" stroke="#231f20" stroke-width="0.22">1.0</text>
<line x1="469.4" y1="424.4" x2="473.5" y2="424.4" stroke="#231f20" stroke-width="1.3"/>
<text x="467.8" y="428.75" font-size="10.7" text-anchor="end" fill="#231f20" stroke="#231f20" stroke-width="0.22">1.5</text>
<line x1="469.4" y1="503.4" x2="532.2" y2="503.4" stroke="#231f20" stroke-width="1.3"/>
<line x1="484.9" y1="503.4" x2="484.9" y2="507.8" stroke="#231f20" stroke-width="1.3"/>
<line x1="502.8" y1="503.4" x2="502.8" y2="507.8" stroke="#231f20" stroke-width="1.3"/>
<line x1="520.4" y1="503.4" x2="520.4" y2="507.8" stroke="#231f20" stroke-width="1.3"/>
<line x1="482.9" y1="424.6" x2="522.3" y2="424.6" stroke="#231f20" stroke-width="1.3"/>
<line x1="483.5" y1="424.6" x2="483.5" y2="440.3" stroke="#231f20" stroke-width="1.3"/>
<line x1="503.2" y1="424.6" x2="503.2" y2="432.2" stroke="#231f20" stroke-width="1.3"/>
<line x1="521.7" y1="424.6" x2="521.7" y2="432.2" stroke="#231f20" stroke-width="1.3"/>
<polygon points="498.4,433.8 498.98,435.2 500.49,435.32 499.34,436.31 499.69,437.78 498.4,436.99 497.11,437.78 497.46,436.31 496.31,435.32 497.82,435.2" fill="#231f20"/>
<polygon points="503.3,433.8 503.88,435.2 505.39,435.32 504.24,436.31 504.59,437.78 503.3,436.99 502.01,437.78 502.36,436.31 501.21,435.32 502.72,435.2" fill="#231f20"/>
<polygon points="508.2,433.8 508.78,435.2 510.29,435.32 509.14,436.31 509.49,437.78 508.2,436.99 506.91,437.78 507.26,436.31 506.11,435.32 507.62,435.2" fill="#231f20"/>
<polygon points="517,433.8 517.58,435.2 519.09,435.32 517.94,436.31 518.29,437.78 517,436.99 515.71,437.78 516.06,436.31 514.91,435.32 516.42,435.2" fill="#231f20"/>
<polygon points="521.9,433.8 522.48,435.2 523.99,435.32 522.84,436.31 523.19,437.78 521.9,436.99 520.61,437.78 520.96,436.31 519.81,435.32 521.32,435.2" fill="#231f20"/>
<polygon points="526.8,433.8 527.38,435.2 528.89,435.32 527.74,436.31 528.09,437.78 526.8,436.99 525.51,437.78 525.86,436.31 524.71,435.32 526.22,435.2" fill="#231f20"/>
<circle cx="485.69" cy="473.98" r="1.05" fill="#9a9a9a"/>
<circle cx="487.1" cy="476.46" r="1.05" fill="#9a9a9a"/>
<circle cx="482.99" cy="466.93" r="1.05" fill="#9a9a9a"/>
<circle cx="485.22" cy="466.46" r="1.05" fill="#9a9a9a"/>
<circle cx="482.27" cy="472.13" r="1.05" fill="#9a9a9a"/>
<circle cx="485.93" cy="478.37" r="1.05" fill="#9a9a9a"/>
<circle cx="479.24" cy="472.36" r="1.05" fill="#9a9a9a"/>
<circle cx="486.31" cy="465.25" r="1.05" fill="#9a9a9a"/>
<circle cx="489.46" cy="467.03" r="1.05" fill="#9a9a9a"/>
<circle cx="478.99" cy="470.29" r="1.05" fill="#9a9a9a"/>
<circle cx="485.71" cy="474.83" r="1.05" fill="#9a9a9a"/>
<circle cx="486.68" cy="470.49" r="1.05" fill="#9a9a9a"/>
<circle cx="489.08" cy="468.9" r="1.05" fill="#9a9a9a"/>
<circle cx="485.93" cy="469.51" r="1.05" fill="#9a9a9a"/>
<circle cx="481.93" cy="471.31" r="1.05" fill="#9a9a9a"/>
<circle cx="483.93" cy="467.18" r="1.05" fill="#9a9a9a"/>
<circle cx="490.59" cy="470.55" r="1.05" fill="#9a9a9a"/>
<circle cx="489.76" cy="471.75" r="1.05" fill="#9a9a9a"/>
<circle cx="483.31" cy="477.94" r="1.05" fill="#9a9a9a"/>
<circle cx="479.88" cy="470.28" r="1.05" fill="#9a9a9a"/>
<circle cx="481.44" cy="474.9" r="1.05" fill="#9a9a9a"/>
<circle cx="480.85" cy="465.9" r="1.05" fill="#9a9a9a"/>
<circle cx="484.41" cy="474.41" r="1.05" fill="#9a9a9a"/>
<circle cx="480.51" cy="471.27" r="1.05" fill="#9a9a9a"/>
<circle cx="489.04" cy="468.12" r="1.05" fill="#9a9a9a"/>
<circle cx="486.83" cy="470.44" r="1.05" fill="#9a9a9a"/>
<circle cx="481.56" cy="474.61" r="1.05" fill="#9a9a9a"/>
<circle cx="485.36" cy="469.09" r="1.05" fill="#9a9a9a"/>
<circle cx="483.47" cy="475.18" r="1.05" fill="#9a9a9a"/>
<circle cx="484.87" cy="477.41" r="1.05" fill="#9a9a9a"/>
<circle cx="483.66" cy="477.87" r="1.05" fill="#9a9a9a"/>
<circle cx="483.42" cy="477.85" r="1.05" fill="#9a9a9a"/>
<circle cx="482.69" cy="464.82" r="1.05" fill="#9a9a9a"/>
<circle cx="483.46" cy="472.09" r="1.05" fill="#9a9a9a"/>
<circle cx="487.12" cy="467.48" r="1.05" fill="#9a9a9a"/>
<circle cx="485.33" cy="474.82" r="1.05" fill="#9a9a9a"/>
<circle cx="479.3" cy="470.89" r="1.05" fill="#9a9a9a"/>
<circle cx="487.45" cy="471.57" r="1.05" fill="#9a9a9a"/>
<circle cx="489.13" cy="472.64" r="1.05" fill="#9a9a9a"/>
<circle cx="487.93" cy="467.89" r="1.05" fill="#9a9a9a"/>
<circle cx="488.48" cy="470.99" r="1.05" fill="#9a9a9a"/>
<circle cx="479.78" cy="467.31" r="1.05" fill="#9a9a9a"/>
<circle cx="484.55" cy="474.15" r="1.05" fill="#9a9a9a"/>
<circle cx="479.84" cy="468.5" r="1.05" fill="#9a9a9a"/>
<circle cx="488.16" cy="470.89" r="1.05" fill="#9a9a9a"/>
<circle cx="482.85" cy="464.35" r="1.05" fill="#9a9a9a"/>
<circle cx="487.52" cy="470.1" r="1.05" fill="#9a9a9a"/>
<circle cx="482.13" cy="468.07" r="1.05" fill="#9a9a9a"/>
<circle cx="485.54" cy="461.88" r="1.05" fill="#9a9a9a"/>
<circle cx="482.66" cy="471.68" r="1.05" fill="#9a9a9a"/>
<circle cx="480.17" cy="473.55" r="1.05" fill="#9a9a9a"/>
<circle cx="484.28" cy="476.99" r="1.05" fill="#9a9a9a"/>
<circle cx="483.06" cy="466.7" r="1.05" fill="#9a9a9a"/>
<circle cx="489.38" cy="472.76" r="1.05" fill="#9a9a9a"/>
<circle cx="483.1" cy="466.07" r="1.05" fill="#9a9a9a"/>
<circle cx="484.94" cy="471.77" r="1.05" fill="#9a9a9a"/>
<circle cx="485.32" cy="474.95" r="1.05" fill="#9a9a9a"/>
<circle cx="490.46" cy="470.25" r="1.05" fill="#9a9a9a"/>
<circle cx="480.28" cy="472.41" r="1.05" fill="#9a9a9a"/>
<circle cx="486.15" cy="470.74" r="1.05" fill="#9a9a9a"/>
<circle cx="484.99" cy="467.52" r="1.05" fill="#9a9a9a"/>
<circle cx="487.64" cy="468.61" r="1.05" fill="#9a9a9a"/>
<circle cx="488.01" cy="464.59" r="1.05" fill="#9a9a9a"/>
<circle cx="482.55" cy="470.71" r="1.05" fill="#9a9a9a"/>
<circle cx="487.37" cy="470.36" r="1.05" fill="#9a9a9a"/>
<circle cx="485.16" cy="467.14" r="1.05" fill="#9a9a9a"/>
<circle cx="485.41" cy="465.85" r="1.05" fill="#9a9a9a"/>
<circle cx="480.7" cy="466.69" r="1.05" fill="#9a9a9a"/>
<circle cx="488.5" cy="468.32" r="1.05" fill="#9a9a9a"/>
<circle cx="490.38" cy="468.38" r="1.05" fill="#9a9a9a"/>
<circle cx="483.24" cy="472.45" r="1.05" fill="#9a9a9a"/>
<circle cx="483.16" cy="474.13" r="1.05" fill="#9a9a9a"/>
<circle cx="489.58" cy="474.21" r="1.05" fill="#9a9a9a"/>
<circle cx="480.34" cy="468.52" r="1.05" fill="#9a9a9a"/>
<circle cx="480.56" cy="467.18" r="1.05" fill="#9a9a9a"/>
<circle cx="480.08" cy="468.14" r="1.05" fill="#9a9a9a"/>
<circle cx="488.67" cy="471.75" r="1.05" fill="#9a9a9a"/>
<circle cx="488.06" cy="471.42" r="1.05" fill="#9a9a9a"/>
<circle cx="484.36" cy="473.5" r="1.05" fill="#9a9a9a"/>
<circle cx="485.46" cy="463.06" r="1.05" fill="#9a9a9a"/>
<circle cx="481.1" cy="465.47" r="1.05" fill="#9a9a9a"/>
<circle cx="486.04" cy="475.34" r="1.05" fill="#9a9a9a"/>
<circle cx="484.4" cy="465.98" r="1.05" fill="#9a9a9a"/>
<circle cx="484.95" cy="461.6" r="1.05" fill="#9a9a9a"/>
<circle cx="483.96" cy="474.94" r="1.05" fill="#9a9a9a"/>
<circle cx="483.71" cy="469.18" r="1.05" fill="#9a9a9a"/>
<circle cx="481.5" cy="470.64" r="1.05" fill="#9a9a9a"/>
<circle cx="479.37" cy="469.6" r="1.05" fill="#9a9a9a"/>
<circle cx="484.29" cy="474.37" r="1.05" fill="#9a9a9a"/>
<circle cx="482.42" cy="466.82" r="1.05" fill="#9a9a9a"/>
<circle cx="487.16" cy="467.94" r="1.05" fill="#9a9a9a"/>
<circle cx="488.42" cy="472.84" r="1.05" fill="#9a9a9a"/>
<circle cx="487.49" cy="472.35" r="1.05" fill="#9a9a9a"/>
<circle cx="484.39" cy="468.48" r="1.05" fill="#9a9a9a"/>
<circle cx="483.76" cy="477.94" r="1.05" fill="#9a9a9a"/>
<circle cx="483.77" cy="473.91" r="1.05" fill="#9a9a9a"/>
<circle cx="484.74" cy="471.19" r="1.05" fill="#9a9a9a"/>
<circle cx="485.89" cy="465.17" r="1.05" fill="#9a9a9a"/>
<circle cx="490.58" cy="471.18" r="1.05" fill="#9a9a9a"/>
<circle cx="479.91" cy="469.11" r="1.05" fill="#9a9a9a"/>
<circle cx="484.65" cy="470.21" r="1.05" fill="#9a9a9a"/>
<circle cx="484.82" cy="474.2" r="1.05" fill="#9a9a9a"/>
<circle cx="487.31" cy="467.94" r="1.05" fill="#9a9a9a"/>
<circle cx="489.58" cy="471.76" r="1.05" fill="#9a9a9a"/>
<circle cx="487.56" cy="474.19" r="1.05" fill="#9a9a9a"/>
<circle cx="486.38" cy="472.17" r="1.05" fill="#9a9a9a"/>
<circle cx="487.44" cy="473.96" r="1.05" fill="#9a9a9a"/>
<circle cx="485.58" cy="462.6" r="1.05" fill="#9a9a9a"/>
<circle cx="488.46" cy="466.92" r="1.05" fill="#9a9a9a"/>
<circle cx="487.36" cy="470.86" r="1.05" fill="#9a9a9a"/>
<circle cx="486.22" cy="475.83" r="1.05" fill="#9a9a9a"/>
<circle cx="481.86" cy="468.96" r="1.05" fill="#9a9a9a"/>
<circle cx="490.06" cy="470.25" r="1.05" fill="#9a9a9a"/>
<circle cx="483.52" cy="469.31" r="1.05" fill="#9a9a9a"/>
<circle cx="486.21" cy="472.47" r="1.05" fill="#9a9a9a"/>
<circle cx="485.95" cy="478.93" r="1.05" fill="#9a9a9a"/>
<circle cx="489.94" cy="473.06" r="1.05" fill="#9a9a9a"/>
<circle cx="486.21" cy="461.28" r="1.05" fill="#9a9a9a"/>
<circle cx="480.28" cy="466.5" r="1.05" fill="#9a9a9a"/>
<circle cx="482.91" cy="467.52" r="1.05" fill="#9a9a9a"/>
<line x1="478.9" y1="470.4" x2="490.9" y2="470.4" stroke="#111" stroke-width="1.2"/>
<line x1="484.9" y1="465.1" x2="484.9" y2="475.6" stroke="#111" stroke-width="1"/>
<line x1="482.3" y1="465.1" x2="487.5" y2="465.1" stroke="#111" stroke-width="1"/>
<line x1="482.3" y1="475.6" x2="487.5" y2="475.6" stroke="#111" stroke-width="1"/>
<circle cx="501.44" cy="463.21" r="1.05" fill="#009245"/>
<circle cx="507.09" cy="460.79" r="1.05" fill="#009245"/>
<circle cx="500.97" cy="455.12" r="1.05" fill="#009245"/>
<circle cx="499.51" cy="463.23" r="1.05" fill="#009245"/>
<circle cx="502.72" cy="465.1" r="1.05" fill="#009245"/>
<circle cx="501.81" cy="464.89" r="1.05" fill="#009245"/>
<circle cx="504.59" cy="457.03" r="1.05" fill="#009245"/>
<circle cx="503.64" cy="467.53" r="1.05" fill="#009245"/>
<circle cx="502.37" cy="462.34" r="1.05" fill="#009245"/>
<circle cx="500.79" cy="457.49" r="1.05" fill="#009245"/>
<circle cx="501.94" cy="454.58" r="1.05" fill="#009245"/>
<circle cx="501.42" cy="456.34" r="1.05" fill="#009245"/>
<circle cx="498.87" cy="458.07" r="1.05" fill="#009245"/>
<circle cx="503.18" cy="453.8" r="1.05" fill="#009245"/>
<circle cx="498.57" cy="461" r="1.05" fill="#009245"/>
<circle cx="507.46" cy="460.2" r="1.05" fill="#009245"/>
<circle cx="504.04" cy="464.83" r="1.05" fill="#009245"/>
<circle cx="498.81" cy="458.04" r="1.05" fill="#009245"/>
<circle cx="502.78" cy="460.43" r="1.05" fill="#009245"/>
<circle cx="503.92" cy="463.47" r="1.05" fill="#009245"/>
<circle cx="498.31" cy="464.09" r="1.05" fill="#009245"/>
<circle cx="502.69" cy="457.45" r="1.05" fill="#009245"/>
<circle cx="500.64" cy="467.04" r="1.05" fill="#009245"/>
<circle cx="505.59" cy="458.94" r="1.05" fill="#009245"/>
<circle cx="499.47" cy="465.82" r="1.05" fill="#009245"/>
<circle cx="504.38" cy="460.18" r="1.05" fill="#009245"/>
<circle cx="508.38" cy="459.72" r="1.05" fill="#009245"/>
<circle cx="505.01" cy="456.6" r="1.05" fill="#009245"/>
<circle cx="499.52" cy="460.82" r="1.05" fill="#009245"/>
<circle cx="503.07" cy="457.37" r="1.05" fill="#009245"/>
<circle cx="498.72" cy="463.04" r="1.05" fill="#009245"/>
<circle cx="502.45" cy="452.52" r="1.05" fill="#009245"/>
<circle cx="507.13" cy="460.14" r="1.05" fill="#009245"/>
<circle cx="506.44" cy="459.68" r="1.05" fill="#009245"/>
<circle cx="497.71" cy="463.73" r="1.05" fill="#009245"/>
<circle cx="502.05" cy="456.54" r="1.05" fill="#009245"/>
<circle cx="504.53" cy="461.75" r="1.05" fill="#009245"/>
<circle cx="498.91" cy="462.35" r="1.05" fill="#009245"/>
<circle cx="506.46" cy="460.4" r="1.05" fill="#009245"/>
<circle cx="507.67" cy="461.12" r="1.05" fill="#009245"/>
<circle cx="503.21" cy="465.11" r="1.05" fill="#009245"/>
<circle cx="501.27" cy="459.36" r="1.05" fill="#009245"/>
<circle cx="505.68" cy="457.63" r="1.05" fill="#009245"/>
<circle cx="502.96" cy="460.9" r="1.05" fill="#009245"/>
<circle cx="500.56" cy="457.04" r="1.05" fill="#009245"/>
<circle cx="502.12" cy="454.5" r="1.05" fill="#009245"/>
<circle cx="498.76" cy="460.07" r="1.05" fill="#009245"/>
<circle cx="505.85" cy="464.56" r="1.05" fill="#009245"/>
<circle cx="502.9" cy="458.67" r="1.05" fill="#009245"/>
<circle cx="505.08" cy="459.8" r="1.05" fill="#009245"/>
<circle cx="505.4" cy="457.58" r="1.05" fill="#009245"/>
<circle cx="507.63" cy="458.75" r="1.05" fill="#009245"/>
<circle cx="500.95" cy="456.38" r="1.05" fill="#009245"/>
<circle cx="501.79" cy="463.49" r="1.05" fill="#009245"/>
<circle cx="507.13" cy="459.78" r="1.05" fill="#009245"/>
<circle cx="506.04" cy="461.03" r="1.05" fill="#009245"/>
<circle cx="501.8" cy="464.67" r="1.05" fill="#009245"/>
<circle cx="504.73" cy="461.23" r="1.05" fill="#009245"/>
<circle cx="500.09" cy="457.98" r="1.05" fill="#009245"/>
<circle cx="498.89" cy="462.82" r="1.05" fill="#009245"/>
<circle cx="501.8" cy="469.32" r="1.05" fill="#009245"/>
<circle cx="501.84" cy="457.5" r="1.05" fill="#009245"/>
<circle cx="500.6" cy="457.67" r="1.05" fill="#009245"/>
<circle cx="503.02" cy="461.03" r="1.05" fill="#009245"/>
<circle cx="504.57" cy="467.59" r="1.05" fill="#009245"/>
<circle cx="500.37" cy="465.66" r="1.05" fill="#009245"/>
<circle cx="503.42" cy="463.45" r="1.05" fill="#009245"/>
<circle cx="505.6" cy="465.29" r="1.05" fill="#009245"/>
<circle cx="503.9" cy="459.43" r="1.05" fill="#009245"/>
<circle cx="503.07" cy="463.91" r="1.05" fill="#009245"/>
<circle cx="505.91" cy="459.84" r="1.05" fill="#009245"/>
<circle cx="497.44" cy="463.13" r="1.05" fill="#009245"/>
<circle cx="505.95" cy="465.64" r="1.05" fill="#009245"/>
<circle cx="505.04" cy="462.33" r="1.05" fill="#009245"/>
<circle cx="506.36" cy="462.78" r="1.05" fill="#009245"/>
<circle cx="504.71" cy="456.32" r="1.05" fill="#009245"/>
<circle cx="498.22" cy="462.96" r="1.05" fill="#009245"/>
<circle cx="500.48" cy="466.58" r="1.05" fill="#009245"/>
<circle cx="500.05" cy="464.81" r="1.05" fill="#009245"/>
<circle cx="502.86" cy="462.49" r="1.05" fill="#009245"/>
<circle cx="506.3" cy="465.12" r="1.05" fill="#009245"/>
<circle cx="503.89" cy="454.15" r="1.05" fill="#009245"/>
<circle cx="502.52" cy="454.54" r="1.05" fill="#009245"/>
<circle cx="504.19" cy="463.01" r="1.05" fill="#009245"/>
<circle cx="504.47" cy="456.91" r="1.05" fill="#009245"/>
<circle cx="500.72" cy="461.34" r="1.05" fill="#009245"/>
<circle cx="506.74" cy="464.91" r="1.05" fill="#009245"/>
<circle cx="504.92" cy="455.68" r="1.05" fill="#009245"/>
<circle cx="503.85" cy="455.58" r="1.05" fill="#009245"/>
<circle cx="507.64" cy="462.28" r="1.05" fill="#009245"/>
<circle cx="506.07" cy="459.21" r="1.05" fill="#009245"/>
<circle cx="504.33" cy="458.66" r="1.05" fill="#009245"/>
<circle cx="500.72" cy="462.72" r="1.05" fill="#009245"/>
<circle cx="502.04" cy="454.79" r="1.05" fill="#009245"/>
<circle cx="501.96" cy="454.61" r="1.05" fill="#009245"/>
<circle cx="500.54" cy="455.88" r="1.05" fill="#009245"/>
<circle cx="505.89" cy="465.51" r="1.05" fill="#009245"/>
<circle cx="500.32" cy="461.78" r="1.05" fill="#009245"/>
<circle cx="497.68" cy="459.12" r="1.05" fill="#009245"/>
<circle cx="500.9" cy="458.84" r="1.05" fill="#009245"/>
<circle cx="498.8" cy="463.92" r="1.05" fill="#009245"/>
<circle cx="502.47" cy="466.16" r="1.05" fill="#009245"/>
<circle cx="501.11" cy="458.69" r="1.05" fill="#009245"/>
<circle cx="498.93" cy="462.44" r="1.05" fill="#009245"/>
<circle cx="502.59" cy="458.06" r="1.05" fill="#009245"/>
<circle cx="501.92" cy="463.75" r="1.05" fill="#009245"/>
<circle cx="501.17" cy="463.15" r="1.05" fill="#009245"/>
<circle cx="506.36" cy="463" r="1.05" fill="#009245"/>
<circle cx="500.41" cy="461.08" r="1.05" fill="#009245"/>
<circle cx="502.91" cy="468.52" r="1.05" fill="#009245"/>
<circle cx="507.28" cy="462.52" r="1.05" fill="#009245"/>
<circle cx="507.42" cy="463.93" r="1.05" fill="#009245"/>
<circle cx="501.69" cy="464.62" r="1.05" fill="#009245"/>
<circle cx="497.96" cy="463.63" r="1.05" fill="#009245"/>
<circle cx="508.26" cy="462.17" r="1.05" fill="#009245"/>
<circle cx="502.93" cy="464.49" r="1.05" fill="#009245"/>
<circle cx="499.36" cy="460.52" r="1.05" fill="#009245"/>
<circle cx="501.97" cy="453.14" r="1.05" fill="#009245"/>
<circle cx="499.59" cy="461.81" r="1.05" fill="#009245"/>
<circle cx="500.5" cy="460.43" r="1.05" fill="#009245"/>
<line x1="496.8" y1="461.3" x2="508.8" y2="461.3" stroke="#111" stroke-width="1.2"/>
<line x1="502.8" y1="457.6" x2="502.8" y2="465.4" stroke="#111" stroke-width="1"/>
<line x1="500.2" y1="457.6" x2="505.4" y2="457.6" stroke="#111" stroke-width="1"/>
<line x1="500.2" y1="465.4" x2="505.4" y2="465.4" stroke="#111" stroke-width="1"/>
<circle cx="521.13" cy="475.32" r="1.05" fill="#5bc5e6"/>
<circle cx="517.39" cy="459.58" r="1.05" fill="#5bc5e6"/>
<circle cx="521.96" cy="466.46" r="1.05" fill="#5bc5e6"/>
<circle cx="518.38" cy="463.65" r="1.05" fill="#5bc5e6"/>
<circle cx="520.94" cy="460.68" r="1.05" fill="#5bc5e6"/>
<circle cx="524.06" cy="462.15" r="1.05" fill="#5bc5e6"/>
<circle cx="517.59" cy="462.41" r="1.05" fill="#5bc5e6"/>
<circle cx="525.98" cy="464.42" r="1.05" fill="#5bc5e6"/>
<circle cx="515.47" cy="466.76" r="1.05" fill="#5bc5e6"/>
<circle cx="520.91" cy="469.76" r="1.05" fill="#5bc5e6"/>
<circle cx="520.91" cy="465.86" r="1.05" fill="#5bc5e6"/>
<circle cx="518.32" cy="470.1" r="1.05" fill="#5bc5e6"/>
<circle cx="521.1" cy="466.91" r="1.05" fill="#5bc5e6"/>
<circle cx="520.04" cy="465.22" r="1.05" fill="#5bc5e6"/>
<circle cx="519.79" cy="463.65" r="1.05" fill="#5bc5e6"/>
<circle cx="522.21" cy="460.04" r="1.05" fill="#5bc5e6"/>
<circle cx="518.2" cy="457.11" r="1.05" fill="#5bc5e6"/>
<circle cx="518.89" cy="464.28" r="1.05" fill="#5bc5e6"/>
<circle cx="523.88" cy="463.85" r="1.05" fill="#5bc5e6"/>
<circle cx="516.08" cy="466.18" r="1.05" fill="#5bc5e6"/>
<circle cx="524.82" cy="466.22" r="1.05" fill="#5bc5e6"/>
<circle cx="518.51" cy="458.64" r="1.05" fill="#5bc5e6"/>
<circle cx="522.19" cy="461.24" r="1.05" fill="#5bc5e6"/>
<circle cx="518.02" cy="459.3" r="1.05" fill="#5bc5e6"/>
<circle cx="519.95" cy="469.38" r="1.05" fill="#5bc5e6"/>
<circle cx="519.45" cy="464.07" r="1.05" fill="#5bc5e6"/>
<circle cx="515.22" cy="465.18" r="1.05" fill="#5bc5e6"/>
<circle cx="522.13" cy="460.3" r="1.05" fill="#5bc5e6"/>
<circle cx="520.28" cy="458.55" r="1.05" fill="#5bc5e6"/>
<circle cx="522.39" cy="461.81" r="1.05" fill="#5bc5e6"/>
<circle cx="520.88" cy="464.1" r="1.05" fill="#5bc5e6"/>
<circle cx="521.05" cy="466.77" r="1.05" fill="#5bc5e6"/>
<circle cx="520.52" cy="457.36" r="1.05" fill="#5bc5e6"/>
<circle cx="517.96" cy="466.14" r="1.05" fill="#5bc5e6"/>
<circle cx="523.96" cy="460.5" r="1.05" fill="#5bc5e6"/>
<circle cx="515.92" cy="462.08" r="1.05" fill="#5bc5e6"/>
<circle cx="524.79" cy="463" r="1.05" fill="#5bc5e6"/>
<circle cx="524.5" cy="462.53" r="1.05" fill="#5bc5e6"/>
<circle cx="520.37" cy="466.74" r="1.05" fill="#5bc5e6"/>
<circle cx="523.08" cy="468.72" r="1.05" fill="#5bc5e6"/>
<circle cx="522.49" cy="466.17" r="1.05" fill="#5bc5e6"/>
<circle cx="521.53" cy="462" r="1.05" fill="#5bc5e6"/>
<circle cx="517.93" cy="466.55" r="1.05" fill="#5bc5e6"/>
<circle cx="518.24" cy="466.34" r="1.05" fill="#5bc5e6"/>
<circle cx="518.93" cy="468.64" r="1.05" fill="#5bc5e6"/>
<circle cx="517.98" cy="465.83" r="1.05" fill="#5bc5e6"/>
<circle cx="522.33" cy="456.92" r="1.05" fill="#5bc5e6"/>
<circle cx="518.89" cy="460.97" r="1.05" fill="#5bc5e6"/>
<circle cx="519.12" cy="462.66" r="1.05" fill="#5bc5e6"/>
<circle cx="519.64" cy="468.93" r="1.05" fill="#5bc5e6"/>
<circle cx="524.26" cy="463.92" r="1.05" fill="#5bc5e6"/>
<circle cx="520.19" cy="468.87" r="1.05" fill="#5bc5e6"/>
<circle cx="521.05" cy="465.94" r="1.05" fill="#5bc5e6"/>
<circle cx="518.74" cy="458.93" r="1.05" fill="#5bc5e6"/>
<circle cx="517.65" cy="464.78" r="1.05" fill="#5bc5e6"/>
<circle cx="515.74" cy="467.18" r="1.05" fill="#5bc5e6"/>
<circle cx="517.04" cy="466.49" r="1.05" fill="#5bc5e6"/>
<circle cx="519.23" cy="457.55" r="1.05" fill="#5bc5e6"/>
<circle cx="524.56" cy="466.58" r="1.05" fill="#5bc5e6"/>
<circle cx="520.43" cy="461.78" r="1.05" fill="#5bc5e6"/>
<circle cx="519.53" cy="454.58" r="1.05" fill="#5bc5e6"/>
<circle cx="520" cy="461.87" r="1.05" fill="#5bc5e6"/>
<circle cx="519.44" cy="455.23" r="1.05" fill="#5bc5e6"/>
<circle cx="520.81" cy="458.53" r="1.05" fill="#5bc5e6"/>
<circle cx="520.05" cy="471.38" r="1.05" fill="#5bc5e6"/>
<circle cx="521.2" cy="476.22" r="1.05" fill="#5bc5e6"/>
<circle cx="518.34" cy="469.58" r="1.05" fill="#5bc5e6"/>
<circle cx="524.54" cy="466.61" r="1.05" fill="#5bc5e6"/>
<circle cx="519.52" cy="473.55" r="1.05" fill="#5bc5e6"/>
<circle cx="526.22" cy="466.18" r="1.05" fill="#5bc5e6"/>
<circle cx="521.49" cy="459.92" r="1.05" fill="#5bc5e6"/>
<circle cx="519.38" cy="452.94" r="1.05" fill="#5bc5e6"/>
<circle cx="523.32" cy="468.86" r="1.05" fill="#5bc5e6"/>
<circle cx="519.9" cy="453.89" r="1.05" fill="#5bc5e6"/>
<circle cx="519.34" cy="470.2" r="1.05" fill="#5bc5e6"/>
<circle cx="516.81" cy="461.46" r="1.05" fill="#5bc5e6"/>
<circle cx="522.06" cy="457.52" r="1.05" fill="#5bc5e6"/>
<circle cx="519.49" cy="475.6" r="1.05" fill="#5bc5e6"/>
<circle cx="523.11" cy="462.65" r="1.05" fill="#5bc5e6"/>
<circle cx="519.21" cy="467.1" r="1.05" fill="#5bc5e6"/>
<circle cx="521.91" cy="469.68" r="1.05" fill="#5bc5e6"/>
<circle cx="518.09" cy="467.37" r="1.05" fill="#5bc5e6"/>
<circle cx="516.24" cy="468.58" r="1.05" fill="#5bc5e6"/>
<circle cx="521.33" cy="475.46" r="1.05" fill="#5bc5e6"/>
<circle cx="522.02" cy="468.09" r="1.05" fill="#5bc5e6"/>
<circle cx="516.38" cy="463.87" r="1.05" fill="#5bc5e6"/>
<circle cx="524.47" cy="469.59" r="1.05" fill="#5bc5e6"/>
<circle cx="524.52" cy="468.47" r="1.05" fill="#5bc5e6"/>
<circle cx="516.99" cy="467.81" r="1.05" fill="#5bc5e6"/>
<circle cx="516.67" cy="470.16" r="1.05" fill="#5bc5e6"/>
<circle cx="521.73" cy="466.31" r="1.05" fill="#5bc5e6"/>
<circle cx="516.72" cy="461.52" r="1.05" fill="#5bc5e6"/>
<circle cx="521.11" cy="455.8" r="1.05" fill="#5bc5e6"/>
<circle cx="520.14" cy="469.77" r="1.05" fill="#5bc5e6"/>
<circle cx="522.34" cy="460.77" r="1.05" fill="#5bc5e6"/>
<circle cx="521.23" cy="466.4" r="1.05" fill="#5bc5e6"/>
<circle cx="521.91" cy="471.76" r="1.05" fill="#5bc5e6"/>
<circle cx="522.78" cy="459.39" r="1.05" fill="#5bc5e6"/>
<circle cx="521.12" cy="470.69" r="1.05" fill="#5bc5e6"/>
<circle cx="521.21" cy="460.42" r="1.05" fill="#5bc5e6"/>
<circle cx="519.3" cy="458.61" r="1.05" fill="#5bc5e6"/>
<circle cx="516.87" cy="468.75" r="1.05" fill="#5bc5e6"/>
<circle cx="516.2" cy="468.2" r="1.05" fill="#5bc5e6"/>
<circle cx="522.8" cy="458.89" r="1.05" fill="#5bc5e6"/>
<circle cx="516.76" cy="465.19" r="1.05" fill="#5bc5e6"/>
<circle cx="519.71" cy="468.9" r="1.05" fill="#5bc5e6"/>
<circle cx="519.4" cy="457.95" r="1.05" fill="#5bc5e6"/>
<circle cx="521.46" cy="469.34" r="1.05" fill="#5bc5e6"/>
<circle cx="520.64" cy="459.22" r="1.05" fill="#5bc5e6"/>
<circle cx="524.52" cy="462.77" r="1.05" fill="#5bc5e6"/>
<line x1="514.4" y1="464.9" x2="526.4" y2="464.9" stroke="#111" stroke-width="1.2"/>
<line x1="520.4" y1="459.7" x2="520.4" y2="470.4" stroke="#111" stroke-width="1"/>
<line x1="517.8" y1="459.7" x2="523" y2="459.7" stroke="#111" stroke-width="1"/>
<line x1="517.8" y1="470.4" x2="523" y2="470.4" stroke="#111" stroke-width="1"/>
<text transform="translate(487.7,514.8) rotate(-45)" font-size="10.8" text-anchor="end" fill="#231f20" stroke="#231f20" stroke-width="0.22"><tspan font-style="italic">WT</tspan></text>
<text transform="translate(505.6,514.8) rotate(-45)" font-size="10.8" text-anchor="end" fill="#231f20" stroke="#231f20" stroke-width="0.22"><tspan>&#916;</tspan><tspan font-style="italic">crp</tspan></text>
<text transform="translate(523.2,514.8) rotate(-45)" font-size="10.8" text-anchor="end" fill="#231f20" stroke="#231f20" stroke-width="0.22"><tspan>&#916;</tspan><tspan font-style="italic">wzxE</tspan></text>
</svg>
</body></html>
